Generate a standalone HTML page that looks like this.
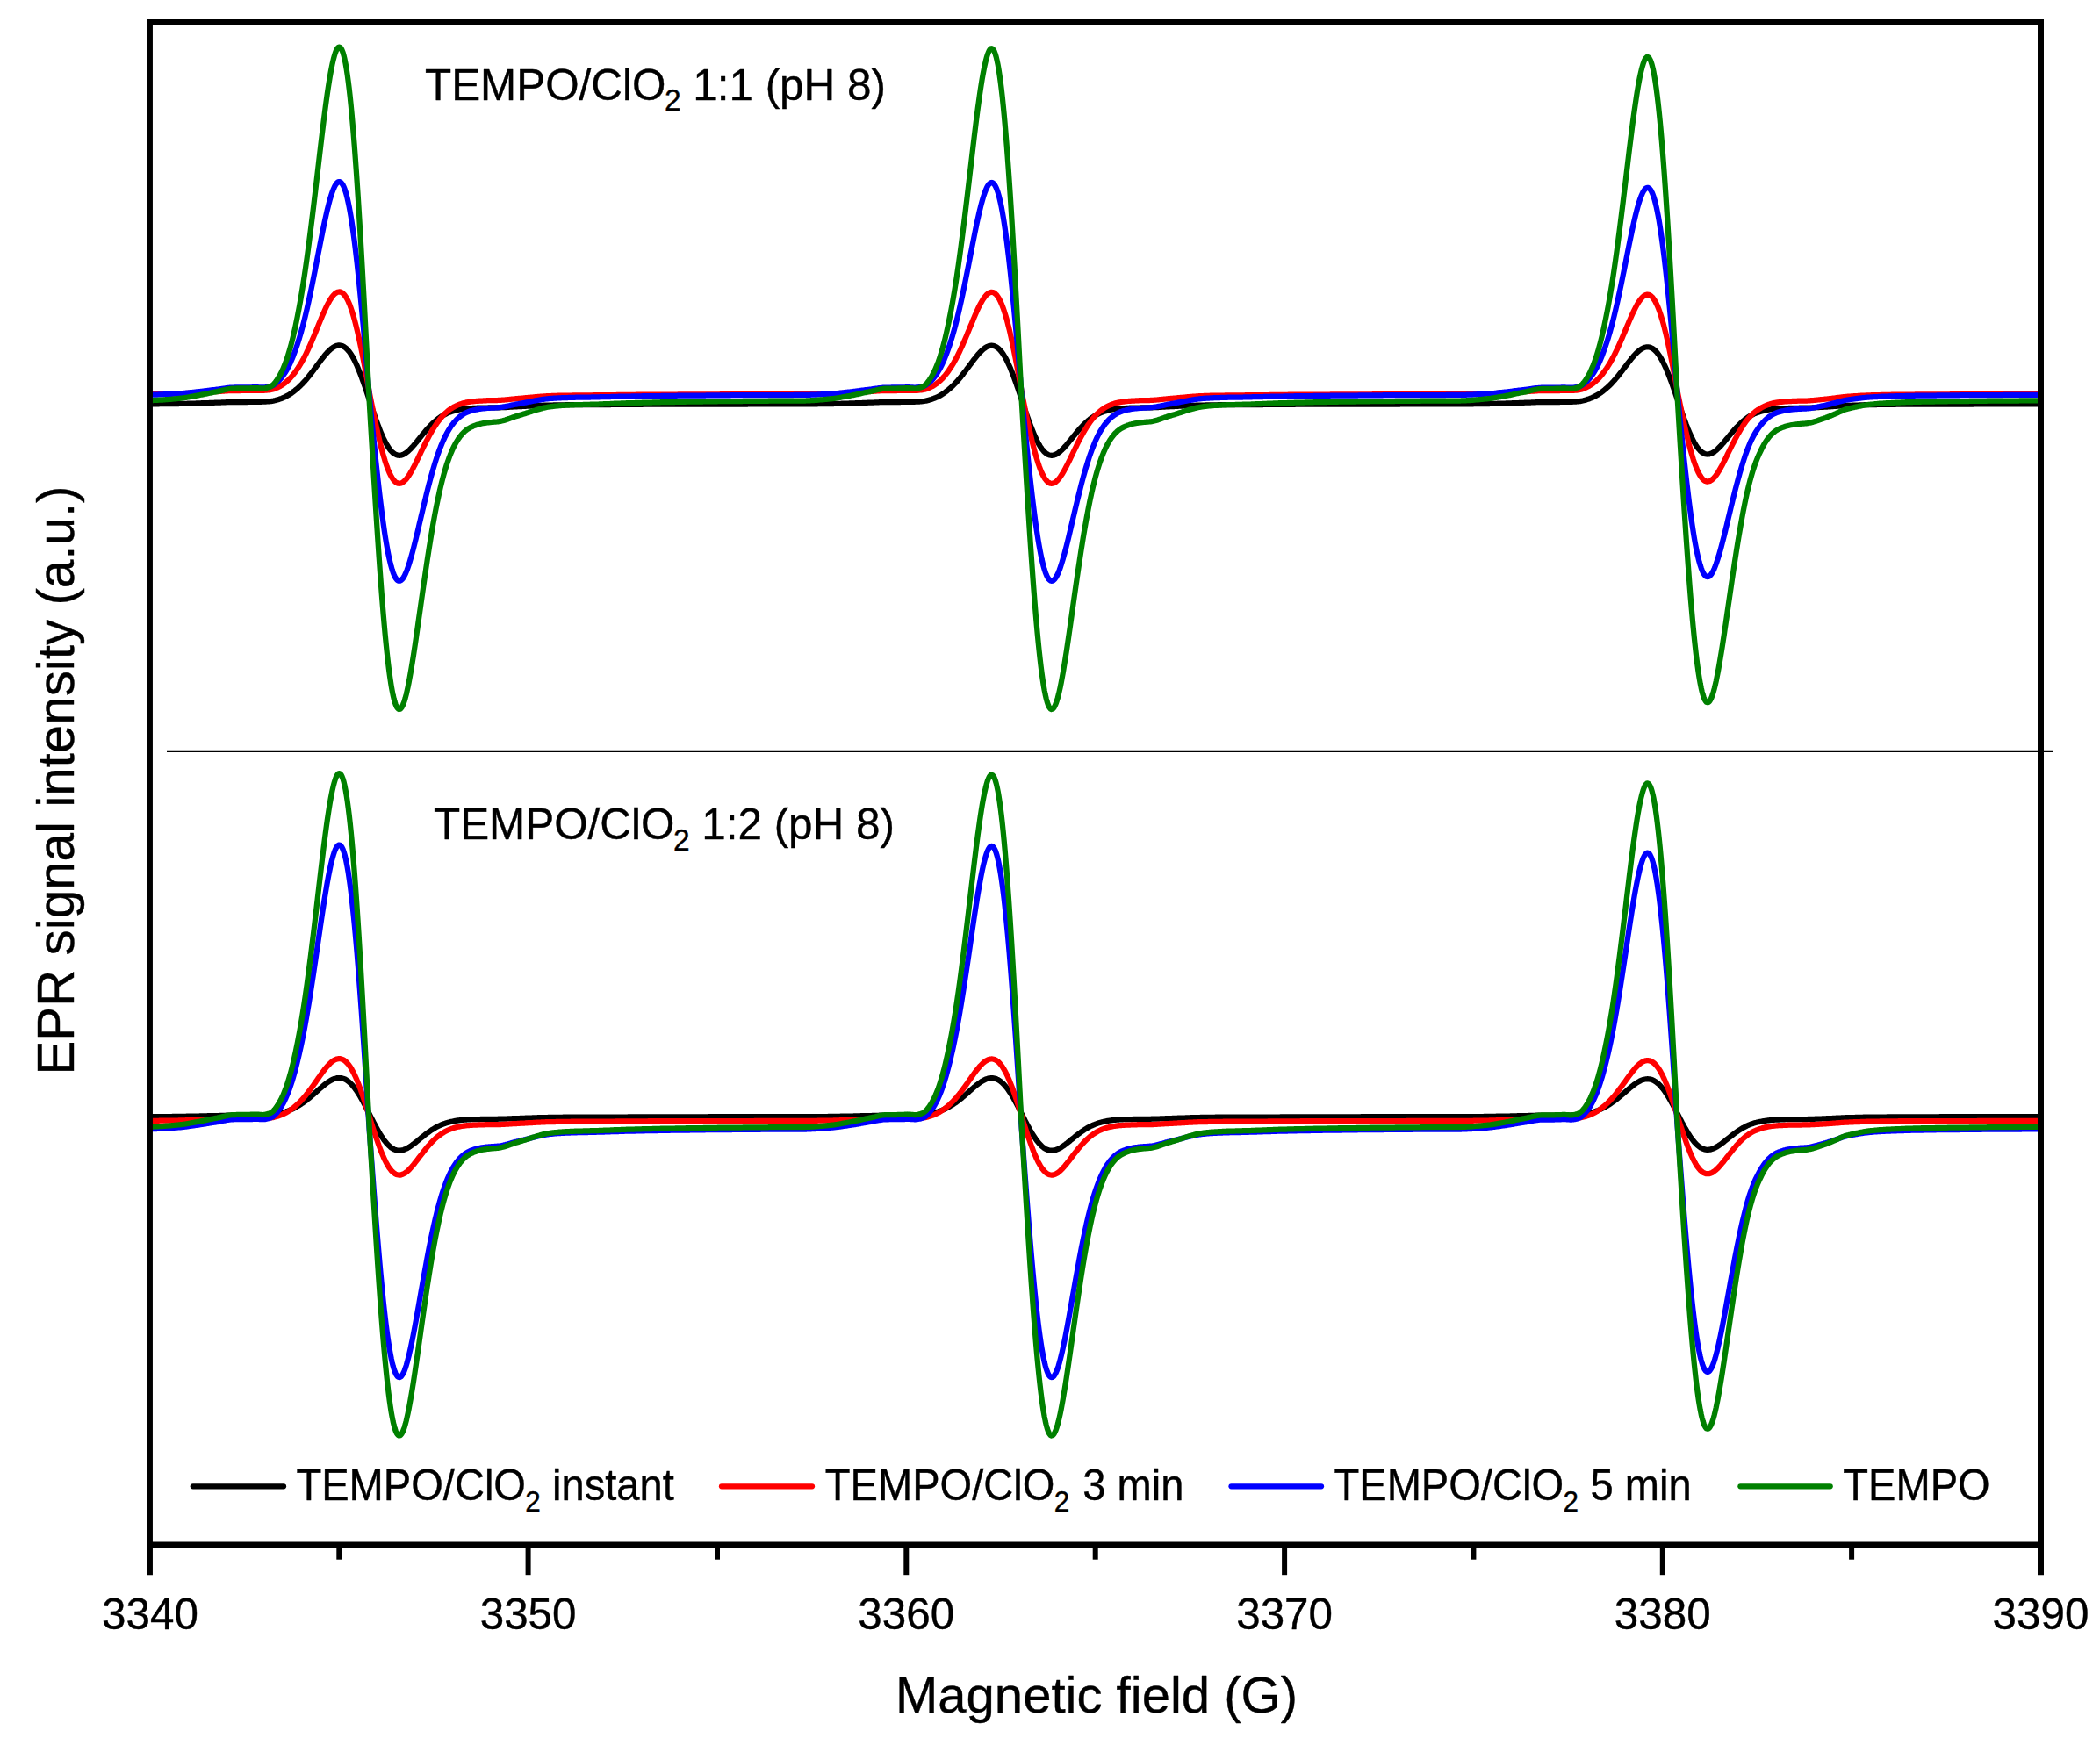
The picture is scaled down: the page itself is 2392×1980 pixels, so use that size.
<!DOCTYPE html>
<html><head><meta charset="utf-8"><title>EPR</title>
<style>html,body{margin:0;padding:0;background:#fff}svg{display:block}</style></head>
<body><svg width="2392" height="1980" viewBox="0 0 2392 1980">
<rect width="2392" height="1980" fill="#fff"/>
<g fill="none" stroke-linejoin="round" stroke-linecap="butt" stroke-width="6.25">
<path d="M170.7,460.3 L171.7,460.3 L172.7,460.3 L173.7,460.3 L174.7,460.3 L175.7,460.3 L176.7,460.3 L177.7,460.3 L178.7,460.3 L179.7,460.3 L180.7,460.3 L181.7,460.2 L182.7,460.2 L183.7,460.2 L184.7,460.2 L185.7,460.2 L186.7,460.2 L187.7,460.2 L188.7,460.2 L189.7,460.2 L190.7,460.1 L191.7,460.1 L192.7,460.1 L193.7,460.1 L194.7,460.1 L195.7,460.1 L196.7,460.1 L197.7,460.0 L198.7,460.0 L199.7,460.0 L200.7,460.0 L201.7,460.0 L202.7,460.0 L203.7,460.0 L204.7,459.9 L205.7,459.9 L206.7,459.9 L207.7,459.9 L208.7,459.9 L209.7,459.8 L210.7,459.8 L211.7,459.8 L212.7,459.8 L213.7,459.7 L214.7,459.7 L215.7,459.7 L216.7,459.6 L217.7,459.6 L218.7,459.6 L219.7,459.5 L220.7,459.5 L221.7,459.5 L222.7,459.5 L223.7,459.4 L224.7,459.4 L225.7,459.4 L226.7,459.3 L227.7,459.3 L228.7,459.3 L229.7,459.2 L230.7,459.2 L231.7,459.2 L232.7,459.1 L233.7,459.1 L234.7,459.1 L235.7,459.0 L236.7,459.0 L237.7,459.0 L238.7,458.9 L239.7,458.9 L240.7,458.9 L241.7,458.8 L242.7,458.8 L243.7,458.8 L244.7,458.7 L245.7,458.7 L246.7,458.7 L247.7,458.6 L248.7,458.6 L249.7,458.6 L250.7,458.5 L251.7,458.5 L252.7,458.4 L253.7,458.4 L254.7,458.4 L255.7,458.3 L256.7,458.3 L257.7,458.2 L258.7,458.2 L259.7,458.2 L260.7,458.1 L261.7,458.1 L262.7,458.1 L263.7,458.1 L264.7,458.1 L265.7,458.0 L266.7,458.0 L267.7,458.0 L268.7,458.0 L269.7,458.0 L270.7,458.0 L271.7,458.0 L272.7,458.0 L273.7,458.0 L274.7,458.0 L275.7,458.0 L276.7,458.0 L277.7,458.0 L278.7,458.0 L279.7,458.0 L280.7,458.0 L281.7,458.0 L282.7,457.9 L283.7,457.9 L284.7,457.9 L285.7,457.9 L286.7,457.9 L287.7,457.9 L288.7,457.8 L289.7,457.8 L290.7,457.8 L291.7,457.8 L292.7,457.8 L293.7,457.8 L294.7,457.8 L295.7,457.8 L296.7,457.8 L297.7,457.8 L298.7,457.7 L299.7,457.7 L300.7,457.7 L301.7,457.6 L302.7,457.6 L303.7,457.5 L304.7,457.4 L305.7,457.4 L306.7,457.3 L307.7,457.2 L308.7,457.1 L309.7,456.9 L310.7,456.8 L311.7,456.6 L312.7,456.3 L313.7,456.1 L314.7,455.8 L315.7,455.5 L316.7,455.2 L317.7,454.9 L318.7,454.6 L319.7,454.2 L320.7,453.9 L321.7,453.5 L322.7,453.0 L323.7,452.6 L324.7,452.1 L325.7,451.6 L326.7,451.1 L327.7,450.5 L328.7,450.0 L329.7,449.4 L330.7,448.7 L331.7,448.1 L332.7,447.4 L333.7,446.6 L334.7,445.9 L335.7,445.1 L336.7,444.3 L337.7,443.4 L338.7,442.6 L339.7,441.7 L340.7,440.8 L341.7,439.8 L342.7,438.9 L343.7,437.9 L344.7,436.8 L345.7,435.8 L346.7,434.7 L347.7,433.6 L348.7,432.4 L349.7,431.2 L350.7,430.0 L351.7,428.8 L352.7,427.5 L353.7,426.2 L354.7,425.0 L355.7,423.6 L356.7,422.3 L357.7,421.0 L358.7,419.6 L359.7,418.3 L360.7,416.9 L361.7,415.6 L362.7,414.2 L363.7,412.9 L364.7,411.5 L365.7,410.2 L366.7,408.9 L367.7,407.6 L368.7,406.4 L369.7,405.1 L370.7,403.9 L371.7,402.8 L372.7,401.7 L373.7,400.6 L374.7,399.6 L375.7,398.7 L376.7,397.8 L377.7,397.0 L378.7,396.3 L379.7,395.6 L380.7,395.0 L381.7,394.5 L382.7,394.1 L383.7,393.8 L384.7,393.6 L385.7,393.4 L386.7,393.4 L387.7,393.5 L388.7,393.7 L389.7,394.0 L390.7,394.4 L391.7,395.0 L392.7,395.6 L393.7,396.4 L394.7,397.2 L395.7,398.2 L396.7,399.4 L397.7,400.6 L398.7,401.9 L399.7,403.4 L400.7,405.0 L401.7,406.7 L402.7,408.5 L403.7,410.4 L404.7,412.5 L405.7,414.6 L406.7,416.8 L407.7,419.2 L408.7,421.6 L409.7,424.1 L410.7,426.7 L411.7,429.3 L412.7,432.1 L413.7,434.8 L414.7,437.7 L415.7,440.6 L416.7,443.6 L417.7,446.5 L418.7,449.6 L419.7,452.6 L420.7,455.7 L421.7,458.8 L422.7,461.8 L423.7,464.7 L424.7,467.7 L425.7,470.6 L426.7,473.5 L427.7,476.3 L428.7,479.2 L429.7,481.9 L430.7,484.6 L431.7,487.2 L432.7,489.8 L433.7,492.3 L434.7,494.7 L435.7,497.0 L436.7,499.2 L437.7,501.3 L438.7,503.2 L439.7,505.1 L440.7,506.9 L441.7,508.5 L442.7,510.1 L443.7,511.5 L444.7,512.8 L445.7,513.9 L446.7,515.0 L447.7,515.9 L448.7,516.6 L449.7,517.3 L450.7,517.8 L451.7,518.3 L452.7,518.6 L453.7,518.7 L454.7,518.8 L455.7,518.8 L456.7,518.6 L457.7,518.4 L458.7,518.0 L459.7,517.6 L460.7,517.0 L461.7,516.4 L462.7,515.7 L463.7,515.0 L464.7,514.1 L465.7,513.2 L466.7,512.3 L467.7,511.3 L468.7,510.2 L469.7,509.1 L470.7,508.0 L471.7,506.8 L472.7,505.7 L473.7,504.4 L474.7,503.2 L475.7,502.0 L476.7,500.7 L477.7,499.5 L478.7,498.2 L479.7,497.0 L480.7,495.8 L481.7,494.6 L482.7,493.4 L483.7,492.2 L484.7,491.0 L485.7,489.8 L486.7,488.7 L487.7,487.6 L488.7,486.5 L489.7,485.4 L490.7,484.4 L491.7,483.4 L492.7,482.4 L493.7,481.5 L494.7,480.6 L495.7,479.7 L496.7,478.9 L497.7,478.0 L498.7,477.3 L499.7,476.5 L500.7,475.8 L501.7,475.1 L502.7,474.4 L503.7,473.8 L504.7,473.2 L505.7,472.7 L506.7,472.1 L507.7,471.6 L508.7,471.1 L509.7,470.7 L510.7,470.2 L511.7,469.8 L512.7,469.5 L513.7,469.1 L514.7,468.8 L515.7,468.4 L516.7,468.1 L517.7,467.9 L518.7,467.6 L519.7,467.3 L520.7,467.1 L521.7,466.9 L522.7,466.7 L523.7,466.5 L524.7,466.3 L525.7,466.2 L526.7,466.0 L527.7,465.9 L528.7,465.7 L529.7,465.6 L530.7,465.5 L531.7,465.4 L532.7,465.3 L533.7,465.3 L534.7,465.2 L535.7,465.1 L536.7,465.1 L537.7,465.0 L538.7,464.9 L539.7,464.9 L540.7,464.9 L541.7,464.8 L542.7,464.8 L543.7,464.7 L544.7,464.7 L545.7,464.7 L546.7,464.6 L547.7,464.6 L548.7,464.6 L549.7,464.6 L550.7,464.5 L551.7,464.5 L552.7,464.5 L553.7,464.5 L554.7,464.5 L555.7,464.5 L556.7,464.4 L557.7,464.4 L558.7,464.4 L559.7,464.4 L560.7,464.4 L561.7,464.4 L562.7,464.4 L563.7,464.4 L564.7,464.4 L565.7,464.3 L566.7,464.3 L567.7,464.3 L568.7,464.3 L569.7,464.3 L570.7,464.2 L571.7,464.2 L572.7,464.2 L573.7,464.1 L574.7,464.1 L575.7,464.0 L576.7,464.0 L577.7,463.9 L578.7,463.8 L579.7,463.8 L580.7,463.7 L581.7,463.7 L582.7,463.6 L583.7,463.6 L584.7,463.5 L585.7,463.4 L586.7,463.4 L587.7,463.3 L588.7,463.3 L589.7,463.2 L590.7,463.2 L591.7,463.1 L592.7,463.1 L593.7,463.0 L594.7,463.0 L595.7,462.9 L596.7,462.9 L597.7,462.8 L598.7,462.8 L599.7,462.7 L600.7,462.7 L601.7,462.6 L602.7,462.6 L603.7,462.5 L604.7,462.5 L605.7,462.4 L606.7,462.3 L607.7,462.3 L608.7,462.2 L609.7,462.2 L610.7,462.1 L611.7,462.1 L612.7,462.0 L613.7,462.0 L614.7,461.9 L615.7,461.9 L616.7,461.9 L617.7,461.8 L618.7,461.8 L619.7,461.7 L620.7,461.7 L621.7,461.7 L622.7,461.6 L623.7,461.6 L624.7,461.6 L625.7,461.5 L626.7,461.5 L627.7,461.5 L628.7,461.5 L629.7,461.5 L630.7,461.4 L631.7,461.4 L632.7,461.4 L633.7,461.4 L634.7,461.4 L635.7,461.3 L636.7,461.3 L637.7,461.3 L638.7,461.3 L639.7,461.3 L640.7,461.3 L641.7,461.3 L642.7,461.3 L643.7,461.3 L644.7,461.2 L645.7,461.2 L646.7,461.2 L647.7,461.2 L648.7,461.2 L649.7,461.2 L650.7,461.2 L651.7,461.2 L652.7,461.2 L653.7,461.2 L654.7,461.2 L655.7,461.2 L656.7,461.2 L657.7,461.2 L658.7,461.1 L659.7,461.1 L660.7,461.1 L661.7,461.1 L662.7,461.1 L663.7,461.1 L664.7,461.1 L665.7,461.1 L666.7,461.1 L667.7,461.1 L668.7,461.1 L669.7,461.1 L670.7,461.1 L671.7,461.1 L672.7,461.1 L673.7,461.1 L674.7,461.1 L675.7,461.1 L676.7,461.1 L677.7,461.1 L678.7,461.1 L679.7,461.1 L680.7,461.0 L681.7,461.0 L682.7,461.0 L683.7,461.0 L684.7,461.0 L685.7,461.0 L686.7,461.0 L687.7,461.0 L688.7,461.0 L689.7,461.0 L690.7,461.0 L691.7,461.0 L692.7,461.0 L693.7,461.0 L694.7,461.0 L695.7,461.0 L696.7,460.9 L697.7,460.9 L698.7,460.9 L699.7,460.9 L700.7,460.9 L701.7,460.9 L702.7,460.9 L703.7,460.9 L704.7,460.9 L705.7,460.9 L706.7,460.9 L707.7,460.9 L708.7,460.9 L709.7,460.9 L710.7,460.9 L711.7,460.8 L712.7,460.8 L713.7,460.8 L714.7,460.8 L715.7,460.8 L716.7,460.8 L717.7,460.8 L718.7,460.8 L719.7,460.8 L720.7,460.8 L721.7,460.8 L722.7,460.8 L723.7,460.8 L724.7,460.8 L725.7,460.8 L726.7,460.8 L727.7,460.8 L728.7,460.8 L729.7,460.8 L730.7,460.8 L731.7,460.8 L732.7,460.7 L733.7,460.7 L734.7,460.7 L735.7,460.7 L736.7,460.7 L737.7,460.7 L738.7,460.7 L739.7,460.7 L740.7,460.7 L741.7,460.7 L742.7,460.7 L743.7,460.7 L744.7,460.7 L745.7,460.7 L746.7,460.7 L747.7,460.7 L748.7,460.7 L749.7,460.7 L750.7,460.7 L751.7,460.7 L752.7,460.7 L753.7,460.7 L754.7,460.7 L755.7,460.7 L756.7,460.7 L757.7,460.7 L758.7,460.7 L759.7,460.7 L760.7,460.6 L761.7,460.6 L762.7,460.6 L763.7,460.6 L764.7,460.6 L765.7,460.6 L766.7,460.6 L767.7,460.6 L768.7,460.6 L769.7,460.6 L770.7,460.6 L771.7,460.6 L772.7,460.6 L773.7,460.6 L774.7,460.6 L775.7,460.6 L776.7,460.6 L777.7,460.6 L778.7,460.6 L779.7,460.6 L780.7,460.6 L781.7,460.6 L782.7,460.6 L783.7,460.6 L784.7,460.6 L785.7,460.6 L786.7,460.6 L787.7,460.6 L788.7,460.6 L789.7,460.6 L790.7,460.6 L791.7,460.6 L792.7,460.6 L793.7,460.6 L794.7,460.6 L795.7,460.6 L796.7,460.6 L797.7,460.5 L798.7,460.5 L799.7,460.5 L800.7,460.5 L801.7,460.5 L802.7,460.5 L803.7,460.5 L804.7,460.5 L805.7,460.5 L806.7,460.5 L807.7,460.5 L808.7,460.5 L809.7,460.5 L810.7,460.5 L811.7,460.5 L812.7,460.5 L813.7,460.5 L814.7,460.5 L815.7,460.5 L816.7,460.5 L817.7,460.5 L818.7,460.5 L819.7,460.5 L820.7,460.5 L821.7,460.5 L822.7,460.5 L823.7,460.5 L824.7,460.5 L825.7,460.5 L826.7,460.5 L827.7,460.5 L828.7,460.5 L829.7,460.5 L830.7,460.5 L831.7,460.5 L832.7,460.5 L833.7,460.5 L834.7,460.5 L835.7,460.5 L836.7,460.5 L837.7,460.5 L838.7,460.5 L839.7,460.5 L840.7,460.5 L841.7,460.5 L842.7,460.5 L843.7,460.5 L844.7,460.5 L845.7,460.5 L846.7,460.5 L847.7,460.5 L848.7,460.5 L849.7,460.5 L850.7,460.5 L851.7,460.5 L852.7,460.4 L853.7,460.4 L854.7,460.4 L855.7,460.4 L856.7,460.4 L857.7,460.4 L858.7,460.4 L859.7,460.4 L860.7,460.4 L861.7,460.4 L862.7,460.4 L863.7,460.4 L864.7,460.4 L865.7,460.4 L866.7,460.4 L867.7,460.4 L868.7,460.4 L869.7,460.4 L870.7,460.4 L871.7,460.4 L872.7,460.4 L873.7,460.4 L874.7,460.4 L875.7,460.4 L876.7,460.4 L877.7,460.4 L878.7,460.4 L879.7,460.4 L880.7,460.4 L881.7,460.4 L882.7,460.4 L883.7,460.4 L884.7,460.4 L885.7,460.4 L886.7,460.4 L887.7,460.4 L888.7,460.4 L889.7,460.4 L890.7,460.4 L891.7,460.4 L892.7,460.4 L893.7,460.4 L894.7,460.4 L895.7,460.4 L896.7,460.4 L897.7,460.4 L898.7,460.4 L899.7,460.4 L900.7,460.4 L901.7,460.4 L902.7,460.4 L903.7,460.4 L904.7,460.4 L905.7,460.4 L906.7,460.4 L907.7,460.4 L908.7,460.4 L909.7,460.4 L910.7,460.4 L911.7,460.4 L912.7,460.4 L913.7,460.4 L914.7,460.4 L915.7,460.4 L916.7,460.4 L917.7,460.4 L918.7,460.4 L919.7,460.4 L920.7,460.4 L921.7,460.4 L922.7,460.3 L923.7,460.3 L924.7,460.3 L925.7,460.3 L926.7,460.3 L927.7,460.3 L928.7,460.3 L929.7,460.3 L930.7,460.3 L931.7,460.2 L932.7,460.2 L933.7,460.2 L934.7,460.2 L935.7,460.2 L936.7,460.2 L937.7,460.2 L938.7,460.1 L939.7,460.1 L940.7,460.1 L941.7,460.1 L942.7,460.1 L943.7,460.1 L944.7,460.1 L945.7,460.0 L946.7,460.0 L947.7,460.0 L948.7,460.0 L949.7,460.0 L950.7,459.9 L951.7,459.9 L952.7,459.9 L953.7,459.9 L954.7,459.8 L955.7,459.8 L956.7,459.8 L957.7,459.8 L958.7,459.7 L959.7,459.7 L960.7,459.7 L961.7,459.6 L962.7,459.6 L963.7,459.6 L964.7,459.5 L965.7,459.5 L966.7,459.5 L967.7,459.4 L968.7,459.4 L969.7,459.4 L970.7,459.4 L971.7,459.3 L972.7,459.3 L973.7,459.3 L974.7,459.2 L975.7,459.2 L976.7,459.2 L977.7,459.1 L978.7,459.1 L979.7,459.1 L980.7,459.0 L981.7,459.0 L982.7,458.9 L983.7,458.9 L984.7,458.9 L985.7,458.8 L986.7,458.8 L987.7,458.8 L988.7,458.7 L989.7,458.7 L990.7,458.7 L991.7,458.6 L992.7,458.6 L993.7,458.5 L994.7,458.5 L995.7,458.5 L996.7,458.4 L997.7,458.4 L998.7,458.3 L999.7,458.3 L1000.7,458.3 L1001.7,458.2 L1002.7,458.2 L1003.7,458.2 L1004.7,458.1 L1005.7,458.1 L1006.7,458.1 L1007.7,458.1 L1008.7,458.1 L1009.7,458.0 L1010.7,458.0 L1011.7,458.0 L1012.7,458.0 L1013.7,458.0 L1014.7,458.0 L1015.7,458.0 L1016.7,458.0 L1017.7,458.0 L1018.7,458.0 L1019.7,458.0 L1020.7,458.0 L1021.7,458.0 L1022.7,458.0 L1023.7,458.0 L1024.7,458.0 L1025.7,458.0 L1026.7,457.9 L1027.7,457.9 L1028.7,457.9 L1029.7,457.9 L1030.7,457.9 L1031.7,457.9 L1032.7,457.8 L1033.7,457.8 L1034.7,457.8 L1035.7,457.8 L1036.7,457.8 L1037.7,457.8 L1038.7,457.8 L1039.7,457.8 L1040.7,457.8 L1041.7,457.8 L1042.7,457.7 L1043.7,457.7 L1044.7,457.7 L1045.7,457.6 L1046.7,457.5 L1047.7,457.5 L1048.7,457.4 L1049.7,457.3 L1050.7,457.2 L1051.7,457.1 L1052.7,457.0 L1053.7,456.8 L1054.7,456.6 L1055.7,456.4 L1056.7,456.1 L1057.7,455.9 L1058.7,455.6 L1059.7,455.3 L1060.7,455.0 L1061.7,454.6 L1062.7,454.3 L1063.7,453.9 L1064.7,453.5 L1065.7,453.1 L1066.7,452.7 L1067.7,452.2 L1068.7,451.7 L1069.7,451.2 L1070.7,450.6 L1071.7,450.1 L1072.7,449.5 L1073.7,448.8 L1074.7,448.2 L1075.7,447.5 L1076.7,446.8 L1077.7,446.0 L1078.7,445.2 L1079.7,444.4 L1080.7,443.6 L1081.7,442.7 L1082.7,441.9 L1083.7,441.0 L1084.7,440.0 L1085.7,439.1 L1086.7,438.1 L1087.7,437.0 L1088.7,436.0 L1089.7,434.9 L1090.7,433.8 L1091.7,432.6 L1092.7,431.5 L1093.7,430.3 L1094.7,429.0 L1095.7,427.8 L1096.7,426.5 L1097.7,425.2 L1098.7,423.9 L1099.7,422.6 L1100.7,421.3 L1101.7,419.9 L1102.7,418.6 L1103.7,417.3 L1104.7,415.9 L1105.7,414.6 L1106.7,413.2 L1107.7,411.9 L1108.7,410.5 L1109.7,409.2 L1110.7,408.0 L1111.7,406.7 L1112.7,405.5 L1113.7,404.3 L1114.7,403.1 L1115.7,402.0 L1116.7,401.0 L1117.7,400.0 L1118.7,399.0 L1119.7,398.1 L1120.7,397.3 L1121.7,396.6 L1122.7,395.9 L1123.7,395.3 L1124.7,394.8 L1125.7,394.4 L1126.7,394.1 L1127.7,393.9 L1128.7,393.7 L1129.7,393.7 L1130.7,393.8 L1131.7,393.9 L1132.7,394.2 L1133.7,394.6 L1134.7,395.2 L1135.7,395.8 L1136.7,396.5 L1137.7,397.4 L1138.7,398.4 L1139.7,399.5 L1140.7,400.7 L1141.7,402.0 L1142.7,403.5 L1143.7,405.1 L1144.7,406.7 L1145.7,408.5 L1146.7,410.4 L1147.7,412.5 L1148.7,414.6 L1149.7,416.8 L1150.7,419.1 L1151.7,421.5 L1152.7,424.0 L1153.7,426.5 L1154.7,429.2 L1155.7,431.9 L1156.7,434.7 L1157.7,437.5 L1158.7,440.4 L1159.7,443.3 L1160.7,446.3 L1161.7,449.3 L1162.7,452.3 L1163.7,455.4 L1164.7,458.5 L1165.7,461.5 L1166.7,464.4 L1167.7,467.4 L1168.7,470.3 L1169.7,473.2 L1170.7,476.1 L1171.7,478.9 L1172.7,481.6 L1173.7,484.3 L1174.7,487.0 L1175.7,489.5 L1176.7,492.0 L1177.7,494.4 L1178.7,496.7 L1179.7,498.9 L1180.7,501.1 L1181.7,503.1 L1182.7,504.9 L1183.7,506.7 L1184.7,508.4 L1185.7,509.9 L1186.7,511.3 L1187.7,512.6 L1188.7,513.8 L1189.7,514.9 L1190.7,515.8 L1191.7,516.6 L1192.7,517.2 L1193.7,517.8 L1194.7,518.2 L1195.7,518.5 L1196.7,518.7 L1197.7,518.8 L1198.7,518.8 L1199.7,518.6 L1200.7,518.4 L1201.7,518.1 L1202.7,517.6 L1203.7,517.1 L1204.7,516.5 L1205.7,515.8 L1206.7,515.0 L1207.7,514.2 L1208.7,513.3 L1209.7,512.4 L1210.7,511.4 L1211.7,510.3 L1212.7,509.2 L1213.7,508.1 L1214.7,507.0 L1215.7,505.8 L1216.7,504.6 L1217.7,503.3 L1218.7,502.1 L1219.7,500.9 L1220.7,499.6 L1221.7,498.4 L1222.7,497.1 L1223.7,495.9 L1224.7,494.7 L1225.7,493.5 L1226.7,492.3 L1227.7,491.1 L1228.7,489.9 L1229.7,488.8 L1230.7,487.7 L1231.7,486.6 L1232.7,485.5 L1233.7,484.5 L1234.7,483.5 L1235.7,482.5 L1236.7,481.6 L1237.7,480.7 L1238.7,479.8 L1239.7,478.9 L1240.7,478.1 L1241.7,477.3 L1242.7,476.6 L1243.7,475.9 L1244.7,475.2 L1245.7,474.5 L1246.7,473.9 L1247.7,473.3 L1248.7,472.7 L1249.7,472.2 L1250.7,471.7 L1251.7,471.2 L1252.7,470.7 L1253.7,470.3 L1254.7,469.9 L1255.7,469.5 L1256.7,469.1 L1257.7,468.8 L1258.7,468.5 L1259.7,468.2 L1260.7,467.9 L1261.7,467.6 L1262.7,467.4 L1263.7,467.1 L1264.7,466.9 L1265.7,466.7 L1266.7,466.5 L1267.7,466.3 L1268.7,466.2 L1269.7,466.0 L1270.7,465.9 L1271.7,465.8 L1272.7,465.6 L1273.7,465.5 L1274.7,465.4 L1275.7,465.3 L1276.7,465.3 L1277.7,465.2 L1278.7,465.1 L1279.7,465.1 L1280.7,465.0 L1281.7,465.0 L1282.7,464.9 L1283.7,464.9 L1284.7,464.8 L1285.7,464.8 L1286.7,464.7 L1287.7,464.7 L1288.7,464.7 L1289.7,464.6 L1290.7,464.6 L1291.7,464.6 L1292.7,464.6 L1293.7,464.5 L1294.7,464.5 L1295.7,464.5 L1296.7,464.5 L1297.7,464.5 L1298.7,464.5 L1299.7,464.4 L1300.7,464.4 L1301.7,464.4 L1302.7,464.4 L1303.7,464.4 L1304.7,464.4 L1305.7,464.4 L1306.7,464.4 L1307.7,464.4 L1308.7,464.3 L1309.7,464.3 L1310.7,464.3 L1311.7,464.3 L1312.7,464.3 L1313.7,464.2 L1314.7,464.2 L1315.7,464.2 L1316.7,464.1 L1317.7,464.1 L1318.7,464.0 L1319.7,464.0 L1320.7,463.9 L1321.7,463.9 L1322.7,463.8 L1323.7,463.7 L1324.7,463.7 L1325.7,463.6 L1326.7,463.6 L1327.7,463.5 L1328.7,463.4 L1329.7,463.4 L1330.7,463.3 L1331.7,463.3 L1332.7,463.2 L1333.7,463.2 L1334.7,463.1 L1335.7,463.1 L1336.7,463.0 L1337.7,463.0 L1338.7,462.9 L1339.7,462.9 L1340.7,462.8 L1341.7,462.8 L1342.7,462.7 L1343.7,462.7 L1344.7,462.6 L1345.7,462.6 L1346.7,462.5 L1347.7,462.5 L1348.7,462.4 L1349.7,462.4 L1350.7,462.3 L1351.7,462.2 L1352.7,462.2 L1353.7,462.1 L1354.7,462.1 L1355.7,462.0 L1356.7,462.0 L1357.7,462.0 L1358.7,461.9 L1359.7,461.9 L1360.7,461.8 L1361.7,461.8 L1362.7,461.7 L1363.7,461.7 L1364.7,461.7 L1365.7,461.6 L1366.7,461.6 L1367.7,461.6 L1368.7,461.5 L1369.7,461.5 L1370.7,461.5 L1371.7,461.5 L1372.7,461.5 L1373.7,461.4 L1374.7,461.4 L1375.7,461.4 L1376.7,461.4 L1377.7,461.4 L1378.7,461.3 L1379.7,461.3 L1380.7,461.3 L1381.7,461.3 L1382.7,461.3 L1383.7,461.3 L1384.7,461.3 L1385.7,461.3 L1386.7,461.3 L1387.7,461.2 L1388.7,461.2 L1389.7,461.2 L1390.7,461.2 L1391.7,461.2 L1392.7,461.2 L1393.7,461.2 L1394.7,461.2 L1395.7,461.2 L1396.7,461.2 L1397.7,461.2 L1398.7,461.2 L1399.7,461.2 L1400.7,461.2 L1401.7,461.1 L1402.7,461.1 L1403.7,461.1 L1404.7,461.1 L1405.7,461.1 L1406.7,461.1 L1407.7,461.1 L1408.7,461.1 L1409.7,461.1 L1410.7,461.1 L1411.7,461.1 L1412.7,461.1 L1413.7,461.1 L1414.7,461.1 L1415.7,461.1 L1416.7,461.1 L1417.7,461.1 L1418.7,461.1 L1419.7,461.1 L1420.7,461.1 L1421.7,461.1 L1422.7,461.1 L1423.7,461.0 L1424.7,461.0 L1425.7,461.0 L1426.7,461.0 L1427.7,461.0 L1428.7,461.0 L1429.7,461.0 L1430.7,461.0 L1431.7,461.0 L1432.7,461.0 L1433.7,461.0 L1434.7,461.0 L1435.7,461.0 L1436.7,461.0 L1437.7,461.0 L1438.7,461.0 L1439.7,460.9 L1440.7,460.9 L1441.7,460.9 L1442.7,460.9 L1443.7,460.9 L1444.7,460.9 L1445.7,460.9 L1446.7,460.9 L1447.7,460.9 L1448.7,460.9 L1449.7,460.9 L1450.7,460.9 L1451.7,460.9 L1452.7,460.9 L1453.7,460.9 L1454.7,460.8 L1455.7,460.8 L1456.7,460.8 L1457.7,460.8 L1458.7,460.8 L1459.7,460.8 L1460.7,460.8 L1461.7,460.8 L1462.7,460.8 L1463.7,460.8 L1464.7,460.8 L1465.7,460.8 L1466.7,460.8 L1467.7,460.8 L1468.7,460.8 L1469.7,460.8 L1470.7,460.8 L1471.7,460.8 L1472.7,460.8 L1473.7,460.8 L1474.7,460.8 L1475.7,460.7 L1476.7,460.7 L1477.7,460.7 L1478.7,460.7 L1479.7,460.7 L1480.7,460.7 L1481.7,460.7 L1482.7,460.7 L1483.7,460.7 L1484.7,460.7 L1485.7,460.7 L1486.7,460.7 L1487.7,460.7 L1488.7,460.7 L1489.7,460.7 L1490.7,460.7 L1491.7,460.7 L1492.7,460.7 L1493.7,460.7 L1494.7,460.7 L1495.7,460.7 L1496.7,460.7 L1497.7,460.7 L1498.7,460.7 L1499.7,460.7 L1500.7,460.7 L1501.7,460.7 L1502.7,460.7 L1503.7,460.6 L1504.7,460.6 L1505.7,460.6 L1506.7,460.6 L1507.7,460.6 L1508.7,460.6 L1509.7,460.6 L1510.7,460.6 L1511.7,460.6 L1512.7,460.6 L1513.7,460.6 L1514.7,460.6 L1515.7,460.6 L1516.7,460.6 L1517.7,460.6 L1518.7,460.6 L1519.7,460.6 L1520.7,460.6 L1521.7,460.6 L1522.7,460.6 L1523.7,460.6 L1524.7,460.6 L1525.7,460.6 L1526.7,460.6 L1527.7,460.6 L1528.7,460.6 L1529.7,460.6 L1530.7,460.6 L1531.7,460.6 L1532.7,460.6 L1533.7,460.6 L1534.7,460.6 L1535.7,460.6 L1536.7,460.6 L1537.7,460.6 L1538.7,460.6 L1539.7,460.6 L1540.7,460.5 L1541.7,460.5 L1542.7,460.5 L1543.7,460.5 L1544.7,460.5 L1545.7,460.5 L1546.7,460.5 L1547.7,460.5 L1548.7,460.5 L1549.7,460.5 L1550.7,460.5 L1551.7,460.5 L1552.7,460.5 L1553.7,460.5 L1554.7,460.5 L1555.7,460.5 L1556.7,460.5 L1557.7,460.5 L1558.7,460.5 L1559.7,460.5 L1560.7,460.5 L1561.7,460.5 L1562.7,460.5 L1563.7,460.5 L1564.7,460.5 L1565.7,460.5 L1566.7,460.5 L1567.7,460.5 L1568.7,460.5 L1569.7,460.5 L1570.7,460.5 L1571.7,460.5 L1572.7,460.5 L1573.7,460.5 L1574.7,460.5 L1575.7,460.5 L1576.7,460.5 L1577.7,460.5 L1578.7,460.5 L1579.7,460.5 L1580.7,460.5 L1581.7,460.5 L1582.7,460.5 L1583.7,460.5 L1584.7,460.5 L1585.7,460.5 L1586.7,460.5 L1587.7,460.5 L1588.7,460.5 L1589.7,460.5 L1590.7,460.5 L1591.7,460.5 L1592.7,460.5 L1593.7,460.5 L1594.7,460.5 L1595.7,460.4 L1596.7,460.4 L1597.7,460.4 L1598.7,460.4 L1599.7,460.4 L1600.7,460.4 L1601.7,460.4 L1602.7,460.4 L1603.7,460.4 L1604.7,460.4 L1605.7,460.4 L1606.7,460.4 L1607.7,460.4 L1608.7,460.4 L1609.7,460.4 L1610.7,460.4 L1611.7,460.4 L1612.7,460.4 L1613.7,460.4 L1614.7,460.4 L1615.7,460.4 L1616.7,460.4 L1617.7,460.4 L1618.7,460.4 L1619.7,460.4 L1620.7,460.4 L1621.7,460.4 L1622.7,460.4 L1623.7,460.4 L1624.7,460.4 L1625.7,460.4 L1626.7,460.4 L1627.7,460.4 L1628.7,460.4 L1629.7,460.4 L1630.7,460.4 L1631.7,460.4 L1632.7,460.4 L1633.7,460.4 L1634.7,460.4 L1635.7,460.4 L1636.7,460.4 L1637.7,460.4 L1638.7,460.4 L1639.7,460.4 L1640.7,460.4 L1641.7,460.4 L1642.7,460.4 L1643.7,460.4 L1644.7,460.4 L1645.7,460.4 L1646.7,460.4 L1647.7,460.4 L1648.7,460.4 L1649.7,460.4 L1650.7,460.4 L1651.7,460.4 L1652.7,460.4 L1653.7,460.4 L1654.7,460.4 L1655.7,460.4 L1656.7,460.4 L1657.7,460.4 L1658.7,460.4 L1659.7,460.4 L1660.7,460.4 L1661.7,460.4 L1662.7,460.4 L1663.7,460.4 L1664.7,460.4 L1665.7,460.4 L1666.7,460.4 L1667.7,460.4 L1668.7,460.4 L1669.7,460.3 L1670.7,460.3 L1671.7,460.3 L1672.7,460.3 L1673.7,460.3 L1674.7,460.3 L1675.7,460.3 L1676.7,460.3 L1677.7,460.3 L1678.7,460.2 L1679.7,460.2 L1680.7,460.2 L1681.7,460.2 L1682.7,460.2 L1683.7,460.2 L1684.7,460.2 L1685.7,460.1 L1686.7,460.1 L1687.7,460.1 L1688.7,460.1 L1689.7,460.1 L1690.7,460.1 L1691.7,460.1 L1692.7,460.0 L1693.7,460.0 L1694.7,460.0 L1695.7,460.0 L1696.7,460.0 L1697.7,459.9 L1698.7,459.9 L1699.7,459.9 L1700.7,459.9 L1701.7,459.8 L1702.7,459.8 L1703.7,459.8 L1704.7,459.8 L1705.7,459.7 L1706.7,459.7 L1707.7,459.7 L1708.7,459.6 L1709.7,459.6 L1710.7,459.6 L1711.7,459.6 L1712.7,459.5 L1713.7,459.5 L1714.7,459.5 L1715.7,459.4 L1716.7,459.4 L1717.7,459.4 L1718.7,459.3 L1719.7,459.3 L1720.7,459.3 L1721.7,459.3 L1722.7,459.2 L1723.7,459.2 L1724.7,459.1 L1725.7,459.1 L1726.7,459.1 L1727.7,459.0 L1728.7,459.0 L1729.7,459.0 L1730.7,458.9 L1731.7,458.9 L1732.7,458.9 L1733.7,458.8 L1734.7,458.8 L1735.7,458.8 L1736.7,458.7 L1737.7,458.7 L1738.7,458.7 L1739.7,458.6 L1740.7,458.6 L1741.7,458.5 L1742.7,458.5 L1743.7,458.5 L1744.7,458.4 L1745.7,458.4 L1746.7,458.4 L1747.7,458.3 L1748.7,458.3 L1749.7,458.2 L1750.7,458.2 L1751.7,458.2 L1752.7,458.2 L1753.7,458.1 L1754.7,458.1 L1755.7,458.1 L1756.7,458.1 L1757.7,458.1 L1758.7,458.1 L1759.7,458.1 L1760.7,458.1 L1761.7,458.1 L1762.7,458.1 L1763.7,458.1 L1764.7,458.1 L1765.7,458.1 L1766.7,458.1 L1767.7,458.1 L1768.7,458.0 L1769.7,458.0 L1770.7,458.0 L1771.7,458.0 L1772.7,458.0 L1773.7,458.0 L1774.7,458.0 L1775.7,458.0 L1776.7,458.0 L1777.7,457.9 L1778.7,457.9 L1779.7,457.9 L1780.7,457.9 L1781.7,457.9 L1782.7,457.9 L1783.7,457.9 L1784.7,457.9 L1785.7,457.8 L1786.7,457.8 L1787.7,457.8 L1788.7,457.8 L1789.7,457.8 L1790.7,457.8 L1791.7,457.7 L1792.7,457.7 L1793.7,457.6 L1794.7,457.5 L1795.7,457.5 L1796.7,457.4 L1797.7,457.3 L1798.7,457.2 L1799.7,457.1 L1800.7,456.9 L1801.7,456.7 L1802.7,456.5 L1803.7,456.3 L1804.7,456.0 L1805.7,455.7 L1806.7,455.4 L1807.7,455.1 L1808.7,454.8 L1809.7,454.5 L1810.7,454.1 L1811.7,453.7 L1812.7,453.3 L1813.7,452.9 L1814.7,452.4 L1815.7,452.0 L1816.7,451.4 L1817.7,450.9 L1818.7,450.4 L1819.7,449.8 L1820.7,449.2 L1821.7,448.5 L1822.7,447.9 L1823.7,447.2 L1824.7,446.4 L1825.7,445.7 L1826.7,444.9 L1827.7,444.1 L1828.7,443.3 L1829.7,442.4 L1830.7,441.5 L1831.7,440.6 L1832.7,439.7 L1833.7,438.7 L1834.7,437.7 L1835.7,436.7 L1836.7,435.6 L1837.7,434.5 L1838.7,433.4 L1839.7,432.3 L1840.7,431.1 L1841.7,429.9 L1842.7,428.7 L1843.7,427.5 L1844.7,426.2 L1845.7,424.9 L1846.7,423.6 L1847.7,422.4 L1848.7,421.0 L1849.7,419.7 L1850.7,418.4 L1851.7,417.1 L1852.7,415.8 L1853.7,414.5 L1854.7,413.2 L1855.7,411.9 L1856.7,410.6 L1857.7,409.3 L1858.7,408.1 L1859.7,406.9 L1860.7,405.7 L1861.7,404.6 L1862.7,403.5 L1863.7,402.5 L1864.7,401.5 L1865.7,400.6 L1866.7,399.7 L1867.7,398.9 L1868.7,398.2 L1869.7,397.5 L1870.7,397.0 L1871.7,396.5 L1872.7,396.0 L1873.7,395.7 L1874.7,395.5 L1875.7,395.3 L1876.7,395.3 L1877.7,395.4 L1878.7,395.5 L1879.7,395.8 L1880.7,396.2 L1881.7,396.7 L1882.7,397.3 L1883.7,398.0 L1884.7,398.8 L1885.7,399.8 L1886.7,400.8 L1887.7,402.0 L1888.7,403.3 L1889.7,404.7 L1890.7,406.2 L1891.7,407.9 L1892.7,409.6 L1893.7,411.5 L1894.7,413.4 L1895.7,415.5 L1896.7,417.6 L1897.7,419.8 L1898.7,422.2 L1899.7,424.6 L1900.7,427.1 L1901.7,429.7 L1902.7,432.3 L1903.7,435.0 L1904.7,437.8 L1905.7,440.6 L1906.7,443.5 L1907.7,446.3 L1908.7,449.3 L1909.7,452.2 L1910.7,455.2 L1911.7,458.2 L1912.7,461.2 L1913.7,464.1 L1914.7,466.9 L1915.7,469.8 L1916.7,472.6 L1917.7,475.4 L1918.7,478.2 L1919.7,480.9 L1920.7,483.6 L1921.7,486.1 L1922.7,488.7 L1923.7,491.1 L1924.7,493.4 L1925.7,495.7 L1926.7,497.9 L1927.7,500.0 L1928.7,501.9 L1929.7,503.8 L1930.7,505.5 L1931.7,507.2 L1932.7,508.7 L1933.7,510.1 L1934.7,511.4 L1935.7,512.5 L1936.7,513.6 L1937.7,514.5 L1938.7,515.3 L1939.7,515.9 L1940.7,516.5 L1941.7,516.9 L1942.7,517.2 L1943.7,517.4 L1944.7,517.5 L1945.7,517.5 L1946.7,517.4 L1947.7,517.1 L1948.7,516.8 L1949.7,516.4 L1950.7,515.9 L1951.7,515.3 L1952.7,514.7 L1953.7,513.9 L1954.7,513.1 L1955.7,512.2 L1956.7,511.3 L1957.7,510.3 L1958.7,509.3 L1959.7,508.3 L1960.7,507.2 L1961.7,506.0 L1962.7,504.9 L1963.7,503.7 L1964.7,502.5 L1965.7,501.3 L1966.7,500.1 L1967.7,498.9 L1968.7,497.7 L1969.7,496.4 L1970.7,495.2 L1971.7,494.1 L1972.7,492.9 L1973.7,491.7 L1974.7,490.5 L1975.7,489.4 L1976.7,488.3 L1977.7,487.2 L1978.7,486.1 L1979.7,485.1 L1980.7,484.1 L1981.7,483.1 L1982.7,482.1 L1983.7,481.2 L1984.7,480.3 L1985.7,479.4 L1986.7,478.6 L1987.7,477.8 L1988.7,477.0 L1989.7,476.3 L1990.7,475.6 L1991.7,474.9 L1992.7,474.3 L1993.7,473.7 L1994.7,473.1 L1995.7,472.6 L1996.7,472.1 L1997.7,471.6 L1998.7,471.2 L1999.7,470.8 L2000.7,470.4 L2001.7,470.0 L2002.7,469.7 L2003.7,469.4 L2004.7,469.0 L2005.7,468.7 L2006.7,468.4 L2007.7,468.2 L2008.7,467.9 L2009.7,467.7 L2010.7,467.4 L2011.7,467.2 L2012.7,467.0 L2013.7,466.8 L2014.7,466.7 L2015.7,466.5 L2016.7,466.3 L2017.7,466.2 L2018.7,466.1 L2019.7,466.0 L2020.7,465.8 L2021.7,465.7 L2022.7,465.7 L2023.7,465.6 L2024.7,465.5 L2025.7,465.4 L2026.7,465.4 L2027.7,465.3 L2028.7,465.3 L2029.7,465.2 L2030.7,465.2 L2031.7,465.1 L2032.7,465.1 L2033.7,465.1 L2034.7,465.0 L2035.7,465.0 L2036.7,465.0 L2037.7,464.9 L2038.7,464.9 L2039.7,464.9 L2040.7,464.9 L2041.7,464.9 L2042.7,464.8 L2043.7,464.8 L2044.7,464.8 L2045.7,464.8 L2046.7,464.8 L2047.7,464.8 L2048.7,464.8 L2049.7,464.7 L2050.7,464.7 L2051.7,464.7 L2052.7,464.7 L2053.7,464.7 L2054.7,464.7 L2055.7,464.7 L2056.7,464.7 L2057.7,464.7 L2058.7,464.6 L2059.7,464.6 L2060.7,464.6 L2061.7,464.5 L2062.7,464.5 L2063.7,464.5 L2064.7,464.4 L2065.7,464.4 L2066.7,464.3 L2067.7,464.3 L2068.7,464.2 L2069.7,464.2 L2070.7,464.1 L2071.7,464.1 L2072.7,464.0 L2073.7,463.9 L2074.7,463.9 L2075.7,463.8 L2076.7,463.8 L2077.7,463.7 L2078.7,463.7 L2079.7,463.6 L2080.7,463.5 L2081.7,463.5 L2082.7,463.4 L2083.7,463.3 L2084.7,463.3 L2085.7,463.2 L2086.7,463.1 L2087.7,463.1 L2088.7,463.0 L2089.7,462.9 L2090.7,462.8 L2091.7,462.8 L2092.7,462.7 L2093.7,462.6 L2094.7,462.5 L2095.7,462.5 L2096.7,462.4 L2097.7,462.3 L2098.7,462.2 L2099.7,462.2 L2100.7,462.1 L2101.7,462.1 L2102.7,462.0 L2103.7,462.0 L2104.7,461.9 L2105.7,461.9 L2106.7,461.8 L2107.7,461.8 L2108.7,461.8 L2109.7,461.7 L2110.7,461.7 L2111.7,461.6 L2112.7,461.6 L2113.7,461.6 L2114.7,461.5 L2115.7,461.5 L2116.7,461.5 L2117.7,461.4 L2118.7,461.4 L2119.7,461.4 L2120.7,461.3 L2121.7,461.3 L2122.7,461.3 L2123.7,461.2 L2124.7,461.2 L2125.7,461.2 L2126.7,461.2 L2127.7,461.1 L2128.7,461.1 L2129.7,461.1 L2130.7,461.1 L2131.7,461.1 L2132.7,461.0 L2133.7,461.0 L2134.7,461.0 L2135.7,461.0 L2136.7,461.0 L2137.7,461.0 L2138.7,460.9 L2139.7,460.9 L2140.7,460.9 L2141.7,460.9 L2142.7,460.9 L2143.7,460.9 L2144.7,460.9 L2145.7,460.9 L2146.7,460.9 L2147.7,460.8 L2148.7,460.8 L2149.7,460.8 L2150.7,460.8 L2151.7,460.8 L2152.7,460.8 L2153.7,460.8 L2154.7,460.8 L2155.7,460.8 L2156.7,460.8 L2157.7,460.8 L2158.7,460.8 L2159.7,460.7 L2160.7,460.7 L2161.7,460.7 L2162.7,460.7 L2163.7,460.7 L2164.7,460.7 L2165.7,460.7 L2166.7,460.7 L2167.7,460.7 L2168.7,460.7 L2169.7,460.7 L2170.7,460.7 L2171.7,460.7 L2172.7,460.7 L2173.7,460.7 L2174.7,460.6 L2175.7,460.6 L2176.7,460.6 L2177.7,460.6 L2178.7,460.6 L2179.7,460.6 L2180.7,460.6 L2181.7,460.6 L2182.7,460.6 L2183.7,460.6 L2184.7,460.6 L2185.7,460.6 L2186.7,460.6 L2187.7,460.6 L2188.7,460.6 L2189.7,460.6 L2190.7,460.6 L2191.7,460.6 L2192.7,460.6 L2193.7,460.6 L2194.7,460.6 L2195.7,460.6 L2196.7,460.6 L2197.7,460.6 L2198.7,460.6 L2199.7,460.6 L2200.7,460.6 L2201.7,460.5 L2202.7,460.5 L2203.7,460.5 L2204.7,460.5 L2205.7,460.5 L2206.7,460.5 L2207.7,460.5 L2208.7,460.5 L2209.7,460.5 L2210.7,460.5 L2211.7,460.5 L2212.7,460.5 L2213.7,460.5 L2214.7,460.5 L2215.7,460.5 L2216.7,460.5 L2217.7,460.5 L2218.7,460.5 L2219.7,460.5 L2220.7,460.5 L2221.7,460.5 L2222.7,460.5 L2223.7,460.5 L2224.7,460.5 L2225.7,460.5 L2226.7,460.5 L2227.7,460.5 L2228.7,460.5 L2229.7,460.5 L2230.7,460.5 L2231.7,460.5 L2232.7,460.5 L2233.7,460.5 L2234.7,460.5 L2235.7,460.5 L2236.7,460.5 L2237.7,460.5 L2238.7,460.5 L2239.7,460.5 L2240.7,460.5 L2241.7,460.5 L2242.7,460.5 L2243.7,460.5 L2244.7,460.5 L2245.7,460.5 L2246.7,460.5 L2247.7,460.5 L2248.7,460.4 L2249.7,460.4 L2250.7,460.4 L2251.7,460.4 L2252.7,460.4 L2253.7,460.4 L2254.7,460.4 L2255.7,460.4 L2256.7,460.4 L2257.7,460.4 L2258.7,460.4 L2259.7,460.4 L2260.7,460.4 L2261.7,460.4 L2262.7,460.4 L2263.7,460.4 L2264.7,460.4 L2265.7,460.4 L2266.7,460.4 L2267.7,460.4 L2268.7,460.4 L2269.7,460.4 L2270.7,460.4 L2271.7,460.4 L2272.7,460.4 L2273.7,460.4 L2274.7,460.4 L2275.7,460.4 L2276.7,460.4 L2277.7,460.4 L2278.7,460.4 L2279.7,460.4 L2280.7,460.4 L2281.7,460.4 L2282.7,460.4 L2283.7,460.4 L2284.7,460.4 L2285.7,460.4 L2286.7,460.4 L2287.7,460.4 L2288.7,460.4 L2289.7,460.4 L2290.7,460.4 L2291.7,460.4 L2292.7,460.4 L2293.7,460.4 L2294.7,460.4 L2295.7,460.4 L2296.7,460.4 L2297.7,460.4 L2298.7,460.4 L2299.7,460.4 L2300.7,460.4 L2301.7,460.4 L2302.7,460.4 L2303.7,460.4 L2304.7,460.4 L2305.7,460.4 L2306.7,460.4 L2307.7,460.4 L2308.7,460.4 L2309.7,460.4 L2310.7,460.4 L2311.7,460.4 L2312.7,460.4 L2313.7,460.4 L2314.7,460.4 L2315.7,460.4 L2316.7,460.4 L2317.7,460.4 L2318.7,460.4 L2319.7,460.4 L2320.7,460.4 L2321.7,460.4 L2322.7,460.4 L2323.7,460.4" stroke="#000000"/>
<path d="M170.7,448.9 L171.7,448.9 L172.7,448.9 L173.7,448.9 L174.7,448.9 L175.7,448.9 L176.7,448.9 L177.7,448.9 L178.7,448.9 L179.7,448.8 L180.7,448.8 L181.7,448.8 L182.7,448.8 L183.7,448.8 L184.7,448.8 L185.7,448.7 L186.7,448.7 L187.7,448.7 L188.7,448.7 L189.7,448.7 L190.7,448.6 L191.7,448.6 L192.7,448.6 L193.7,448.6 L194.7,448.5 L195.7,448.5 L196.7,448.5 L197.7,448.5 L198.7,448.4 L199.7,448.4 L200.7,448.4 L201.7,448.4 L202.7,448.3 L203.7,448.3 L204.7,448.3 L205.7,448.2 L206.7,448.2 L207.7,448.2 L208.7,448.1 L209.7,448.1 L210.7,448.0 L211.7,448.0 L212.7,447.9 L213.7,447.9 L214.7,447.8 L215.7,447.8 L216.7,447.7 L217.7,447.7 L218.7,447.6 L219.7,447.6 L220.7,447.5 L221.7,447.5 L222.7,447.4 L223.7,447.4 L224.7,447.3 L225.7,447.3 L226.7,447.2 L227.7,447.2 L228.7,447.1 L229.7,447.1 L230.7,447.0 L231.7,446.9 L232.7,446.9 L233.7,446.8 L234.7,446.8 L235.7,446.7 L236.7,446.7 L237.7,446.6 L238.7,446.5 L239.7,446.5 L240.7,446.4 L241.7,446.4 L242.7,446.3 L243.7,446.2 L244.7,446.2 L245.7,446.1 L246.7,446.1 L247.7,446.0 L248.7,446.0 L249.7,445.9 L250.7,445.8 L251.7,445.8 L252.7,445.7 L253.7,445.6 L254.7,445.5 L255.7,445.5 L256.7,445.4 L257.7,445.3 L258.7,445.3 L259.7,445.2 L260.7,445.2 L261.7,445.1 L262.7,445.1 L263.7,445.0 L264.7,445.0 L265.7,445.0 L266.7,445.0 L267.7,445.0 L268.7,445.0 L269.7,445.0 L270.7,445.0 L271.7,445.0 L272.7,445.0 L273.7,445.0 L274.7,444.9 L275.7,444.9 L276.7,444.9 L277.7,444.9 L278.7,444.9 L279.7,444.9 L280.7,444.9 L281.7,444.9 L282.7,444.9 L283.7,444.9 L284.7,444.9 L285.7,444.9 L286.7,444.8 L287.7,444.8 L288.7,444.8 L289.7,444.8 L290.7,444.8 L291.7,444.8 L292.7,444.8 L293.7,444.8 L294.7,444.8 L295.7,444.8 L296.7,444.8 L297.7,444.8 L298.7,444.8 L299.7,444.8 L300.7,444.8 L301.7,444.7 L302.7,444.7 L303.7,444.6 L304.7,444.5 L305.7,444.4 L306.7,444.3 L307.7,444.2 L308.7,444.0 L309.7,443.8 L310.7,443.5 L311.7,443.2 L312.7,442.9 L313.7,442.5 L314.7,442.1 L315.7,441.7 L316.7,441.2 L317.7,440.7 L318.7,440.2 L319.7,439.6 L320.7,439.0 L321.7,438.4 L322.7,437.7 L323.7,437.0 L324.7,436.2 L325.7,435.4 L326.7,434.5 L327.7,433.6 L328.7,432.7 L329.7,431.7 L330.7,430.6 L331.7,429.5 L332.7,428.4 L333.7,427.2 L334.7,425.9 L335.7,424.6 L336.7,423.2 L337.7,421.8 L338.7,420.4 L339.7,418.8 L340.7,417.3 L341.7,415.7 L342.7,414.0 L343.7,412.3 L344.7,410.5 L345.7,408.7 L346.7,406.8 L347.7,404.8 L348.7,402.8 L349.7,400.7 L350.7,398.6 L351.7,396.4 L352.7,394.2 L353.7,391.9 L354.7,389.7 L355.7,387.3 L356.7,385.0 L357.7,382.6 L358.7,380.2 L359.7,377.8 L360.7,375.3 L361.7,372.9 L362.7,370.4 L363.7,368.0 L364.7,365.6 L365.7,363.2 L366.7,360.8 L367.7,358.4 L368.7,356.2 L369.7,353.9 L370.7,351.7 L371.7,349.6 L372.7,347.6 L373.7,345.7 L374.7,343.9 L375.7,342.1 L376.7,340.5 L377.7,339.0 L378.7,337.7 L379.7,336.4 L380.7,335.4 L381.7,334.4 L382.7,333.7 L383.7,333.1 L384.7,332.7 L385.7,332.5 L386.7,332.4 L387.7,332.6 L388.7,332.9 L389.7,333.5 L390.7,334.3 L391.7,335.2 L392.7,336.4 L393.7,337.9 L394.7,339.5 L395.7,341.4 L396.7,343.4 L397.7,345.7 L398.7,348.2 L399.7,351.0 L400.7,353.9 L401.7,357.1 L402.7,360.4 L403.7,364.0 L404.7,367.7 L405.7,371.7 L406.7,375.8 L407.7,380.1 L408.7,384.5 L409.7,389.1 L410.7,393.9 L411.7,398.7 L412.7,403.7 L413.7,408.9 L414.7,414.1 L415.7,419.4 L416.7,424.7 L417.7,430.2 L418.7,435.6 L419.7,441.2 L420.7,446.7 L421.7,451.9 L422.7,456.9 L423.7,461.8 L424.7,466.7 L425.7,471.6 L426.7,476.4 L427.7,481.2 L428.7,485.8 L429.7,490.4 L430.7,494.9 L431.7,499.2 L432.7,503.4 L433.7,507.5 L434.7,511.4 L435.7,515.2 L436.7,518.8 L437.7,522.2 L438.7,525.5 L439.7,528.5 L440.7,531.4 L441.7,534.1 L442.7,536.6 L443.7,538.9 L444.7,541.0 L445.7,542.9 L446.7,544.5 L447.7,546.0 L448.7,547.3 L449.7,548.4 L450.7,549.2 L451.7,549.9 L452.7,550.4 L453.7,550.7 L454.7,550.8 L455.7,550.7 L456.7,550.5 L457.7,550.1 L458.7,549.5 L459.7,548.8 L460.7,547.9 L461.7,546.9 L462.7,545.8 L463.7,544.5 L464.7,543.2 L465.7,541.7 L466.7,540.1 L467.7,538.4 L468.7,536.7 L469.7,534.9 L470.7,533.0 L471.7,531.1 L472.7,529.2 L473.7,527.2 L474.7,525.1 L475.7,523.0 L476.7,521.0 L477.7,518.9 L478.7,516.8 L479.7,514.7 L480.7,512.6 L481.7,510.6 L482.7,508.5 L483.7,506.5 L484.7,504.5 L485.7,502.5 L486.7,500.6 L487.7,498.7 L488.7,496.8 L489.7,495.0 L490.7,493.2 L491.7,491.4 L492.7,489.7 L493.7,488.1 L494.7,486.5 L495.7,485.0 L496.7,483.5 L497.7,482.0 L498.7,480.6 L499.7,479.3 L500.7,478.0 L501.7,476.7 L502.7,475.6 L503.7,474.4 L504.7,473.3 L505.7,472.3 L506.7,471.3 L507.7,470.4 L508.7,469.5 L509.7,468.6 L510.7,467.8 L511.7,467.0 L512.7,466.3 L513.7,465.6 L514.7,465.0 L515.7,464.4 L516.7,463.8 L517.7,463.2 L518.7,462.7 L519.7,462.2 L520.7,461.8 L521.7,461.3 L522.7,460.9 L523.7,460.6 L524.7,460.2 L525.7,459.9 L526.7,459.6 L527.7,459.3 L528.7,459.0 L529.7,458.8 L530.7,458.6 L531.7,458.3 L532.7,458.2 L533.7,458.0 L534.7,457.8 L535.7,457.7 L536.7,457.5 L537.7,457.4 L538.7,457.3 L539.7,457.2 L540.7,457.1 L541.7,457.0 L542.7,456.9 L543.7,456.8 L544.7,456.8 L545.7,456.7 L546.7,456.6 L547.7,456.6 L548.7,456.5 L549.7,456.5 L550.7,456.4 L551.7,456.4 L552.7,456.3 L553.7,456.3 L554.7,456.2 L555.7,456.2 L556.7,456.2 L557.7,456.2 L558.7,456.1 L559.7,456.1 L560.7,456.1 L561.7,456.1 L562.7,456.0 L563.7,456.0 L564.7,456.0 L565.7,456.0 L566.7,456.0 L567.7,455.9 L568.7,455.9 L569.7,455.8 L570.7,455.8 L571.7,455.7 L572.7,455.6 L573.7,455.5 L574.7,455.5 L575.7,455.4 L576.7,455.3 L577.7,455.2 L578.7,455.1 L579.7,455.0 L580.7,454.9 L581.7,454.8 L582.7,454.7 L583.7,454.6 L584.7,454.5 L585.7,454.4 L586.7,454.3 L587.7,454.2 L588.7,454.1 L589.7,454.0 L590.7,453.9 L591.7,453.8 L592.7,453.8 L593.7,453.7 L594.7,453.6 L595.7,453.5 L596.7,453.4 L597.7,453.3 L598.7,453.2 L599.7,453.1 L600.7,453.0 L601.7,452.9 L602.7,452.8 L603.7,452.8 L604.7,452.7 L605.7,452.6 L606.7,452.5 L607.7,452.4 L608.7,452.3 L609.7,452.2 L610.7,452.1 L611.7,452.0 L612.7,451.9 L613.7,451.9 L614.7,451.8 L615.7,451.7 L616.7,451.6 L617.7,451.5 L618.7,451.5 L619.7,451.4 L620.7,451.3 L621.7,451.3 L622.7,451.2 L623.7,451.2 L624.7,451.1 L625.7,451.1 L626.7,451.0 L627.7,451.0 L628.7,450.9 L629.7,450.9 L630.7,450.9 L631.7,450.8 L632.7,450.8 L633.7,450.8 L634.7,450.8 L635.7,450.7 L636.7,450.7 L637.7,450.7 L638.7,450.7 L639.7,450.6 L640.7,450.6 L641.7,450.6 L642.7,450.6 L643.7,450.6 L644.7,450.5 L645.7,450.5 L646.7,450.5 L647.7,450.5 L648.7,450.5 L649.7,450.5 L650.7,450.5 L651.7,450.5 L652.7,450.4 L653.7,450.4 L654.7,450.4 L655.7,450.4 L656.7,450.4 L657.7,450.4 L658.7,450.4 L659.7,450.4 L660.7,450.4 L661.7,450.4 L662.7,450.3 L663.7,450.3 L664.7,450.3 L665.7,450.3 L666.7,450.3 L667.7,450.3 L668.7,450.3 L669.7,450.3 L670.7,450.3 L671.7,450.3 L672.7,450.3 L673.7,450.3 L674.7,450.3 L675.7,450.2 L676.7,450.2 L677.7,450.2 L678.7,450.2 L679.7,450.2 L680.7,450.2 L681.7,450.2 L682.7,450.2 L683.7,450.2 L684.7,450.2 L685.7,450.1 L686.7,450.1 L687.7,450.1 L688.7,450.1 L689.7,450.1 L690.7,450.1 L691.7,450.1 L692.7,450.1 L693.7,450.1 L694.7,450.0 L695.7,450.0 L696.7,450.0 L697.7,450.0 L698.7,450.0 L699.7,450.0 L700.7,450.0 L701.7,450.0 L702.7,449.9 L703.7,449.9 L704.7,449.9 L705.7,449.9 L706.7,449.9 L707.7,449.9 L708.7,449.9 L709.7,449.9 L710.7,449.9 L711.7,449.9 L712.7,449.8 L713.7,449.8 L714.7,449.8 L715.7,449.8 L716.7,449.8 L717.7,449.8 L718.7,449.8 L719.7,449.8 L720.7,449.8 L721.7,449.8 L722.7,449.8 L723.7,449.8 L724.7,449.7 L725.7,449.7 L726.7,449.7 L727.7,449.7 L728.7,449.7 L729.7,449.7 L730.7,449.7 L731.7,449.7 L732.7,449.7 L733.7,449.7 L734.7,449.7 L735.7,449.7 L736.7,449.7 L737.7,449.6 L738.7,449.6 L739.7,449.6 L740.7,449.6 L741.7,449.6 L742.7,449.6 L743.7,449.6 L744.7,449.6 L745.7,449.6 L746.7,449.6 L747.7,449.6 L748.7,449.6 L749.7,449.6 L750.7,449.6 L751.7,449.6 L752.7,449.6 L753.7,449.5 L754.7,449.5 L755.7,449.5 L756.7,449.5 L757.7,449.5 L758.7,449.5 L759.7,449.5 L760.7,449.5 L761.7,449.5 L762.7,449.5 L763.7,449.5 L764.7,449.5 L765.7,449.5 L766.7,449.5 L767.7,449.5 L768.7,449.5 L769.7,449.5 L770.7,449.5 L771.7,449.5 L772.7,449.4 L773.7,449.4 L774.7,449.4 L775.7,449.4 L776.7,449.4 L777.7,449.4 L778.7,449.4 L779.7,449.4 L780.7,449.4 L781.7,449.4 L782.7,449.4 L783.7,449.4 L784.7,449.4 L785.7,449.4 L786.7,449.4 L787.7,449.4 L788.7,449.4 L789.7,449.4 L790.7,449.4 L791.7,449.4 L792.7,449.4 L793.7,449.4 L794.7,449.3 L795.7,449.3 L796.7,449.3 L797.7,449.3 L798.7,449.3 L799.7,449.3 L800.7,449.3 L801.7,449.3 L802.7,449.3 L803.7,449.3 L804.7,449.3 L805.7,449.3 L806.7,449.3 L807.7,449.3 L808.7,449.3 L809.7,449.3 L810.7,449.3 L811.7,449.3 L812.7,449.3 L813.7,449.3 L814.7,449.3 L815.7,449.3 L816.7,449.3 L817.7,449.3 L818.7,449.3 L819.7,449.3 L820.7,449.2 L821.7,449.2 L822.7,449.2 L823.7,449.2 L824.7,449.2 L825.7,449.2 L826.7,449.2 L827.7,449.2 L828.7,449.2 L829.7,449.2 L830.7,449.2 L831.7,449.2 L832.7,449.2 L833.7,449.2 L834.7,449.2 L835.7,449.2 L836.7,449.2 L837.7,449.2 L838.7,449.2 L839.7,449.2 L840.7,449.2 L841.7,449.2 L842.7,449.2 L843.7,449.2 L844.7,449.2 L845.7,449.2 L846.7,449.2 L847.7,449.2 L848.7,449.2 L849.7,449.2 L850.7,449.2 L851.7,449.2 L852.7,449.2 L853.7,449.2 L854.7,449.2 L855.7,449.2 L856.7,449.2 L857.7,449.2 L858.7,449.1 L859.7,449.1 L860.7,449.1 L861.7,449.1 L862.7,449.1 L863.7,449.1 L864.7,449.1 L865.7,449.1 L866.7,449.1 L867.7,449.1 L868.7,449.1 L869.7,449.1 L870.7,449.1 L871.7,449.1 L872.7,449.1 L873.7,449.1 L874.7,449.1 L875.7,449.1 L876.7,449.1 L877.7,449.1 L878.7,449.1 L879.7,449.1 L880.7,449.1 L881.7,449.1 L882.7,449.1 L883.7,449.1 L884.7,449.1 L885.7,449.1 L886.7,449.1 L887.7,449.1 L888.7,449.1 L889.7,449.1 L890.7,449.1 L891.7,449.1 L892.7,449.1 L893.7,449.1 L894.7,449.1 L895.7,449.1 L896.7,449.1 L897.7,449.1 L898.7,449.1 L899.7,449.1 L900.7,449.1 L901.7,449.1 L902.7,449.1 L903.7,449.1 L904.7,449.1 L905.7,449.1 L906.7,449.1 L907.7,449.1 L908.7,449.1 L909.7,449.1 L910.7,449.1 L911.7,449.1 L912.7,449.1 L913.7,449.1 L914.7,449.1 L915.7,449.0 L916.7,449.0 L917.7,449.0 L918.7,449.0 L919.7,449.0 L920.7,449.0 L921.7,449.0 L922.7,449.0 L923.7,449.0 L924.7,448.9 L925.7,448.9 L926.7,448.9 L927.7,448.9 L928.7,448.9 L929.7,448.9 L930.7,448.8 L931.7,448.8 L932.7,448.8 L933.7,448.8 L934.7,448.7 L935.7,448.7 L936.7,448.7 L937.7,448.7 L938.7,448.6 L939.7,448.6 L940.7,448.6 L941.7,448.5 L942.7,448.5 L943.7,448.5 L944.7,448.5 L945.7,448.4 L946.7,448.4 L947.7,448.4 L948.7,448.3 L949.7,448.3 L950.7,448.3 L951.7,448.2 L952.7,448.2 L953.7,448.1 L954.7,448.1 L955.7,448.0 L956.7,448.0 L957.7,447.9 L958.7,447.9 L959.7,447.8 L960.7,447.8 L961.7,447.7 L962.7,447.7 L963.7,447.6 L964.7,447.6 L965.7,447.5 L966.7,447.5 L967.7,447.4 L968.7,447.4 L969.7,447.3 L970.7,447.3 L971.7,447.2 L972.7,447.1 L973.7,447.1 L974.7,447.0 L975.7,447.0 L976.7,446.9 L977.7,446.8 L978.7,446.8 L979.7,446.7 L980.7,446.6 L981.7,446.6 L982.7,446.5 L983.7,446.4 L984.7,446.4 L985.7,446.3 L986.7,446.3 L987.7,446.2 L988.7,446.2 L989.7,446.1 L990.7,446.0 L991.7,446.0 L992.7,445.9 L993.7,445.8 L994.7,445.8 L995.7,445.7 L996.7,445.6 L997.7,445.6 L998.7,445.5 L999.7,445.4 L1000.7,445.4 L1001.7,445.3 L1002.7,445.2 L1003.7,445.2 L1004.7,445.1 L1005.7,445.1 L1006.7,445.1 L1007.7,445.0 L1008.7,445.0 L1009.7,445.0 L1010.7,445.0 L1011.7,445.0 L1012.7,445.0 L1013.7,445.0 L1014.7,445.0 L1015.7,445.0 L1016.7,445.0 L1017.7,445.0 L1018.7,445.0 L1019.7,445.0 L1020.7,445.0 L1021.7,445.0 L1022.7,444.9 L1023.7,444.9 L1024.7,444.9 L1025.7,444.9 L1026.7,444.9 L1027.7,444.9 L1028.7,444.9 L1029.7,444.9 L1030.7,444.8 L1031.7,444.8 L1032.7,444.8 L1033.7,444.8 L1034.7,444.8 L1035.7,444.8 L1036.7,444.8 L1037.7,444.8 L1038.7,444.8 L1039.7,444.8 L1040.7,444.8 L1041.7,444.8 L1042.7,444.8 L1043.7,444.8 L1044.7,444.8 L1045.7,444.7 L1046.7,444.6 L1047.7,444.5 L1048.7,444.4 L1049.7,444.3 L1050.7,444.2 L1051.7,444.0 L1052.7,443.8 L1053.7,443.6 L1054.7,443.3 L1055.7,443.0 L1056.7,442.6 L1057.7,442.2 L1058.7,441.7 L1059.7,441.3 L1060.7,440.8 L1061.7,440.3 L1062.7,439.7 L1063.7,439.1 L1064.7,438.5 L1065.7,437.8 L1066.7,437.1 L1067.7,436.3 L1068.7,435.5 L1069.7,434.7 L1070.7,433.8 L1071.7,432.9 L1072.7,431.9 L1073.7,430.8 L1074.7,429.7 L1075.7,428.6 L1076.7,427.4 L1077.7,426.1 L1078.7,424.8 L1079.7,423.5 L1080.7,422.1 L1081.7,420.6 L1082.7,419.1 L1083.7,417.6 L1084.7,416.0 L1085.7,414.3 L1086.7,412.6 L1087.7,410.8 L1088.7,409.0 L1089.7,407.1 L1090.7,405.2 L1091.7,403.2 L1092.7,401.1 L1093.7,399.0 L1094.7,396.8 L1095.7,394.6 L1096.7,392.4 L1097.7,390.1 L1098.7,387.8 L1099.7,385.5 L1100.7,383.1 L1101.7,380.7 L1102.7,378.3 L1103.7,375.9 L1104.7,373.4 L1105.7,371.0 L1106.7,368.6 L1107.7,366.2 L1108.7,363.8 L1109.7,361.4 L1110.7,359.0 L1111.7,356.8 L1112.7,354.5 L1113.7,352.3 L1114.7,350.2 L1115.7,348.2 L1116.7,346.3 L1117.7,344.5 L1118.7,342.7 L1119.7,341.1 L1120.7,339.6 L1121.7,338.2 L1122.7,337.0 L1123.7,335.9 L1124.7,335.0 L1125.7,334.2 L1126.7,333.6 L1127.7,333.2 L1128.7,332.9 L1129.7,332.9 L1130.7,333.0 L1131.7,333.3 L1132.7,333.9 L1133.7,334.6 L1134.7,335.6 L1135.7,336.8 L1136.7,338.2 L1137.7,339.8 L1138.7,341.6 L1139.7,343.6 L1140.7,345.9 L1141.7,348.4 L1142.7,351.1 L1143.7,354.0 L1144.7,357.1 L1145.7,360.4 L1146.7,363.9 L1147.7,367.7 L1148.7,371.6 L1149.7,375.6 L1150.7,379.9 L1151.7,384.3 L1152.7,388.9 L1153.7,393.6 L1154.7,398.5 L1155.7,403.4 L1156.7,408.5 L1157.7,413.7 L1158.7,419.0 L1159.7,424.3 L1160.7,429.7 L1161.7,435.2 L1162.7,440.6 L1163.7,446.1 L1164.7,451.4 L1165.7,456.4 L1166.7,461.3 L1167.7,466.3 L1168.7,471.1 L1169.7,476.0 L1170.7,480.7 L1171.7,485.4 L1172.7,489.9 L1173.7,494.4 L1174.7,498.8 L1175.7,503.0 L1176.7,507.1 L1177.7,511.0 L1178.7,514.8 L1179.7,518.4 L1180.7,521.9 L1181.7,525.1 L1182.7,528.2 L1183.7,531.1 L1184.7,533.8 L1185.7,536.4 L1186.7,538.7 L1187.7,540.8 L1188.7,542.7 L1189.7,544.4 L1190.7,545.9 L1191.7,547.2 L1192.7,548.3 L1193.7,549.2 L1194.7,549.9 L1195.7,550.4 L1196.7,550.7 L1197.7,550.8 L1198.7,550.7 L1199.7,550.5 L1200.7,550.1 L1201.7,549.6 L1202.7,548.9 L1203.7,548.0 L1204.7,547.0 L1205.7,545.9 L1206.7,544.7 L1207.7,543.3 L1208.7,541.8 L1209.7,540.3 L1210.7,538.6 L1211.7,536.9 L1212.7,535.1 L1213.7,533.2 L1214.7,531.3 L1215.7,529.4 L1216.7,527.4 L1217.7,525.3 L1218.7,523.3 L1219.7,521.2 L1220.7,519.1 L1221.7,517.0 L1222.7,514.9 L1223.7,512.9 L1224.7,510.8 L1225.7,508.8 L1226.7,506.7 L1227.7,504.7 L1228.7,502.7 L1229.7,500.8 L1230.7,498.9 L1231.7,497.0 L1232.7,495.2 L1233.7,493.4 L1234.7,491.6 L1235.7,489.9 L1236.7,488.3 L1237.7,486.7 L1238.7,485.1 L1239.7,483.6 L1240.7,482.2 L1241.7,480.8 L1242.7,479.4 L1243.7,478.1 L1244.7,476.9 L1245.7,475.7 L1246.7,474.5 L1247.7,473.4 L1248.7,472.4 L1249.7,471.4 L1250.7,470.5 L1251.7,469.6 L1252.7,468.7 L1253.7,467.9 L1254.7,467.1 L1255.7,466.4 L1256.7,465.7 L1257.7,465.0 L1258.7,464.4 L1259.7,463.8 L1260.7,463.3 L1261.7,462.8 L1262.7,462.3 L1263.7,461.8 L1264.7,461.4 L1265.7,461.0 L1266.7,460.6 L1267.7,460.2 L1268.7,459.9 L1269.7,459.6 L1270.7,459.3 L1271.7,459.0 L1272.7,458.8 L1273.7,458.6 L1274.7,458.4 L1275.7,458.2 L1276.7,458.0 L1277.7,457.8 L1278.7,457.7 L1279.7,457.6 L1280.7,457.4 L1281.7,457.3 L1282.7,457.2 L1283.7,457.1 L1284.7,457.0 L1285.7,456.9 L1286.7,456.8 L1287.7,456.8 L1288.7,456.7 L1289.7,456.6 L1290.7,456.6 L1291.7,456.5 L1292.7,456.5 L1293.7,456.4 L1294.7,456.4 L1295.7,456.3 L1296.7,456.3 L1297.7,456.2 L1298.7,456.2 L1299.7,456.2 L1300.7,456.2 L1301.7,456.1 L1302.7,456.1 L1303.7,456.1 L1304.7,456.1 L1305.7,456.0 L1306.7,456.0 L1307.7,456.0 L1308.7,456.0 L1309.7,456.0 L1310.7,455.9 L1311.7,455.9 L1312.7,455.8 L1313.7,455.8 L1314.7,455.7 L1315.7,455.6 L1316.7,455.6 L1317.7,455.5 L1318.7,455.4 L1319.7,455.3 L1320.7,455.2 L1321.7,455.1 L1322.7,455.0 L1323.7,454.9 L1324.7,454.8 L1325.7,454.7 L1326.7,454.6 L1327.7,454.5 L1328.7,454.4 L1329.7,454.3 L1330.7,454.2 L1331.7,454.1 L1332.7,454.0 L1333.7,453.9 L1334.7,453.9 L1335.7,453.8 L1336.7,453.7 L1337.7,453.6 L1338.7,453.5 L1339.7,453.4 L1340.7,453.3 L1341.7,453.2 L1342.7,453.1 L1343.7,453.0 L1344.7,452.9 L1345.7,452.9 L1346.7,452.8 L1347.7,452.7 L1348.7,452.6 L1349.7,452.5 L1350.7,452.4 L1351.7,452.3 L1352.7,452.2 L1353.7,452.1 L1354.7,452.0 L1355.7,451.9 L1356.7,451.9 L1357.7,451.8 L1358.7,451.7 L1359.7,451.6 L1360.7,451.5 L1361.7,451.5 L1362.7,451.4 L1363.7,451.3 L1364.7,451.3 L1365.7,451.2 L1366.7,451.2 L1367.7,451.1 L1368.7,451.1 L1369.7,451.0 L1370.7,451.0 L1371.7,450.9 L1372.7,450.9 L1373.7,450.9 L1374.7,450.8 L1375.7,450.8 L1376.7,450.8 L1377.7,450.8 L1378.7,450.7 L1379.7,450.7 L1380.7,450.7 L1381.7,450.7 L1382.7,450.6 L1383.7,450.6 L1384.7,450.6 L1385.7,450.6 L1386.7,450.6 L1387.7,450.5 L1388.7,450.5 L1389.7,450.5 L1390.7,450.5 L1391.7,450.5 L1392.7,450.5 L1393.7,450.5 L1394.7,450.5 L1395.7,450.4 L1396.7,450.4 L1397.7,450.4 L1398.7,450.4 L1399.7,450.4 L1400.7,450.4 L1401.7,450.4 L1402.7,450.4 L1403.7,450.4 L1404.7,450.4 L1405.7,450.3 L1406.7,450.3 L1407.7,450.3 L1408.7,450.3 L1409.7,450.3 L1410.7,450.3 L1411.7,450.3 L1412.7,450.3 L1413.7,450.3 L1414.7,450.3 L1415.7,450.3 L1416.7,450.3 L1417.7,450.3 L1418.7,450.2 L1419.7,450.2 L1420.7,450.2 L1421.7,450.2 L1422.7,450.2 L1423.7,450.2 L1424.7,450.2 L1425.7,450.2 L1426.7,450.2 L1427.7,450.2 L1428.7,450.2 L1429.7,450.1 L1430.7,450.1 L1431.7,450.1 L1432.7,450.1 L1433.7,450.1 L1434.7,450.1 L1435.7,450.1 L1436.7,450.1 L1437.7,450.0 L1438.7,450.0 L1439.7,450.0 L1440.7,450.0 L1441.7,450.0 L1442.7,450.0 L1443.7,450.0 L1444.7,450.0 L1445.7,450.0 L1446.7,449.9 L1447.7,449.9 L1448.7,449.9 L1449.7,449.9 L1450.7,449.9 L1451.7,449.9 L1452.7,449.9 L1453.7,449.9 L1454.7,449.9 L1455.7,449.8 L1456.7,449.8 L1457.7,449.8 L1458.7,449.8 L1459.7,449.8 L1460.7,449.8 L1461.7,449.8 L1462.7,449.8 L1463.7,449.8 L1464.7,449.8 L1465.7,449.8 L1466.7,449.8 L1467.7,449.7 L1468.7,449.7 L1469.7,449.7 L1470.7,449.7 L1471.7,449.7 L1472.7,449.7 L1473.7,449.7 L1474.7,449.7 L1475.7,449.7 L1476.7,449.7 L1477.7,449.7 L1478.7,449.7 L1479.7,449.7 L1480.7,449.6 L1481.7,449.6 L1482.7,449.6 L1483.7,449.6 L1484.7,449.6 L1485.7,449.6 L1486.7,449.6 L1487.7,449.6 L1488.7,449.6 L1489.7,449.6 L1490.7,449.6 L1491.7,449.6 L1492.7,449.6 L1493.7,449.6 L1494.7,449.6 L1495.7,449.6 L1496.7,449.5 L1497.7,449.5 L1498.7,449.5 L1499.7,449.5 L1500.7,449.5 L1501.7,449.5 L1502.7,449.5 L1503.7,449.5 L1504.7,449.5 L1505.7,449.5 L1506.7,449.5 L1507.7,449.5 L1508.7,449.5 L1509.7,449.5 L1510.7,449.5 L1511.7,449.5 L1512.7,449.5 L1513.7,449.5 L1514.7,449.5 L1515.7,449.4 L1516.7,449.4 L1517.7,449.4 L1518.7,449.4 L1519.7,449.4 L1520.7,449.4 L1521.7,449.4 L1522.7,449.4 L1523.7,449.4 L1524.7,449.4 L1525.7,449.4 L1526.7,449.4 L1527.7,449.4 L1528.7,449.4 L1529.7,449.4 L1530.7,449.4 L1531.7,449.4 L1532.7,449.4 L1533.7,449.4 L1534.7,449.4 L1535.7,449.4 L1536.7,449.4 L1537.7,449.3 L1538.7,449.3 L1539.7,449.3 L1540.7,449.3 L1541.7,449.3 L1542.7,449.3 L1543.7,449.3 L1544.7,449.3 L1545.7,449.3 L1546.7,449.3 L1547.7,449.3 L1548.7,449.3 L1549.7,449.3 L1550.7,449.3 L1551.7,449.3 L1552.7,449.3 L1553.7,449.3 L1554.7,449.3 L1555.7,449.3 L1556.7,449.3 L1557.7,449.3 L1558.7,449.3 L1559.7,449.3 L1560.7,449.3 L1561.7,449.3 L1562.7,449.3 L1563.7,449.2 L1564.7,449.2 L1565.7,449.2 L1566.7,449.2 L1567.7,449.2 L1568.7,449.2 L1569.7,449.2 L1570.7,449.2 L1571.7,449.2 L1572.7,449.2 L1573.7,449.2 L1574.7,449.2 L1575.7,449.2 L1576.7,449.2 L1577.7,449.2 L1578.7,449.2 L1579.7,449.2 L1580.7,449.2 L1581.7,449.2 L1582.7,449.2 L1583.7,449.2 L1584.7,449.2 L1585.7,449.2 L1586.7,449.2 L1587.7,449.2 L1588.7,449.2 L1589.7,449.2 L1590.7,449.2 L1591.7,449.2 L1592.7,449.2 L1593.7,449.2 L1594.7,449.2 L1595.7,449.2 L1596.7,449.2 L1597.7,449.2 L1598.7,449.2 L1599.7,449.2 L1600.7,449.2 L1601.7,449.1 L1602.7,449.1 L1603.7,449.1 L1604.7,449.1 L1605.7,449.1 L1606.7,449.1 L1607.7,449.1 L1608.7,449.1 L1609.7,449.1 L1610.7,449.1 L1611.7,449.1 L1612.7,449.1 L1613.7,449.1 L1614.7,449.1 L1615.7,449.1 L1616.7,449.1 L1617.7,449.1 L1618.7,449.1 L1619.7,449.1 L1620.7,449.1 L1621.7,449.1 L1622.7,449.1 L1623.7,449.1 L1624.7,449.1 L1625.7,449.1 L1626.7,449.1 L1627.7,449.1 L1628.7,449.1 L1629.7,449.1 L1630.7,449.1 L1631.7,449.1 L1632.7,449.1 L1633.7,449.1 L1634.7,449.1 L1635.7,449.1 L1636.7,449.1 L1637.7,449.1 L1638.7,449.1 L1639.7,449.1 L1640.7,449.1 L1641.7,449.1 L1642.7,449.1 L1643.7,449.1 L1644.7,449.1 L1645.7,449.1 L1646.7,449.1 L1647.7,449.1 L1648.7,449.1 L1649.7,449.1 L1650.7,449.1 L1651.7,449.1 L1652.7,449.1 L1653.7,449.1 L1654.7,449.1 L1655.7,449.1 L1656.7,449.1 L1657.7,449.1 L1658.7,449.0 L1659.7,449.0 L1660.7,449.0 L1661.7,449.0 L1662.7,449.0 L1663.7,449.0 L1664.7,449.0 L1665.7,449.0 L1666.7,449.0 L1667.7,449.0 L1668.7,449.0 L1669.7,449.0 L1670.7,449.0 L1671.7,448.9 L1672.7,448.9 L1673.7,448.9 L1674.7,448.9 L1675.7,448.9 L1676.7,448.9 L1677.7,448.8 L1678.7,448.8 L1679.7,448.8 L1680.7,448.8 L1681.7,448.7 L1682.7,448.7 L1683.7,448.7 L1684.7,448.7 L1685.7,448.6 L1686.7,448.6 L1687.7,448.6 L1688.7,448.6 L1689.7,448.5 L1690.7,448.5 L1691.7,448.5 L1692.7,448.4 L1693.7,448.4 L1694.7,448.4 L1695.7,448.4 L1696.7,448.3 L1697.7,448.3 L1698.7,448.2 L1699.7,448.2 L1700.7,448.2 L1701.7,448.1 L1702.7,448.1 L1703.7,448.0 L1704.7,448.0 L1705.7,447.9 L1706.7,447.9 L1707.7,447.8 L1708.7,447.8 L1709.7,447.7 L1710.7,447.7 L1711.7,447.6 L1712.7,447.6 L1713.7,447.5 L1714.7,447.5 L1715.7,447.4 L1716.7,447.3 L1717.7,447.3 L1718.7,447.2 L1719.7,447.2 L1720.7,447.1 L1721.7,447.1 L1722.7,447.0 L1723.7,447.0 L1724.7,446.8 L1725.7,446.8 L1726.7,446.7 L1727.7,446.7 L1728.7,446.6 L1729.7,446.6 L1730.7,446.5 L1731.7,446.4 L1732.7,446.4 L1733.7,446.3 L1734.7,446.3 L1735.7,446.2 L1736.7,446.2 L1737.7,446.1 L1738.7,446.1 L1739.7,446.0 L1740.7,445.9 L1741.7,445.9 L1742.7,445.8 L1743.7,445.7 L1744.7,445.6 L1745.7,445.6 L1746.7,445.5 L1747.7,445.5 L1748.7,445.4 L1749.7,445.3 L1750.7,445.3 L1751.7,445.2 L1752.7,445.2 L1753.7,445.2 L1754.7,445.1 L1755.7,445.1 L1756.7,445.1 L1757.7,445.1 L1758.7,445.1 L1759.7,445.1 L1760.7,445.1 L1761.7,445.1 L1762.7,445.1 L1763.7,445.1 L1764.7,445.1 L1765.7,445.1 L1766.7,445.1 L1767.7,445.1 L1768.7,445.0 L1769.7,445.0 L1770.7,445.0 L1771.7,445.0 L1772.7,445.0 L1773.7,445.0 L1774.7,445.0 L1775.7,445.0 L1776.7,445.0 L1777.7,444.9 L1778.7,444.9 L1779.7,444.9 L1780.7,444.9 L1781.7,444.9 L1782.7,444.9 L1783.7,444.9 L1784.7,444.9 L1785.7,444.9 L1786.7,444.9 L1787.7,444.9 L1788.7,444.9 L1789.7,444.9 L1790.7,444.9 L1791.7,444.9 L1792.7,444.8 L1793.7,444.7 L1794.7,444.6 L1795.7,444.6 L1796.7,444.4 L1797.7,444.3 L1798.7,444.2 L1799.7,444.0 L1800.7,443.8 L1801.7,443.5 L1802.7,443.1 L1803.7,442.8 L1804.7,442.4 L1805.7,442.0 L1806.7,441.5 L1807.7,441.0 L1808.7,440.5 L1809.7,440.0 L1810.7,439.4 L1811.7,438.8 L1812.7,438.1 L1813.7,437.4 L1814.7,436.7 L1815.7,435.9 L1816.7,435.1 L1817.7,434.2 L1818.7,433.3 L1819.7,432.4 L1820.7,431.4 L1821.7,430.3 L1822.7,429.2 L1823.7,428.0 L1824.7,426.8 L1825.7,425.5 L1826.7,424.2 L1827.7,422.8 L1828.7,421.4 L1829.7,420.0 L1830.7,418.5 L1831.7,416.9 L1832.7,415.3 L1833.7,413.7 L1834.7,411.9 L1835.7,410.2 L1836.7,408.3 L1837.7,406.4 L1838.7,404.5 L1839.7,402.5 L1840.7,400.4 L1841.7,398.3 L1842.7,396.2 L1843.7,394.0 L1844.7,391.8 L1845.7,389.5 L1846.7,387.2 L1847.7,384.9 L1848.7,382.6 L1849.7,380.2 L1850.7,377.9 L1851.7,375.5 L1852.7,373.1 L1853.7,370.7 L1854.7,368.4 L1855.7,366.0 L1856.7,363.7 L1857.7,361.4 L1858.7,359.2 L1859.7,357.0 L1860.7,354.9 L1861.7,352.8 L1862.7,350.8 L1863.7,348.9 L1864.7,347.1 L1865.7,345.4 L1866.7,343.8 L1867.7,342.4 L1868.7,341.0 L1869.7,339.8 L1870.7,338.7 L1871.7,337.8 L1872.7,337.0 L1873.7,336.4 L1874.7,336.0 L1875.7,335.7 L1876.7,335.7 L1877.7,335.8 L1878.7,336.1 L1879.7,336.6 L1880.7,337.3 L1881.7,338.2 L1882.7,339.3 L1883.7,340.7 L1884.7,342.2 L1885.7,344.0 L1886.7,346.0 L1887.7,348.1 L1888.7,350.5 L1889.7,353.2 L1890.7,356.0 L1891.7,359.0 L1892.7,362.2 L1893.7,365.6 L1894.7,369.2 L1895.7,373.0 L1896.7,377.0 L1897.7,381.1 L1898.7,385.4 L1899.7,389.9 L1900.7,394.5 L1901.7,399.2 L1902.7,404.0 L1903.7,409.0 L1904.7,414.0 L1905.7,419.2 L1906.7,424.4 L1907.7,429.6 L1908.7,435.0 L1909.7,440.3 L1910.7,445.7 L1911.7,450.9 L1912.7,455.7 L1913.7,460.6 L1914.7,465.4 L1915.7,470.2 L1916.7,474.9 L1917.7,479.5 L1918.7,484.1 L1919.7,488.6 L1920.7,493.0 L1921.7,497.3 L1922.7,501.4 L1923.7,505.4 L1924.7,509.3 L1925.7,513.0 L1926.7,516.5 L1927.7,519.9 L1928.7,523.2 L1929.7,526.2 L1930.7,529.0 L1931.7,531.7 L1932.7,534.2 L1933.7,536.5 L1934.7,538.6 L1935.7,540.4 L1936.7,542.1 L1937.7,543.6 L1938.7,544.9 L1939.7,546.0 L1940.7,546.9 L1941.7,547.6 L1942.7,548.1 L1943.7,548.4 L1944.7,548.6 L1945.7,548.5 L1946.7,548.3 L1947.7,548.0 L1948.7,547.4 L1949.7,546.8 L1950.7,545.9 L1951.7,545.0 L1952.7,543.9 L1953.7,542.7 L1954.7,541.4 L1955.7,539.9 L1956.7,538.4 L1957.7,536.8 L1958.7,535.1 L1959.7,533.4 L1960.7,531.6 L1961.7,529.7 L1962.7,527.8 L1963.7,525.8 L1964.7,523.8 L1965.7,521.8 L1966.7,519.8 L1967.7,517.7 L1968.7,515.7 L1969.7,513.7 L1970.7,511.6 L1971.7,509.6 L1972.7,507.6 L1973.7,505.6 L1974.7,503.7 L1975.7,501.7 L1976.7,499.8 L1977.7,498.0 L1978.7,496.1 L1979.7,494.3 L1980.7,492.6 L1981.7,490.9 L1982.7,489.2 L1983.7,487.6 L1984.7,486.0 L1985.7,484.4 L1986.7,483.0 L1987.7,481.5 L1988.7,480.2 L1989.7,478.9 L1990.7,477.6 L1991.7,476.4 L1992.7,475.3 L1993.7,474.2 L1994.7,473.2 L1995.7,472.2 L1996.7,471.3 L1997.7,470.4 L1998.7,469.6 L1999.7,468.8 L2000.7,468.0 L2001.7,467.3 L2002.7,466.7 L2003.7,466.1 L2004.7,465.5 L2005.7,464.9 L2006.7,464.3 L2007.7,463.8 L2008.7,463.3 L2009.7,462.8 L2010.7,462.3 L2011.7,461.9 L2012.7,461.5 L2013.7,461.1 L2014.7,460.8 L2015.7,460.4 L2016.7,460.1 L2017.7,459.9 L2018.7,459.6 L2019.7,459.3 L2020.7,459.1 L2021.7,458.9 L2022.7,458.7 L2023.7,458.6 L2024.7,458.4 L2025.7,458.3 L2026.7,458.1 L2027.7,458.0 L2028.7,457.9 L2029.7,457.8 L2030.7,457.7 L2031.7,457.6 L2032.7,457.5 L2033.7,457.4 L2034.7,457.3 L2035.7,457.3 L2036.7,457.2 L2037.7,457.1 L2038.7,457.1 L2039.7,457.0 L2040.7,457.0 L2041.7,456.9 L2042.7,456.9 L2043.7,456.9 L2044.7,456.8 L2045.7,456.8 L2046.7,456.8 L2047.7,456.7 L2048.7,456.7 L2049.7,456.7 L2050.7,456.7 L2051.7,456.6 L2052.7,456.6 L2053.7,456.6 L2054.7,456.6 L2055.7,456.6 L2056.7,456.5 L2057.7,456.5 L2058.7,456.5 L2059.7,456.4 L2060.7,456.4 L2061.7,456.3 L2062.7,456.2 L2063.7,456.2 L2064.7,456.1 L2065.7,456.0 L2066.7,455.9 L2067.7,455.8 L2068.7,455.7 L2069.7,455.6 L2070.7,455.5 L2071.7,455.4 L2072.7,455.3 L2073.7,455.2 L2074.7,455.1 L2075.7,455.0 L2076.7,454.9 L2077.7,454.8 L2078.7,454.7 L2079.7,454.6 L2080.7,454.5 L2081.7,454.4 L2082.7,454.3 L2083.7,454.2 L2084.7,454.1 L2085.7,454.0 L2086.7,453.8 L2087.7,453.7 L2088.7,453.6 L2089.7,453.5 L2090.7,453.3 L2091.7,453.2 L2092.7,453.1 L2093.7,452.9 L2094.7,452.8 L2095.7,452.7 L2096.7,452.5 L2097.7,452.4 L2098.7,452.3 L2099.7,452.2 L2100.7,452.1 L2101.7,452.0 L2102.7,451.9 L2103.7,451.8 L2104.7,451.7 L2105.7,451.6 L2106.7,451.6 L2107.7,451.5 L2108.7,451.4 L2109.7,451.4 L2110.7,451.3 L2111.7,451.2 L2112.7,451.2 L2113.7,451.1 L2114.7,451.0 L2115.7,451.0 L2116.7,450.9 L2117.7,450.9 L2118.7,450.8 L2119.7,450.7 L2120.7,450.7 L2121.7,450.6 L2122.7,450.6 L2123.7,450.5 L2124.7,450.5 L2125.7,450.4 L2126.7,450.4 L2127.7,450.4 L2128.7,450.3 L2129.7,450.3 L2130.7,450.3 L2131.7,450.2 L2132.7,450.2 L2133.7,450.2 L2134.7,450.1 L2135.7,450.1 L2136.7,450.1 L2137.7,450.1 L2138.7,450.0 L2139.7,450.0 L2140.7,450.0 L2141.7,450.0 L2142.7,449.9 L2143.7,449.9 L2144.7,449.9 L2145.7,449.9 L2146.7,449.9 L2147.7,449.9 L2148.7,449.8 L2149.7,449.8 L2150.7,449.8 L2151.7,449.8 L2152.7,449.8 L2153.7,449.8 L2154.7,449.7 L2155.7,449.7 L2156.7,449.7 L2157.7,449.7 L2158.7,449.7 L2159.7,449.7 L2160.7,449.7 L2161.7,449.7 L2162.7,449.6 L2163.7,449.6 L2164.7,449.6 L2165.7,449.6 L2166.7,449.6 L2167.7,449.6 L2168.7,449.6 L2169.7,449.6 L2170.7,449.5 L2171.7,449.5 L2172.7,449.5 L2173.7,449.5 L2174.7,449.5 L2175.7,449.5 L2176.7,449.5 L2177.7,449.5 L2178.7,449.5 L2179.7,449.5 L2180.7,449.5 L2181.7,449.4 L2182.7,449.4 L2183.7,449.4 L2184.7,449.4 L2185.7,449.4 L2186.7,449.4 L2187.7,449.4 L2188.7,449.4 L2189.7,449.4 L2190.7,449.4 L2191.7,449.4 L2192.7,449.4 L2193.7,449.4 L2194.7,449.4 L2195.7,449.4 L2196.7,449.4 L2197.7,449.4 L2198.7,449.3 L2199.7,449.3 L2200.7,449.3 L2201.7,449.3 L2202.7,449.3 L2203.7,449.3 L2204.7,449.3 L2205.7,449.3 L2206.7,449.3 L2207.7,449.3 L2208.7,449.3 L2209.7,449.3 L2210.7,449.3 L2211.7,449.3 L2212.7,449.3 L2213.7,449.3 L2214.7,449.3 L2215.7,449.3 L2216.7,449.3 L2217.7,449.3 L2218.7,449.3 L2219.7,449.3 L2220.7,449.3 L2221.7,449.2 L2222.7,449.2 L2223.7,449.2 L2224.7,449.2 L2225.7,449.2 L2226.7,449.2 L2227.7,449.2 L2228.7,449.2 L2229.7,449.2 L2230.7,449.2 L2231.7,449.2 L2232.7,449.2 L2233.7,449.2 L2234.7,449.2 L2235.7,449.2 L2236.7,449.2 L2237.7,449.2 L2238.7,449.2 L2239.7,449.2 L2240.7,449.2 L2241.7,449.2 L2242.7,449.2 L2243.7,449.2 L2244.7,449.2 L2245.7,449.2 L2246.7,449.2 L2247.7,449.2 L2248.7,449.2 L2249.7,449.2 L2250.7,449.2 L2251.7,449.1 L2252.7,449.1 L2253.7,449.1 L2254.7,449.1 L2255.7,449.1 L2256.7,449.1 L2257.7,449.1 L2258.7,449.1 L2259.7,449.1 L2260.7,449.1 L2261.7,449.1 L2262.7,449.1 L2263.7,449.1 L2264.7,449.1 L2265.7,449.1 L2266.7,449.1 L2267.7,449.1 L2268.7,449.1 L2269.7,449.1 L2270.7,449.1 L2271.7,449.1 L2272.7,449.1 L2273.7,449.1 L2274.7,449.1 L2275.7,449.1 L2276.7,449.1 L2277.7,449.1 L2278.7,449.1 L2279.7,449.1 L2280.7,449.1 L2281.7,449.1 L2282.7,449.1 L2283.7,449.1 L2284.7,449.1 L2285.7,449.1 L2286.7,449.1 L2287.7,449.1 L2288.7,449.1 L2289.7,449.1 L2290.7,449.0 L2291.7,449.0 L2292.7,449.0 L2293.7,449.0 L2294.7,449.0 L2295.7,449.0 L2296.7,449.0 L2297.7,449.0 L2298.7,449.0 L2299.7,449.0 L2300.7,449.0 L2301.7,449.0 L2302.7,449.0 L2303.7,449.0 L2304.7,449.0 L2305.7,449.0 L2306.7,449.0 L2307.7,449.0 L2308.7,449.0 L2309.7,449.0 L2310.7,449.0 L2311.7,449.0 L2312.7,449.0 L2313.7,449.0 L2314.7,449.0 L2315.7,449.0 L2316.7,449.0 L2317.7,449.0 L2318.7,449.0 L2319.7,449.0 L2320.7,449.0 L2321.7,449.0 L2322.7,449.0 L2323.7,449.0" stroke="#ff0000"/>
<path d="M170.7,449.6 L171.7,449.6 L172.7,449.6 L173.7,449.6 L174.7,449.6 L175.7,449.6 L176.7,449.5 L177.7,449.5 L178.7,449.5 L179.7,449.5 L180.7,449.4 L181.7,449.4 L182.7,449.4 L183.7,449.3 L184.7,449.3 L185.7,449.3 L186.7,449.2 L187.7,449.2 L188.7,449.1 L189.7,449.1 L190.7,449.1 L191.7,449.0 L192.7,449.0 L193.7,448.9 L194.7,448.8 L195.7,448.8 L196.7,448.7 L197.7,448.7 L198.7,448.6 L199.7,448.6 L200.7,448.5 L201.7,448.5 L202.7,448.4 L203.7,448.4 L204.7,448.3 L205.7,448.2 L206.7,448.1 L207.7,448.1 L208.7,448.0 L209.7,447.9 L210.7,447.8 L211.7,447.7 L212.7,447.6 L213.7,447.5 L214.7,447.4 L215.7,447.3 L216.7,447.2 L217.7,447.1 L218.7,447.0 L219.7,446.9 L220.7,446.8 L221.7,446.7 L222.7,446.5 L223.7,446.4 L224.7,446.3 L225.7,446.2 L226.7,446.1 L227.7,446.0 L228.7,445.9 L229.7,445.8 L230.7,445.7 L231.7,445.5 L232.7,445.4 L233.7,445.3 L234.7,445.2 L235.7,445.0 L236.7,444.9 L237.7,444.8 L238.7,444.7 L239.7,444.6 L240.7,444.4 L241.7,444.3 L242.7,444.2 L243.7,444.1 L244.7,444.0 L245.7,443.8 L246.7,443.7 L247.7,443.6 L248.7,443.5 L249.7,443.3 L250.7,443.2 L251.7,443.0 L252.7,442.9 L253.7,442.8 L254.7,442.6 L255.7,442.5 L256.7,442.3 L257.7,442.2 L258.7,442.1 L259.7,441.9 L260.7,441.8 L261.7,441.7 L262.7,441.6 L263.7,441.6 L264.7,441.5 L265.7,441.5 L266.7,441.5 L267.7,441.4 L268.7,441.4 L269.7,441.4 L270.7,441.4 L271.7,441.4 L272.7,441.4 L273.7,441.4 L274.7,441.4 L275.7,441.4 L276.7,441.4 L277.7,441.4 L278.7,441.4 L279.7,441.4 L280.7,441.4 L281.7,441.4 L282.7,441.4 L283.7,441.4 L284.7,441.3 L285.7,441.3 L286.7,441.3 L287.7,441.2 L288.7,441.2 L289.7,441.2 L290.7,441.2 L291.7,441.2 L292.7,441.2 L293.7,441.2 L294.7,441.3 L295.7,441.3 L296.7,441.4 L297.7,441.4 L298.7,441.4 L299.7,441.4 L300.7,441.4 L301.7,441.3 L302.7,441.2 L303.7,441.1 L304.7,440.9 L305.7,440.8 L306.7,440.6 L307.7,440.3 L308.7,440.0 L309.7,439.6 L310.7,439.2 L311.7,438.6 L312.7,437.9 L313.7,437.1 L314.7,436.3 L315.7,435.5 L316.7,434.6 L317.7,433.6 L318.7,432.5 L319.7,431.4 L320.7,430.2 L321.7,428.9 L322.7,427.6 L323.7,426.1 L324.7,424.6 L325.7,423.0 L326.7,421.3 L327.7,419.4 L328.7,417.5 L329.7,415.5 L330.7,413.4 L331.7,411.1 L332.7,408.8 L333.7,406.3 L334.7,403.7 L335.7,401.0 L336.7,398.2 L337.7,395.3 L338.7,392.4 L339.7,389.3 L340.7,386.0 L341.7,382.7 L342.7,379.3 L343.7,375.7 L344.7,372.0 L345.7,368.2 L346.7,364.3 L347.7,360.2 L348.7,356.0 L349.7,351.7 L350.7,347.2 L351.7,342.7 L352.7,338.0 L353.7,333.3 L354.7,328.5 L355.7,323.6 L356.7,318.7 L357.7,313.7 L358.7,308.6 L359.7,303.5 L360.7,298.3 L361.7,293.2 L362.7,288.0 L363.7,282.9 L364.7,277.7 L365.7,272.6 L366.7,267.6 L367.7,262.6 L368.7,257.7 L369.7,253.0 L370.7,248.3 L371.7,243.9 L372.7,239.5 L373.7,235.4 L374.7,231.5 L375.7,227.8 L376.7,224.4 L377.7,221.2 L378.7,218.3 L379.7,215.7 L380.7,213.4 L381.7,211.4 L382.7,209.8 L383.7,208.5 L384.7,207.6 L385.7,207.1 L386.7,207.1 L387.7,207.4 L388.7,208.2 L389.7,209.4 L390.7,211.0 L391.7,213.1 L392.7,215.7 L393.7,218.7 L394.7,222.2 L395.7,226.2 L396.7,230.7 L397.7,235.6 L398.7,241.0 L399.7,246.8 L400.7,253.1 L401.7,259.9 L402.7,267.1 L403.7,274.7 L404.7,282.7 L405.7,291.1 L406.7,299.9 L407.7,309.1 L408.7,318.6 L409.7,328.5 L410.7,338.6 L411.7,349.0 L412.7,359.7 L413.7,370.5 L414.7,381.6 L415.7,392.9 L416.7,404.3 L417.7,415.8 L418.7,427.4 L419.7,439.1 L420.7,450.6 L421.7,460.8 L422.7,471.0 L423.7,481.2 L424.7,491.2 L425.7,501.2 L426.7,511.0 L427.7,520.7 L428.7,530.2 L429.7,539.4 L430.7,548.5 L431.7,557.3 L432.7,565.9 L433.7,574.1 L434.7,582.1 L435.7,589.7 L436.7,597.0 L437.7,604.0 L438.7,610.6 L439.7,616.8 L440.7,622.6 L441.7,628.0 L442.7,633.1 L443.7,637.7 L444.7,641.9 L445.7,645.7 L446.7,649.1 L447.7,652.1 L448.7,654.7 L449.7,656.9 L450.7,658.6 L451.7,660.0 L452.7,661.0 L453.7,661.6 L454.7,661.8 L455.7,661.6 L456.7,661.2 L457.7,660.3 L458.7,659.2 L459.7,657.7 L460.7,656.0 L461.7,653.9 L462.7,651.6 L463.7,649.1 L464.7,646.3 L465.7,643.3 L466.7,640.1 L467.7,636.7 L468.7,633.2 L469.7,629.5 L470.7,625.7 L471.7,621.8 L472.7,617.8 L473.7,613.8 L474.7,609.6 L475.7,605.4 L476.7,601.1 L477.7,596.8 L478.7,592.6 L479.7,588.3 L480.7,584.1 L481.7,579.9 L482.7,575.7 L483.7,571.5 L484.7,567.4 L485.7,563.3 L486.7,559.3 L487.7,555.3 L488.7,551.4 L489.7,547.7 L490.7,543.9 L491.7,540.3 L492.7,536.8 L493.7,533.3 L494.7,530.0 L495.7,526.8 L496.7,523.6 L497.7,520.6 L498.7,517.7 L499.7,514.9 L500.7,512.2 L501.7,509.5 L502.7,507.0 L503.7,504.6 L504.7,502.3 L505.7,500.1 L506.7,498.0 L507.7,496.0 L508.7,494.1 L509.7,492.3 L510.7,490.5 L511.7,488.9 L512.7,487.3 L513.7,485.8 L514.7,484.4 L515.7,483.1 L516.7,481.8 L517.7,480.6 L518.7,479.5 L519.7,478.4 L520.7,477.4 L521.7,476.5 L522.7,475.6 L523.7,474.8 L524.7,474.0 L525.7,473.2 L526.7,472.6 L527.7,471.9 L528.7,471.3 L529.7,470.8 L530.7,470.3 L531.7,469.8 L532.7,469.4 L533.7,469.0 L534.7,468.6 L535.7,468.3 L536.7,468.0 L537.7,467.7 L538.7,467.5 L539.7,467.2 L540.7,467.0 L541.7,466.8 L542.7,466.6 L543.7,466.4 L544.7,466.2 L545.7,466.0 L546.7,465.9 L547.7,465.7 L548.7,465.6 L549.7,465.5 L550.7,465.4 L551.7,465.3 L552.7,465.2 L553.7,465.1 L554.7,465.0 L555.7,464.9 L556.7,464.8 L557.7,464.8 L558.7,464.7 L559.7,464.7 L560.7,464.6 L561.7,464.5 L562.7,464.5 L563.7,464.5 L564.7,464.4 L565.7,464.4 L566.7,464.3 L567.7,464.2 L568.7,464.1 L569.7,464.0 L570.7,463.9 L571.7,463.8 L572.7,463.6 L573.7,463.4 L574.7,463.3 L575.7,463.1 L576.7,462.9 L577.7,462.7 L578.7,462.5 L579.7,462.3 L580.7,462.1 L581.7,461.8 L582.7,461.6 L583.7,461.4 L584.7,461.2 L585.7,461.0 L586.7,460.8 L587.7,460.6 L588.7,460.4 L589.7,460.3 L590.7,460.1 L591.7,459.9 L592.7,459.7 L593.7,459.5 L594.7,459.3 L595.7,459.2 L596.7,459.0 L597.7,458.8 L598.7,458.6 L599.7,458.4 L600.7,458.2 L601.7,458.0 L602.7,457.8 L603.7,457.6 L604.7,457.4 L605.7,457.2 L606.7,457.0 L607.7,456.8 L608.7,456.6 L609.7,456.4 L610.7,456.3 L611.7,456.1 L612.7,455.9 L613.7,455.7 L614.7,455.6 L615.7,455.4 L616.7,455.2 L617.7,455.1 L618.7,454.9 L619.7,454.8 L620.7,454.6 L621.7,454.5 L622.7,454.4 L623.7,454.3 L624.7,454.2 L625.7,454.1 L626.7,454.0 L627.7,453.9 L628.7,453.9 L629.7,453.8 L630.7,453.7 L631.7,453.6 L632.7,453.6 L633.7,453.5 L634.7,453.5 L635.7,453.4 L636.7,453.4 L637.7,453.3 L638.7,453.3 L639.7,453.2 L640.7,453.2 L641.7,453.1 L642.7,453.1 L643.7,453.1 L644.7,453.0 L645.7,453.0 L646.7,453.0 L647.7,452.9 L648.7,452.9 L649.7,452.9 L650.7,452.9 L651.7,452.8 L652.7,452.8 L653.7,452.8 L654.7,452.8 L655.7,452.7 L656.7,452.7 L657.7,452.7 L658.7,452.7 L659.7,452.7 L660.7,452.6 L661.7,452.6 L662.7,452.6 L663.7,452.6 L664.7,452.6 L665.7,452.6 L666.7,452.5 L667.7,452.5 L668.7,452.5 L669.7,452.5 L670.7,452.5 L671.7,452.5 L672.7,452.5 L673.7,452.4 L674.7,452.4 L675.7,452.4 L676.7,452.4 L677.7,452.4 L678.7,452.3 L679.7,452.3 L680.7,452.3 L681.7,452.3 L682.7,452.3 L683.7,452.2 L684.7,452.2 L685.7,452.2 L686.7,452.2 L687.7,452.2 L688.7,452.1 L689.7,452.1 L690.7,452.1 L691.7,452.1 L692.7,452.0 L693.7,452.0 L694.7,452.0 L695.7,452.0 L696.7,451.9 L697.7,451.9 L698.7,451.9 L699.7,451.9 L700.7,451.8 L701.7,451.8 L702.7,451.8 L703.7,451.8 L704.7,451.7 L705.7,451.7 L706.7,451.7 L707.7,451.7 L708.7,451.6 L709.7,451.6 L710.7,451.6 L711.7,451.6 L712.7,451.6 L713.7,451.5 L714.7,451.5 L715.7,451.5 L716.7,451.5 L717.7,451.5 L718.7,451.5 L719.7,451.4 L720.7,451.4 L721.7,451.4 L722.7,451.4 L723.7,451.4 L724.7,451.4 L725.7,451.3 L726.7,451.3 L727.7,451.3 L728.7,451.3 L729.7,451.3 L730.7,451.3 L731.7,451.2 L732.7,451.2 L733.7,451.2 L734.7,451.2 L735.7,451.2 L736.7,451.2 L737.7,451.2 L738.7,451.1 L739.7,451.1 L740.7,451.1 L741.7,451.1 L742.7,451.1 L743.7,451.1 L744.7,451.1 L745.7,451.0 L746.7,451.0 L747.7,451.0 L748.7,451.0 L749.7,451.0 L750.7,451.0 L751.7,451.0 L752.7,451.0 L753.7,450.9 L754.7,450.9 L755.7,450.9 L756.7,450.9 L757.7,450.9 L758.7,450.9 L759.7,450.9 L760.7,450.9 L761.7,450.9 L762.7,450.8 L763.7,450.8 L764.7,450.8 L765.7,450.8 L766.7,450.8 L767.7,450.8 L768.7,450.8 L769.7,450.8 L770.7,450.8 L771.7,450.7 L772.7,450.7 L773.7,450.7 L774.7,450.7 L775.7,450.7 L776.7,450.7 L777.7,450.7 L778.7,450.7 L779.7,450.7 L780.7,450.7 L781.7,450.7 L782.7,450.6 L783.7,450.6 L784.7,450.6 L785.7,450.6 L786.7,450.6 L787.7,450.6 L788.7,450.6 L789.7,450.6 L790.7,450.6 L791.7,450.6 L792.7,450.5 L793.7,450.5 L794.7,450.5 L795.7,450.5 L796.7,450.5 L797.7,450.5 L798.7,450.5 L799.7,450.5 L800.7,450.5 L801.7,450.5 L802.7,450.5 L803.7,450.5 L804.7,450.4 L805.7,450.4 L806.7,450.4 L807.7,450.4 L808.7,450.4 L809.7,450.4 L810.7,450.4 L811.7,450.4 L812.7,450.4 L813.7,450.4 L814.7,450.4 L815.7,450.4 L816.7,450.4 L817.7,450.3 L818.7,450.3 L819.7,450.3 L820.7,450.3 L821.7,450.3 L822.7,450.3 L823.7,450.3 L824.7,450.3 L825.7,450.3 L826.7,450.3 L827.7,450.3 L828.7,450.3 L829.7,450.3 L830.7,450.3 L831.7,450.3 L832.7,450.2 L833.7,450.2 L834.7,450.2 L835.7,450.2 L836.7,450.2 L837.7,450.2 L838.7,450.2 L839.7,450.2 L840.7,450.2 L841.7,450.2 L842.7,450.2 L843.7,450.2 L844.7,450.2 L845.7,450.2 L846.7,450.2 L847.7,450.2 L848.7,450.2 L849.7,450.2 L850.7,450.2 L851.7,450.1 L852.7,450.1 L853.7,450.1 L854.7,450.1 L855.7,450.1 L856.7,450.1 L857.7,450.1 L858.7,450.1 L859.7,450.1 L860.7,450.1 L861.7,450.1 L862.7,450.1 L863.7,450.1 L864.7,450.1 L865.7,450.1 L866.7,450.1 L867.7,450.1 L868.7,450.1 L869.7,450.1 L870.7,450.1 L871.7,450.1 L872.7,450.1 L873.7,450.1 L874.7,450.1 L875.7,450.0 L876.7,450.0 L877.7,450.0 L878.7,450.0 L879.7,450.0 L880.7,450.0 L881.7,450.0 L882.7,450.0 L883.7,450.0 L884.7,450.0 L885.7,450.0 L886.7,450.0 L887.7,450.0 L888.7,450.0 L889.7,450.0 L890.7,450.0 L891.7,450.0 L892.7,450.0 L893.7,450.0 L894.7,450.0 L895.7,450.0 L896.7,450.0 L897.7,450.0 L898.7,450.0 L899.7,450.0 L900.7,450.0 L901.7,450.0 L902.7,450.0 L903.7,450.0 L904.7,449.9 L905.7,449.9 L906.7,449.9 L907.7,449.9 L908.7,449.9 L909.7,449.9 L910.7,449.9 L911.7,449.9 L912.7,449.9 L913.7,449.9 L914.7,449.9 L915.7,449.9 L916.7,449.9 L917.7,449.9 L918.7,449.9 L919.7,449.8 L920.7,449.8 L921.7,449.8 L922.7,449.8 L923.7,449.7 L924.7,449.7 L925.7,449.7 L926.7,449.6 L927.7,449.6 L928.7,449.5 L929.7,449.5 L930.7,449.5 L931.7,449.4 L932.7,449.4 L933.7,449.3 L934.7,449.3 L935.7,449.2 L936.7,449.2 L937.7,449.1 L938.7,449.0 L939.7,449.0 L940.7,448.9 L941.7,448.9 L942.7,448.8 L943.7,448.8 L944.7,448.7 L945.7,448.6 L946.7,448.6 L947.7,448.5 L948.7,448.4 L949.7,448.4 L950.7,448.3 L951.7,448.2 L952.7,448.1 L953.7,448.0 L954.7,447.9 L955.7,447.8 L956.7,447.7 L957.7,447.6 L958.7,447.5 L959.7,447.4 L960.7,447.3 L961.7,447.2 L962.7,447.1 L963.7,446.9 L964.7,446.8 L965.7,446.7 L966.7,446.6 L967.7,446.5 L968.7,446.4 L969.7,446.3 L970.7,446.2 L971.7,446.1 L972.7,445.9 L973.7,445.8 L974.7,445.7 L975.7,445.6 L976.7,445.4 L977.7,445.3 L978.7,445.2 L979.7,445.1 L980.7,444.8 L981.7,444.7 L982.7,444.6 L983.7,444.5 L984.7,444.3 L985.7,444.2 L986.7,444.1 L987.7,444.0 L988.7,443.9 L989.7,443.8 L990.7,443.6 L991.7,443.5 L992.7,443.4 L993.7,443.2 L994.7,443.1 L995.7,442.9 L996.7,442.8 L997.7,442.6 L998.7,442.5 L999.7,442.4 L1000.7,442.2 L1001.7,442.1 L1002.7,442.0 L1003.7,441.9 L1004.7,441.8 L1005.7,441.7 L1006.7,441.6 L1007.7,441.6 L1008.7,441.5 L1009.7,441.5 L1010.7,441.5 L1011.7,441.5 L1012.7,441.5 L1013.7,441.5 L1014.7,441.5 L1015.7,441.4 L1016.7,441.4 L1017.7,441.4 L1018.7,441.4 L1019.7,441.4 L1020.7,441.4 L1021.7,441.4 L1022.7,441.4 L1023.7,441.4 L1024.7,441.4 L1025.7,441.4 L1026.7,441.4 L1027.7,441.4 L1028.7,441.3 L1029.7,441.3 L1030.7,441.3 L1031.7,441.2 L1032.7,441.2 L1033.7,441.2 L1034.7,441.2 L1035.7,441.2 L1036.7,441.3 L1037.7,441.3 L1038.7,441.4 L1039.7,441.4 L1040.7,441.5 L1041.7,441.5 L1042.7,441.5 L1043.7,441.4 L1044.7,441.4 L1045.7,441.3 L1046.7,441.1 L1047.7,441.0 L1048.7,440.8 L1049.7,440.6 L1050.7,440.4 L1051.7,440.1 L1052.7,439.7 L1053.7,439.3 L1054.7,438.7 L1055.7,438.0 L1056.7,437.3 L1057.7,436.5 L1058.7,435.6 L1059.7,434.7 L1060.7,433.7 L1061.7,432.7 L1062.7,431.6 L1063.7,430.4 L1064.7,429.1 L1065.7,427.8 L1066.7,426.4 L1067.7,424.8 L1068.7,423.2 L1069.7,421.5 L1070.7,419.7 L1071.7,417.8 L1072.7,415.8 L1073.7,413.7 L1074.7,411.5 L1075.7,409.2 L1076.7,406.7 L1077.7,404.2 L1078.7,401.5 L1079.7,398.7 L1080.7,395.9 L1081.7,392.9 L1082.7,389.8 L1083.7,386.6 L1084.7,383.3 L1085.7,379.9 L1086.7,376.4 L1087.7,372.7 L1088.7,368.9 L1089.7,365.0 L1090.7,361.0 L1091.7,356.8 L1092.7,352.5 L1093.7,348.1 L1094.7,343.6 L1095.7,339.0 L1096.7,334.3 L1097.7,329.5 L1098.7,324.6 L1099.7,319.7 L1100.7,314.7 L1101.7,309.7 L1102.7,304.6 L1103.7,299.5 L1104.7,294.3 L1105.7,289.2 L1106.7,284.0 L1107.7,278.9 L1108.7,273.8 L1109.7,268.8 L1110.7,263.8 L1111.7,259.0 L1112.7,254.2 L1113.7,249.6 L1114.7,245.1 L1115.7,240.8 L1116.7,236.7 L1117.7,232.8 L1118.7,229.1 L1119.7,225.6 L1120.7,222.4 L1121.7,219.5 L1122.7,216.8 L1123.7,214.5 L1124.7,212.5 L1125.7,210.9 L1126.7,209.6 L1127.7,208.7 L1128.7,208.1 L1129.7,208.0 L1130.7,208.3 L1131.7,209.0 L1132.7,210.2 L1133.7,211.8 L1134.7,213.8 L1135.7,216.4 L1136.7,219.3 L1137.7,222.8 L1138.7,226.7 L1139.7,231.1 L1140.7,235.9 L1141.7,241.3 L1142.7,247.0 L1143.7,253.3 L1144.7,260.0 L1145.7,267.1 L1146.7,274.6 L1147.7,282.6 L1148.7,290.9 L1149.7,299.6 L1150.7,308.7 L1151.7,318.2 L1152.7,327.9 L1153.7,338.0 L1154.7,348.3 L1155.7,358.9 L1156.7,369.8 L1157.7,380.8 L1158.7,392.0 L1159.7,403.3 L1160.7,414.8 L1161.7,426.3 L1162.7,438.0 L1163.7,449.6 L1164.7,459.8 L1165.7,470.0 L1166.7,480.2 L1167.7,490.2 L1168.7,500.2 L1169.7,510.0 L1170.7,519.7 L1171.7,529.2 L1172.7,538.5 L1173.7,547.6 L1174.7,556.4 L1175.7,565.0 L1176.7,573.3 L1177.7,581.3 L1178.7,589.0 L1179.7,596.3 L1180.7,603.3 L1181.7,609.9 L1182.7,616.2 L1183.7,622.0 L1184.7,627.5 L1185.7,632.6 L1186.7,637.3 L1187.7,641.5 L1188.7,645.4 L1189.7,648.8 L1190.7,651.8 L1191.7,654.5 L1192.7,656.7 L1193.7,658.5 L1194.7,659.9 L1195.7,660.9 L1196.7,661.5 L1197.7,661.8 L1198.7,661.7 L1199.7,661.2 L1200.7,660.4 L1201.7,659.3 L1202.7,657.9 L1203.7,656.2 L1204.7,654.2 L1205.7,651.9 L1206.7,649.4 L1207.7,646.6 L1208.7,643.6 L1209.7,640.4 L1210.7,637.0 L1211.7,633.5 L1212.7,629.9 L1213.7,626.1 L1214.7,622.2 L1215.7,618.2 L1216.7,614.2 L1217.7,610.0 L1218.7,605.8 L1219.7,601.5 L1220.7,597.3 L1221.7,593.0 L1222.7,588.8 L1223.7,584.5 L1224.7,580.3 L1225.7,576.1 L1226.7,571.9 L1227.7,567.8 L1228.7,563.7 L1229.7,559.7 L1230.7,555.7 L1231.7,551.8 L1232.7,548.0 L1233.7,544.3 L1234.7,540.7 L1235.7,537.1 L1236.7,533.7 L1237.7,530.3 L1238.7,527.1 L1239.7,524.0 L1240.7,520.9 L1241.7,518.0 L1242.7,515.2 L1243.7,512.4 L1244.7,509.8 L1245.7,507.3 L1246.7,504.9 L1247.7,502.5 L1248.7,500.3 L1249.7,498.2 L1250.7,496.2 L1251.7,494.3 L1252.7,492.4 L1253.7,490.7 L1254.7,489.0 L1255.7,487.5 L1256.7,486.0 L1257.7,484.5 L1258.7,483.2 L1259.7,481.9 L1260.7,480.7 L1261.7,479.6 L1262.7,478.5 L1263.7,477.5 L1264.7,476.6 L1265.7,475.7 L1266.7,474.8 L1267.7,474.1 L1268.7,473.3 L1269.7,472.6 L1270.7,472.0 L1271.7,471.4 L1272.7,470.8 L1273.7,470.3 L1274.7,469.9 L1275.7,469.4 L1276.7,469.0 L1277.7,468.7 L1278.7,468.3 L1279.7,468.0 L1280.7,467.7 L1281.7,467.5 L1282.7,467.2 L1283.7,467.0 L1284.7,466.8 L1285.7,466.6 L1286.7,466.4 L1287.7,466.2 L1288.7,466.0 L1289.7,465.9 L1290.7,465.7 L1291.7,465.6 L1292.7,465.5 L1293.7,465.4 L1294.7,465.3 L1295.7,465.2 L1296.7,465.1 L1297.7,465.0 L1298.7,464.9 L1299.7,464.8 L1300.7,464.8 L1301.7,464.7 L1302.7,464.7 L1303.7,464.6 L1304.7,464.6 L1305.7,464.5 L1306.7,464.5 L1307.7,464.4 L1308.7,464.4 L1309.7,464.3 L1310.7,464.2 L1311.7,464.2 L1312.7,464.0 L1313.7,463.9 L1314.7,463.8 L1315.7,463.6 L1316.7,463.5 L1317.7,463.3 L1318.7,463.1 L1319.7,462.9 L1320.7,462.7 L1321.7,462.5 L1322.7,462.3 L1323.7,462.1 L1324.7,461.9 L1325.7,461.7 L1326.7,461.4 L1327.7,461.2 L1328.7,461.0 L1329.7,460.8 L1330.7,460.6 L1331.7,460.5 L1332.7,460.3 L1333.7,460.1 L1334.7,459.9 L1335.7,459.7 L1336.7,459.5 L1337.7,459.4 L1338.7,459.2 L1339.7,459.0 L1340.7,458.8 L1341.7,458.6 L1342.7,458.4 L1343.7,458.2 L1344.7,458.0 L1345.7,457.8 L1346.7,457.6 L1347.7,457.4 L1348.7,457.2 L1349.7,457.0 L1350.7,456.8 L1351.7,456.7 L1352.7,456.5 L1353.7,456.3 L1354.7,456.1 L1355.7,455.9 L1356.7,455.8 L1357.7,455.6 L1358.7,455.4 L1359.7,455.3 L1360.7,455.1 L1361.7,454.9 L1362.7,454.8 L1363.7,454.7 L1364.7,454.5 L1365.7,454.4 L1366.7,454.3 L1367.7,454.2 L1368.7,454.1 L1369.7,454.0 L1370.7,453.9 L1371.7,453.9 L1372.7,453.8 L1373.7,453.7 L1374.7,453.6 L1375.7,453.6 L1376.7,453.5 L1377.7,453.5 L1378.7,453.4 L1379.7,453.4 L1380.7,453.3 L1381.7,453.3 L1382.7,453.2 L1383.7,453.2 L1384.7,453.1 L1385.7,453.1 L1386.7,453.1 L1387.7,453.0 L1388.7,453.0 L1389.7,453.0 L1390.7,452.9 L1391.7,452.9 L1392.7,452.9 L1393.7,452.9 L1394.7,452.8 L1395.7,452.8 L1396.7,452.8 L1397.7,452.8 L1398.7,452.7 L1399.7,452.7 L1400.7,452.7 L1401.7,452.7 L1402.7,452.7 L1403.7,452.6 L1404.7,452.6 L1405.7,452.6 L1406.7,452.6 L1407.7,452.6 L1408.7,452.6 L1409.7,452.5 L1410.7,452.5 L1411.7,452.5 L1412.7,452.5 L1413.7,452.5 L1414.7,452.5 L1415.7,452.5 L1416.7,452.4 L1417.7,452.4 L1418.7,452.4 L1419.7,452.4 L1420.7,452.4 L1421.7,452.4 L1422.7,452.3 L1423.7,452.3 L1424.7,452.3 L1425.7,452.3 L1426.7,452.2 L1427.7,452.2 L1428.7,452.2 L1429.7,452.2 L1430.7,452.2 L1431.7,452.1 L1432.7,452.1 L1433.7,452.1 L1434.7,452.1 L1435.7,452.0 L1436.7,452.0 L1437.7,452.0 L1438.7,452.0 L1439.7,451.9 L1440.7,451.9 L1441.7,451.9 L1442.7,451.9 L1443.7,451.8 L1444.7,451.8 L1445.7,451.8 L1446.7,451.8 L1447.7,451.7 L1448.7,451.7 L1449.7,451.7 L1450.7,451.7 L1451.7,451.6 L1452.7,451.6 L1453.7,451.6 L1454.7,451.6 L1455.7,451.6 L1456.7,451.5 L1457.7,451.5 L1458.7,451.5 L1459.7,451.5 L1460.7,451.5 L1461.7,451.5 L1462.7,451.4 L1463.7,451.4 L1464.7,451.4 L1465.7,451.4 L1466.7,451.4 L1467.7,451.4 L1468.7,451.3 L1469.7,451.3 L1470.7,451.3 L1471.7,451.3 L1472.7,451.3 L1473.7,451.3 L1474.7,451.2 L1475.7,451.2 L1476.7,451.2 L1477.7,451.2 L1478.7,451.2 L1479.7,451.2 L1480.7,451.2 L1481.7,451.1 L1482.7,451.1 L1483.7,451.1 L1484.7,451.1 L1485.7,451.1 L1486.7,451.1 L1487.7,451.1 L1488.7,451.0 L1489.7,451.0 L1490.7,451.0 L1491.7,451.0 L1492.7,451.0 L1493.7,451.0 L1494.7,451.0 L1495.7,451.0 L1496.7,450.9 L1497.7,450.9 L1498.7,450.9 L1499.7,450.9 L1500.7,450.9 L1501.7,450.9 L1502.7,450.9 L1503.7,450.9 L1504.7,450.9 L1505.7,450.8 L1506.7,450.8 L1507.7,450.8 L1508.7,450.8 L1509.7,450.8 L1510.7,450.8 L1511.7,450.8 L1512.7,450.8 L1513.7,450.8 L1514.7,450.8 L1515.7,450.7 L1516.7,450.7 L1517.7,450.7 L1518.7,450.7 L1519.7,450.7 L1520.7,450.7 L1521.7,450.7 L1522.7,450.7 L1523.7,450.7 L1524.7,450.7 L1525.7,450.6 L1526.7,450.6 L1527.7,450.6 L1528.7,450.6 L1529.7,450.6 L1530.7,450.6 L1531.7,450.6 L1532.7,450.6 L1533.7,450.6 L1534.7,450.6 L1535.7,450.5 L1536.7,450.5 L1537.7,450.5 L1538.7,450.5 L1539.7,450.5 L1540.7,450.5 L1541.7,450.5 L1542.7,450.5 L1543.7,450.5 L1544.7,450.5 L1545.7,450.5 L1546.7,450.5 L1547.7,450.4 L1548.7,450.4 L1549.7,450.4 L1550.7,450.4 L1551.7,450.4 L1552.7,450.4 L1553.7,450.4 L1554.7,450.4 L1555.7,450.4 L1556.7,450.4 L1557.7,450.4 L1558.7,450.4 L1559.7,450.4 L1560.7,450.3 L1561.7,450.3 L1562.7,450.3 L1563.7,450.3 L1564.7,450.3 L1565.7,450.3 L1566.7,450.3 L1567.7,450.3 L1568.7,450.3 L1569.7,450.3 L1570.7,450.3 L1571.7,450.3 L1572.7,450.3 L1573.7,450.3 L1574.7,450.3 L1575.7,450.2 L1576.7,450.2 L1577.7,450.2 L1578.7,450.2 L1579.7,450.2 L1580.7,450.2 L1581.7,450.2 L1582.7,450.2 L1583.7,450.2 L1584.7,450.2 L1585.7,450.2 L1586.7,450.2 L1587.7,450.2 L1588.7,450.2 L1589.7,450.2 L1590.7,450.2 L1591.7,450.2 L1592.7,450.2 L1593.7,450.2 L1594.7,450.1 L1595.7,450.1 L1596.7,450.1 L1597.7,450.1 L1598.7,450.1 L1599.7,450.1 L1600.7,450.1 L1601.7,450.1 L1602.7,450.1 L1603.7,450.1 L1604.7,450.1 L1605.7,450.1 L1606.7,450.1 L1607.7,450.1 L1608.7,450.1 L1609.7,450.1 L1610.7,450.1 L1611.7,450.1 L1612.7,450.1 L1613.7,450.1 L1614.7,450.1 L1615.7,450.1 L1616.7,450.1 L1617.7,450.1 L1618.7,450.0 L1619.7,450.0 L1620.7,450.0 L1621.7,450.0 L1622.7,450.0 L1623.7,450.0 L1624.7,450.0 L1625.7,450.0 L1626.7,450.0 L1627.7,450.0 L1628.7,450.0 L1629.7,450.0 L1630.7,450.0 L1631.7,450.0 L1632.7,450.0 L1633.7,450.0 L1634.7,450.0 L1635.7,450.0 L1636.7,450.0 L1637.7,450.0 L1638.7,450.0 L1639.7,450.0 L1640.7,450.0 L1641.7,450.0 L1642.7,450.0 L1643.7,450.0 L1644.7,450.0 L1645.7,450.0 L1646.7,450.0 L1647.7,449.9 L1648.7,449.9 L1649.7,449.9 L1650.7,449.9 L1651.7,449.9 L1652.7,449.9 L1653.7,449.9 L1654.7,449.9 L1655.7,449.9 L1656.7,449.9 L1657.7,449.9 L1658.7,449.9 L1659.7,449.9 L1660.7,449.9 L1661.7,449.9 L1662.7,449.9 L1663.7,449.9 L1664.7,449.9 L1665.7,449.9 L1666.7,449.8 L1667.7,449.8 L1668.7,449.8 L1669.7,449.8 L1670.7,449.7 L1671.7,449.7 L1672.7,449.7 L1673.7,449.6 L1674.7,449.6 L1675.7,449.5 L1676.7,449.5 L1677.7,449.5 L1678.7,449.4 L1679.7,449.4 L1680.7,449.3 L1681.7,449.3 L1682.7,449.2 L1683.7,449.2 L1684.7,449.1 L1685.7,449.1 L1686.7,449.0 L1687.7,448.9 L1688.7,448.9 L1689.7,448.8 L1690.7,448.8 L1691.7,448.7 L1692.7,448.7 L1693.7,448.6 L1694.7,448.5 L1695.7,448.5 L1696.7,448.4 L1697.7,448.3 L1698.7,448.2 L1699.7,448.1 L1700.7,448.1 L1701.7,448.0 L1702.7,447.9 L1703.7,447.8 L1704.7,447.7 L1705.7,447.6 L1706.7,447.4 L1707.7,447.3 L1708.7,447.2 L1709.7,447.1 L1710.7,447.0 L1711.7,446.9 L1712.7,446.8 L1713.7,446.7 L1714.7,446.6 L1715.7,446.5 L1716.7,446.4 L1717.7,446.3 L1718.7,446.1 L1719.7,446.0 L1720.7,445.9 L1721.7,445.8 L1722.7,445.7 L1723.7,445.6 L1724.7,445.3 L1725.7,445.2 L1726.7,445.1 L1727.7,445.0 L1728.7,444.8 L1729.7,444.7 L1730.7,444.6 L1731.7,444.5 L1732.7,444.4 L1733.7,444.3 L1734.7,444.1 L1735.7,444.0 L1736.7,443.9 L1737.7,443.8 L1738.7,443.7 L1739.7,443.5 L1740.7,443.4 L1741.7,443.3 L1742.7,443.1 L1743.7,443.0 L1744.7,442.8 L1745.7,442.7 L1746.7,442.6 L1747.7,442.4 L1748.7,442.3 L1749.7,442.2 L1750.7,442.1 L1751.7,442.0 L1752.7,441.9 L1753.7,441.8 L1754.7,441.8 L1755.7,441.7 L1756.7,441.7 L1757.7,441.7 L1758.7,441.7 L1759.7,441.7 L1760.7,441.7 L1761.7,441.6 L1762.7,441.6 L1763.7,441.6 L1764.7,441.6 L1765.7,441.6 L1766.7,441.6 L1767.7,441.6 L1768.7,441.6 L1769.7,441.6 L1770.7,441.6 L1771.7,441.6 L1772.7,441.6 L1773.7,441.6 L1774.7,441.6 L1775.7,441.5 L1776.7,441.5 L1777.7,441.5 L1778.7,441.4 L1779.7,441.4 L1780.7,441.4 L1781.7,441.4 L1782.7,441.4 L1783.7,441.5 L1784.7,441.5 L1785.7,441.6 L1786.7,441.6 L1787.7,441.6 L1788.7,441.7 L1789.7,441.7 L1790.7,441.6 L1791.7,441.6 L1792.7,441.5 L1793.7,441.3 L1794.7,441.2 L1795.7,441.0 L1796.7,440.9 L1797.7,440.6 L1798.7,440.4 L1799.7,440.0 L1800.7,439.6 L1801.7,439.0 L1802.7,438.4 L1803.7,437.6 L1804.7,436.9 L1805.7,436.0 L1806.7,435.2 L1807.7,434.2 L1808.7,433.2 L1809.7,432.1 L1810.7,431.0 L1811.7,429.7 L1812.7,428.4 L1813.7,427.1 L1814.7,425.6 L1815.7,424.0 L1816.7,422.4 L1817.7,420.6 L1818.7,418.8 L1819.7,416.9 L1820.7,414.8 L1821.7,412.7 L1822.7,410.4 L1823.7,408.0 L1824.7,405.5 L1825.7,402.9 L1826.7,400.2 L1827.7,397.4 L1828.7,394.5 L1829.7,391.6 L1830.7,388.5 L1831.7,385.3 L1832.7,381.9 L1833.7,378.5 L1834.7,374.9 L1835.7,371.3 L1836.7,367.4 L1837.7,363.5 L1838.7,359.5 L1839.7,355.3 L1840.7,351.0 L1841.7,346.6 L1842.7,342.1 L1843.7,337.5 L1844.7,332.8 L1845.7,328.1 L1846.7,323.3 L1847.7,318.4 L1848.7,313.5 L1849.7,308.6 L1850.7,303.6 L1851.7,298.6 L1852.7,293.6 L1853.7,288.5 L1854.7,283.5 L1855.7,278.5 L1856.7,273.6 L1857.7,268.8 L1858.7,264.0 L1859.7,259.4 L1860.7,254.9 L1861.7,250.5 L1862.7,246.3 L1863.7,242.2 L1864.7,238.4 L1865.7,234.7 L1866.7,231.3 L1867.7,228.2 L1868.7,225.3 L1869.7,222.7 L1870.7,220.4 L1871.7,218.4 L1872.7,216.8 L1873.7,215.5 L1874.7,214.5 L1875.7,214.0 L1876.7,213.8 L1877.7,214.1 L1878.7,214.7 L1879.7,215.8 L1880.7,217.3 L1881.7,219.3 L1882.7,221.7 L1883.7,224.6 L1884.7,227.9 L1885.7,231.7 L1886.7,235.9 L1887.7,240.6 L1888.7,245.7 L1889.7,251.3 L1890.7,257.4 L1891.7,263.9 L1892.7,270.8 L1893.7,278.1 L1894.7,285.8 L1895.7,293.9 L1896.7,302.4 L1897.7,311.2 L1898.7,320.4 L1899.7,329.9 L1900.7,339.7 L1901.7,349.8 L1902.7,360.1 L1903.7,370.6 L1904.7,381.4 L1905.7,392.3 L1906.7,403.3 L1907.7,414.5 L1908.7,425.8 L1909.7,437.1 L1910.7,448.5 L1911.7,458.6 L1912.7,468.6 L1913.7,478.5 L1914.7,488.4 L1915.7,498.1 L1916.7,507.8 L1917.7,517.2 L1918.7,526.6 L1919.7,535.7 L1920.7,544.6 L1921.7,553.2 L1922.7,561.7 L1923.7,569.8 L1924.7,577.6 L1925.7,585.2 L1926.7,592.4 L1927.7,599.2 L1928.7,605.8 L1929.7,611.9 L1930.7,617.7 L1931.7,623.1 L1932.7,628.1 L1933.7,632.7 L1934.7,636.9 L1935.7,640.7 L1936.7,644.1 L1937.7,647.1 L1938.7,649.7 L1939.7,651.9 L1940.7,653.7 L1941.7,655.1 L1942.7,656.2 L1943.7,656.8 L1944.7,657.1 L1945.7,657.0 L1946.7,656.6 L1947.7,655.9 L1948.7,654.8 L1949.7,653.5 L1950.7,651.8 L1951.7,649.9 L1952.7,647.7 L1953.7,645.2 L1954.7,642.5 L1955.7,639.6 L1956.7,636.5 L1957.7,633.3 L1958.7,629.8 L1959.7,626.3 L1960.7,622.6 L1961.7,618.8 L1962.7,614.9 L1963.7,610.9 L1964.7,606.9 L1965.7,602.8 L1966.7,598.6 L1967.7,594.4 L1968.7,590.3 L1969.7,586.1 L1970.7,582.0 L1971.7,577.8 L1972.7,573.7 L1973.7,569.6 L1974.7,565.6 L1975.7,561.6 L1976.7,557.6 L1977.7,553.8 L1978.7,550.0 L1979.7,546.2 L1980.7,542.6 L1981.7,539.0 L1982.7,535.6 L1983.7,532.2 L1984.7,528.9 L1985.7,525.7 L1986.7,522.6 L1987.7,519.6 L1988.7,516.7 L1989.7,513.9 L1990.7,511.3 L1991.7,508.8 L1992.7,506.4 L1993.7,504.1 L1994.7,501.9 L1995.7,499.9 L1996.7,497.9 L1997.7,496.0 L1998.7,494.2 L1999.7,492.5 L2000.7,491.0 L2001.7,489.5 L2002.7,488.0 L2003.7,486.7 L2004.7,485.4 L2005.7,484.1 L2006.7,482.9 L2007.7,481.7 L2008.7,480.6 L2009.7,479.5 L2010.7,478.5 L2011.7,477.6 L2012.7,476.7 L2013.7,475.9 L2014.7,475.1 L2015.7,474.4 L2016.7,473.7 L2017.7,473.1 L2018.7,472.5 L2019.7,472.0 L2020.7,471.5 L2021.7,471.0 L2022.7,470.6 L2023.7,470.2 L2024.7,469.8 L2025.7,469.5 L2026.7,469.2 L2027.7,468.9 L2028.7,468.6 L2029.7,468.4 L2030.7,468.2 L2031.7,468.0 L2032.7,467.8 L2033.7,467.6 L2034.7,467.4 L2035.7,467.2 L2036.7,467.1 L2037.7,466.9 L2038.7,466.8 L2039.7,466.7 L2040.7,466.6 L2041.7,466.5 L2042.7,466.4 L2043.7,466.3 L2044.7,466.2 L2045.7,466.1 L2046.7,466.1 L2047.7,466.0 L2048.7,465.9 L2049.7,465.9 L2050.7,465.8 L2051.7,465.8 L2052.7,465.7 L2053.7,465.7 L2054.7,465.6 L2055.7,465.6 L2056.7,465.5 L2057.7,465.5 L2058.7,465.4 L2059.7,465.3 L2060.7,465.2 L2061.7,465.1 L2062.7,464.9 L2063.7,464.8 L2064.7,464.6 L2065.7,464.4 L2066.7,464.2 L2067.7,464.1 L2068.7,463.9 L2069.7,463.7 L2070.7,463.4 L2071.7,463.2 L2072.7,463.0 L2073.7,462.8 L2074.7,462.6 L2075.7,462.4 L2076.7,462.2 L2077.7,462.0 L2078.7,461.8 L2079.7,461.6 L2080.7,461.4 L2081.7,461.1 L2082.7,460.9 L2083.7,460.6 L2084.7,460.4 L2085.7,460.1 L2086.7,459.9 L2087.7,459.6 L2088.7,459.3 L2089.7,459.1 L2090.7,458.8 L2091.7,458.6 L2092.7,458.3 L2093.7,458.0 L2094.7,457.7 L2095.7,457.5 L2096.7,457.2 L2097.7,456.9 L2098.7,456.7 L2099.7,456.4 L2100.7,456.2 L2101.7,456.0 L2102.7,455.8 L2103.7,455.6 L2104.7,455.5 L2105.7,455.3 L2106.7,455.2 L2107.7,455.0 L2108.7,454.9 L2109.7,454.7 L2110.7,454.6 L2111.7,454.5 L2112.7,454.3 L2113.7,454.2 L2114.7,454.1 L2115.7,453.9 L2116.7,453.8 L2117.7,453.7 L2118.7,453.6 L2119.7,453.4 L2120.7,453.3 L2121.7,453.2 L2122.7,453.1 L2123.7,453.0 L2124.7,452.9 L2125.7,452.8 L2126.7,452.7 L2127.7,452.7 L2128.7,452.6 L2129.7,452.5 L2130.7,452.4 L2131.7,452.4 L2132.7,452.3 L2133.7,452.2 L2134.7,452.2 L2135.7,452.1 L2136.7,452.1 L2137.7,452.0 L2138.7,452.0 L2139.7,451.9 L2140.7,451.9 L2141.7,451.8 L2142.7,451.8 L2143.7,451.7 L2144.7,451.7 L2145.7,451.7 L2146.7,451.6 L2147.7,451.6 L2148.7,451.5 L2149.7,451.5 L2150.7,451.5 L2151.7,451.4 L2152.7,451.4 L2153.7,451.4 L2154.7,451.4 L2155.7,451.3 L2156.7,451.3 L2157.7,451.3 L2158.7,451.2 L2159.7,451.2 L2160.7,451.2 L2161.7,451.2 L2162.7,451.1 L2163.7,451.1 L2164.7,451.1 L2165.7,451.1 L2166.7,451.0 L2167.7,451.0 L2168.7,451.0 L2169.7,451.0 L2170.7,450.9 L2171.7,450.9 L2172.7,450.9 L2173.7,450.9 L2174.7,450.9 L2175.7,450.8 L2176.7,450.8 L2177.7,450.8 L2178.7,450.8 L2179.7,450.8 L2180.7,450.8 L2181.7,450.7 L2182.7,450.7 L2183.7,450.7 L2184.7,450.7 L2185.7,450.7 L2186.7,450.7 L2187.7,450.7 L2188.7,450.6 L2189.7,450.6 L2190.7,450.6 L2191.7,450.6 L2192.7,450.6 L2193.7,450.6 L2194.7,450.6 L2195.7,450.6 L2196.7,450.6 L2197.7,450.5 L2198.7,450.5 L2199.7,450.5 L2200.7,450.5 L2201.7,450.5 L2202.7,450.5 L2203.7,450.5 L2204.7,450.5 L2205.7,450.5 L2206.7,450.4 L2207.7,450.4 L2208.7,450.4 L2209.7,450.4 L2210.7,450.4 L2211.7,450.4 L2212.7,450.4 L2213.7,450.4 L2214.7,450.4 L2215.7,450.4 L2216.7,450.4 L2217.7,450.4 L2218.7,450.3 L2219.7,450.3 L2220.7,450.3 L2221.7,450.3 L2222.7,450.3 L2223.7,450.3 L2224.7,450.3 L2225.7,450.3 L2226.7,450.3 L2227.7,450.3 L2228.7,450.3 L2229.7,450.3 L2230.7,450.3 L2231.7,450.3 L2232.7,450.2 L2233.7,450.2 L2234.7,450.2 L2235.7,450.2 L2236.7,450.2 L2237.7,450.2 L2238.7,450.2 L2239.7,450.2 L2240.7,450.2 L2241.7,450.2 L2242.7,450.2 L2243.7,450.2 L2244.7,450.2 L2245.7,450.2 L2246.7,450.2 L2247.7,450.1 L2248.7,450.1 L2249.7,450.1 L2250.7,450.1 L2251.7,450.1 L2252.7,450.1 L2253.7,450.1 L2254.7,450.1 L2255.7,450.1 L2256.7,450.1 L2257.7,450.1 L2258.7,450.1 L2259.7,450.1 L2260.7,450.1 L2261.7,450.1 L2262.7,450.1 L2263.7,450.0 L2264.7,450.0 L2265.7,450.0 L2266.7,450.0 L2267.7,450.0 L2268.7,450.0 L2269.7,450.0 L2270.7,450.0 L2271.7,450.0 L2272.7,450.0 L2273.7,450.0 L2274.7,450.0 L2275.7,450.0 L2276.7,450.0 L2277.7,450.0 L2278.7,450.0 L2279.7,450.0 L2280.7,450.0 L2281.7,450.0 L2282.7,449.9 L2283.7,449.9 L2284.7,449.9 L2285.7,449.9 L2286.7,449.9 L2287.7,449.9 L2288.7,449.9 L2289.7,449.9 L2290.7,449.9 L2291.7,449.9 L2292.7,449.9 L2293.7,449.9 L2294.7,449.9 L2295.7,449.9 L2296.7,449.9 L2297.7,449.9 L2298.7,449.9 L2299.7,449.9 L2300.7,449.9 L2301.7,449.9 L2302.7,449.9 L2303.7,449.9 L2304.7,449.9 L2305.7,449.9 L2306.7,449.8 L2307.7,449.8 L2308.7,449.8 L2309.7,449.8 L2310.7,449.8 L2311.7,449.8 L2312.7,449.8 L2313.7,449.8 L2314.7,449.8 L2315.7,449.8 L2316.7,449.8 L2317.7,449.8 L2318.7,449.8 L2319.7,449.8 L2320.7,449.8 L2321.7,449.8 L2322.7,449.8 L2323.7,449.8" stroke="#0000ff"/>
<path d="M170.7,456.0 L171.7,456.0 L172.7,456.0 L173.7,456.0 L174.7,456.0 L175.7,455.9 L176.7,455.9 L177.7,455.9 L178.7,455.8 L179.7,455.8 L180.7,455.7 L181.7,455.7 L182.7,455.6 L183.7,455.6 L184.7,455.5 L185.7,455.5 L186.7,455.4 L187.7,455.3 L188.7,455.2 L189.7,455.2 L190.7,455.1 L191.7,455.0 L192.7,454.9 L193.7,454.8 L194.7,454.8 L195.7,454.7 L196.7,454.6 L197.7,454.5 L198.7,454.4 L199.7,454.3 L200.7,454.2 L201.7,454.1 L202.7,454.0 L203.7,453.9 L204.7,453.8 L205.7,453.7 L206.7,453.6 L207.7,453.5 L208.7,453.3 L209.7,453.2 L210.7,453.0 L211.7,452.9 L212.7,452.7 L213.7,452.5 L214.7,452.4 L215.7,452.2 L216.7,452.0 L217.7,451.8 L218.7,451.6 L219.7,451.5 L220.7,451.3 L221.7,451.1 L222.7,450.9 L223.7,450.8 L224.7,450.6 L225.7,450.4 L226.7,450.2 L227.7,450.0 L228.7,449.8 L229.7,449.6 L230.7,449.4 L231.7,449.3 L232.7,449.1 L233.7,448.8 L234.7,448.6 L235.7,448.4 L236.7,448.2 L237.7,448.0 L238.7,447.8 L239.7,447.6 L240.7,447.4 L241.7,447.2 L242.7,447.0 L243.7,446.8 L244.7,446.6 L245.7,446.4 L246.7,446.3 L247.7,446.1 L248.7,445.8 L249.7,445.6 L250.7,445.4 L251.7,445.1 L252.7,444.9 L253.7,444.6 L254.7,444.4 L255.7,444.2 L256.7,443.9 L257.7,443.7 L258.7,443.5 L259.7,443.3 L260.7,443.1 L261.7,443.0 L262.7,442.8 L263.7,442.7 L264.7,442.6 L265.7,442.5 L266.7,442.5 L267.7,442.5 L268.7,442.5 L269.7,442.4 L270.7,442.4 L271.7,442.4 L272.7,442.4 L273.7,442.4 L274.7,442.4 L275.7,442.4 L276.7,442.4 L277.7,442.4 L278.7,442.4 L279.7,442.4 L280.7,442.4 L281.7,442.4 L282.7,442.3 L283.7,442.3 L284.7,442.3 L285.7,442.2 L286.7,442.2 L287.7,442.1 L288.7,442.1 L289.7,442.0 L290.7,442.0 L291.7,442.0 L292.7,442.1 L293.7,442.1 L294.7,442.2 L295.7,442.3 L296.7,442.4 L297.7,442.4 L298.7,442.5 L299.7,442.5 L300.7,442.4 L301.7,442.3 L302.7,442.1 L303.7,441.9 L304.7,441.6 L305.7,441.3 L306.7,441.0 L307.7,440.6 L308.7,440.1 L309.7,439.5 L310.7,438.7 L311.7,437.7 L312.7,436.6 L313.7,435.3 L314.7,434.0 L315.7,432.6 L316.7,431.0 L317.7,429.4 L318.7,427.7 L319.7,425.8 L320.7,423.8 L321.7,421.7 L322.7,419.4 L323.7,417.0 L324.7,414.5 L325.7,411.8 L326.7,409.0 L327.7,406.0 L328.7,402.8 L329.7,399.4 L330.7,395.9 L331.7,392.2 L332.7,388.3 L333.7,384.2 L334.7,379.9 L335.7,375.4 L336.7,370.8 L337.7,366.0 L338.7,361.0 L339.7,355.9 L340.7,350.6 L341.7,345.1 L342.7,339.4 L343.7,333.4 L344.7,327.3 L345.7,321.0 L346.7,314.5 L347.7,307.7 L348.7,300.7 L349.7,293.6 L350.7,286.2 L351.7,278.6 L352.7,270.9 L353.7,263.1 L354.7,255.1 L355.7,247.0 L356.7,238.8 L357.7,230.5 L358.7,222.1 L359.7,213.6 L360.7,205.1 L361.7,196.5 L362.7,188.0 L363.7,179.4 L364.7,170.9 L365.7,162.4 L366.7,154.0 L367.7,145.8 L368.7,137.7 L369.7,129.8 L370.7,122.1 L371.7,114.7 L372.7,107.5 L373.7,100.7 L374.7,94.2 L375.7,88.1 L376.7,82.4 L377.7,77.1 L378.7,72.2 L379.7,67.9 L380.7,64.1 L381.7,60.8 L382.7,58.1 L383.7,56.0 L384.7,54.6 L385.7,53.8 L386.7,53.6 L387.7,54.2 L388.7,55.5 L389.7,57.5 L390.7,60.2 L391.7,63.7 L392.7,68.0 L393.7,73.0 L394.7,78.8 L395.7,85.4 L396.7,92.8 L397.7,101.0 L398.7,109.9 L399.7,119.6 L400.7,130.1 L401.7,141.3 L402.7,153.2 L403.7,165.8 L404.7,179.2 L405.7,193.1 L406.7,207.7 L407.7,222.9 L408.7,238.7 L409.7,255.0 L410.7,271.8 L411.7,289.1 L412.7,306.8 L413.7,324.8 L414.7,343.2 L415.7,361.9 L416.7,380.8 L417.7,399.9 L418.7,419.2 L419.7,438.5 L420.7,457.7 L421.7,474.7 L422.7,491.6 L423.7,508.4 L424.7,525.1 L425.7,541.6 L426.7,557.9 L427.7,573.9 L428.7,589.6 L429.7,605.0 L430.7,620.1 L431.7,634.7 L432.7,648.9 L433.7,662.6 L434.7,675.8 L435.7,688.4 L436.7,700.5 L437.7,712.1 L438.7,723.0 L439.7,733.3 L440.7,743.0 L441.7,752.0 L442.7,760.4 L443.7,768.0 L444.7,775.0 L445.7,781.4 L446.7,787.0 L447.7,792.0 L448.7,796.2 L449.7,799.8 L450.7,802.8 L451.7,805.0 L452.7,806.6 L453.7,807.6 L454.7,808.0 L455.7,807.8 L456.7,807.0 L457.7,805.6 L458.7,803.7 L459.7,801.3 L460.7,798.4 L461.7,795.0 L462.7,791.2 L463.7,786.9 L464.7,782.3 L465.7,777.3 L466.7,772.0 L467.7,766.4 L468.7,760.5 L469.7,754.5 L470.7,748.2 L471.7,741.7 L472.7,735.1 L473.7,728.3 L474.7,721.4 L475.7,714.4 L476.7,707.3 L477.7,700.3 L478.7,693.2 L479.7,686.1 L480.7,679.1 L481.7,672.1 L482.7,665.1 L483.7,658.2 L484.7,651.4 L485.7,644.6 L486.7,637.9 L487.7,631.4 L488.7,625.0 L489.7,618.7 L490.7,612.5 L491.7,606.5 L492.7,600.6 L493.7,594.9 L494.7,589.4 L495.7,584.0 L496.7,578.8 L497.7,573.8 L498.7,569.0 L499.7,564.3 L500.7,559.8 L501.7,555.4 L502.7,551.3 L503.7,547.3 L504.7,543.5 L505.7,539.8 L506.7,536.3 L507.7,533.0 L508.7,529.8 L509.7,526.8 L510.7,523.9 L511.7,521.1 L512.7,518.5 L513.7,516.1 L514.7,513.7 L515.7,511.5 L516.7,509.4 L517.7,507.4 L518.7,505.6 L519.7,503.8 L520.7,502.2 L521.7,500.6 L522.7,499.1 L523.7,497.7 L524.7,496.4 L525.7,495.2 L526.7,494.1 L527.7,493.0 L528.7,492.1 L529.7,491.1 L530.7,490.3 L531.7,489.5 L532.7,488.8 L533.7,488.2 L534.7,487.6 L535.7,487.0 L536.7,486.5 L537.7,486.1 L538.7,485.6 L539.7,485.2 L540.7,484.8 L541.7,484.5 L542.7,484.1 L543.7,483.8 L544.7,483.5 L545.7,483.2 L546.7,483.0 L547.7,482.7 L548.7,482.5 L549.7,482.3 L550.7,482.1 L551.7,482.0 L552.7,481.8 L553.7,481.7 L554.7,481.5 L555.7,481.4 L556.7,481.3 L557.7,481.2 L558.7,481.1 L559.7,481.0 L560.7,480.9 L561.7,480.8 L562.7,480.7 L563.7,480.6 L564.7,480.6 L565.7,480.5 L566.7,480.4 L567.7,480.3 L568.7,480.1 L569.7,480.0 L570.7,479.7 L571.7,479.5 L572.7,479.3 L573.7,479.0 L574.7,478.7 L575.7,478.4 L576.7,478.0 L577.7,477.7 L578.7,477.4 L579.7,477.0 L580.7,476.7 L581.7,476.3 L582.7,476.0 L583.7,475.6 L584.7,475.3 L585.7,474.9 L586.7,474.6 L587.7,474.3 L588.7,474.0 L589.7,473.7 L590.7,473.4 L591.7,473.1 L592.7,472.8 L593.7,472.5 L594.7,472.2 L595.7,471.8 L596.7,471.5 L597.7,471.2 L598.7,470.9 L599.7,470.6 L600.7,470.3 L601.7,470.0 L602.7,469.6 L603.7,469.3 L604.7,469.0 L605.7,468.6 L606.7,468.3 L607.7,468.0 L608.7,467.7 L609.7,467.4 L610.7,467.1 L611.7,466.8 L612.7,466.5 L613.7,466.2 L614.7,465.9 L615.7,465.6 L616.7,465.4 L617.7,465.1 L618.7,464.8 L619.7,464.6 L620.7,464.4 L621.7,464.2 L622.7,464.0 L623.7,463.8 L624.7,463.6 L625.7,463.5 L626.7,463.3 L627.7,463.2 L628.7,463.1 L629.7,462.9 L630.7,462.8 L631.7,462.7 L632.7,462.6 L633.7,462.5 L634.7,462.4 L635.7,462.3 L636.7,462.2 L637.7,462.1 L638.7,462.1 L639.7,462.0 L640.7,461.9 L641.7,461.9 L642.7,461.8 L643.7,461.7 L644.7,461.7 L645.7,461.6 L646.7,461.6 L647.7,461.5 L648.7,461.5 L649.7,461.4 L650.7,461.4 L651.7,461.4 L652.7,461.3 L653.7,461.3 L654.7,461.2 L655.7,461.2 L656.7,461.2 L657.7,461.1 L658.7,461.1 L659.7,461.1 L660.7,461.1 L661.7,461.0 L662.7,461.0 L663.7,461.0 L664.7,460.9 L665.7,460.9 L666.7,460.9 L667.7,460.9 L668.7,460.8 L669.7,460.8 L670.7,460.8 L671.7,460.8 L672.7,460.7 L673.7,460.7 L674.7,460.7 L675.7,460.7 L676.7,460.6 L677.7,460.6 L678.7,460.6 L679.7,460.5 L680.7,460.5 L681.7,460.5 L682.7,460.4 L683.7,460.4 L684.7,460.4 L685.7,460.3 L686.7,460.3 L687.7,460.2 L688.7,460.2 L689.7,460.2 L690.7,460.1 L691.7,460.1 L692.7,460.0 L693.7,460.0 L694.7,460.0 L695.7,459.9 L696.7,459.9 L697.7,459.8 L698.7,459.8 L699.7,459.7 L700.7,459.7 L701.7,459.7 L702.7,459.6 L703.7,459.6 L704.7,459.5 L705.7,459.5 L706.7,459.5 L707.7,459.4 L708.7,459.4 L709.7,459.4 L710.7,459.3 L711.7,459.3 L712.7,459.3 L713.7,459.2 L714.7,459.2 L715.7,459.2 L716.7,459.1 L717.7,459.1 L718.7,459.1 L719.7,459.1 L720.7,459.0 L721.7,459.0 L722.7,459.0 L723.7,458.9 L724.7,458.9 L725.7,458.9 L726.7,458.9 L727.7,458.8 L728.7,458.8 L729.7,458.8 L730.7,458.8 L731.7,458.7 L732.7,458.7 L733.7,458.7 L734.7,458.7 L735.7,458.6 L736.7,458.6 L737.7,458.6 L738.7,458.6 L739.7,458.5 L740.7,458.5 L741.7,458.5 L742.7,458.5 L743.7,458.4 L744.7,458.4 L745.7,458.4 L746.7,458.4 L747.7,458.4 L748.7,458.3 L749.7,458.3 L750.7,458.3 L751.7,458.3 L752.7,458.2 L753.7,458.2 L754.7,458.2 L755.7,458.2 L756.7,458.2 L757.7,458.2 L758.7,458.1 L759.7,458.1 L760.7,458.1 L761.7,458.1 L762.7,458.1 L763.7,458.0 L764.7,458.0 L765.7,458.0 L766.7,458.0 L767.7,458.0 L768.7,458.0 L769.7,457.9 L770.7,457.9 L771.7,457.9 L772.7,457.9 L773.7,457.9 L774.7,457.9 L775.7,457.8 L776.7,457.8 L777.7,457.8 L778.7,457.8 L779.7,457.8 L780.7,457.8 L781.7,457.7 L782.7,457.7 L783.7,457.7 L784.7,457.7 L785.7,457.7 L786.7,457.7 L787.7,457.6 L788.7,457.6 L789.7,457.6 L790.7,457.6 L791.7,457.6 L792.7,457.6 L793.7,457.6 L794.7,457.5 L795.7,457.5 L796.7,457.5 L797.7,457.5 L798.7,457.5 L799.7,457.5 L800.7,457.5 L801.7,457.4 L802.7,457.4 L803.7,457.4 L804.7,457.4 L805.7,457.4 L806.7,457.4 L807.7,457.4 L808.7,457.4 L809.7,457.3 L810.7,457.3 L811.7,457.3 L812.7,457.3 L813.7,457.3 L814.7,457.3 L815.7,457.3 L816.7,457.3 L817.7,457.2 L818.7,457.2 L819.7,457.2 L820.7,457.2 L821.7,457.2 L822.7,457.2 L823.7,457.2 L824.7,457.2 L825.7,457.1 L826.7,457.1 L827.7,457.1 L828.7,457.1 L829.7,457.1 L830.7,457.1 L831.7,457.1 L832.7,457.1 L833.7,457.1 L834.7,457.1 L835.7,457.0 L836.7,457.0 L837.7,457.0 L838.7,457.0 L839.7,457.0 L840.7,457.0 L841.7,457.0 L842.7,457.0 L843.7,457.0 L844.7,457.0 L845.7,457.0 L846.7,456.9 L847.7,456.9 L848.7,456.9 L849.7,456.9 L850.7,456.9 L851.7,456.9 L852.7,456.9 L853.7,456.9 L854.7,456.9 L855.7,456.9 L856.7,456.9 L857.7,456.9 L858.7,456.9 L859.7,456.8 L860.7,456.8 L861.7,456.8 L862.7,456.8 L863.7,456.8 L864.7,456.8 L865.7,456.8 L866.7,456.8 L867.7,456.8 L868.7,456.8 L869.7,456.8 L870.7,456.8 L871.7,456.8 L872.7,456.8 L873.7,456.8 L874.7,456.8 L875.7,456.7 L876.7,456.7 L877.7,456.7 L878.7,456.7 L879.7,456.7 L880.7,456.7 L881.7,456.7 L882.7,456.7 L883.7,456.7 L884.7,456.7 L885.7,456.7 L886.7,456.7 L887.7,456.7 L888.7,456.7 L889.7,456.7 L890.7,456.7 L891.7,456.7 L892.7,456.6 L893.7,456.6 L894.7,456.6 L895.7,456.6 L896.7,456.6 L897.7,456.6 L898.7,456.6 L899.7,456.6 L900.7,456.6 L901.7,456.6 L902.7,456.6 L903.7,456.6 L904.7,456.6 L905.7,456.6 L906.7,456.6 L907.7,456.6 L908.7,456.6 L909.7,456.5 L910.7,456.5 L911.7,456.5 L912.7,456.5 L913.7,456.5 L914.7,456.5 L915.7,456.5 L916.7,456.5 L917.7,456.5 L918.7,456.4 L919.7,456.4 L920.7,456.4 L921.7,456.3 L922.7,456.3 L923.7,456.2 L924.7,456.2 L925.7,456.1 L926.7,456.0 L927.7,456.0 L928.7,455.9 L929.7,455.8 L930.7,455.8 L931.7,455.7 L932.7,455.6 L933.7,455.5 L934.7,455.4 L935.7,455.3 L936.7,455.3 L937.7,455.2 L938.7,455.1 L939.7,455.0 L940.7,454.9 L941.7,454.8 L942.7,454.7 L943.7,454.6 L944.7,454.5 L945.7,454.4 L946.7,454.3 L947.7,454.2 L948.7,454.1 L949.7,454.0 L950.7,453.8 L951.7,453.7 L952.7,453.5 L953.7,453.4 L954.7,453.2 L955.7,453.0 L956.7,452.9 L957.7,452.7 L958.7,452.5 L959.7,452.3 L960.7,452.1 L961.7,452.0 L962.7,451.8 L963.7,451.6 L964.7,451.4 L965.7,451.2 L966.7,451.0 L967.7,450.9 L968.7,450.7 L969.7,450.5 L970.7,450.3 L971.7,450.1 L972.7,449.9 L973.7,449.7 L974.7,449.5 L975.7,449.3 L976.7,449.1 L977.7,448.9 L978.7,448.7 L979.7,448.5 L980.7,448.1 L981.7,447.9 L982.7,447.7 L983.7,447.5 L984.7,447.3 L985.7,447.1 L986.7,446.9 L987.7,446.7 L988.7,446.5 L989.7,446.3 L990.7,446.1 L991.7,445.9 L992.7,445.7 L993.7,445.4 L994.7,445.2 L995.7,445.0 L996.7,444.7 L997.7,444.5 L998.7,444.2 L999.7,444.0 L1000.7,443.8 L1001.7,443.6 L1002.7,443.4 L1003.7,443.2 L1004.7,443.0 L1005.7,442.9 L1006.7,442.8 L1007.7,442.7 L1008.7,442.6 L1009.7,442.5 L1010.7,442.5 L1011.7,442.5 L1012.7,442.5 L1013.7,442.5 L1014.7,442.5 L1015.7,442.5 L1016.7,442.5 L1017.7,442.5 L1018.7,442.5 L1019.7,442.5 L1020.7,442.5 L1021.7,442.5 L1022.7,442.4 L1023.7,442.4 L1024.7,442.4 L1025.7,442.4 L1026.7,442.4 L1027.7,442.3 L1028.7,442.3 L1029.7,442.3 L1030.7,442.2 L1031.7,442.1 L1032.7,442.1 L1033.7,442.0 L1034.7,442.1 L1035.7,442.1 L1036.7,442.2 L1037.7,442.3 L1038.7,442.3 L1039.7,442.4 L1040.7,442.5 L1041.7,442.5 L1042.7,442.5 L1043.7,442.5 L1044.7,442.4 L1045.7,442.2 L1046.7,441.9 L1047.7,441.7 L1048.7,441.4 L1049.7,441.1 L1050.7,440.7 L1051.7,440.2 L1052.7,439.6 L1053.7,438.8 L1054.7,437.9 L1055.7,436.8 L1056.7,435.5 L1057.7,434.2 L1058.7,432.8 L1059.7,431.3 L1060.7,429.7 L1061.7,427.9 L1062.7,426.1 L1063.7,424.1 L1064.7,422.0 L1065.7,419.8 L1066.7,417.4 L1067.7,414.9 L1068.7,412.3 L1069.7,409.5 L1070.7,406.5 L1071.7,403.3 L1072.7,400.0 L1073.7,396.5 L1074.7,392.8 L1075.7,389.0 L1076.7,384.9 L1077.7,380.6 L1078.7,376.2 L1079.7,371.6 L1080.7,366.8 L1081.7,361.9 L1082.7,356.8 L1083.7,351.5 L1084.7,346.1 L1085.7,340.4 L1086.7,334.5 L1087.7,328.5 L1088.7,322.2 L1089.7,315.7 L1090.7,309.0 L1091.7,302.1 L1092.7,294.9 L1093.7,287.6 L1094.7,280.1 L1095.7,272.4 L1096.7,264.6 L1097.7,256.7 L1098.7,248.7 L1099.7,240.5 L1100.7,232.2 L1101.7,223.8 L1102.7,215.4 L1103.7,206.9 L1104.7,198.4 L1105.7,189.9 L1106.7,181.4 L1107.7,172.8 L1108.7,164.4 L1109.7,156.0 L1110.7,147.8 L1111.7,139.7 L1112.7,131.9 L1113.7,124.2 L1114.7,116.8 L1115.7,109.6 L1116.7,102.8 L1117.7,96.3 L1118.7,90.1 L1119.7,84.4 L1120.7,79.1 L1121.7,74.2 L1122.7,69.9 L1123.7,66.0 L1124.7,62.7 L1125.7,60.0 L1126.7,57.8 L1127.7,56.3 L1128.7,55.4 L1129.7,55.2 L1130.7,55.7 L1131.7,56.9 L1132.7,58.8 L1133.7,61.5 L1134.7,64.9 L1135.7,69.1 L1136.7,74.0 L1137.7,79.7 L1138.7,86.2 L1139.7,93.5 L1140.7,101.5 L1141.7,110.4 L1142.7,120.0 L1143.7,130.3 L1144.7,141.4 L1145.7,153.2 L1146.7,165.7 L1147.7,178.9 L1148.7,192.8 L1149.7,207.2 L1150.7,222.3 L1151.7,238.0 L1152.7,254.2 L1153.7,270.9 L1154.7,288.0 L1155.7,305.6 L1156.7,323.6 L1157.7,341.8 L1158.7,360.4 L1159.7,379.2 L1160.7,398.3 L1161.7,417.4 L1162.7,436.7 L1163.7,456.0 L1164.7,473.0 L1165.7,489.9 L1166.7,506.7 L1167.7,523.4 L1168.7,539.9 L1169.7,556.3 L1170.7,572.3 L1171.7,588.1 L1172.7,603.5 L1173.7,618.6 L1174.7,633.3 L1175.7,647.5 L1176.7,661.2 L1177.7,674.5 L1178.7,687.2 L1179.7,699.4 L1180.7,711.0 L1181.7,721.9 L1182.7,732.3 L1183.7,742.0 L1184.7,751.1 L1185.7,759.6 L1186.7,767.3 L1187.7,774.4 L1188.7,780.8 L1189.7,786.5 L1190.7,791.5 L1191.7,795.8 L1192.7,799.5 L1193.7,802.5 L1194.7,804.8 L1195.7,806.5 L1196.7,807.6 L1197.7,808.0 L1198.7,807.8 L1199.7,807.1 L1200.7,805.8 L1201.7,803.9 L1202.7,801.5 L1203.7,798.7 L1204.7,795.4 L1205.7,791.6 L1206.7,787.4 L1207.7,782.8 L1208.7,777.8 L1209.7,772.5 L1210.7,767.0 L1211.7,761.1 L1212.7,755.1 L1213.7,748.8 L1214.7,742.4 L1215.7,735.8 L1216.7,729.0 L1217.7,722.1 L1218.7,715.1 L1219.7,708.0 L1220.7,701.0 L1221.7,693.9 L1222.7,686.8 L1223.7,679.8 L1224.7,672.8 L1225.7,665.8 L1226.7,658.9 L1227.7,652.0 L1228.7,645.3 L1229.7,638.6 L1230.7,632.0 L1231.7,625.6 L1232.7,619.3 L1233.7,613.1 L1234.7,607.1 L1235.7,601.2 L1236.7,595.5 L1237.7,589.9 L1238.7,584.6 L1239.7,579.4 L1240.7,574.3 L1241.7,569.4 L1242.7,564.8 L1243.7,560.2 L1244.7,555.9 L1245.7,551.7 L1246.7,547.7 L1247.7,543.8 L1248.7,540.2 L1249.7,536.7 L1250.7,533.3 L1251.7,530.1 L1252.7,527.1 L1253.7,524.2 L1254.7,521.4 L1255.7,518.8 L1256.7,516.3 L1257.7,514.0 L1258.7,511.7 L1259.7,509.6 L1260.7,507.6 L1261.7,505.7 L1262.7,504.0 L1263.7,502.3 L1264.7,500.7 L1265.7,499.3 L1266.7,497.9 L1267.7,496.6 L1268.7,495.3 L1269.7,494.2 L1270.7,493.1 L1271.7,492.2 L1272.7,491.2 L1273.7,490.4 L1274.7,489.6 L1275.7,488.9 L1276.7,488.2 L1277.7,487.6 L1278.7,487.1 L1279.7,486.6 L1280.7,486.1 L1281.7,485.7 L1282.7,485.3 L1283.7,484.9 L1284.7,484.5 L1285.7,484.2 L1286.7,483.8 L1287.7,483.5 L1288.7,483.3 L1289.7,483.0 L1290.7,482.8 L1291.7,482.5 L1292.7,482.3 L1293.7,482.2 L1294.7,482.0 L1295.7,481.8 L1296.7,481.7 L1297.7,481.5 L1298.7,481.4 L1299.7,481.3 L1300.7,481.2 L1301.7,481.1 L1302.7,481.0 L1303.7,480.9 L1304.7,480.8 L1305.7,480.7 L1306.7,480.7 L1307.7,480.6 L1308.7,480.5 L1309.7,480.4 L1310.7,480.3 L1311.7,480.2 L1312.7,480.0 L1313.7,479.8 L1314.7,479.5 L1315.7,479.3 L1316.7,479.0 L1317.7,478.7 L1318.7,478.4 L1319.7,478.1 L1320.7,477.7 L1321.7,477.4 L1322.7,477.1 L1323.7,476.7 L1324.7,476.3 L1325.7,476.0 L1326.7,475.6 L1327.7,475.3 L1328.7,475.0 L1329.7,474.6 L1330.7,474.3 L1331.7,474.0 L1332.7,473.7 L1333.7,473.4 L1334.7,473.1 L1335.7,472.8 L1336.7,472.5 L1337.7,472.2 L1338.7,471.9 L1339.7,471.6 L1340.7,471.2 L1341.7,470.9 L1342.7,470.6 L1343.7,470.3 L1344.7,470.0 L1345.7,469.7 L1346.7,469.3 L1347.7,469.0 L1348.7,468.7 L1349.7,468.3 L1350.7,468.0 L1351.7,467.7 L1352.7,467.4 L1353.7,467.1 L1354.7,466.8 L1355.7,466.5 L1356.7,466.2 L1357.7,465.9 L1358.7,465.7 L1359.7,465.4 L1360.7,465.1 L1361.7,464.9 L1362.7,464.6 L1363.7,464.4 L1364.7,464.2 L1365.7,464.0 L1366.7,463.8 L1367.7,463.7 L1368.7,463.5 L1369.7,463.3 L1370.7,463.2 L1371.7,463.1 L1372.7,462.9 L1373.7,462.8 L1374.7,462.7 L1375.7,462.6 L1376.7,462.5 L1377.7,462.4 L1378.7,462.3 L1379.7,462.2 L1380.7,462.2 L1381.7,462.1 L1382.7,462.0 L1383.7,461.9 L1384.7,461.9 L1385.7,461.8 L1386.7,461.8 L1387.7,461.7 L1388.7,461.6 L1389.7,461.6 L1390.7,461.5 L1391.7,461.5 L1392.7,461.4 L1393.7,461.4 L1394.7,461.4 L1395.7,461.3 L1396.7,461.3 L1397.7,461.2 L1398.7,461.2 L1399.7,461.2 L1400.7,461.1 L1401.7,461.1 L1402.7,461.1 L1403.7,461.1 L1404.7,461.0 L1405.7,461.0 L1406.7,461.0 L1407.7,460.9 L1408.7,460.9 L1409.7,460.9 L1410.7,460.9 L1411.7,460.8 L1412.7,460.8 L1413.7,460.8 L1414.7,460.8 L1415.7,460.7 L1416.7,460.7 L1417.7,460.7 L1418.7,460.7 L1419.7,460.6 L1420.7,460.6 L1421.7,460.6 L1422.7,460.5 L1423.7,460.5 L1424.7,460.5 L1425.7,460.4 L1426.7,460.4 L1427.7,460.4 L1428.7,460.3 L1429.7,460.3 L1430.7,460.2 L1431.7,460.2 L1432.7,460.2 L1433.7,460.1 L1434.7,460.1 L1435.7,460.0 L1436.7,460.0 L1437.7,460.0 L1438.7,459.9 L1439.7,459.9 L1440.7,459.8 L1441.7,459.8 L1442.7,459.8 L1443.7,459.7 L1444.7,459.7 L1445.7,459.6 L1446.7,459.6 L1447.7,459.5 L1448.7,459.5 L1449.7,459.5 L1450.7,459.4 L1451.7,459.4 L1452.7,459.4 L1453.7,459.3 L1454.7,459.3 L1455.7,459.3 L1456.7,459.2 L1457.7,459.2 L1458.7,459.2 L1459.7,459.1 L1460.7,459.1 L1461.7,459.1 L1462.7,459.1 L1463.7,459.0 L1464.7,459.0 L1465.7,459.0 L1466.7,458.9 L1467.7,458.9 L1468.7,458.9 L1469.7,458.9 L1470.7,458.8 L1471.7,458.8 L1472.7,458.8 L1473.7,458.8 L1474.7,458.7 L1475.7,458.7 L1476.7,458.7 L1477.7,458.7 L1478.7,458.6 L1479.7,458.6 L1480.7,458.6 L1481.7,458.6 L1482.7,458.5 L1483.7,458.5 L1484.7,458.5 L1485.7,458.5 L1486.7,458.4 L1487.7,458.4 L1488.7,458.4 L1489.7,458.4 L1490.7,458.4 L1491.7,458.3 L1492.7,458.3 L1493.7,458.3 L1494.7,458.3 L1495.7,458.3 L1496.7,458.2 L1497.7,458.2 L1498.7,458.2 L1499.7,458.2 L1500.7,458.2 L1501.7,458.1 L1502.7,458.1 L1503.7,458.1 L1504.7,458.1 L1505.7,458.1 L1506.7,458.0 L1507.7,458.0 L1508.7,458.0 L1509.7,458.0 L1510.7,458.0 L1511.7,458.0 L1512.7,457.9 L1513.7,457.9 L1514.7,457.9 L1515.7,457.9 L1516.7,457.9 L1517.7,457.9 L1518.7,457.8 L1519.7,457.8 L1520.7,457.8 L1521.7,457.8 L1522.7,457.8 L1523.7,457.8 L1524.7,457.7 L1525.7,457.7 L1526.7,457.7 L1527.7,457.7 L1528.7,457.7 L1529.7,457.7 L1530.7,457.6 L1531.7,457.6 L1532.7,457.6 L1533.7,457.6 L1534.7,457.6 L1535.7,457.6 L1536.7,457.6 L1537.7,457.5 L1538.7,457.5 L1539.7,457.5 L1540.7,457.5 L1541.7,457.5 L1542.7,457.5 L1543.7,457.5 L1544.7,457.4 L1545.7,457.4 L1546.7,457.4 L1547.7,457.4 L1548.7,457.4 L1549.7,457.4 L1550.7,457.4 L1551.7,457.4 L1552.7,457.3 L1553.7,457.3 L1554.7,457.3 L1555.7,457.3 L1556.7,457.3 L1557.7,457.3 L1558.7,457.3 L1559.7,457.3 L1560.7,457.2 L1561.7,457.2 L1562.7,457.2 L1563.7,457.2 L1564.7,457.2 L1565.7,457.2 L1566.7,457.2 L1567.7,457.2 L1568.7,457.1 L1569.7,457.1 L1570.7,457.1 L1571.7,457.1 L1572.7,457.1 L1573.7,457.1 L1574.7,457.1 L1575.7,457.1 L1576.7,457.1 L1577.7,457.1 L1578.7,457.0 L1579.7,457.0 L1580.7,457.0 L1581.7,457.0 L1582.7,457.0 L1583.7,457.0 L1584.7,457.0 L1585.7,457.0 L1586.7,457.0 L1587.7,457.0 L1588.7,457.0 L1589.7,456.9 L1590.7,456.9 L1591.7,456.9 L1592.7,456.9 L1593.7,456.9 L1594.7,456.9 L1595.7,456.9 L1596.7,456.9 L1597.7,456.9 L1598.7,456.9 L1599.7,456.9 L1600.7,456.9 L1601.7,456.9 L1602.7,456.9 L1603.7,456.8 L1604.7,456.8 L1605.7,456.8 L1606.7,456.8 L1607.7,456.8 L1608.7,456.8 L1609.7,456.8 L1610.7,456.8 L1611.7,456.8 L1612.7,456.8 L1613.7,456.8 L1614.7,456.8 L1615.7,456.8 L1616.7,456.8 L1617.7,456.8 L1618.7,456.7 L1619.7,456.7 L1620.7,456.7 L1621.7,456.7 L1622.7,456.7 L1623.7,456.7 L1624.7,456.7 L1625.7,456.7 L1626.7,456.7 L1627.7,456.7 L1628.7,456.7 L1629.7,456.7 L1630.7,456.7 L1631.7,456.7 L1632.7,456.7 L1633.7,456.7 L1634.7,456.7 L1635.7,456.6 L1636.7,456.6 L1637.7,456.6 L1638.7,456.6 L1639.7,456.6 L1640.7,456.6 L1641.7,456.6 L1642.7,456.6 L1643.7,456.6 L1644.7,456.6 L1645.7,456.6 L1646.7,456.6 L1647.7,456.6 L1648.7,456.6 L1649.7,456.6 L1650.7,456.6 L1651.7,456.6 L1652.7,456.5 L1653.7,456.5 L1654.7,456.5 L1655.7,456.5 L1656.7,456.5 L1657.7,456.5 L1658.7,456.5 L1659.7,456.5 L1660.7,456.5 L1661.7,456.5 L1662.7,456.5 L1663.7,456.5 L1664.7,456.4 L1665.7,456.4 L1666.7,456.4 L1667.7,456.4 L1668.7,456.3 L1669.7,456.3 L1670.7,456.2 L1671.7,456.2 L1672.7,456.1 L1673.7,456.0 L1674.7,456.0 L1675.7,455.9 L1676.7,455.8 L1677.7,455.8 L1678.7,455.7 L1679.7,455.6 L1680.7,455.5 L1681.7,455.4 L1682.7,455.4 L1683.7,455.3 L1684.7,455.2 L1685.7,455.1 L1686.7,455.0 L1687.7,454.9 L1688.7,454.8 L1689.7,454.7 L1690.7,454.6 L1691.7,454.5 L1692.7,454.4 L1693.7,454.3 L1694.7,454.2 L1695.7,454.1 L1696.7,454.0 L1697.7,453.9 L1698.7,453.7 L1699.7,453.6 L1700.7,453.4 L1701.7,453.3 L1702.7,453.1 L1703.7,452.9 L1704.7,452.8 L1705.7,452.6 L1706.7,452.4 L1707.7,452.2 L1708.7,452.1 L1709.7,451.9 L1710.7,451.7 L1711.7,451.5 L1712.7,451.4 L1713.7,451.2 L1714.7,451.0 L1715.7,450.8 L1716.7,450.6 L1717.7,450.5 L1718.7,450.3 L1719.7,450.1 L1720.7,449.9 L1721.7,449.7 L1722.7,449.5 L1723.7,449.3 L1724.7,448.9 L1725.7,448.7 L1726.7,448.5 L1727.7,448.3 L1728.7,448.1 L1729.7,447.9 L1730.7,447.7 L1731.7,447.5 L1732.7,447.3 L1733.7,447.1 L1734.7,446.9 L1735.7,446.8 L1736.7,446.6 L1737.7,446.4 L1738.7,446.2 L1739.7,445.9 L1740.7,445.7 L1741.7,445.5 L1742.7,445.2 L1743.7,445.0 L1744.7,444.8 L1745.7,444.5 L1746.7,444.3 L1747.7,444.1 L1748.7,443.9 L1749.7,443.7 L1750.7,443.5 L1751.7,443.3 L1752.7,443.2 L1753.7,443.1 L1754.7,443.0 L1755.7,442.9 L1756.7,442.9 L1757.7,442.8 L1758.7,442.8 L1759.7,442.8 L1760.7,442.8 L1761.7,442.8 L1762.7,442.8 L1763.7,442.8 L1764.7,442.8 L1765.7,442.8 L1766.7,442.8 L1767.7,442.8 L1768.7,442.8 L1769.7,442.8 L1770.7,442.8 L1771.7,442.7 L1772.7,442.7 L1773.7,442.7 L1774.7,442.7 L1775.7,442.6 L1776.7,442.6 L1777.7,442.5 L1778.7,442.5 L1779.7,442.4 L1780.7,442.4 L1781.7,442.4 L1782.7,442.4 L1783.7,442.5 L1784.7,442.6 L1785.7,442.7 L1786.7,442.7 L1787.7,442.8 L1788.7,442.8 L1789.7,442.8 L1790.7,442.8 L1791.7,442.7 L1792.7,442.5 L1793.7,442.3 L1794.7,442.1 L1795.7,441.8 L1796.7,441.5 L1797.7,441.1 L1798.7,440.7 L1799.7,440.1 L1800.7,439.3 L1801.7,438.4 L1802.7,437.3 L1803.7,436.2 L1804.7,434.9 L1805.7,433.5 L1806.7,432.0 L1807.7,430.5 L1808.7,428.8 L1809.7,427.0 L1810.7,425.1 L1811.7,423.1 L1812.7,420.9 L1813.7,418.6 L1814.7,416.2 L1815.7,413.6 L1816.7,410.9 L1817.7,408.0 L1818.7,404.9 L1819.7,401.7 L1820.7,398.3 L1821.7,394.7 L1822.7,391.0 L1823.7,387.0 L1824.7,382.9 L1825.7,378.6 L1826.7,374.1 L1827.7,369.5 L1828.7,364.7 L1829.7,359.7 L1830.7,354.6 L1831.7,349.3 L1832.7,343.7 L1833.7,338.0 L1834.7,332.1 L1835.7,326.0 L1836.7,319.7 L1837.7,313.2 L1838.7,306.5 L1839.7,299.5 L1840.7,292.4 L1841.7,285.1 L1842.7,277.6 L1843.7,270.0 L1844.7,262.3 L1845.7,254.4 L1846.7,246.5 L1847.7,238.4 L1848.7,230.3 L1849.7,222.0 L1850.7,213.8 L1851.7,205.5 L1852.7,197.1 L1853.7,188.8 L1854.7,180.5 L1855.7,172.2 L1856.7,164.1 L1857.7,156.0 L1858.7,148.1 L1859.7,140.4 L1860.7,132.9 L1861.7,125.7 L1862.7,118.7 L1863.7,112.0 L1864.7,105.6 L1865.7,99.5 L1866.7,93.9 L1867.7,88.7 L1868.7,83.9 L1869.7,79.6 L1870.7,75.8 L1871.7,72.5 L1872.7,69.7 L1873.7,67.6 L1874.7,66.1 L1875.7,65.1 L1876.7,64.9 L1877.7,65.3 L1878.7,66.4 L1879.7,68.2 L1880.7,70.7 L1881.7,73.9 L1882.7,77.9 L1883.7,82.7 L1884.7,88.2 L1885.7,94.5 L1886.7,101.5 L1887.7,109.3 L1888.7,117.8 L1889.7,127.1 L1890.7,137.1 L1891.7,147.9 L1892.7,159.3 L1893.7,171.5 L1894.7,184.3 L1895.7,197.7 L1896.7,211.8 L1897.7,226.5 L1898.7,241.7 L1899.7,257.4 L1900.7,273.7 L1901.7,290.4 L1902.7,307.5 L1903.7,325.0 L1904.7,342.8 L1905.7,360.9 L1906.7,379.2 L1907.7,397.8 L1908.7,416.5 L1909.7,435.3 L1910.7,454.1 L1911.7,470.9 L1912.7,487.5 L1913.7,504.0 L1914.7,520.3 L1915.7,536.5 L1916.7,552.5 L1917.7,568.2 L1918.7,583.7 L1919.7,598.8 L1920.7,613.6 L1921.7,627.9 L1922.7,641.9 L1923.7,655.4 L1924.7,668.4 L1925.7,680.9 L1926.7,692.8 L1927.7,704.2 L1928.7,715.0 L1929.7,725.2 L1930.7,734.8 L1931.7,743.8 L1932.7,752.1 L1933.7,759.7 L1934.7,766.7 L1935.7,773.0 L1936.7,778.7 L1937.7,783.7 L1938.7,788.0 L1939.7,791.6 L1940.7,794.6 L1941.7,797.0 L1942.7,798.7 L1943.7,799.8 L1944.7,800.2 L1945.7,800.1 L1946.7,799.4 L1947.7,798.2 L1948.7,796.5 L1949.7,794.2 L1950.7,791.4 L1951.7,788.2 L1952.7,784.6 L1953.7,780.5 L1954.7,776.1 L1955.7,771.2 L1956.7,766.1 L1957.7,760.7 L1958.7,755.0 L1959.7,749.1 L1960.7,743.0 L1961.7,736.7 L1962.7,730.3 L1963.7,723.7 L1964.7,716.9 L1965.7,710.1 L1966.7,703.2 L1967.7,696.3 L1968.7,689.4 L1969.7,682.5 L1970.7,675.6 L1971.7,668.7 L1972.7,661.9 L1973.7,655.1 L1974.7,648.4 L1975.7,641.7 L1976.7,635.2 L1977.7,628.8 L1978.7,622.5 L1979.7,616.3 L1980.7,610.3 L1981.7,604.4 L1982.7,598.6 L1983.7,593.0 L1984.7,587.5 L1985.7,582.2 L1986.7,577.1 L1987.7,572.1 L1988.7,567.3 L1989.7,562.7 L1990.7,558.4 L1991.7,554.2 L1992.7,550.2 L1993.7,546.4 L1994.7,542.8 L1995.7,539.4 L1996.7,536.1 L1997.7,533.0 L1998.7,530.0 L1999.7,527.2 L2000.7,524.6 L2001.7,522.1 L2002.7,519.8 L2003.7,517.5 L2004.7,515.4 L2005.7,513.3 L2006.7,511.2 L2007.7,509.3 L2008.7,507.4 L2009.7,505.7 L2010.7,504.0 L2011.7,502.5 L2012.7,501.0 L2013.7,499.6 L2014.7,498.3 L2015.7,497.1 L2016.7,496.0 L2017.7,495.0 L2018.7,494.0 L2019.7,493.1 L2020.7,492.3 L2021.7,491.5 L2022.7,490.8 L2023.7,490.1 L2024.7,489.5 L2025.7,489.0 L2026.7,488.5 L2027.7,488.0 L2028.7,487.6 L2029.7,487.2 L2030.7,486.8 L2031.7,486.5 L2032.7,486.1 L2033.7,485.8 L2034.7,485.5 L2035.7,485.2 L2036.7,485.0 L2037.7,484.7 L2038.7,484.5 L2039.7,484.3 L2040.7,484.1 L2041.7,484.0 L2042.7,483.8 L2043.7,483.7 L2044.7,483.5 L2045.7,483.4 L2046.7,483.3 L2047.7,483.2 L2048.7,483.1 L2049.7,483.0 L2050.7,482.9 L2051.7,482.8 L2052.7,482.7 L2053.7,482.7 L2054.7,482.6 L2055.7,482.5 L2056.7,482.4 L2057.7,482.3 L2058.7,482.2 L2059.7,482.0 L2060.7,481.8 L2061.7,481.6 L2062.7,481.4 L2063.7,481.1 L2064.7,480.9 L2065.7,480.6 L2066.7,480.3 L2067.7,480.0 L2068.7,479.7 L2069.7,479.3 L2070.7,479.0 L2071.7,478.6 L2072.7,478.3 L2073.7,477.9 L2074.7,477.6 L2075.7,477.2 L2076.7,476.9 L2077.7,476.5 L2078.7,476.2 L2079.7,475.9 L2080.7,475.5 L2081.7,475.1 L2082.7,474.7 L2083.7,474.3 L2084.7,473.9 L2085.7,473.5 L2086.7,473.0 L2087.7,472.6 L2088.7,472.2 L2089.7,471.7 L2090.7,471.3 L2091.7,470.9 L2092.7,470.4 L2093.7,470.0 L2094.7,469.5 L2095.7,469.0 L2096.7,468.6 L2097.7,468.1 L2098.7,467.7 L2099.7,467.3 L2100.7,466.9 L2101.7,466.6 L2102.7,466.3 L2103.7,466.0 L2104.7,465.7 L2105.7,465.5 L2106.7,465.2 L2107.7,465.0 L2108.7,464.7 L2109.7,464.5 L2110.7,464.3 L2111.7,464.1 L2112.7,463.8 L2113.7,463.6 L2114.7,463.4 L2115.7,463.2 L2116.7,463.0 L2117.7,462.8 L2118.7,462.6 L2119.7,462.4 L2120.7,462.2 L2121.7,462.0 L2122.7,461.8 L2123.7,461.6 L2124.7,461.5 L2125.7,461.3 L2126.7,461.2 L2127.7,461.1 L2128.7,460.9 L2129.7,460.8 L2130.7,460.7 L2131.7,460.6 L2132.7,460.5 L2133.7,460.4 L2134.7,460.3 L2135.7,460.2 L2136.7,460.1 L2137.7,460.0 L2138.7,459.9 L2139.7,459.8 L2140.7,459.7 L2141.7,459.7 L2142.7,459.6 L2143.7,459.5 L2144.7,459.5 L2145.7,459.4 L2146.7,459.3 L2147.7,459.3 L2148.7,459.2 L2149.7,459.2 L2150.7,459.1 L2151.7,459.1 L2152.7,459.0 L2153.7,459.0 L2154.7,458.9 L2155.7,458.9 L2156.7,458.8 L2157.7,458.8 L2158.7,458.7 L2159.7,458.7 L2160.7,458.6 L2161.7,458.6 L2162.7,458.6 L2163.7,458.5 L2164.7,458.5 L2165.7,458.4 L2166.7,458.4 L2167.7,458.4 L2168.7,458.3 L2169.7,458.3 L2170.7,458.2 L2171.7,458.2 L2172.7,458.2 L2173.7,458.1 L2174.7,458.1 L2175.7,458.1 L2176.7,458.0 L2177.7,458.0 L2178.7,458.0 L2179.7,457.9 L2180.7,457.9 L2181.7,457.9 L2182.7,457.9 L2183.7,457.8 L2184.7,457.8 L2185.7,457.8 L2186.7,457.8 L2187.7,457.8 L2188.7,457.7 L2189.7,457.7 L2190.7,457.7 L2191.7,457.7 L2192.7,457.7 L2193.7,457.6 L2194.7,457.6 L2195.7,457.6 L2196.7,457.6 L2197.7,457.6 L2198.7,457.5 L2199.7,457.5 L2200.7,457.5 L2201.7,457.5 L2202.7,457.5 L2203.7,457.5 L2204.7,457.4 L2205.7,457.4 L2206.7,457.4 L2207.7,457.4 L2208.7,457.4 L2209.7,457.4 L2210.7,457.3 L2211.7,457.3 L2212.7,457.3 L2213.7,457.3 L2214.7,457.3 L2215.7,457.3 L2216.7,457.3 L2217.7,457.3 L2218.7,457.2 L2219.7,457.2 L2220.7,457.2 L2221.7,457.2 L2222.7,457.2 L2223.7,457.2 L2224.7,457.2 L2225.7,457.2 L2226.7,457.1 L2227.7,457.1 L2228.7,457.1 L2229.7,457.1 L2230.7,457.1 L2231.7,457.1 L2232.7,457.1 L2233.7,457.1 L2234.7,457.0 L2235.7,457.0 L2236.7,457.0 L2237.7,457.0 L2238.7,457.0 L2239.7,457.0 L2240.7,457.0 L2241.7,457.0 L2242.7,457.0 L2243.7,456.9 L2244.7,456.9 L2245.7,456.9 L2246.7,456.9 L2247.7,456.9 L2248.7,456.9 L2249.7,456.9 L2250.7,456.9 L2251.7,456.9 L2252.7,456.9 L2253.7,456.8 L2254.7,456.8 L2255.7,456.8 L2256.7,456.8 L2257.7,456.8 L2258.7,456.8 L2259.7,456.8 L2260.7,456.8 L2261.7,456.8 L2262.7,456.8 L2263.7,456.7 L2264.7,456.7 L2265.7,456.7 L2266.7,456.7 L2267.7,456.7 L2268.7,456.7 L2269.7,456.7 L2270.7,456.7 L2271.7,456.7 L2272.7,456.7 L2273.7,456.7 L2274.7,456.6 L2275.7,456.6 L2276.7,456.6 L2277.7,456.6 L2278.7,456.6 L2279.7,456.6 L2280.7,456.6 L2281.7,456.6 L2282.7,456.6 L2283.7,456.6 L2284.7,456.6 L2285.7,456.6 L2286.7,456.5 L2287.7,456.5 L2288.7,456.5 L2289.7,456.5 L2290.7,456.5 L2291.7,456.5 L2292.7,456.5 L2293.7,456.5 L2294.7,456.5 L2295.7,456.5 L2296.7,456.5 L2297.7,456.5 L2298.7,456.5 L2299.7,456.5 L2300.7,456.4 L2301.7,456.4 L2302.7,456.4 L2303.7,456.4 L2304.7,456.4 L2305.7,456.4 L2306.7,456.4 L2307.7,456.4 L2308.7,456.4 L2309.7,456.4 L2310.7,456.4 L2311.7,456.4 L2312.7,456.4 L2313.7,456.4 L2314.7,456.4 L2315.7,456.4 L2316.7,456.4 L2317.7,456.4 L2318.7,456.4 L2319.7,456.3 L2320.7,456.3 L2321.7,456.3 L2322.7,456.3 L2323.7,456.3" stroke="#008000"/>
<path d="M170.7,1272.1 L171.7,1272.1 L172.7,1272.1 L173.7,1272.1 L174.7,1272.1 L175.7,1272.1 L176.7,1272.1 L177.7,1272.1 L178.7,1272.1 L179.7,1272.1 L180.7,1272.1 L181.7,1272.1 L182.7,1272.1 L183.7,1272.1 L184.7,1272.0 L185.7,1272.0 L186.7,1272.0 L187.7,1272.0 L188.7,1272.0 L189.7,1272.0 L190.7,1272.0 L191.7,1272.0 L192.7,1272.0 L193.7,1272.0 L194.7,1272.0 L195.7,1272.0 L196.7,1271.9 L197.7,1271.9 L198.7,1271.9 L199.7,1271.9 L200.7,1271.9 L201.7,1271.9 L202.7,1271.9 L203.7,1271.9 L204.7,1271.9 L205.7,1271.8 L206.7,1271.8 L207.7,1271.8 L208.7,1271.8 L209.7,1271.8 L210.7,1271.8 L211.7,1271.8 L212.7,1271.7 L213.7,1271.7 L214.7,1271.7 L215.7,1271.7 L216.7,1271.7 L217.7,1271.6 L218.7,1271.6 L219.7,1271.6 L220.7,1271.6 L221.7,1271.6 L222.7,1271.5 L223.7,1271.5 L224.7,1271.5 L225.7,1271.5 L226.7,1271.5 L227.7,1271.4 L228.7,1271.4 L229.7,1271.4 L230.7,1271.4 L231.7,1271.4 L232.7,1271.3 L233.7,1271.3 L234.7,1271.3 L235.7,1271.3 L236.7,1271.2 L237.7,1271.2 L238.7,1271.2 L239.7,1271.2 L240.7,1271.2 L241.7,1271.1 L242.7,1271.1 L243.7,1271.1 L244.7,1271.1 L245.7,1271.1 L246.7,1271.0 L247.7,1271.0 L248.7,1271.0 L249.7,1271.0 L250.7,1270.9 L251.7,1270.9 L252.7,1270.9 L253.7,1270.9 L254.7,1270.8 L255.7,1270.8 L256.7,1270.8 L257.7,1270.7 L258.7,1270.7 L259.7,1270.7 L260.7,1270.7 L261.7,1270.7 L262.7,1270.6 L263.7,1270.6 L264.7,1270.6 L265.7,1270.6 L266.7,1270.6 L267.7,1270.6 L268.7,1270.6 L269.7,1270.6 L270.7,1270.6 L271.7,1270.6 L272.7,1270.6 L273.7,1270.6 L274.7,1270.6 L275.7,1270.6 L276.7,1270.6 L277.7,1270.6 L278.7,1270.6 L279.7,1270.6 L280.7,1270.6 L281.7,1270.6 L282.7,1270.5 L283.7,1270.5 L284.7,1270.5 L285.7,1270.5 L286.7,1270.5 L287.7,1270.5 L288.7,1270.5 L289.7,1270.5 L290.7,1270.5 L291.7,1270.4 L292.7,1270.4 L293.7,1270.4 L294.7,1270.4 L295.7,1270.4 L296.7,1270.4 L297.7,1270.4 L298.7,1270.4 L299.7,1270.4 L300.7,1270.4 L301.7,1270.3 L302.7,1270.3 L303.7,1270.3 L304.7,1270.2 L305.7,1270.2 L306.7,1270.1 L307.7,1270.0 L308.7,1270.0 L309.7,1269.9 L310.7,1269.8 L311.7,1269.6 L312.7,1269.5 L313.7,1269.3 L314.7,1269.1 L315.7,1269.0 L316.7,1268.8 L317.7,1268.6 L318.7,1268.3 L319.7,1268.1 L320.7,1267.8 L321.7,1267.6 L322.7,1267.3 L323.7,1267.0 L324.7,1266.7 L325.7,1266.4 L326.7,1266.0 L327.7,1265.7 L328.7,1265.3 L329.7,1264.9 L330.7,1264.5 L331.7,1264.0 L332.7,1263.6 L333.7,1263.1 L334.7,1262.6 L335.7,1262.1 L336.7,1261.5 L337.7,1261.0 L338.7,1260.4 L339.7,1259.8 L340.7,1259.2 L341.7,1258.6 L342.7,1258.0 L343.7,1257.3 L344.7,1256.6 L345.7,1255.9 L346.7,1255.2 L347.7,1254.5 L348.7,1253.7 L349.7,1252.9 L350.7,1252.1 L351.7,1251.3 L352.7,1250.5 L353.7,1249.6 L354.7,1248.8 L355.7,1247.9 L356.7,1247.1 L357.7,1246.2 L358.7,1245.3 L359.7,1244.4 L360.7,1243.5 L361.7,1242.6 L362.7,1241.7 L363.7,1240.8 L364.7,1239.9 L365.7,1239.1 L366.7,1238.2 L367.7,1237.4 L368.7,1236.5 L369.7,1235.7 L370.7,1234.9 L371.7,1234.2 L372.7,1233.4 L373.7,1232.8 L374.7,1232.1 L375.7,1231.5 L376.7,1230.9 L377.7,1230.4 L378.7,1229.9 L379.7,1229.4 L380.7,1229.0 L381.7,1228.7 L382.7,1228.5 L383.7,1228.2 L384.7,1228.1 L385.7,1228.0 L386.7,1228.0 L387.7,1228.1 L388.7,1228.2 L389.7,1228.4 L390.7,1228.7 L391.7,1229.0 L392.7,1229.4 L393.7,1229.9 L394.7,1230.5 L395.7,1231.2 L396.7,1231.9 L397.7,1232.7 L398.7,1233.6 L399.7,1234.6 L400.7,1235.6 L401.7,1236.8 L402.7,1238.0 L403.7,1239.2 L404.7,1240.6 L405.7,1242.0 L406.7,1243.4 L407.7,1245.0 L408.7,1246.6 L409.7,1248.2 L410.7,1249.9 L411.7,1251.7 L412.7,1253.5 L413.7,1255.3 L414.7,1257.2 L415.7,1259.1 L416.7,1261.1 L417.7,1263.0 L418.7,1265.0 L419.7,1267.0 L420.7,1269.1 L421.7,1271.1 L422.7,1273.1 L423.7,1275.0 L424.7,1277.0 L425.7,1278.9 L426.7,1280.8 L427.7,1282.7 L428.7,1284.5 L429.7,1286.4 L430.7,1288.1 L431.7,1289.9 L432.7,1291.6 L433.7,1293.2 L434.7,1294.8 L435.7,1296.3 L436.7,1297.7 L437.7,1299.1 L438.7,1300.4 L439.7,1301.7 L440.7,1302.8 L441.7,1303.9 L442.7,1304.9 L443.7,1305.8 L444.7,1306.7 L445.7,1307.5 L446.7,1308.1 L447.7,1308.7 L448.7,1309.3 L449.7,1309.7 L450.7,1310.0 L451.7,1310.3 L452.7,1310.5 L453.7,1310.6 L454.7,1310.7 L455.7,1310.7 L456.7,1310.6 L457.7,1310.4 L458.7,1310.2 L459.7,1309.9 L460.7,1309.5 L461.7,1309.1 L462.7,1308.7 L463.7,1308.2 L464.7,1307.6 L465.7,1307.0 L466.7,1306.4 L467.7,1305.7 L468.7,1305.0 L469.7,1304.3 L470.7,1303.5 L471.7,1302.8 L472.7,1302.0 L473.7,1301.2 L474.7,1300.4 L475.7,1299.6 L476.7,1298.8 L477.7,1297.9 L478.7,1297.1 L479.7,1296.3 L480.7,1295.5 L481.7,1294.7 L482.7,1293.9 L483.7,1293.1 L484.7,1292.3 L485.7,1291.6 L486.7,1290.8 L487.7,1290.1 L488.7,1289.4 L489.7,1288.7 L490.7,1288.0 L491.7,1287.3 L492.7,1286.7 L493.7,1286.1 L494.7,1285.5 L495.7,1284.9 L496.7,1284.3 L497.7,1283.8 L498.7,1283.3 L499.7,1282.8 L500.7,1282.3 L501.7,1281.9 L502.7,1281.4 L503.7,1281.0 L504.7,1280.6 L505.7,1280.3 L506.7,1279.9 L507.7,1279.6 L508.7,1279.2 L509.7,1278.9 L510.7,1278.7 L511.7,1278.4 L512.7,1278.1 L513.7,1277.9 L514.7,1277.7 L515.7,1277.5 L516.7,1277.3 L517.7,1277.1 L518.7,1276.9 L519.7,1276.7 L520.7,1276.6 L521.7,1276.4 L522.7,1276.3 L523.7,1276.2 L524.7,1276.1 L525.7,1276.0 L526.7,1275.9 L527.7,1275.8 L528.7,1275.7 L529.7,1275.6 L530.7,1275.5 L531.7,1275.5 L532.7,1275.4 L533.7,1275.4 L534.7,1275.3 L535.7,1275.3 L536.7,1275.2 L537.7,1275.2 L538.7,1275.2 L539.7,1275.1 L540.7,1275.1 L541.7,1275.1 L542.7,1275.0 L543.7,1275.0 L544.7,1275.0 L545.7,1275.0 L546.7,1275.0 L547.7,1274.9 L548.7,1274.9 L549.7,1274.9 L550.7,1274.9 L551.7,1274.9 L552.7,1274.9 L553.7,1274.9 L554.7,1274.9 L555.7,1274.8 L556.7,1274.8 L557.7,1274.8 L558.7,1274.8 L559.7,1274.8 L560.7,1274.8 L561.7,1274.8 L562.7,1274.8 L563.7,1274.8 L564.7,1274.8 L565.7,1274.8 L566.7,1274.8 L567.7,1274.7 L568.7,1274.7 L569.7,1274.7 L570.7,1274.7 L571.7,1274.7 L572.7,1274.6 L573.7,1274.6 L574.7,1274.6 L575.7,1274.5 L576.7,1274.5 L577.7,1274.5 L578.7,1274.4 L579.7,1274.4 L580.7,1274.4 L581.7,1274.3 L582.7,1274.3 L583.7,1274.2 L584.7,1274.2 L585.7,1274.2 L586.7,1274.1 L587.7,1274.1 L588.7,1274.1 L589.7,1274.0 L590.7,1274.0 L591.7,1274.0 L592.7,1273.9 L593.7,1273.9 L594.7,1273.9 L595.7,1273.8 L596.7,1273.8 L597.7,1273.8 L598.7,1273.7 L599.7,1273.7 L600.7,1273.7 L601.7,1273.6 L602.7,1273.6 L603.7,1273.6 L604.7,1273.5 L605.7,1273.5 L606.7,1273.4 L607.7,1273.4 L608.7,1273.4 L609.7,1273.3 L610.7,1273.3 L611.7,1273.3 L612.7,1273.2 L613.7,1273.2 L614.7,1273.2 L615.7,1273.2 L616.7,1273.1 L617.7,1273.1 L618.7,1273.1 L619.7,1273.0 L620.7,1273.0 L621.7,1273.0 L622.7,1273.0 L623.7,1273.0 L624.7,1272.9 L625.7,1272.9 L626.7,1272.9 L627.7,1272.9 L628.7,1272.9 L629.7,1272.9 L630.7,1272.8 L631.7,1272.8 L632.7,1272.8 L633.7,1272.8 L634.7,1272.8 L635.7,1272.8 L636.7,1272.8 L637.7,1272.8 L638.7,1272.8 L639.7,1272.8 L640.7,1272.8 L641.7,1272.7 L642.7,1272.7 L643.7,1272.7 L644.7,1272.7 L645.7,1272.7 L646.7,1272.7 L647.7,1272.7 L648.7,1272.7 L649.7,1272.7 L650.7,1272.7 L651.7,1272.7 L652.7,1272.7 L653.7,1272.7 L654.7,1272.7 L655.7,1272.7 L656.7,1272.7 L657.7,1272.7 L658.7,1272.7 L659.7,1272.7 L660.7,1272.7 L661.7,1272.7 L662.7,1272.6 L663.7,1272.6 L664.7,1272.6 L665.7,1272.6 L666.7,1272.6 L667.7,1272.6 L668.7,1272.6 L669.7,1272.6 L670.7,1272.6 L671.7,1272.6 L672.7,1272.6 L673.7,1272.6 L674.7,1272.6 L675.7,1272.6 L676.7,1272.6 L677.7,1272.6 L678.7,1272.6 L679.7,1272.6 L680.7,1272.6 L681.7,1272.6 L682.7,1272.6 L683.7,1272.6 L684.7,1272.6 L685.7,1272.6 L686.7,1272.6 L687.7,1272.6 L688.7,1272.6 L689.7,1272.6 L690.7,1272.6 L691.7,1272.5 L692.7,1272.5 L693.7,1272.5 L694.7,1272.5 L695.7,1272.5 L696.7,1272.5 L697.7,1272.5 L698.7,1272.5 L699.7,1272.5 L700.7,1272.5 L701.7,1272.5 L702.7,1272.5 L703.7,1272.5 L704.7,1272.5 L705.7,1272.5 L706.7,1272.5 L707.7,1272.5 L708.7,1272.5 L709.7,1272.5 L710.7,1272.5 L711.7,1272.5 L712.7,1272.5 L713.7,1272.5 L714.7,1272.5 L715.7,1272.4 L716.7,1272.4 L717.7,1272.4 L718.7,1272.4 L719.7,1272.4 L720.7,1272.4 L721.7,1272.4 L722.7,1272.4 L723.7,1272.4 L724.7,1272.4 L725.7,1272.4 L726.7,1272.4 L727.7,1272.4 L728.7,1272.4 L729.7,1272.4 L730.7,1272.4 L731.7,1272.4 L732.7,1272.4 L733.7,1272.4 L734.7,1272.4 L735.7,1272.4 L736.7,1272.4 L737.7,1272.4 L738.7,1272.4 L739.7,1272.4 L740.7,1272.4 L741.7,1272.4 L742.7,1272.4 L743.7,1272.4 L744.7,1272.4 L745.7,1272.4 L746.7,1272.4 L747.7,1272.4 L748.7,1272.4 L749.7,1272.4 L750.7,1272.4 L751.7,1272.3 L752.7,1272.3 L753.7,1272.3 L754.7,1272.3 L755.7,1272.3 L756.7,1272.3 L757.7,1272.3 L758.7,1272.3 L759.7,1272.3 L760.7,1272.3 L761.7,1272.3 L762.7,1272.3 L763.7,1272.3 L764.7,1272.3 L765.7,1272.3 L766.7,1272.3 L767.7,1272.3 L768.7,1272.3 L769.7,1272.3 L770.7,1272.3 L771.7,1272.3 L772.7,1272.3 L773.7,1272.3 L774.7,1272.3 L775.7,1272.3 L776.7,1272.3 L777.7,1272.3 L778.7,1272.3 L779.7,1272.3 L780.7,1272.3 L781.7,1272.3 L782.7,1272.3 L783.7,1272.3 L784.7,1272.3 L785.7,1272.3 L786.7,1272.3 L787.7,1272.3 L788.7,1272.3 L789.7,1272.3 L790.7,1272.3 L791.7,1272.3 L792.7,1272.3 L793.7,1272.3 L794.7,1272.3 L795.7,1272.3 L796.7,1272.3 L797.7,1272.3 L798.7,1272.3 L799.7,1272.3 L800.7,1272.3 L801.7,1272.3 L802.7,1272.3 L803.7,1272.3 L804.7,1272.3 L805.7,1272.3 L806.7,1272.3 L807.7,1272.2 L808.7,1272.2 L809.7,1272.2 L810.7,1272.2 L811.7,1272.2 L812.7,1272.2 L813.7,1272.2 L814.7,1272.2 L815.7,1272.2 L816.7,1272.2 L817.7,1272.2 L818.7,1272.2 L819.7,1272.2 L820.7,1272.2 L821.7,1272.2 L822.7,1272.2 L823.7,1272.2 L824.7,1272.2 L825.7,1272.2 L826.7,1272.2 L827.7,1272.2 L828.7,1272.2 L829.7,1272.2 L830.7,1272.2 L831.7,1272.2 L832.7,1272.2 L833.7,1272.2 L834.7,1272.2 L835.7,1272.2 L836.7,1272.2 L837.7,1272.2 L838.7,1272.2 L839.7,1272.2 L840.7,1272.2 L841.7,1272.2 L842.7,1272.2 L843.7,1272.2 L844.7,1272.2 L845.7,1272.2 L846.7,1272.2 L847.7,1272.2 L848.7,1272.2 L849.7,1272.2 L850.7,1272.2 L851.7,1272.2 L852.7,1272.2 L853.7,1272.2 L854.7,1272.2 L855.7,1272.2 L856.7,1272.2 L857.7,1272.2 L858.7,1272.2 L859.7,1272.2 L860.7,1272.2 L861.7,1272.2 L862.7,1272.2 L863.7,1272.2 L864.7,1272.2 L865.7,1272.2 L866.7,1272.2 L867.7,1272.2 L868.7,1272.2 L869.7,1272.2 L870.7,1272.2 L871.7,1272.2 L872.7,1272.2 L873.7,1272.2 L874.7,1272.2 L875.7,1272.2 L876.7,1272.2 L877.7,1272.2 L878.7,1272.2 L879.7,1272.2 L880.7,1272.2 L881.7,1272.2 L882.7,1272.2 L883.7,1272.2 L884.7,1272.2 L885.7,1272.2 L886.7,1272.2 L887.7,1272.2 L888.7,1272.2 L889.7,1272.2 L890.7,1272.2 L891.7,1272.2 L892.7,1272.2 L893.7,1272.2 L894.7,1272.2 L895.7,1272.2 L896.7,1272.2 L897.7,1272.2 L898.7,1272.2 L899.7,1272.2 L900.7,1272.2 L901.7,1272.2 L902.7,1272.2 L903.7,1272.2 L904.7,1272.2 L905.7,1272.2 L906.7,1272.2 L907.7,1272.2 L908.7,1272.2 L909.7,1272.2 L910.7,1272.2 L911.7,1272.2 L912.7,1272.2 L913.7,1272.2 L914.7,1272.2 L915.7,1272.2 L916.7,1272.2 L917.7,1272.2 L918.7,1272.1 L919.7,1272.1 L920.7,1272.1 L921.7,1272.1 L922.7,1272.1 L923.7,1272.1 L924.7,1272.1 L925.7,1272.1 L926.7,1272.1 L927.7,1272.1 L928.7,1272.1 L929.7,1272.1 L930.7,1272.1 L931.7,1272.1 L932.7,1272.1 L933.7,1272.0 L934.7,1272.0 L935.7,1272.0 L936.7,1272.0 L937.7,1272.0 L938.7,1272.0 L939.7,1272.0 L940.7,1272.0 L941.7,1272.0 L942.7,1272.0 L943.7,1271.9 L944.7,1271.9 L945.7,1271.9 L946.7,1271.9 L947.7,1271.9 L948.7,1271.9 L949.7,1271.9 L950.7,1271.9 L951.7,1271.8 L952.7,1271.8 L953.7,1271.8 L954.7,1271.8 L955.7,1271.8 L956.7,1271.8 L957.7,1271.7 L958.7,1271.7 L959.7,1271.7 L960.7,1271.7 L961.7,1271.7 L962.7,1271.6 L963.7,1271.6 L964.7,1271.6 L965.7,1271.6 L966.7,1271.6 L967.7,1271.5 L968.7,1271.5 L969.7,1271.5 L970.7,1271.5 L971.7,1271.5 L972.7,1271.4 L973.7,1271.4 L974.7,1271.4 L975.7,1271.4 L976.7,1271.3 L977.7,1271.3 L978.7,1271.3 L979.7,1271.3 L980.7,1271.2 L981.7,1271.2 L982.7,1271.2 L983.7,1271.2 L984.7,1271.1 L985.7,1271.1 L986.7,1271.1 L987.7,1271.1 L988.7,1271.1 L989.7,1271.0 L990.7,1271.0 L991.7,1271.0 L992.7,1271.0 L993.7,1270.9 L994.7,1270.9 L995.7,1270.9 L996.7,1270.9 L997.7,1270.8 L998.7,1270.8 L999.7,1270.8 L1000.7,1270.8 L1001.7,1270.7 L1002.7,1270.7 L1003.7,1270.7 L1004.7,1270.7 L1005.7,1270.7 L1006.7,1270.6 L1007.7,1270.6 L1008.7,1270.6 L1009.7,1270.6 L1010.7,1270.6 L1011.7,1270.6 L1012.7,1270.6 L1013.7,1270.6 L1014.7,1270.6 L1015.7,1270.6 L1016.7,1270.6 L1017.7,1270.6 L1018.7,1270.6 L1019.7,1270.6 L1020.7,1270.6 L1021.7,1270.6 L1022.7,1270.6 L1023.7,1270.6 L1024.7,1270.6 L1025.7,1270.6 L1026.7,1270.5 L1027.7,1270.5 L1028.7,1270.5 L1029.7,1270.5 L1030.7,1270.5 L1031.7,1270.5 L1032.7,1270.5 L1033.7,1270.5 L1034.7,1270.5 L1035.7,1270.4 L1036.7,1270.4 L1037.7,1270.4 L1038.7,1270.4 L1039.7,1270.4 L1040.7,1270.4 L1041.7,1270.4 L1042.7,1270.4 L1043.7,1270.4 L1044.7,1270.4 L1045.7,1270.3 L1046.7,1270.3 L1047.7,1270.2 L1048.7,1270.2 L1049.7,1270.1 L1050.7,1270.1 L1051.7,1270.0 L1052.7,1269.9 L1053.7,1269.8 L1054.7,1269.7 L1055.7,1269.5 L1056.7,1269.3 L1057.7,1269.2 L1058.7,1269.0 L1059.7,1268.8 L1060.7,1268.6 L1061.7,1268.4 L1062.7,1268.1 L1063.7,1267.9 L1064.7,1267.6 L1065.7,1267.4 L1066.7,1267.1 L1067.7,1266.8 L1068.7,1266.4 L1069.7,1266.1 L1070.7,1265.7 L1071.7,1265.3 L1072.7,1265.0 L1073.7,1264.5 L1074.7,1264.1 L1075.7,1263.6 L1076.7,1263.2 L1077.7,1262.7 L1078.7,1262.2 L1079.7,1261.6 L1080.7,1261.1 L1081.7,1260.5 L1082.7,1259.9 L1083.7,1259.3 L1084.7,1258.7 L1085.7,1258.1 L1086.7,1257.4 L1087.7,1256.8 L1088.7,1256.1 L1089.7,1255.4 L1090.7,1254.6 L1091.7,1253.9 L1092.7,1253.1 L1093.7,1252.3 L1094.7,1251.5 L1095.7,1250.7 L1096.7,1249.8 L1097.7,1249.0 L1098.7,1248.1 L1099.7,1247.2 L1100.7,1246.4 L1101.7,1245.5 L1102.7,1244.6 L1103.7,1243.7 L1104.7,1242.8 L1105.7,1241.9 L1106.7,1241.0 L1107.7,1240.2 L1108.7,1239.3 L1109.7,1238.4 L1110.7,1237.6 L1111.7,1236.7 L1112.7,1235.9 L1113.7,1235.2 L1114.7,1234.4 L1115.7,1233.7 L1116.7,1233.0 L1117.7,1232.3 L1118.7,1231.7 L1119.7,1231.1 L1120.7,1230.6 L1121.7,1230.1 L1122.7,1229.6 L1123.7,1229.3 L1124.7,1228.9 L1125.7,1228.6 L1126.7,1228.4 L1127.7,1228.3 L1128.7,1228.2 L1129.7,1228.2 L1130.7,1228.2 L1131.7,1228.3 L1132.7,1228.5 L1133.7,1228.8 L1134.7,1229.1 L1135.7,1229.6 L1136.7,1230.0 L1137.7,1230.6 L1138.7,1231.3 L1139.7,1232.0 L1140.7,1232.8 L1141.7,1233.7 L1142.7,1234.6 L1143.7,1235.7 L1144.7,1236.8 L1145.7,1238.0 L1146.7,1239.2 L1147.7,1240.5 L1148.7,1241.9 L1149.7,1243.4 L1150.7,1244.9 L1151.7,1246.5 L1152.7,1248.1 L1153.7,1249.8 L1154.7,1251.6 L1155.7,1253.4 L1156.7,1255.2 L1157.7,1257.1 L1158.7,1259.0 L1159.7,1260.9 L1160.7,1262.9 L1161.7,1264.9 L1162.7,1266.9 L1163.7,1268.9 L1164.7,1270.9 L1165.7,1272.9 L1166.7,1274.8 L1167.7,1276.8 L1168.7,1278.7 L1169.7,1280.6 L1170.7,1282.5 L1171.7,1284.3 L1172.7,1286.2 L1173.7,1288.0 L1174.7,1289.7 L1175.7,1291.4 L1176.7,1293.0 L1177.7,1294.6 L1178.7,1296.1 L1179.7,1297.6 L1180.7,1299.0 L1181.7,1300.3 L1182.7,1301.5 L1183.7,1302.7 L1184.7,1303.8 L1185.7,1304.8 L1186.7,1305.8 L1187.7,1306.6 L1188.7,1307.4 L1189.7,1308.1 L1190.7,1308.7 L1191.7,1309.2 L1192.7,1309.7 L1193.7,1310.0 L1194.7,1310.3 L1195.7,1310.5 L1196.7,1310.6 L1197.7,1310.7 L1198.7,1310.7 L1199.7,1310.6 L1200.7,1310.4 L1201.7,1310.2 L1202.7,1309.9 L1203.7,1309.6 L1204.7,1309.2 L1205.7,1308.7 L1206.7,1308.2 L1207.7,1307.7 L1208.7,1307.1 L1209.7,1306.4 L1210.7,1305.8 L1211.7,1305.1 L1212.7,1304.4 L1213.7,1303.6 L1214.7,1302.9 L1215.7,1302.1 L1216.7,1301.3 L1217.7,1300.5 L1218.7,1299.7 L1219.7,1298.8 L1220.7,1298.0 L1221.7,1297.2 L1222.7,1296.4 L1223.7,1295.6 L1224.7,1294.8 L1225.7,1294.0 L1226.7,1293.2 L1227.7,1292.4 L1228.7,1291.6 L1229.7,1290.9 L1230.7,1290.2 L1231.7,1289.4 L1232.7,1288.7 L1233.7,1288.1 L1234.7,1287.4 L1235.7,1286.8 L1236.7,1286.1 L1237.7,1285.5 L1238.7,1284.9 L1239.7,1284.4 L1240.7,1283.9 L1241.7,1283.3 L1242.7,1282.8 L1243.7,1282.4 L1244.7,1281.9 L1245.7,1281.5 L1246.7,1281.1 L1247.7,1280.7 L1248.7,1280.3 L1249.7,1279.9 L1250.7,1279.6 L1251.7,1279.3 L1252.7,1279.0 L1253.7,1278.7 L1254.7,1278.4 L1255.7,1278.2 L1256.7,1277.9 L1257.7,1277.7 L1258.7,1277.5 L1259.7,1277.3 L1260.7,1277.1 L1261.7,1276.9 L1262.7,1276.8 L1263.7,1276.6 L1264.7,1276.5 L1265.7,1276.3 L1266.7,1276.2 L1267.7,1276.1 L1268.7,1276.0 L1269.7,1275.9 L1270.7,1275.8 L1271.7,1275.7 L1272.7,1275.6 L1273.7,1275.5 L1274.7,1275.5 L1275.7,1275.4 L1276.7,1275.4 L1277.7,1275.3 L1278.7,1275.3 L1279.7,1275.2 L1280.7,1275.2 L1281.7,1275.2 L1282.7,1275.1 L1283.7,1275.1 L1284.7,1275.1 L1285.7,1275.1 L1286.7,1275.0 L1287.7,1275.0 L1288.7,1275.0 L1289.7,1275.0 L1290.7,1274.9 L1291.7,1274.9 L1292.7,1274.9 L1293.7,1274.9 L1294.7,1274.9 L1295.7,1274.9 L1296.7,1274.9 L1297.7,1274.9 L1298.7,1274.8 L1299.7,1274.8 L1300.7,1274.8 L1301.7,1274.8 L1302.7,1274.8 L1303.7,1274.8 L1304.7,1274.8 L1305.7,1274.8 L1306.7,1274.8 L1307.7,1274.8 L1308.7,1274.8 L1309.7,1274.8 L1310.7,1274.8 L1311.7,1274.7 L1312.7,1274.7 L1313.7,1274.7 L1314.7,1274.7 L1315.7,1274.6 L1316.7,1274.6 L1317.7,1274.6 L1318.7,1274.5 L1319.7,1274.5 L1320.7,1274.5 L1321.7,1274.4 L1322.7,1274.4 L1323.7,1274.4 L1324.7,1274.3 L1325.7,1274.3 L1326.7,1274.3 L1327.7,1274.2 L1328.7,1274.2 L1329.7,1274.1 L1330.7,1274.1 L1331.7,1274.1 L1332.7,1274.0 L1333.7,1274.0 L1334.7,1274.0 L1335.7,1273.9 L1336.7,1273.9 L1337.7,1273.9 L1338.7,1273.8 L1339.7,1273.8 L1340.7,1273.8 L1341.7,1273.7 L1342.7,1273.7 L1343.7,1273.7 L1344.7,1273.6 L1345.7,1273.6 L1346.7,1273.6 L1347.7,1273.5 L1348.7,1273.5 L1349.7,1273.5 L1350.7,1273.4 L1351.7,1273.4 L1352.7,1273.3 L1353.7,1273.3 L1354.7,1273.3 L1355.7,1273.3 L1356.7,1273.2 L1357.7,1273.2 L1358.7,1273.2 L1359.7,1273.1 L1360.7,1273.1 L1361.7,1273.1 L1362.7,1273.0 L1363.7,1273.0 L1364.7,1273.0 L1365.7,1273.0 L1366.7,1273.0 L1367.7,1272.9 L1368.7,1272.9 L1369.7,1272.9 L1370.7,1272.9 L1371.7,1272.9 L1372.7,1272.9 L1373.7,1272.8 L1374.7,1272.8 L1375.7,1272.8 L1376.7,1272.8 L1377.7,1272.8 L1378.7,1272.8 L1379.7,1272.8 L1380.7,1272.8 L1381.7,1272.8 L1382.7,1272.8 L1383.7,1272.8 L1384.7,1272.7 L1385.7,1272.7 L1386.7,1272.7 L1387.7,1272.7 L1388.7,1272.7 L1389.7,1272.7 L1390.7,1272.7 L1391.7,1272.7 L1392.7,1272.7 L1393.7,1272.7 L1394.7,1272.7 L1395.7,1272.7 L1396.7,1272.7 L1397.7,1272.7 L1398.7,1272.7 L1399.7,1272.7 L1400.7,1272.7 L1401.7,1272.7 L1402.7,1272.7 L1403.7,1272.7 L1404.7,1272.7 L1405.7,1272.6 L1406.7,1272.6 L1407.7,1272.6 L1408.7,1272.6 L1409.7,1272.6 L1410.7,1272.6 L1411.7,1272.6 L1412.7,1272.6 L1413.7,1272.6 L1414.7,1272.6 L1415.7,1272.6 L1416.7,1272.6 L1417.7,1272.6 L1418.7,1272.6 L1419.7,1272.6 L1420.7,1272.6 L1421.7,1272.6 L1422.7,1272.6 L1423.7,1272.6 L1424.7,1272.6 L1425.7,1272.6 L1426.7,1272.6 L1427.7,1272.6 L1428.7,1272.6 L1429.7,1272.6 L1430.7,1272.6 L1431.7,1272.6 L1432.7,1272.6 L1433.7,1272.6 L1434.7,1272.5 L1435.7,1272.5 L1436.7,1272.5 L1437.7,1272.5 L1438.7,1272.5 L1439.7,1272.5 L1440.7,1272.5 L1441.7,1272.5 L1442.7,1272.5 L1443.7,1272.5 L1444.7,1272.5 L1445.7,1272.5 L1446.7,1272.5 L1447.7,1272.5 L1448.7,1272.5 L1449.7,1272.5 L1450.7,1272.5 L1451.7,1272.5 L1452.7,1272.5 L1453.7,1272.5 L1454.7,1272.5 L1455.7,1272.5 L1456.7,1272.5 L1457.7,1272.5 L1458.7,1272.4 L1459.7,1272.4 L1460.7,1272.4 L1461.7,1272.4 L1462.7,1272.4 L1463.7,1272.4 L1464.7,1272.4 L1465.7,1272.4 L1466.7,1272.4 L1467.7,1272.4 L1468.7,1272.4 L1469.7,1272.4 L1470.7,1272.4 L1471.7,1272.4 L1472.7,1272.4 L1473.7,1272.4 L1474.7,1272.4 L1475.7,1272.4 L1476.7,1272.4 L1477.7,1272.4 L1478.7,1272.4 L1479.7,1272.4 L1480.7,1272.4 L1481.7,1272.4 L1482.7,1272.4 L1483.7,1272.4 L1484.7,1272.4 L1485.7,1272.4 L1486.7,1272.4 L1487.7,1272.4 L1488.7,1272.4 L1489.7,1272.4 L1490.7,1272.4 L1491.7,1272.4 L1492.7,1272.4 L1493.7,1272.4 L1494.7,1272.3 L1495.7,1272.3 L1496.7,1272.3 L1497.7,1272.3 L1498.7,1272.3 L1499.7,1272.3 L1500.7,1272.3 L1501.7,1272.3 L1502.7,1272.3 L1503.7,1272.3 L1504.7,1272.3 L1505.7,1272.3 L1506.7,1272.3 L1507.7,1272.3 L1508.7,1272.3 L1509.7,1272.3 L1510.7,1272.3 L1511.7,1272.3 L1512.7,1272.3 L1513.7,1272.3 L1514.7,1272.3 L1515.7,1272.3 L1516.7,1272.3 L1517.7,1272.3 L1518.7,1272.3 L1519.7,1272.3 L1520.7,1272.3 L1521.7,1272.3 L1522.7,1272.3 L1523.7,1272.3 L1524.7,1272.3 L1525.7,1272.3 L1526.7,1272.3 L1527.7,1272.3 L1528.7,1272.3 L1529.7,1272.3 L1530.7,1272.3 L1531.7,1272.3 L1532.7,1272.3 L1533.7,1272.3 L1534.7,1272.3 L1535.7,1272.3 L1536.7,1272.3 L1537.7,1272.3 L1538.7,1272.3 L1539.7,1272.3 L1540.7,1272.3 L1541.7,1272.3 L1542.7,1272.3 L1543.7,1272.3 L1544.7,1272.3 L1545.7,1272.3 L1546.7,1272.3 L1547.7,1272.3 L1548.7,1272.3 L1549.7,1272.3 L1550.7,1272.2 L1551.7,1272.2 L1552.7,1272.2 L1553.7,1272.2 L1554.7,1272.2 L1555.7,1272.2 L1556.7,1272.2 L1557.7,1272.2 L1558.7,1272.2 L1559.7,1272.2 L1560.7,1272.2 L1561.7,1272.2 L1562.7,1272.2 L1563.7,1272.2 L1564.7,1272.2 L1565.7,1272.2 L1566.7,1272.2 L1567.7,1272.2 L1568.7,1272.2 L1569.7,1272.2 L1570.7,1272.2 L1571.7,1272.2 L1572.7,1272.2 L1573.7,1272.2 L1574.7,1272.2 L1575.7,1272.2 L1576.7,1272.2 L1577.7,1272.2 L1578.7,1272.2 L1579.7,1272.2 L1580.7,1272.2 L1581.7,1272.2 L1582.7,1272.2 L1583.7,1272.2 L1584.7,1272.2 L1585.7,1272.2 L1586.7,1272.2 L1587.7,1272.2 L1588.7,1272.2 L1589.7,1272.2 L1590.7,1272.2 L1591.7,1272.2 L1592.7,1272.2 L1593.7,1272.2 L1594.7,1272.2 L1595.7,1272.2 L1596.7,1272.2 L1597.7,1272.2 L1598.7,1272.2 L1599.7,1272.2 L1600.7,1272.2 L1601.7,1272.2 L1602.7,1272.2 L1603.7,1272.2 L1604.7,1272.2 L1605.7,1272.2 L1606.7,1272.2 L1607.7,1272.2 L1608.7,1272.2 L1609.7,1272.2 L1610.7,1272.2 L1611.7,1272.2 L1612.7,1272.2 L1613.7,1272.2 L1614.7,1272.2 L1615.7,1272.2 L1616.7,1272.2 L1617.7,1272.2 L1618.7,1272.2 L1619.7,1272.2 L1620.7,1272.2 L1621.7,1272.2 L1622.7,1272.2 L1623.7,1272.2 L1624.7,1272.2 L1625.7,1272.2 L1626.7,1272.2 L1627.7,1272.2 L1628.7,1272.2 L1629.7,1272.2 L1630.7,1272.2 L1631.7,1272.2 L1632.7,1272.2 L1633.7,1272.2 L1634.7,1272.2 L1635.7,1272.2 L1636.7,1272.2 L1637.7,1272.2 L1638.7,1272.2 L1639.7,1272.2 L1640.7,1272.2 L1641.7,1272.2 L1642.7,1272.2 L1643.7,1272.2 L1644.7,1272.2 L1645.7,1272.2 L1646.7,1272.2 L1647.7,1272.2 L1648.7,1272.2 L1649.7,1272.2 L1650.7,1272.2 L1651.7,1272.2 L1652.7,1272.2 L1653.7,1272.2 L1654.7,1272.2 L1655.7,1272.2 L1656.7,1272.2 L1657.7,1272.2 L1658.7,1272.2 L1659.7,1272.2 L1660.7,1272.2 L1661.7,1272.2 L1662.7,1272.2 L1663.7,1272.2 L1664.7,1272.1 L1665.7,1272.1 L1666.7,1272.1 L1667.7,1272.1 L1668.7,1272.1 L1669.7,1272.1 L1670.7,1272.1 L1671.7,1272.1 L1672.7,1272.1 L1673.7,1272.1 L1674.7,1272.1 L1675.7,1272.1 L1676.7,1272.1 L1677.7,1272.1 L1678.7,1272.1 L1679.7,1272.1 L1680.7,1272.0 L1681.7,1272.0 L1682.7,1272.0 L1683.7,1272.0 L1684.7,1272.0 L1685.7,1272.0 L1686.7,1272.0 L1687.7,1272.0 L1688.7,1272.0 L1689.7,1272.0 L1690.7,1271.9 L1691.7,1271.9 L1692.7,1271.9 L1693.7,1271.9 L1694.7,1271.9 L1695.7,1271.9 L1696.7,1271.9 L1697.7,1271.9 L1698.7,1271.9 L1699.7,1271.8 L1700.7,1271.8 L1701.7,1271.8 L1702.7,1271.8 L1703.7,1271.8 L1704.7,1271.7 L1705.7,1271.7 L1706.7,1271.7 L1707.7,1271.7 L1708.7,1271.7 L1709.7,1271.6 L1710.7,1271.6 L1711.7,1271.6 L1712.7,1271.6 L1713.7,1271.6 L1714.7,1271.6 L1715.7,1271.5 L1716.7,1271.5 L1717.7,1271.5 L1718.7,1271.5 L1719.7,1271.5 L1720.7,1271.4 L1721.7,1271.4 L1722.7,1271.4 L1723.7,1271.3 L1724.7,1271.3 L1725.7,1271.3 L1726.7,1271.3 L1727.7,1271.3 L1728.7,1271.2 L1729.7,1271.2 L1730.7,1271.2 L1731.7,1271.2 L1732.7,1271.1 L1733.7,1271.1 L1734.7,1271.1 L1735.7,1271.1 L1736.7,1271.1 L1737.7,1271.0 L1738.7,1271.0 L1739.7,1271.0 L1740.7,1271.0 L1741.7,1270.9 L1742.7,1270.9 L1743.7,1270.9 L1744.7,1270.9 L1745.7,1270.8 L1746.7,1270.8 L1747.7,1270.8 L1748.7,1270.8 L1749.7,1270.7 L1750.7,1270.7 L1751.7,1270.7 L1752.7,1270.7 L1753.7,1270.7 L1754.7,1270.7 L1755.7,1270.7 L1756.7,1270.6 L1757.7,1270.6 L1758.7,1270.6 L1759.7,1270.6 L1760.7,1270.6 L1761.7,1270.6 L1762.7,1270.6 L1763.7,1270.6 L1764.7,1270.6 L1765.7,1270.6 L1766.7,1270.6 L1767.7,1270.6 L1768.7,1270.6 L1769.7,1270.6 L1770.7,1270.6 L1771.7,1270.6 L1772.7,1270.6 L1773.7,1270.6 L1774.7,1270.6 L1775.7,1270.6 L1776.7,1270.6 L1777.7,1270.5 L1778.7,1270.5 L1779.7,1270.5 L1780.7,1270.5 L1781.7,1270.5 L1782.7,1270.5 L1783.7,1270.5 L1784.7,1270.5 L1785.7,1270.5 L1786.7,1270.5 L1787.7,1270.5 L1788.7,1270.5 L1789.7,1270.5 L1790.7,1270.4 L1791.7,1270.4 L1792.7,1270.4 L1793.7,1270.3 L1794.7,1270.3 L1795.7,1270.2 L1796.7,1270.2 L1797.7,1270.1 L1798.7,1270.0 L1799.7,1270.0 L1800.7,1269.9 L1801.7,1269.7 L1802.7,1269.6 L1803.7,1269.4 L1804.7,1269.3 L1805.7,1269.1 L1806.7,1268.9 L1807.7,1268.7 L1808.7,1268.5 L1809.7,1268.3 L1810.7,1268.0 L1811.7,1267.8 L1812.7,1267.5 L1813.7,1267.2 L1814.7,1266.9 L1815.7,1266.6 L1816.7,1266.3 L1817.7,1265.9 L1818.7,1265.5 L1819.7,1265.2 L1820.7,1264.8 L1821.7,1264.3 L1822.7,1263.9 L1823.7,1263.4 L1824.7,1263.0 L1825.7,1262.5 L1826.7,1261.9 L1827.7,1261.4 L1828.7,1260.9 L1829.7,1260.3 L1830.7,1259.7 L1831.7,1259.1 L1832.7,1258.5 L1833.7,1257.9 L1834.7,1257.2 L1835.7,1256.5 L1836.7,1255.8 L1837.7,1255.1 L1838.7,1254.4 L1839.7,1253.6 L1840.7,1252.8 L1841.7,1252.1 L1842.7,1251.3 L1843.7,1250.4 L1844.7,1249.6 L1845.7,1248.8 L1846.7,1247.9 L1847.7,1247.1 L1848.7,1246.2 L1849.7,1245.4 L1850.7,1244.5 L1851.7,1243.6 L1852.7,1242.7 L1853.7,1241.9 L1854.7,1241.0 L1855.7,1240.2 L1856.7,1239.3 L1857.7,1238.5 L1858.7,1237.7 L1859.7,1236.9 L1860.7,1236.1 L1861.7,1235.4 L1862.7,1234.7 L1863.7,1234.0 L1864.7,1233.3 L1865.7,1232.7 L1866.7,1232.2 L1867.7,1231.6 L1868.7,1231.1 L1869.7,1230.7 L1870.7,1230.3 L1871.7,1230.0 L1872.7,1229.7 L1873.7,1229.5 L1874.7,1229.4 L1875.7,1229.3 L1876.7,1229.2 L1877.7,1229.3 L1878.7,1229.4 L1879.7,1229.6 L1880.7,1229.8 L1881.7,1230.1 L1882.7,1230.5 L1883.7,1231.0 L1884.7,1231.6 L1885.7,1232.2 L1886.7,1232.9 L1887.7,1233.7 L1888.7,1234.5 L1889.7,1235.4 L1890.7,1236.4 L1891.7,1237.5 L1892.7,1238.7 L1893.7,1239.9 L1894.7,1241.2 L1895.7,1242.5 L1896.7,1243.9 L1897.7,1245.4 L1898.7,1247.0 L1899.7,1248.6 L1900.7,1250.2 L1901.7,1251.9 L1902.7,1253.6 L1903.7,1255.4 L1904.7,1257.2 L1905.7,1259.1 L1906.7,1261.0 L1907.7,1262.9 L1908.7,1264.8 L1909.7,1266.8 L1910.7,1268.7 L1911.7,1270.7 L1912.7,1272.7 L1913.7,1274.6 L1914.7,1276.5 L1915.7,1278.4 L1916.7,1280.2 L1917.7,1282.1 L1918.7,1283.9 L1919.7,1285.7 L1920.7,1287.4 L1921.7,1289.1 L1922.7,1290.8 L1923.7,1292.4 L1924.7,1294.0 L1925.7,1295.5 L1926.7,1296.9 L1927.7,1298.3 L1928.7,1299.5 L1929.7,1300.8 L1930.7,1301.9 L1931.7,1303.0 L1932.7,1304.0 L1933.7,1304.9 L1934.7,1305.8 L1935.7,1306.5 L1936.7,1307.2 L1937.7,1307.8 L1938.7,1308.3 L1939.7,1308.8 L1940.7,1309.1 L1941.7,1309.4 L1942.7,1309.6 L1943.7,1309.8 L1944.7,1309.8 L1945.7,1309.8 L1946.7,1309.7 L1947.7,1309.6 L1948.7,1309.4 L1949.7,1309.1 L1950.7,1308.8 L1951.7,1308.4 L1952.7,1307.9 L1953.7,1307.5 L1954.7,1306.9 L1955.7,1306.4 L1956.7,1305.7 L1957.7,1305.1 L1958.7,1304.4 L1959.7,1303.7 L1960.7,1303.0 L1961.7,1302.3 L1962.7,1301.5 L1963.7,1300.7 L1964.7,1299.9 L1965.7,1299.1 L1966.7,1298.3 L1967.7,1297.5 L1968.7,1296.7 L1969.7,1295.9 L1970.7,1295.1 L1971.7,1294.4 L1972.7,1293.6 L1973.7,1292.8 L1974.7,1292.0 L1975.7,1291.3 L1976.7,1290.6 L1977.7,1289.8 L1978.7,1289.1 L1979.7,1288.4 L1980.7,1287.8 L1981.7,1287.1 L1982.7,1286.5 L1983.7,1285.9 L1984.7,1285.3 L1985.7,1284.7 L1986.7,1284.2 L1987.7,1283.6 L1988.7,1283.1 L1989.7,1282.6 L1990.7,1282.2 L1991.7,1281.7 L1992.7,1281.3 L1993.7,1280.9 L1994.7,1280.6 L1995.7,1280.2 L1996.7,1279.9 L1997.7,1279.6 L1998.7,1279.3 L1999.7,1279.0 L2000.7,1278.8 L2001.7,1278.5 L2002.7,1278.3 L2003.7,1278.1 L2004.7,1277.9 L2005.7,1277.7 L2006.7,1277.5 L2007.7,1277.3 L2008.7,1277.1 L2009.7,1277.0 L2010.7,1276.8 L2011.7,1276.7 L2012.7,1276.5 L2013.7,1276.4 L2014.7,1276.3 L2015.7,1276.2 L2016.7,1276.1 L2017.7,1276.0 L2018.7,1275.9 L2019.7,1275.8 L2020.7,1275.8 L2021.7,1275.7 L2022.7,1275.6 L2023.7,1275.6 L2024.7,1275.5 L2025.7,1275.5 L2026.7,1275.5 L2027.7,1275.4 L2028.7,1275.4 L2029.7,1275.4 L2030.7,1275.3 L2031.7,1275.3 L2032.7,1275.3 L2033.7,1275.2 L2034.7,1275.2 L2035.7,1275.2 L2036.7,1275.2 L2037.7,1275.2 L2038.7,1275.1 L2039.7,1275.1 L2040.7,1275.1 L2041.7,1275.1 L2042.7,1275.1 L2043.7,1275.1 L2044.7,1275.1 L2045.7,1275.1 L2046.7,1275.1 L2047.7,1275.0 L2048.7,1275.0 L2049.7,1275.0 L2050.7,1275.0 L2051.7,1275.0 L2052.7,1275.0 L2053.7,1275.0 L2054.7,1275.0 L2055.7,1275.0 L2056.7,1275.0 L2057.7,1275.0 L2058.7,1275.0 L2059.7,1274.9 L2060.7,1274.9 L2061.7,1274.9 L2062.7,1274.9 L2063.7,1274.8 L2064.7,1274.8 L2065.7,1274.8 L2066.7,1274.8 L2067.7,1274.7 L2068.7,1274.7 L2069.7,1274.7 L2070.7,1274.6 L2071.7,1274.6 L2072.7,1274.5 L2073.7,1274.5 L2074.7,1274.5 L2075.7,1274.4 L2076.7,1274.4 L2077.7,1274.3 L2078.7,1274.3 L2079.7,1274.3 L2080.7,1274.2 L2081.7,1274.2 L2082.7,1274.2 L2083.7,1274.1 L2084.7,1274.1 L2085.7,1274.0 L2086.7,1274.0 L2087.7,1273.9 L2088.7,1273.9 L2089.7,1273.8 L2090.7,1273.8 L2091.7,1273.7 L2092.7,1273.7 L2093.7,1273.6 L2094.7,1273.6 L2095.7,1273.5 L2096.7,1273.5 L2097.7,1273.4 L2098.7,1273.4 L2099.7,1273.3 L2100.7,1273.3 L2101.7,1273.3 L2102.7,1273.2 L2103.7,1273.2 L2104.7,1273.2 L2105.7,1273.1 L2106.7,1273.1 L2107.7,1273.1 L2108.7,1273.1 L2109.7,1273.0 L2110.7,1273.0 L2111.7,1273.0 L2112.7,1273.0 L2113.7,1272.9 L2114.7,1272.9 L2115.7,1272.9 L2116.7,1272.9 L2117.7,1272.8 L2118.7,1272.8 L2119.7,1272.8 L2120.7,1272.8 L2121.7,1272.8 L2122.7,1272.7 L2123.7,1272.7 L2124.7,1272.7 L2125.7,1272.7 L2126.7,1272.7 L2127.7,1272.7 L2128.7,1272.6 L2129.7,1272.6 L2130.7,1272.6 L2131.7,1272.6 L2132.7,1272.6 L2133.7,1272.6 L2134.7,1272.6 L2135.7,1272.6 L2136.7,1272.5 L2137.7,1272.5 L2138.7,1272.5 L2139.7,1272.5 L2140.7,1272.5 L2141.7,1272.5 L2142.7,1272.5 L2143.7,1272.5 L2144.7,1272.5 L2145.7,1272.5 L2146.7,1272.5 L2147.7,1272.5 L2148.7,1272.5 L2149.7,1272.4 L2150.7,1272.4 L2151.7,1272.4 L2152.7,1272.4 L2153.7,1272.4 L2154.7,1272.4 L2155.7,1272.4 L2156.7,1272.4 L2157.7,1272.4 L2158.7,1272.4 L2159.7,1272.4 L2160.7,1272.4 L2161.7,1272.4 L2162.7,1272.4 L2163.7,1272.4 L2164.7,1272.4 L2165.7,1272.4 L2166.7,1272.4 L2167.7,1272.4 L2168.7,1272.4 L2169.7,1272.3 L2170.7,1272.3 L2171.7,1272.3 L2172.7,1272.3 L2173.7,1272.3 L2174.7,1272.3 L2175.7,1272.3 L2176.7,1272.3 L2177.7,1272.3 L2178.7,1272.3 L2179.7,1272.3 L2180.7,1272.3 L2181.7,1272.3 L2182.7,1272.3 L2183.7,1272.3 L2184.7,1272.3 L2185.7,1272.3 L2186.7,1272.3 L2187.7,1272.3 L2188.7,1272.3 L2189.7,1272.3 L2190.7,1272.3 L2191.7,1272.3 L2192.7,1272.3 L2193.7,1272.3 L2194.7,1272.3 L2195.7,1272.3 L2196.7,1272.3 L2197.7,1272.3 L2198.7,1272.3 L2199.7,1272.3 L2200.7,1272.3 L2201.7,1272.3 L2202.7,1272.3 L2203.7,1272.3 L2204.7,1272.3 L2205.7,1272.3 L2206.7,1272.3 L2207.7,1272.3 L2208.7,1272.3 L2209.7,1272.2 L2210.7,1272.2 L2211.7,1272.2 L2212.7,1272.2 L2213.7,1272.2 L2214.7,1272.2 L2215.7,1272.2 L2216.7,1272.2 L2217.7,1272.2 L2218.7,1272.2 L2219.7,1272.2 L2220.7,1272.2 L2221.7,1272.2 L2222.7,1272.2 L2223.7,1272.2 L2224.7,1272.2 L2225.7,1272.2 L2226.7,1272.2 L2227.7,1272.2 L2228.7,1272.2 L2229.7,1272.2 L2230.7,1272.2 L2231.7,1272.2 L2232.7,1272.2 L2233.7,1272.2 L2234.7,1272.2 L2235.7,1272.2 L2236.7,1272.2 L2237.7,1272.2 L2238.7,1272.2 L2239.7,1272.2 L2240.7,1272.2 L2241.7,1272.2 L2242.7,1272.2 L2243.7,1272.2 L2244.7,1272.2 L2245.7,1272.2 L2246.7,1272.2 L2247.7,1272.2 L2248.7,1272.2 L2249.7,1272.2 L2250.7,1272.2 L2251.7,1272.2 L2252.7,1272.2 L2253.7,1272.2 L2254.7,1272.2 L2255.7,1272.2 L2256.7,1272.2 L2257.7,1272.2 L2258.7,1272.2 L2259.7,1272.2 L2260.7,1272.2 L2261.7,1272.2 L2262.7,1272.2 L2263.7,1272.2 L2264.7,1272.2 L2265.7,1272.2 L2266.7,1272.2 L2267.7,1272.2 L2268.7,1272.2 L2269.7,1272.2 L2270.7,1272.2 L2271.7,1272.2 L2272.7,1272.2 L2273.7,1272.2 L2274.7,1272.2 L2275.7,1272.2 L2276.7,1272.2 L2277.7,1272.2 L2278.7,1272.2 L2279.7,1272.2 L2280.7,1272.2 L2281.7,1272.2 L2282.7,1272.2 L2283.7,1272.2 L2284.7,1272.2 L2285.7,1272.2 L2286.7,1272.2 L2287.7,1272.2 L2288.7,1272.2 L2289.7,1272.2 L2290.7,1272.2 L2291.7,1272.2 L2292.7,1272.2 L2293.7,1272.2 L2294.7,1272.2 L2295.7,1272.2 L2296.7,1272.2 L2297.7,1272.2 L2298.7,1272.2 L2299.7,1272.1 L2300.7,1272.1 L2301.7,1272.1 L2302.7,1272.1 L2303.7,1272.1 L2304.7,1272.1 L2305.7,1272.1 L2306.7,1272.1 L2307.7,1272.1 L2308.7,1272.1 L2309.7,1272.1 L2310.7,1272.1 L2311.7,1272.1 L2312.7,1272.1 L2313.7,1272.1 L2314.7,1272.1 L2315.7,1272.1 L2316.7,1272.1 L2317.7,1272.1 L2318.7,1272.1 L2319.7,1272.1 L2320.7,1272.1 L2321.7,1272.1 L2322.7,1272.1 L2323.7,1272.1" stroke="#000000"/>
<path d="M170.7,1276.8 L171.7,1276.8 L172.7,1276.8 L173.7,1276.8 L174.7,1276.8 L175.7,1276.8 L176.7,1276.8 L177.7,1276.8 L178.7,1276.8 L179.7,1276.8 L180.7,1276.8 L181.7,1276.7 L182.7,1276.7 L183.7,1276.7 L184.7,1276.7 L185.7,1276.7 L186.7,1276.7 L187.7,1276.7 L188.7,1276.7 L189.7,1276.7 L190.7,1276.6 L191.7,1276.6 L192.7,1276.6 L193.7,1276.6 L194.7,1276.6 L195.7,1276.6 L196.7,1276.6 L197.7,1276.5 L198.7,1276.5 L199.7,1276.5 L200.7,1276.5 L201.7,1276.5 L202.7,1276.5 L203.7,1276.4 L204.7,1276.4 L205.7,1276.4 L206.7,1276.4 L207.7,1276.4 L208.7,1276.3 L209.7,1276.3 L210.7,1276.3 L211.7,1276.2 L212.7,1276.2 L213.7,1276.2 L214.7,1276.2 L215.7,1276.1 L216.7,1276.1 L217.7,1276.1 L218.7,1276.0 L219.7,1276.0 L220.7,1276.0 L221.7,1275.9 L222.7,1275.9 L223.7,1275.9 L224.7,1275.8 L225.7,1275.8 L226.7,1275.8 L227.7,1275.8 L228.7,1275.7 L229.7,1275.7 L230.7,1275.6 L231.7,1275.6 L232.7,1275.6 L233.7,1275.5 L234.7,1275.5 L235.7,1275.5 L236.7,1275.4 L237.7,1275.4 L238.7,1275.4 L239.7,1275.3 L240.7,1275.3 L241.7,1275.3 L242.7,1275.2 L243.7,1275.2 L244.7,1275.2 L245.7,1275.1 L246.7,1275.1 L247.7,1275.1 L248.7,1275.0 L249.7,1275.0 L250.7,1274.9 L251.7,1274.9 L252.7,1274.8 L253.7,1274.8 L254.7,1274.8 L255.7,1274.7 L256.7,1274.7 L257.7,1274.6 L258.7,1274.6 L259.7,1274.6 L260.7,1274.5 L261.7,1274.5 L262.7,1274.5 L263.7,1274.4 L264.7,1274.4 L265.7,1274.4 L266.7,1274.4 L267.7,1274.4 L268.7,1274.4 L269.7,1274.4 L270.7,1274.4 L271.7,1274.4 L272.7,1274.4 L273.7,1274.4 L274.7,1274.4 L275.7,1274.4 L276.7,1274.4 L277.7,1274.4 L278.7,1274.3 L279.7,1274.3 L280.7,1274.3 L281.7,1274.3 L282.7,1274.3 L283.7,1274.3 L284.7,1274.3 L285.7,1274.3 L286.7,1274.2 L287.7,1274.2 L288.7,1274.2 L289.7,1274.2 L290.7,1274.2 L291.7,1274.2 L292.7,1274.1 L293.7,1274.1 L294.7,1274.1 L295.7,1274.1 L296.7,1274.1 L297.7,1274.1 L298.7,1274.1 L299.7,1274.1 L300.7,1274.0 L301.7,1274.0 L302.7,1273.9 L303.7,1273.9 L304.7,1273.8 L305.7,1273.7 L306.7,1273.6 L307.7,1273.5 L308.7,1273.4 L309.7,1273.2 L310.7,1273.1 L311.7,1272.9 L312.7,1272.6 L313.7,1272.3 L314.7,1272.1 L315.7,1271.8 L316.7,1271.5 L317.7,1271.1 L318.7,1270.8 L319.7,1270.4 L320.7,1270.0 L321.7,1269.6 L322.7,1269.1 L323.7,1268.6 L324.7,1268.1 L325.7,1267.6 L326.7,1267.1 L327.7,1266.5 L328.7,1265.9 L329.7,1265.2 L330.7,1264.6 L331.7,1263.9 L332.7,1263.1 L333.7,1262.4 L334.7,1261.6 L335.7,1260.7 L336.7,1259.9 L337.7,1259.0 L338.7,1258.1 L339.7,1257.1 L340.7,1256.2 L341.7,1255.2 L342.7,1254.2 L343.7,1253.1 L344.7,1252.0 L345.7,1250.9 L346.7,1249.7 L347.7,1248.6 L348.7,1247.3 L349.7,1246.1 L350.7,1244.8 L351.7,1243.5 L352.7,1242.2 L353.7,1240.8 L354.7,1239.5 L355.7,1238.1 L356.7,1236.7 L357.7,1235.3 L358.7,1233.9 L359.7,1232.4 L360.7,1231.0 L361.7,1229.6 L362.7,1228.1 L363.7,1226.7 L364.7,1225.3 L365.7,1223.9 L366.7,1222.5 L367.7,1221.1 L368.7,1219.8 L369.7,1218.5 L370.7,1217.2 L371.7,1216.0 L372.7,1214.9 L373.7,1213.8 L374.7,1212.7 L375.7,1211.7 L376.7,1210.8 L377.7,1209.9 L378.7,1209.1 L379.7,1208.4 L380.7,1207.8 L381.7,1207.3 L382.7,1206.9 L383.7,1206.5 L384.7,1206.3 L385.7,1206.2 L386.7,1206.1 L387.7,1206.2 L388.7,1206.4 L389.7,1206.8 L390.7,1207.2 L391.7,1207.8 L392.7,1208.4 L393.7,1209.2 L394.7,1210.2 L395.7,1211.2 L396.7,1212.4 L397.7,1213.7 L398.7,1215.1 L399.7,1216.7 L400.7,1218.4 L401.7,1220.2 L402.7,1222.1 L403.7,1224.1 L404.7,1226.3 L405.7,1228.5 L406.7,1230.9 L407.7,1233.3 L408.7,1235.9 L409.7,1238.5 L410.7,1241.3 L411.7,1244.1 L412.7,1247.0 L413.7,1249.9 L414.7,1252.9 L415.7,1256.0 L416.7,1259.1 L417.7,1262.3 L418.7,1265.5 L419.7,1268.7 L420.7,1271.9 L421.7,1275.2 L422.7,1278.4 L423.7,1281.5 L424.7,1284.6 L425.7,1287.7 L426.7,1290.7 L427.7,1293.8 L428.7,1296.7 L429.7,1299.6 L430.7,1302.5 L431.7,1305.3 L432.7,1308.0 L433.7,1310.6 L434.7,1313.1 L435.7,1315.5 L436.7,1317.9 L437.7,1320.1 L438.7,1322.2 L439.7,1324.2 L440.7,1326.0 L441.7,1327.8 L442.7,1329.4 L443.7,1330.9 L444.7,1332.2 L445.7,1333.5 L446.7,1334.5 L447.7,1335.5 L448.7,1336.3 L449.7,1337.0 L450.7,1337.6 L451.7,1338.0 L452.7,1338.3 L453.7,1338.5 L454.7,1338.6 L455.7,1338.6 L456.7,1338.4 L457.7,1338.1 L458.7,1337.8 L459.7,1337.3 L460.7,1336.8 L461.7,1336.1 L462.7,1335.4 L463.7,1334.6 L464.7,1333.7 L465.7,1332.7 L466.7,1331.7 L467.7,1330.6 L468.7,1329.5 L469.7,1328.4 L470.7,1327.2 L471.7,1326.0 L472.7,1324.7 L473.7,1323.4 L474.7,1322.1 L475.7,1320.8 L476.7,1319.5 L477.7,1318.2 L478.7,1316.9 L479.7,1315.6 L480.7,1314.3 L481.7,1313.0 L482.7,1311.7 L483.7,1310.5 L484.7,1309.2 L485.7,1308.0 L486.7,1306.8 L487.7,1305.6 L488.7,1304.5 L489.7,1303.4 L490.7,1302.3 L491.7,1301.2 L492.7,1300.2 L493.7,1299.2 L494.7,1298.2 L495.7,1297.3 L496.7,1296.4 L497.7,1295.5 L498.7,1294.7 L499.7,1293.9 L500.7,1293.2 L501.7,1292.4 L502.7,1291.7 L503.7,1291.1 L504.7,1290.5 L505.7,1289.9 L506.7,1289.3 L507.7,1288.8 L508.7,1288.3 L509.7,1287.8 L510.7,1287.3 L511.7,1286.9 L512.7,1286.5 L513.7,1286.1 L514.7,1285.7 L515.7,1285.4 L516.7,1285.1 L517.7,1284.8 L518.7,1284.5 L519.7,1284.2 L520.7,1284.0 L521.7,1283.8 L522.7,1283.6 L523.7,1283.4 L524.7,1283.2 L525.7,1283.0 L526.7,1282.8 L527.7,1282.7 L528.7,1282.6 L529.7,1282.4 L530.7,1282.3 L531.7,1282.2 L532.7,1282.1 L533.7,1282.0 L534.7,1282.0 L535.7,1281.9 L536.7,1281.8 L537.7,1281.8 L538.7,1281.7 L539.7,1281.7 L540.7,1281.6 L541.7,1281.6 L542.7,1281.5 L543.7,1281.5 L544.7,1281.4 L545.7,1281.4 L546.7,1281.4 L547.7,1281.4 L548.7,1281.3 L549.7,1281.3 L550.7,1281.3 L551.7,1281.3 L552.7,1281.2 L553.7,1281.2 L554.7,1281.2 L555.7,1281.2 L556.7,1281.2 L557.7,1281.2 L558.7,1281.2 L559.7,1281.1 L560.7,1281.1 L561.7,1281.1 L562.7,1281.1 L563.7,1281.1 L564.7,1281.1 L565.7,1281.1 L566.7,1281.1 L567.7,1281.0 L568.7,1281.0 L569.7,1281.0 L570.7,1281.0 L571.7,1280.9 L572.7,1280.9 L573.7,1280.8 L574.7,1280.8 L575.7,1280.7 L576.7,1280.7 L577.7,1280.6 L578.7,1280.5 L579.7,1280.5 L580.7,1280.4 L581.7,1280.4 L582.7,1280.3 L583.7,1280.2 L584.7,1280.2 L585.7,1280.1 L586.7,1280.1 L587.7,1280.0 L588.7,1280.0 L589.7,1279.9 L590.7,1279.9 L591.7,1279.8 L592.7,1279.7 L593.7,1279.7 L594.7,1279.6 L595.7,1279.6 L596.7,1279.5 L597.7,1279.5 L598.7,1279.4 L599.7,1279.4 L600.7,1279.3 L601.7,1279.2 L602.7,1279.2 L603.7,1279.1 L604.7,1279.1 L605.7,1279.0 L606.7,1279.0 L607.7,1278.9 L608.7,1278.8 L609.7,1278.8 L610.7,1278.7 L611.7,1278.7 L612.7,1278.6 L613.7,1278.6 L614.7,1278.5 L615.7,1278.5 L616.7,1278.4 L617.7,1278.4 L618.7,1278.4 L619.7,1278.3 L620.7,1278.3 L621.7,1278.2 L622.7,1278.2 L623.7,1278.2 L624.7,1278.1 L625.7,1278.1 L626.7,1278.1 L627.7,1278.1 L628.7,1278.0 L629.7,1278.0 L630.7,1278.0 L631.7,1278.0 L632.7,1278.0 L633.7,1277.9 L634.7,1277.9 L635.7,1277.9 L636.7,1277.9 L637.7,1277.9 L638.7,1277.9 L639.7,1277.9 L640.7,1277.8 L641.7,1277.8 L642.7,1277.8 L643.7,1277.8 L644.7,1277.8 L645.7,1277.8 L646.7,1277.8 L647.7,1277.8 L648.7,1277.8 L649.7,1277.8 L650.7,1277.7 L651.7,1277.7 L652.7,1277.7 L653.7,1277.7 L654.7,1277.7 L655.7,1277.7 L656.7,1277.7 L657.7,1277.7 L658.7,1277.7 L659.7,1277.7 L660.7,1277.7 L661.7,1277.7 L662.7,1277.7 L663.7,1277.7 L664.7,1277.7 L665.7,1277.7 L666.7,1277.7 L667.7,1277.7 L668.7,1277.6 L669.7,1277.6 L670.7,1277.6 L671.7,1277.6 L672.7,1277.6 L673.7,1277.6 L674.7,1277.6 L675.7,1277.6 L676.7,1277.6 L677.7,1277.6 L678.7,1277.6 L679.7,1277.6 L680.7,1277.6 L681.7,1277.6 L682.7,1277.6 L683.7,1277.6 L684.7,1277.6 L685.7,1277.6 L686.7,1277.6 L687.7,1277.5 L688.7,1277.5 L689.7,1277.5 L690.7,1277.5 L691.7,1277.5 L692.7,1277.5 L693.7,1277.5 L694.7,1277.5 L695.7,1277.5 L696.7,1277.5 L697.7,1277.5 L698.7,1277.5 L699.7,1277.5 L700.7,1277.5 L701.7,1277.4 L702.7,1277.4 L703.7,1277.4 L704.7,1277.4 L705.7,1277.4 L706.7,1277.4 L707.7,1277.4 L708.7,1277.4 L709.7,1277.4 L710.7,1277.4 L711.7,1277.4 L712.7,1277.4 L713.7,1277.4 L714.7,1277.4 L715.7,1277.4 L716.7,1277.4 L717.7,1277.3 L718.7,1277.3 L719.7,1277.3 L720.7,1277.3 L721.7,1277.3 L722.7,1277.3 L723.7,1277.3 L724.7,1277.3 L725.7,1277.3 L726.7,1277.3 L727.7,1277.3 L728.7,1277.3 L729.7,1277.3 L730.7,1277.3 L731.7,1277.3 L732.7,1277.3 L733.7,1277.3 L734.7,1277.3 L735.7,1277.3 L736.7,1277.3 L737.7,1277.3 L738.7,1277.2 L739.7,1277.2 L740.7,1277.2 L741.7,1277.2 L742.7,1277.2 L743.7,1277.2 L744.7,1277.2 L745.7,1277.2 L746.7,1277.2 L747.7,1277.2 L748.7,1277.2 L749.7,1277.2 L750.7,1277.2 L751.7,1277.2 L752.7,1277.2 L753.7,1277.2 L754.7,1277.2 L755.7,1277.2 L756.7,1277.2 L757.7,1277.2 L758.7,1277.2 L759.7,1277.2 L760.7,1277.2 L761.7,1277.2 L762.7,1277.2 L763.7,1277.2 L764.7,1277.2 L765.7,1277.2 L766.7,1277.1 L767.7,1277.1 L768.7,1277.1 L769.7,1277.1 L770.7,1277.1 L771.7,1277.1 L772.7,1277.1 L773.7,1277.1 L774.7,1277.1 L775.7,1277.1 L776.7,1277.1 L777.7,1277.1 L778.7,1277.1 L779.7,1277.1 L780.7,1277.1 L781.7,1277.1 L782.7,1277.1 L783.7,1277.1 L784.7,1277.1 L785.7,1277.1 L786.7,1277.1 L787.7,1277.1 L788.7,1277.1 L789.7,1277.1 L790.7,1277.1 L791.7,1277.1 L792.7,1277.1 L793.7,1277.1 L794.7,1277.1 L795.7,1277.1 L796.7,1277.1 L797.7,1277.1 L798.7,1277.1 L799.7,1277.1 L800.7,1277.1 L801.7,1277.1 L802.7,1277.1 L803.7,1277.0 L804.7,1277.0 L805.7,1277.0 L806.7,1277.0 L807.7,1277.0 L808.7,1277.0 L809.7,1277.0 L810.7,1277.0 L811.7,1277.0 L812.7,1277.0 L813.7,1277.0 L814.7,1277.0 L815.7,1277.0 L816.7,1277.0 L817.7,1277.0 L818.7,1277.0 L819.7,1277.0 L820.7,1277.0 L821.7,1277.0 L822.7,1277.0 L823.7,1277.0 L824.7,1277.0 L825.7,1277.0 L826.7,1277.0 L827.7,1277.0 L828.7,1277.0 L829.7,1277.0 L830.7,1277.0 L831.7,1277.0 L832.7,1277.0 L833.7,1277.0 L834.7,1277.0 L835.7,1277.0 L836.7,1277.0 L837.7,1277.0 L838.7,1277.0 L839.7,1277.0 L840.7,1277.0 L841.7,1277.0 L842.7,1277.0 L843.7,1277.0 L844.7,1277.0 L845.7,1277.0 L846.7,1277.0 L847.7,1277.0 L848.7,1277.0 L849.7,1277.0 L850.7,1277.0 L851.7,1277.0 L852.7,1277.0 L853.7,1277.0 L854.7,1277.0 L855.7,1277.0 L856.7,1277.0 L857.7,1277.0 L858.7,1277.0 L859.7,1276.9 L860.7,1276.9 L861.7,1276.9 L862.7,1276.9 L863.7,1276.9 L864.7,1276.9 L865.7,1276.9 L866.7,1276.9 L867.7,1276.9 L868.7,1276.9 L869.7,1276.9 L870.7,1276.9 L871.7,1276.9 L872.7,1276.9 L873.7,1276.9 L874.7,1276.9 L875.7,1276.9 L876.7,1276.9 L877.7,1276.9 L878.7,1276.9 L879.7,1276.9 L880.7,1276.9 L881.7,1276.9 L882.7,1276.9 L883.7,1276.9 L884.7,1276.9 L885.7,1276.9 L886.7,1276.9 L887.7,1276.9 L888.7,1276.9 L889.7,1276.9 L890.7,1276.9 L891.7,1276.9 L892.7,1276.9 L893.7,1276.9 L894.7,1276.9 L895.7,1276.9 L896.7,1276.9 L897.7,1276.9 L898.7,1276.9 L899.7,1276.9 L900.7,1276.9 L901.7,1276.9 L902.7,1276.9 L903.7,1276.9 L904.7,1276.9 L905.7,1276.9 L906.7,1276.9 L907.7,1276.9 L908.7,1276.9 L909.7,1276.9 L910.7,1276.9 L911.7,1276.9 L912.7,1276.9 L913.7,1276.9 L914.7,1276.9 L915.7,1276.9 L916.7,1276.9 L917.7,1276.9 L918.7,1276.9 L919.7,1276.9 L920.7,1276.9 L921.7,1276.9 L922.7,1276.8 L923.7,1276.8 L924.7,1276.8 L925.7,1276.8 L926.7,1276.8 L927.7,1276.8 L928.7,1276.8 L929.7,1276.8 L930.7,1276.8 L931.7,1276.7 L932.7,1276.7 L933.7,1276.7 L934.7,1276.7 L935.7,1276.7 L936.7,1276.7 L937.7,1276.7 L938.7,1276.6 L939.7,1276.6 L940.7,1276.6 L941.7,1276.6 L942.7,1276.6 L943.7,1276.6 L944.7,1276.5 L945.7,1276.5 L946.7,1276.5 L947.7,1276.5 L948.7,1276.5 L949.7,1276.4 L950.7,1276.4 L951.7,1276.4 L952.7,1276.4 L953.7,1276.3 L954.7,1276.3 L955.7,1276.3 L956.7,1276.2 L957.7,1276.2 L958.7,1276.2 L959.7,1276.2 L960.7,1276.1 L961.7,1276.1 L962.7,1276.1 L963.7,1276.0 L964.7,1276.0 L965.7,1276.0 L966.7,1275.9 L967.7,1275.9 L968.7,1275.9 L969.7,1275.8 L970.7,1275.8 L971.7,1275.8 L972.7,1275.7 L973.7,1275.7 L974.7,1275.7 L975.7,1275.6 L976.7,1275.6 L977.7,1275.6 L978.7,1275.5 L979.7,1275.5 L980.7,1275.4 L981.7,1275.4 L982.7,1275.3 L983.7,1275.3 L984.7,1275.3 L985.7,1275.2 L986.7,1275.2 L987.7,1275.2 L988.7,1275.1 L989.7,1275.1 L990.7,1275.1 L991.7,1275.0 L992.7,1275.0 L993.7,1274.9 L994.7,1274.9 L995.7,1274.9 L996.7,1274.8 L997.7,1274.8 L998.7,1274.7 L999.7,1274.7 L1000.7,1274.6 L1001.7,1274.6 L1002.7,1274.6 L1003.7,1274.5 L1004.7,1274.5 L1005.7,1274.5 L1006.7,1274.5 L1007.7,1274.4 L1008.7,1274.4 L1009.7,1274.4 L1010.7,1274.4 L1011.7,1274.4 L1012.7,1274.4 L1013.7,1274.4 L1014.7,1274.4 L1015.7,1274.4 L1016.7,1274.4 L1017.7,1274.4 L1018.7,1274.4 L1019.7,1274.4 L1020.7,1274.4 L1021.7,1274.4 L1022.7,1274.4 L1023.7,1274.3 L1024.7,1274.3 L1025.7,1274.3 L1026.7,1274.3 L1027.7,1274.3 L1028.7,1274.3 L1029.7,1274.3 L1030.7,1274.2 L1031.7,1274.2 L1032.7,1274.2 L1033.7,1274.2 L1034.7,1274.2 L1035.7,1274.2 L1036.7,1274.2 L1037.7,1274.1 L1038.7,1274.1 L1039.7,1274.1 L1040.7,1274.1 L1041.7,1274.1 L1042.7,1274.1 L1043.7,1274.1 L1044.7,1274.0 L1045.7,1274.0 L1046.7,1273.9 L1047.7,1273.8 L1048.7,1273.7 L1049.7,1273.6 L1050.7,1273.5 L1051.7,1273.4 L1052.7,1273.3 L1053.7,1273.1 L1054.7,1272.9 L1055.7,1272.6 L1056.7,1272.4 L1057.7,1272.1 L1058.7,1271.8 L1059.7,1271.5 L1060.7,1271.2 L1061.7,1270.8 L1062.7,1270.5 L1063.7,1270.1 L1064.7,1269.6 L1065.7,1269.2 L1066.7,1268.7 L1067.7,1268.2 L1068.7,1267.7 L1069.7,1267.2 L1070.7,1266.6 L1071.7,1266.0 L1072.7,1265.3 L1073.7,1264.7 L1074.7,1264.0 L1075.7,1263.3 L1076.7,1262.5 L1077.7,1261.7 L1078.7,1260.9 L1079.7,1260.0 L1080.7,1259.2 L1081.7,1258.3 L1082.7,1257.3 L1083.7,1256.4 L1084.7,1255.4 L1085.7,1254.4 L1086.7,1253.3 L1087.7,1252.2 L1088.7,1251.1 L1089.7,1250.0 L1090.7,1248.8 L1091.7,1247.6 L1092.7,1246.3 L1093.7,1245.1 L1094.7,1243.8 L1095.7,1242.4 L1096.7,1241.1 L1097.7,1239.7 L1098.7,1238.4 L1099.7,1237.0 L1100.7,1235.6 L1101.7,1234.2 L1102.7,1232.7 L1103.7,1231.3 L1104.7,1229.9 L1105.7,1228.5 L1106.7,1227.0 L1107.7,1225.6 L1108.7,1224.2 L1109.7,1222.8 L1110.7,1221.5 L1111.7,1220.2 L1112.7,1218.9 L1113.7,1217.6 L1114.7,1216.4 L1115.7,1215.2 L1116.7,1214.1 L1117.7,1213.1 L1118.7,1212.1 L1119.7,1211.1 L1120.7,1210.3 L1121.7,1209.5 L1122.7,1208.8 L1123.7,1208.2 L1124.7,1207.6 L1125.7,1207.2 L1126.7,1206.8 L1127.7,1206.6 L1128.7,1206.5 L1129.7,1206.4 L1130.7,1206.5 L1131.7,1206.7 L1132.7,1207.0 L1133.7,1207.4 L1134.7,1208.0 L1135.7,1208.6 L1136.7,1209.4 L1137.7,1210.3 L1138.7,1211.4 L1139.7,1212.5 L1140.7,1213.8 L1141.7,1215.2 L1142.7,1216.8 L1143.7,1218.4 L1144.7,1220.2 L1145.7,1222.1 L1146.7,1224.1 L1147.7,1226.2 L1148.7,1228.5 L1149.7,1230.8 L1150.7,1233.3 L1151.7,1235.8 L1152.7,1238.4 L1153.7,1241.1 L1154.7,1243.9 L1155.7,1246.8 L1156.7,1249.7 L1157.7,1252.7 L1158.7,1255.8 L1159.7,1258.9 L1160.7,1262.0 L1161.7,1265.2 L1162.7,1268.4 L1163.7,1271.6 L1164.7,1274.9 L1165.7,1278.1 L1166.7,1281.2 L1167.7,1284.3 L1168.7,1287.4 L1169.7,1290.4 L1170.7,1293.5 L1171.7,1296.4 L1172.7,1299.3 L1173.7,1302.2 L1174.7,1305.0 L1175.7,1307.7 L1176.7,1310.3 L1177.7,1312.9 L1178.7,1315.3 L1179.7,1317.6 L1180.7,1319.9 L1181.7,1322.0 L1182.7,1324.0 L1183.7,1325.8 L1184.7,1327.6 L1185.7,1329.2 L1186.7,1330.7 L1187.7,1332.1 L1188.7,1333.3 L1189.7,1334.4 L1190.7,1335.4 L1191.7,1336.3 L1192.7,1337.0 L1193.7,1337.5 L1194.7,1338.0 L1195.7,1338.3 L1196.7,1338.5 L1197.7,1338.6 L1198.7,1338.6 L1199.7,1338.4 L1200.7,1338.2 L1201.7,1337.8 L1202.7,1337.4 L1203.7,1336.8 L1204.7,1336.2 L1205.7,1335.4 L1206.7,1334.6 L1207.7,1333.8 L1208.7,1332.8 L1209.7,1331.8 L1210.7,1330.7 L1211.7,1329.6 L1212.7,1328.5 L1213.7,1327.3 L1214.7,1326.1 L1215.7,1324.8 L1216.7,1323.6 L1217.7,1322.3 L1218.7,1321.0 L1219.7,1319.7 L1220.7,1318.3 L1221.7,1317.0 L1222.7,1315.7 L1223.7,1314.4 L1224.7,1313.1 L1225.7,1311.9 L1226.7,1310.6 L1227.7,1309.3 L1228.7,1308.1 L1229.7,1306.9 L1230.7,1305.7 L1231.7,1304.6 L1232.7,1303.5 L1233.7,1302.4 L1234.7,1301.3 L1235.7,1300.3 L1236.7,1299.3 L1237.7,1298.3 L1238.7,1297.4 L1239.7,1296.5 L1240.7,1295.6 L1241.7,1294.8 L1242.7,1294.0 L1243.7,1293.2 L1244.7,1292.5 L1245.7,1291.8 L1246.7,1291.2 L1247.7,1290.5 L1248.7,1289.9 L1249.7,1289.4 L1250.7,1288.8 L1251.7,1288.3 L1252.7,1287.8 L1253.7,1287.4 L1254.7,1286.9 L1255.7,1286.5 L1256.7,1286.1 L1257.7,1285.8 L1258.7,1285.4 L1259.7,1285.1 L1260.7,1284.8 L1261.7,1284.5 L1262.7,1284.3 L1263.7,1284.0 L1264.7,1283.8 L1265.7,1283.6 L1266.7,1283.4 L1267.7,1283.2 L1268.7,1283.0 L1269.7,1282.9 L1270.7,1282.7 L1271.7,1282.6 L1272.7,1282.4 L1273.7,1282.3 L1274.7,1282.2 L1275.7,1282.1 L1276.7,1282.0 L1277.7,1282.0 L1278.7,1281.9 L1279.7,1281.8 L1280.7,1281.8 L1281.7,1281.7 L1282.7,1281.7 L1283.7,1281.6 L1284.7,1281.6 L1285.7,1281.5 L1286.7,1281.5 L1287.7,1281.5 L1288.7,1281.4 L1289.7,1281.4 L1290.7,1281.4 L1291.7,1281.3 L1292.7,1281.3 L1293.7,1281.3 L1294.7,1281.3 L1295.7,1281.2 L1296.7,1281.2 L1297.7,1281.2 L1298.7,1281.2 L1299.7,1281.2 L1300.7,1281.2 L1301.7,1281.2 L1302.7,1281.1 L1303.7,1281.1 L1304.7,1281.1 L1305.7,1281.1 L1306.7,1281.1 L1307.7,1281.1 L1308.7,1281.1 L1309.7,1281.1 L1310.7,1281.0 L1311.7,1281.0 L1312.7,1281.0 L1313.7,1281.0 L1314.7,1280.9 L1315.7,1280.9 L1316.7,1280.8 L1317.7,1280.8 L1318.7,1280.7 L1319.7,1280.7 L1320.7,1280.6 L1321.7,1280.6 L1322.7,1280.5 L1323.7,1280.4 L1324.7,1280.4 L1325.7,1280.3 L1326.7,1280.2 L1327.7,1280.2 L1328.7,1280.1 L1329.7,1280.1 L1330.7,1280.0 L1331.7,1280.0 L1332.7,1279.9 L1333.7,1279.9 L1334.7,1279.8 L1335.7,1279.8 L1336.7,1279.7 L1337.7,1279.6 L1338.7,1279.6 L1339.7,1279.5 L1340.7,1279.5 L1341.7,1279.4 L1342.7,1279.4 L1343.7,1279.3 L1344.7,1279.3 L1345.7,1279.2 L1346.7,1279.1 L1347.7,1279.1 L1348.7,1279.0 L1349.7,1279.0 L1350.7,1278.9 L1351.7,1278.9 L1352.7,1278.8 L1353.7,1278.7 L1354.7,1278.7 L1355.7,1278.6 L1356.7,1278.6 L1357.7,1278.5 L1358.7,1278.5 L1359.7,1278.4 L1360.7,1278.4 L1361.7,1278.4 L1362.7,1278.3 L1363.7,1278.3 L1364.7,1278.2 L1365.7,1278.2 L1366.7,1278.2 L1367.7,1278.1 L1368.7,1278.1 L1369.7,1278.1 L1370.7,1278.1 L1371.7,1278.0 L1372.7,1278.0 L1373.7,1278.0 L1374.7,1278.0 L1375.7,1278.0 L1376.7,1277.9 L1377.7,1277.9 L1378.7,1277.9 L1379.7,1277.9 L1380.7,1277.9 L1381.7,1277.9 L1382.7,1277.9 L1383.7,1277.8 L1384.7,1277.8 L1385.7,1277.8 L1386.7,1277.8 L1387.7,1277.8 L1388.7,1277.8 L1389.7,1277.8 L1390.7,1277.8 L1391.7,1277.8 L1392.7,1277.8 L1393.7,1277.7 L1394.7,1277.7 L1395.7,1277.7 L1396.7,1277.7 L1397.7,1277.7 L1398.7,1277.7 L1399.7,1277.7 L1400.7,1277.7 L1401.7,1277.7 L1402.7,1277.7 L1403.7,1277.7 L1404.7,1277.7 L1405.7,1277.7 L1406.7,1277.7 L1407.7,1277.7 L1408.7,1277.7 L1409.7,1277.7 L1410.7,1277.7 L1411.7,1277.7 L1412.7,1277.6 L1413.7,1277.6 L1414.7,1277.6 L1415.7,1277.6 L1416.7,1277.6 L1417.7,1277.6 L1418.7,1277.6 L1419.7,1277.6 L1420.7,1277.6 L1421.7,1277.6 L1422.7,1277.6 L1423.7,1277.6 L1424.7,1277.6 L1425.7,1277.6 L1426.7,1277.6 L1427.7,1277.6 L1428.7,1277.6 L1429.7,1277.6 L1430.7,1277.5 L1431.7,1277.5 L1432.7,1277.5 L1433.7,1277.5 L1434.7,1277.5 L1435.7,1277.5 L1436.7,1277.5 L1437.7,1277.5 L1438.7,1277.5 L1439.7,1277.5 L1440.7,1277.5 L1441.7,1277.5 L1442.7,1277.5 L1443.7,1277.5 L1444.7,1277.4 L1445.7,1277.4 L1446.7,1277.4 L1447.7,1277.4 L1448.7,1277.4 L1449.7,1277.4 L1450.7,1277.4 L1451.7,1277.4 L1452.7,1277.4 L1453.7,1277.4 L1454.7,1277.4 L1455.7,1277.4 L1456.7,1277.4 L1457.7,1277.4 L1458.7,1277.4 L1459.7,1277.4 L1460.7,1277.3 L1461.7,1277.3 L1462.7,1277.3 L1463.7,1277.3 L1464.7,1277.3 L1465.7,1277.3 L1466.7,1277.3 L1467.7,1277.3 L1468.7,1277.3 L1469.7,1277.3 L1470.7,1277.3 L1471.7,1277.3 L1472.7,1277.3 L1473.7,1277.3 L1474.7,1277.3 L1475.7,1277.3 L1476.7,1277.3 L1477.7,1277.3 L1478.7,1277.3 L1479.7,1277.3 L1480.7,1277.3 L1481.7,1277.2 L1482.7,1277.2 L1483.7,1277.2 L1484.7,1277.2 L1485.7,1277.2 L1486.7,1277.2 L1487.7,1277.2 L1488.7,1277.2 L1489.7,1277.2 L1490.7,1277.2 L1491.7,1277.2 L1492.7,1277.2 L1493.7,1277.2 L1494.7,1277.2 L1495.7,1277.2 L1496.7,1277.2 L1497.7,1277.2 L1498.7,1277.2 L1499.7,1277.2 L1500.7,1277.2 L1501.7,1277.2 L1502.7,1277.2 L1503.7,1277.2 L1504.7,1277.2 L1505.7,1277.2 L1506.7,1277.2 L1507.7,1277.2 L1508.7,1277.2 L1509.7,1277.2 L1510.7,1277.1 L1511.7,1277.1 L1512.7,1277.1 L1513.7,1277.1 L1514.7,1277.1 L1515.7,1277.1 L1516.7,1277.1 L1517.7,1277.1 L1518.7,1277.1 L1519.7,1277.1 L1520.7,1277.1 L1521.7,1277.1 L1522.7,1277.1 L1523.7,1277.1 L1524.7,1277.1 L1525.7,1277.1 L1526.7,1277.1 L1527.7,1277.1 L1528.7,1277.1 L1529.7,1277.1 L1530.7,1277.1 L1531.7,1277.1 L1532.7,1277.1 L1533.7,1277.1 L1534.7,1277.1 L1535.7,1277.1 L1536.7,1277.1 L1537.7,1277.1 L1538.7,1277.1 L1539.7,1277.1 L1540.7,1277.1 L1541.7,1277.1 L1542.7,1277.1 L1543.7,1277.1 L1544.7,1277.1 L1545.7,1277.1 L1546.7,1277.0 L1547.7,1277.0 L1548.7,1277.0 L1549.7,1277.0 L1550.7,1277.0 L1551.7,1277.0 L1552.7,1277.0 L1553.7,1277.0 L1554.7,1277.0 L1555.7,1277.0 L1556.7,1277.0 L1557.7,1277.0 L1558.7,1277.0 L1559.7,1277.0 L1560.7,1277.0 L1561.7,1277.0 L1562.7,1277.0 L1563.7,1277.0 L1564.7,1277.0 L1565.7,1277.0 L1566.7,1277.0 L1567.7,1277.0 L1568.7,1277.0 L1569.7,1277.0 L1570.7,1277.0 L1571.7,1277.0 L1572.7,1277.0 L1573.7,1277.0 L1574.7,1277.0 L1575.7,1277.0 L1576.7,1277.0 L1577.7,1277.0 L1578.7,1277.0 L1579.7,1277.0 L1580.7,1277.0 L1581.7,1277.0 L1582.7,1277.0 L1583.7,1277.0 L1584.7,1277.0 L1585.7,1277.0 L1586.7,1277.0 L1587.7,1277.0 L1588.7,1277.0 L1589.7,1277.0 L1590.7,1277.0 L1591.7,1277.0 L1592.7,1277.0 L1593.7,1277.0 L1594.7,1277.0 L1595.7,1277.0 L1596.7,1277.0 L1597.7,1277.0 L1598.7,1277.0 L1599.7,1277.0 L1600.7,1277.0 L1601.7,1277.0 L1602.7,1276.9 L1603.7,1276.9 L1604.7,1276.9 L1605.7,1276.9 L1606.7,1276.9 L1607.7,1276.9 L1608.7,1276.9 L1609.7,1276.9 L1610.7,1276.9 L1611.7,1276.9 L1612.7,1276.9 L1613.7,1276.9 L1614.7,1276.9 L1615.7,1276.9 L1616.7,1276.9 L1617.7,1276.9 L1618.7,1276.9 L1619.7,1276.9 L1620.7,1276.9 L1621.7,1276.9 L1622.7,1276.9 L1623.7,1276.9 L1624.7,1276.9 L1625.7,1276.9 L1626.7,1276.9 L1627.7,1276.9 L1628.7,1276.9 L1629.7,1276.9 L1630.7,1276.9 L1631.7,1276.9 L1632.7,1276.9 L1633.7,1276.9 L1634.7,1276.9 L1635.7,1276.9 L1636.7,1276.9 L1637.7,1276.9 L1638.7,1276.9 L1639.7,1276.9 L1640.7,1276.9 L1641.7,1276.9 L1642.7,1276.9 L1643.7,1276.9 L1644.7,1276.9 L1645.7,1276.9 L1646.7,1276.9 L1647.7,1276.9 L1648.7,1276.9 L1649.7,1276.9 L1650.7,1276.9 L1651.7,1276.9 L1652.7,1276.9 L1653.7,1276.9 L1654.7,1276.9 L1655.7,1276.9 L1656.7,1276.9 L1657.7,1276.9 L1658.7,1276.9 L1659.7,1276.9 L1660.7,1276.9 L1661.7,1276.9 L1662.7,1276.9 L1663.7,1276.9 L1664.7,1276.9 L1665.7,1276.9 L1666.7,1276.9 L1667.7,1276.9 L1668.7,1276.9 L1669.7,1276.8 L1670.7,1276.8 L1671.7,1276.8 L1672.7,1276.8 L1673.7,1276.8 L1674.7,1276.8 L1675.7,1276.8 L1676.7,1276.8 L1677.7,1276.8 L1678.7,1276.7 L1679.7,1276.7 L1680.7,1276.7 L1681.7,1276.7 L1682.7,1276.7 L1683.7,1276.7 L1684.7,1276.7 L1685.7,1276.6 L1686.7,1276.6 L1687.7,1276.6 L1688.7,1276.6 L1689.7,1276.6 L1690.7,1276.6 L1691.7,1276.5 L1692.7,1276.5 L1693.7,1276.5 L1694.7,1276.5 L1695.7,1276.5 L1696.7,1276.4 L1697.7,1276.4 L1698.7,1276.4 L1699.7,1276.4 L1700.7,1276.3 L1701.7,1276.3 L1702.7,1276.3 L1703.7,1276.3 L1704.7,1276.2 L1705.7,1276.2 L1706.7,1276.2 L1707.7,1276.1 L1708.7,1276.1 L1709.7,1276.1 L1710.7,1276.0 L1711.7,1276.0 L1712.7,1276.0 L1713.7,1276.0 L1714.7,1275.9 L1715.7,1275.9 L1716.7,1275.9 L1717.7,1275.8 L1718.7,1275.8 L1719.7,1275.8 L1720.7,1275.7 L1721.7,1275.7 L1722.7,1275.7 L1723.7,1275.6 L1724.7,1275.6 L1725.7,1275.5 L1726.7,1275.5 L1727.7,1275.4 L1728.7,1275.4 L1729.7,1275.4 L1730.7,1275.3 L1731.7,1275.3 L1732.7,1275.3 L1733.7,1275.2 L1734.7,1275.2 L1735.7,1275.2 L1736.7,1275.1 L1737.7,1275.1 L1738.7,1275.1 L1739.7,1275.0 L1740.7,1275.0 L1741.7,1274.9 L1742.7,1274.9 L1743.7,1274.9 L1744.7,1274.8 L1745.7,1274.8 L1746.7,1274.7 L1747.7,1274.7 L1748.7,1274.7 L1749.7,1274.6 L1750.7,1274.6 L1751.7,1274.6 L1752.7,1274.5 L1753.7,1274.5 L1754.7,1274.5 L1755.7,1274.5 L1756.7,1274.5 L1757.7,1274.5 L1758.7,1274.5 L1759.7,1274.5 L1760.7,1274.5 L1761.7,1274.5 L1762.7,1274.4 L1763.7,1274.4 L1764.7,1274.4 L1765.7,1274.4 L1766.7,1274.4 L1767.7,1274.4 L1768.7,1274.4 L1769.7,1274.4 L1770.7,1274.4 L1771.7,1274.4 L1772.7,1274.4 L1773.7,1274.4 L1774.7,1274.4 L1775.7,1274.3 L1776.7,1274.3 L1777.7,1274.3 L1778.7,1274.3 L1779.7,1274.3 L1780.7,1274.2 L1781.7,1274.2 L1782.7,1274.2 L1783.7,1274.2 L1784.7,1274.2 L1785.7,1274.2 L1786.7,1274.2 L1787.7,1274.2 L1788.7,1274.2 L1789.7,1274.2 L1790.7,1274.1 L1791.7,1274.1 L1792.7,1274.0 L1793.7,1274.0 L1794.7,1273.9 L1795.7,1273.8 L1796.7,1273.7 L1797.7,1273.6 L1798.7,1273.5 L1799.7,1273.4 L1800.7,1273.2 L1801.7,1273.0 L1802.7,1272.8 L1803.7,1272.5 L1804.7,1272.3 L1805.7,1272.0 L1806.7,1271.7 L1807.7,1271.3 L1808.7,1271.0 L1809.7,1270.6 L1810.7,1270.3 L1811.7,1269.9 L1812.7,1269.4 L1813.7,1269.0 L1814.7,1268.5 L1815.7,1268.0 L1816.7,1267.4 L1817.7,1266.9 L1818.7,1266.3 L1819.7,1265.7 L1820.7,1265.0 L1821.7,1264.4 L1822.7,1263.7 L1823.7,1262.9 L1824.7,1262.1 L1825.7,1261.3 L1826.7,1260.5 L1827.7,1259.7 L1828.7,1258.8 L1829.7,1257.9 L1830.7,1257.0 L1831.7,1256.0 L1832.7,1255.0 L1833.7,1254.0 L1834.7,1252.9 L1835.7,1251.8 L1836.7,1250.7 L1837.7,1249.6 L1838.7,1248.4 L1839.7,1247.2 L1840.7,1246.0 L1841.7,1244.7 L1842.7,1243.4 L1843.7,1242.1 L1844.7,1240.8 L1845.7,1239.4 L1846.7,1238.1 L1847.7,1236.7 L1848.7,1235.3 L1849.7,1233.9 L1850.7,1232.6 L1851.7,1231.2 L1852.7,1229.8 L1853.7,1228.4 L1854.7,1227.0 L1855.7,1225.6 L1856.7,1224.3 L1857.7,1223.0 L1858.7,1221.7 L1859.7,1220.4 L1860.7,1219.2 L1861.7,1218.0 L1862.7,1216.8 L1863.7,1215.7 L1864.7,1214.7 L1865.7,1213.7 L1866.7,1212.8 L1867.7,1212.0 L1868.7,1211.2 L1869.7,1210.5 L1870.7,1209.9 L1871.7,1209.3 L1872.7,1208.9 L1873.7,1208.6 L1874.7,1208.3 L1875.7,1208.2 L1876.7,1208.1 L1877.7,1208.2 L1878.7,1208.4 L1879.7,1208.6 L1880.7,1209.0 L1881.7,1209.6 L1882.7,1210.2 L1883.7,1211.0 L1884.7,1211.8 L1885.7,1212.9 L1886.7,1214.0 L1887.7,1215.2 L1888.7,1216.6 L1889.7,1218.1 L1890.7,1219.7 L1891.7,1221.4 L1892.7,1223.2 L1893.7,1225.2 L1894.7,1227.3 L1895.7,1229.4 L1896.7,1231.7 L1897.7,1234.1 L1898.7,1236.5 L1899.7,1239.1 L1900.7,1241.7 L1901.7,1244.4 L1902.7,1247.2 L1903.7,1250.1 L1904.7,1253.0 L1905.7,1256.0 L1906.7,1259.0 L1907.7,1262.1 L1908.7,1265.2 L1909.7,1268.3 L1910.7,1271.4 L1911.7,1274.6 L1912.7,1277.7 L1913.7,1280.8 L1914.7,1283.8 L1915.7,1286.8 L1916.7,1289.8 L1917.7,1292.8 L1918.7,1295.7 L1919.7,1298.6 L1920.7,1301.4 L1921.7,1304.1 L1922.7,1306.8 L1923.7,1309.3 L1924.7,1311.8 L1925.7,1314.2 L1926.7,1316.5 L1927.7,1318.7 L1928.7,1320.8 L1929.7,1322.7 L1930.7,1324.6 L1931.7,1326.3 L1932.7,1327.9 L1933.7,1329.4 L1934.7,1330.8 L1935.7,1332.0 L1936.7,1333.1 L1937.7,1334.0 L1938.7,1334.9 L1939.7,1335.6 L1940.7,1336.2 L1941.7,1336.6 L1942.7,1336.9 L1943.7,1337.2 L1944.7,1337.2 L1945.7,1337.2 L1946.7,1337.1 L1947.7,1336.9 L1948.7,1336.5 L1949.7,1336.1 L1950.7,1335.6 L1951.7,1334.9 L1952.7,1334.2 L1953.7,1333.5 L1954.7,1332.6 L1955.7,1331.7 L1956.7,1330.7 L1957.7,1329.7 L1958.7,1328.6 L1959.7,1327.5 L1960.7,1326.3 L1961.7,1325.1 L1962.7,1323.9 L1963.7,1322.7 L1964.7,1321.4 L1965.7,1320.1 L1966.7,1318.8 L1967.7,1317.6 L1968.7,1316.3 L1969.7,1315.0 L1970.7,1313.7 L1971.7,1312.5 L1972.7,1311.2 L1973.7,1310.0 L1974.7,1308.8 L1975.7,1307.6 L1976.7,1306.4 L1977.7,1305.2 L1978.7,1304.1 L1979.7,1303.0 L1980.7,1301.9 L1981.7,1300.9 L1982.7,1299.9 L1983.7,1298.9 L1984.7,1297.9 L1985.7,1297.0 L1986.7,1296.1 L1987.7,1295.3 L1988.7,1294.5 L1989.7,1293.7 L1990.7,1293.0 L1991.7,1292.3 L1992.7,1291.6 L1993.7,1291.0 L1994.7,1290.4 L1995.7,1289.8 L1996.7,1289.3 L1997.7,1288.8 L1998.7,1288.3 L1999.7,1287.9 L2000.7,1287.5 L2001.7,1287.1 L2002.7,1286.7 L2003.7,1286.4 L2004.7,1286.0 L2005.7,1285.7 L2006.7,1285.4 L2007.7,1285.1 L2008.7,1284.8 L2009.7,1284.6 L2010.7,1284.3 L2011.7,1284.1 L2012.7,1283.9 L2013.7,1283.7 L2014.7,1283.5 L2015.7,1283.3 L2016.7,1283.2 L2017.7,1283.0 L2018.7,1282.9 L2019.7,1282.8 L2020.7,1282.7 L2021.7,1282.6 L2022.7,1282.5 L2023.7,1282.4 L2024.7,1282.3 L2025.7,1282.2 L2026.7,1282.2 L2027.7,1282.1 L2028.7,1282.1 L2029.7,1282.0 L2030.7,1282.0 L2031.7,1281.9 L2032.7,1281.9 L2033.7,1281.8 L2034.7,1281.8 L2035.7,1281.8 L2036.7,1281.7 L2037.7,1281.7 L2038.7,1281.7 L2039.7,1281.7 L2040.7,1281.6 L2041.7,1281.6 L2042.7,1281.6 L2043.7,1281.6 L2044.7,1281.6 L2045.7,1281.5 L2046.7,1281.5 L2047.7,1281.5 L2048.7,1281.5 L2049.7,1281.5 L2050.7,1281.5 L2051.7,1281.5 L2052.7,1281.5 L2053.7,1281.4 L2054.7,1281.4 L2055.7,1281.4 L2056.7,1281.4 L2057.7,1281.4 L2058.7,1281.4 L2059.7,1281.4 L2060.7,1281.3 L2061.7,1281.3 L2062.7,1281.2 L2063.7,1281.2 L2064.7,1281.2 L2065.7,1281.1 L2066.7,1281.1 L2067.7,1281.0 L2068.7,1280.9 L2069.7,1280.9 L2070.7,1280.8 L2071.7,1280.8 L2072.7,1280.7 L2073.7,1280.6 L2074.7,1280.6 L2075.7,1280.5 L2076.7,1280.5 L2077.7,1280.4 L2078.7,1280.3 L2079.7,1280.3 L2080.7,1280.2 L2081.7,1280.2 L2082.7,1280.1 L2083.7,1280.0 L2084.7,1279.9 L2085.7,1279.9 L2086.7,1279.8 L2087.7,1279.7 L2088.7,1279.6 L2089.7,1279.6 L2090.7,1279.5 L2091.7,1279.4 L2092.7,1279.3 L2093.7,1279.3 L2094.7,1279.2 L2095.7,1279.1 L2096.7,1279.0 L2097.7,1278.9 L2098.7,1278.9 L2099.7,1278.8 L2100.7,1278.7 L2101.7,1278.7 L2102.7,1278.6 L2103.7,1278.6 L2104.7,1278.5 L2105.7,1278.5 L2106.7,1278.4 L2107.7,1278.4 L2108.7,1278.3 L2109.7,1278.3 L2110.7,1278.3 L2111.7,1278.2 L2112.7,1278.2 L2113.7,1278.1 L2114.7,1278.1 L2115.7,1278.1 L2116.7,1278.0 L2117.7,1278.0 L2118.7,1278.0 L2119.7,1277.9 L2120.7,1277.9 L2121.7,1277.8 L2122.7,1277.8 L2123.7,1277.8 L2124.7,1277.8 L2125.7,1277.7 L2126.7,1277.7 L2127.7,1277.7 L2128.7,1277.7 L2129.7,1277.6 L2130.7,1277.6 L2131.7,1277.6 L2132.7,1277.6 L2133.7,1277.6 L2134.7,1277.5 L2135.7,1277.5 L2136.7,1277.5 L2137.7,1277.5 L2138.7,1277.5 L2139.7,1277.5 L2140.7,1277.5 L2141.7,1277.4 L2142.7,1277.4 L2143.7,1277.4 L2144.7,1277.4 L2145.7,1277.4 L2146.7,1277.4 L2147.7,1277.4 L2148.7,1277.4 L2149.7,1277.4 L2150.7,1277.3 L2151.7,1277.3 L2152.7,1277.3 L2153.7,1277.3 L2154.7,1277.3 L2155.7,1277.3 L2156.7,1277.3 L2157.7,1277.3 L2158.7,1277.3 L2159.7,1277.3 L2160.7,1277.3 L2161.7,1277.3 L2162.7,1277.2 L2163.7,1277.2 L2164.7,1277.2 L2165.7,1277.2 L2166.7,1277.2 L2167.7,1277.2 L2168.7,1277.2 L2169.7,1277.2 L2170.7,1277.2 L2171.7,1277.2 L2172.7,1277.2 L2173.7,1277.2 L2174.7,1277.2 L2175.7,1277.2 L2176.7,1277.2 L2177.7,1277.2 L2178.7,1277.1 L2179.7,1277.1 L2180.7,1277.1 L2181.7,1277.1 L2182.7,1277.1 L2183.7,1277.1 L2184.7,1277.1 L2185.7,1277.1 L2186.7,1277.1 L2187.7,1277.1 L2188.7,1277.1 L2189.7,1277.1 L2190.7,1277.1 L2191.7,1277.1 L2192.7,1277.1 L2193.7,1277.1 L2194.7,1277.1 L2195.7,1277.1 L2196.7,1277.1 L2197.7,1277.1 L2198.7,1277.1 L2199.7,1277.1 L2200.7,1277.1 L2201.7,1277.1 L2202.7,1277.1 L2203.7,1277.1 L2204.7,1277.1 L2205.7,1277.1 L2206.7,1277.0 L2207.7,1277.0 L2208.7,1277.0 L2209.7,1277.0 L2210.7,1277.0 L2211.7,1277.0 L2212.7,1277.0 L2213.7,1277.0 L2214.7,1277.0 L2215.7,1277.0 L2216.7,1277.0 L2217.7,1277.0 L2218.7,1277.0 L2219.7,1277.0 L2220.7,1277.0 L2221.7,1277.0 L2222.7,1277.0 L2223.7,1277.0 L2224.7,1277.0 L2225.7,1277.0 L2226.7,1277.0 L2227.7,1277.0 L2228.7,1277.0 L2229.7,1277.0 L2230.7,1277.0 L2231.7,1277.0 L2232.7,1277.0 L2233.7,1277.0 L2234.7,1277.0 L2235.7,1277.0 L2236.7,1277.0 L2237.7,1277.0 L2238.7,1277.0 L2239.7,1277.0 L2240.7,1277.0 L2241.7,1277.0 L2242.7,1277.0 L2243.7,1277.0 L2244.7,1277.0 L2245.7,1277.0 L2246.7,1277.0 L2247.7,1277.0 L2248.7,1277.0 L2249.7,1277.0 L2250.7,1277.0 L2251.7,1277.0 L2252.7,1276.9 L2253.7,1276.9 L2254.7,1276.9 L2255.7,1276.9 L2256.7,1276.9 L2257.7,1276.9 L2258.7,1276.9 L2259.7,1276.9 L2260.7,1276.9 L2261.7,1276.9 L2262.7,1276.9 L2263.7,1276.9 L2264.7,1276.9 L2265.7,1276.9 L2266.7,1276.9 L2267.7,1276.9 L2268.7,1276.9 L2269.7,1276.9 L2270.7,1276.9 L2271.7,1276.9 L2272.7,1276.9 L2273.7,1276.9 L2274.7,1276.9 L2275.7,1276.9 L2276.7,1276.9 L2277.7,1276.9 L2278.7,1276.9 L2279.7,1276.9 L2280.7,1276.9 L2281.7,1276.9 L2282.7,1276.9 L2283.7,1276.9 L2284.7,1276.9 L2285.7,1276.9 L2286.7,1276.9 L2287.7,1276.9 L2288.7,1276.9 L2289.7,1276.9 L2290.7,1276.9 L2291.7,1276.9 L2292.7,1276.9 L2293.7,1276.9 L2294.7,1276.9 L2295.7,1276.9 L2296.7,1276.9 L2297.7,1276.9 L2298.7,1276.9 L2299.7,1276.9 L2300.7,1276.9 L2301.7,1276.9 L2302.7,1276.9 L2303.7,1276.9 L2304.7,1276.9 L2305.7,1276.9 L2306.7,1276.9 L2307.7,1276.9 L2308.7,1276.9 L2309.7,1276.9 L2310.7,1276.9 L2311.7,1276.9 L2312.7,1276.9 L2313.7,1276.9 L2314.7,1276.9 L2315.7,1276.9 L2316.7,1276.9 L2317.7,1276.9 L2318.7,1276.9 L2319.7,1276.9 L2320.7,1276.9 L2321.7,1276.9 L2322.7,1276.9 L2323.7,1276.9" stroke="#ff0000"/>
<path d="M170.7,1286.1 L171.7,1286.1 L172.7,1286.1 L173.7,1286.1 L174.7,1286.1 L175.7,1286.0 L176.7,1286.0 L177.7,1286.0 L178.7,1286.0 L179.7,1285.9 L180.7,1285.9 L181.7,1285.9 L182.7,1285.8 L183.7,1285.8 L184.7,1285.7 L185.7,1285.7 L186.7,1285.6 L187.7,1285.6 L188.7,1285.5 L189.7,1285.4 L190.7,1285.4 L191.7,1285.3 L192.7,1285.2 L193.7,1285.2 L194.7,1285.1 L195.7,1285.0 L196.7,1285.0 L197.7,1284.9 L198.7,1284.8 L199.7,1284.7 L200.7,1284.7 L201.7,1284.6 L202.7,1284.5 L203.7,1284.4 L204.7,1284.4 L205.7,1284.3 L206.7,1284.2 L207.7,1284.1 L208.7,1283.9 L209.7,1283.8 L210.7,1283.7 L211.7,1283.6 L212.7,1283.4 L213.7,1283.3 L214.7,1283.2 L215.7,1283.0 L216.7,1282.9 L217.7,1282.7 L218.7,1282.6 L219.7,1282.5 L220.7,1282.3 L221.7,1282.2 L222.7,1282.0 L223.7,1281.9 L224.7,1281.7 L225.7,1281.6 L226.7,1281.4 L227.7,1281.3 L228.7,1281.1 L229.7,1281.0 L230.7,1280.8 L231.7,1280.7 L232.7,1280.5 L233.7,1280.4 L234.7,1280.2 L235.7,1280.0 L236.7,1279.9 L237.7,1279.7 L238.7,1279.5 L239.7,1279.4 L240.7,1279.2 L241.7,1279.0 L242.7,1278.9 L243.7,1278.7 L244.7,1278.6 L245.7,1278.4 L246.7,1278.3 L247.7,1278.1 L248.7,1277.9 L249.7,1277.7 L250.7,1277.6 L251.7,1277.4 L252.7,1277.2 L253.7,1277.0 L254.7,1276.8 L255.7,1276.6 L256.7,1276.4 L257.7,1276.2 L258.7,1276.0 L259.7,1275.9 L260.7,1275.7 L261.7,1275.6 L262.7,1275.5 L263.7,1275.4 L264.7,1275.3 L265.7,1275.3 L266.7,1275.2 L267.7,1275.2 L268.7,1275.2 L269.7,1275.2 L270.7,1275.2 L271.7,1275.2 L272.7,1275.2 L273.7,1275.2 L274.7,1275.2 L275.7,1275.2 L276.7,1275.2 L277.7,1275.2 L278.7,1275.2 L279.7,1275.2 L280.7,1275.1 L281.7,1275.1 L282.7,1275.1 L283.7,1275.1 L284.7,1275.1 L285.7,1275.0 L286.7,1275.0 L287.7,1275.0 L288.7,1274.9 L289.7,1274.8 L290.7,1274.8 L291.7,1274.8 L292.7,1274.9 L293.7,1274.9 L294.7,1275.0 L295.7,1275.1 L296.7,1275.1 L297.7,1275.2 L298.7,1275.2 L299.7,1275.2 L300.7,1275.2 L301.7,1275.1 L302.7,1274.9 L303.7,1274.7 L304.7,1274.5 L305.7,1274.3 L306.7,1274.1 L307.7,1273.7 L308.7,1273.3 L309.7,1272.8 L310.7,1272.2 L311.7,1271.4 L312.7,1270.5 L313.7,1269.5 L314.7,1268.4 L315.7,1267.3 L316.7,1266.0 L317.7,1264.7 L318.7,1263.3 L319.7,1261.8 L320.7,1260.2 L321.7,1258.5 L322.7,1256.7 L323.7,1254.8 L324.7,1252.7 L325.7,1250.6 L326.7,1248.3 L327.7,1245.9 L328.7,1243.3 L329.7,1240.6 L330.7,1237.8 L331.7,1234.8 L332.7,1231.7 L333.7,1228.4 L334.7,1224.9 L335.7,1221.3 L336.7,1217.6 L337.7,1213.7 L338.7,1209.7 L339.7,1205.6 L340.7,1201.3 L341.7,1196.9 L342.7,1192.3 L343.7,1187.6 L344.7,1182.6 L345.7,1177.6 L346.7,1172.3 L347.7,1166.9 L348.7,1161.3 L349.7,1155.5 L350.7,1149.6 L351.7,1143.5 L352.7,1137.3 L353.7,1131.0 L354.7,1124.6 L355.7,1118.1 L356.7,1111.5 L357.7,1104.8 L358.7,1098.0 L359.7,1091.2 L360.7,1084.4 L361.7,1077.5 L362.7,1070.6 L363.7,1063.7 L364.7,1056.8 L365.7,1050.0 L366.7,1043.3 L367.7,1036.7 L368.7,1030.2 L369.7,1023.8 L370.7,1017.7 L371.7,1011.7 L372.7,1005.9 L373.7,1000.4 L374.7,995.2 L375.7,990.3 L376.7,985.7 L377.7,981.4 L378.7,977.6 L379.7,974.1 L380.7,971.0 L381.7,968.4 L382.7,966.2 L383.7,964.5 L384.7,963.4 L385.7,962.7 L386.7,962.6 L387.7,963.0 L388.7,964.1 L389.7,965.7 L390.7,967.9 L391.7,970.7 L392.7,974.1 L393.7,978.2 L394.7,982.9 L395.7,988.2 L396.7,994.1 L397.7,1000.7 L398.7,1007.8 L399.7,1015.7 L400.7,1024.1 L401.7,1033.1 L402.7,1042.7 L403.7,1052.8 L404.7,1063.5 L405.7,1074.7 L406.7,1086.5 L407.7,1098.7 L408.7,1111.4 L409.7,1124.5 L410.7,1138.0 L411.7,1151.9 L412.7,1166.1 L413.7,1180.7 L414.7,1195.4 L415.7,1210.5 L416.7,1225.7 L417.7,1241.0 L418.7,1256.5 L419.7,1272.1 L420.7,1287.5 L421.7,1301.1 L422.7,1314.7 L423.7,1328.2 L424.7,1341.6 L425.7,1354.9 L426.7,1368.0 L427.7,1380.9 L428.7,1393.6 L429.7,1405.9 L430.7,1418.0 L431.7,1429.8 L432.7,1441.2 L433.7,1452.2 L434.7,1462.8 L435.7,1473.0 L436.7,1482.7 L437.7,1492.0 L438.7,1500.8 L439.7,1509.1 L440.7,1516.8 L441.7,1524.1 L442.7,1530.8 L443.7,1537.0 L444.7,1542.6 L445.7,1547.7 L446.7,1552.2 L447.7,1556.2 L448.7,1559.6 L449.7,1562.5 L450.7,1564.9 L451.7,1566.7 L452.7,1568.0 L453.7,1568.8 L454.7,1569.1 L455.7,1568.9 L456.7,1568.3 L457.7,1567.2 L458.7,1565.6 L459.7,1563.7 L460.7,1561.4 L461.7,1558.7 L462.7,1555.6 L463.7,1552.2 L464.7,1548.4 L465.7,1544.4 L466.7,1540.1 L467.7,1535.7 L468.7,1531.0 L469.7,1526.1 L470.7,1521.0 L471.7,1515.8 L472.7,1510.5 L473.7,1505.0 L474.7,1499.5 L475.7,1493.9 L476.7,1488.2 L477.7,1482.5 L478.7,1476.8 L479.7,1471.1 L480.7,1465.5 L481.7,1459.8 L482.7,1454.2 L483.7,1448.7 L484.7,1443.2 L485.7,1437.7 L486.7,1432.4 L487.7,1427.1 L488.7,1421.9 L489.7,1416.9 L490.7,1411.9 L491.7,1407.1 L492.7,1402.4 L493.7,1397.8 L494.7,1393.4 L495.7,1389.0 L496.7,1384.9 L497.7,1380.8 L498.7,1376.9 L499.7,1373.2 L500.7,1369.5 L501.7,1366.0 L502.7,1362.7 L503.7,1359.5 L504.7,1356.4 L505.7,1353.5 L506.7,1350.7 L507.7,1348.0 L508.7,1345.4 L509.7,1343.0 L510.7,1340.7 L511.7,1338.5 L512.7,1336.4 L513.7,1334.4 L514.7,1332.5 L515.7,1330.7 L516.7,1329.0 L517.7,1327.5 L518.7,1326.0 L519.7,1324.5 L520.7,1323.2 L521.7,1322.0 L522.7,1320.8 L523.7,1319.7 L524.7,1318.6 L525.7,1317.6 L526.7,1316.7 L527.7,1315.9 L528.7,1315.1 L529.7,1314.4 L530.7,1313.7 L531.7,1313.1 L532.7,1312.5 L533.7,1312.0 L534.7,1311.5 L535.7,1311.0 L536.7,1310.6 L537.7,1310.3 L538.7,1309.9 L539.7,1309.6 L540.7,1309.3 L541.7,1309.0 L542.7,1308.7 L543.7,1308.5 L544.7,1308.2 L545.7,1308.0 L546.7,1307.8 L547.7,1307.6 L548.7,1307.4 L549.7,1307.3 L550.7,1307.1 L551.7,1307.0 L552.7,1306.8 L553.7,1306.7 L554.7,1306.6 L555.7,1306.5 L556.7,1306.4 L557.7,1306.3 L558.7,1306.3 L559.7,1306.2 L560.7,1306.1 L561.7,1306.0 L562.7,1306.0 L563.7,1305.9 L564.7,1305.9 L565.7,1305.8 L566.7,1305.7 L567.7,1305.6 L568.7,1305.5 L569.7,1305.4 L570.7,1305.2 L571.7,1305.0 L572.7,1304.8 L573.7,1304.6 L574.7,1304.3 L575.7,1304.1 L576.7,1303.8 L577.7,1303.6 L578.7,1303.3 L579.7,1303.0 L580.7,1302.7 L581.7,1302.4 L582.7,1302.1 L583.7,1301.9 L584.7,1301.6 L585.7,1301.3 L586.7,1301.1 L587.7,1300.8 L588.7,1300.6 L589.7,1300.3 L590.7,1300.1 L591.7,1299.8 L592.7,1299.6 L593.7,1299.3 L594.7,1299.1 L595.7,1298.8 L596.7,1298.6 L597.7,1298.3 L598.7,1298.1 L599.7,1297.8 L600.7,1297.6 L601.7,1297.3 L602.7,1297.1 L603.7,1296.8 L604.7,1296.5 L605.7,1296.3 L606.7,1296.0 L607.7,1295.7 L608.7,1295.5 L609.7,1295.2 L610.7,1295.0 L611.7,1294.8 L612.7,1294.5 L613.7,1294.3 L614.7,1294.1 L615.7,1293.8 L616.7,1293.6 L617.7,1293.4 L618.7,1293.2 L619.7,1293.0 L620.7,1292.8 L621.7,1292.7 L622.7,1292.5 L623.7,1292.4 L624.7,1292.2 L625.7,1292.1 L626.7,1292.0 L627.7,1291.9 L628.7,1291.8 L629.7,1291.7 L630.7,1291.6 L631.7,1291.5 L632.7,1291.4 L633.7,1291.3 L634.7,1291.2 L635.7,1291.2 L636.7,1291.1 L637.7,1291.0 L638.7,1291.0 L639.7,1290.9 L640.7,1290.9 L641.7,1290.8 L642.7,1290.8 L643.7,1290.7 L644.7,1290.7 L645.7,1290.6 L646.7,1290.6 L647.7,1290.5 L648.7,1290.5 L649.7,1290.5 L650.7,1290.4 L651.7,1290.4 L652.7,1290.4 L653.7,1290.3 L654.7,1290.3 L655.7,1290.3 L656.7,1290.3 L657.7,1290.2 L658.7,1290.2 L659.7,1290.2 L660.7,1290.2 L661.7,1290.1 L662.7,1290.1 L663.7,1290.1 L664.7,1290.1 L665.7,1290.1 L666.7,1290.0 L667.7,1290.0 L668.7,1290.0 L669.7,1290.0 L670.7,1289.9 L671.7,1289.9 L672.7,1289.9 L673.7,1289.9 L674.7,1289.9 L675.7,1289.8 L676.7,1289.8 L677.7,1289.8 L678.7,1289.8 L679.7,1289.7 L680.7,1289.7 L681.7,1289.7 L682.7,1289.7 L683.7,1289.6 L684.7,1289.6 L685.7,1289.6 L686.7,1289.5 L687.7,1289.5 L688.7,1289.5 L689.7,1289.4 L690.7,1289.4 L691.7,1289.4 L692.7,1289.3 L693.7,1289.3 L694.7,1289.3 L695.7,1289.2 L696.7,1289.2 L697.7,1289.2 L698.7,1289.1 L699.7,1289.1 L700.7,1289.1 L701.7,1289.0 L702.7,1289.0 L703.7,1289.0 L704.7,1289.0 L705.7,1288.9 L706.7,1288.9 L707.7,1288.9 L708.7,1288.8 L709.7,1288.8 L710.7,1288.8 L711.7,1288.7 L712.7,1288.7 L713.7,1288.7 L714.7,1288.7 L715.7,1288.6 L716.7,1288.6 L717.7,1288.6 L718.7,1288.6 L719.7,1288.6 L720.7,1288.5 L721.7,1288.5 L722.7,1288.5 L723.7,1288.5 L724.7,1288.4 L725.7,1288.4 L726.7,1288.4 L727.7,1288.4 L728.7,1288.4 L729.7,1288.3 L730.7,1288.3 L731.7,1288.3 L732.7,1288.3 L733.7,1288.3 L734.7,1288.2 L735.7,1288.2 L736.7,1288.2 L737.7,1288.2 L738.7,1288.2 L739.7,1288.1 L740.7,1288.1 L741.7,1288.1 L742.7,1288.1 L743.7,1288.1 L744.7,1288.0 L745.7,1288.0 L746.7,1288.0 L747.7,1288.0 L748.7,1288.0 L749.7,1288.0 L750.7,1287.9 L751.7,1287.9 L752.7,1287.9 L753.7,1287.9 L754.7,1287.9 L755.7,1287.9 L756.7,1287.8 L757.7,1287.8 L758.7,1287.8 L759.7,1287.8 L760.7,1287.8 L761.7,1287.8 L762.7,1287.8 L763.7,1287.7 L764.7,1287.7 L765.7,1287.7 L766.7,1287.7 L767.7,1287.7 L768.7,1287.7 L769.7,1287.7 L770.7,1287.6 L771.7,1287.6 L772.7,1287.6 L773.7,1287.6 L774.7,1287.6 L775.7,1287.6 L776.7,1287.6 L777.7,1287.6 L778.7,1287.5 L779.7,1287.5 L780.7,1287.5 L781.7,1287.5 L782.7,1287.5 L783.7,1287.5 L784.7,1287.5 L785.7,1287.5 L786.7,1287.4 L787.7,1287.4 L788.7,1287.4 L789.7,1287.4 L790.7,1287.4 L791.7,1287.4 L792.7,1287.4 L793.7,1287.4 L794.7,1287.3 L795.7,1287.3 L796.7,1287.3 L797.7,1287.3 L798.7,1287.3 L799.7,1287.3 L800.7,1287.3 L801.7,1287.3 L802.7,1287.3 L803.7,1287.2 L804.7,1287.2 L805.7,1287.2 L806.7,1287.2 L807.7,1287.2 L808.7,1287.2 L809.7,1287.2 L810.7,1287.2 L811.7,1287.2 L812.7,1287.1 L813.7,1287.1 L814.7,1287.1 L815.7,1287.1 L816.7,1287.1 L817.7,1287.1 L818.7,1287.1 L819.7,1287.1 L820.7,1287.1 L821.7,1287.1 L822.7,1287.0 L823.7,1287.0 L824.7,1287.0 L825.7,1287.0 L826.7,1287.0 L827.7,1287.0 L828.7,1287.0 L829.7,1287.0 L830.7,1287.0 L831.7,1287.0 L832.7,1287.0 L833.7,1287.0 L834.7,1286.9 L835.7,1286.9 L836.7,1286.9 L837.7,1286.9 L838.7,1286.9 L839.7,1286.9 L840.7,1286.9 L841.7,1286.9 L842.7,1286.9 L843.7,1286.9 L844.7,1286.9 L845.7,1286.9 L846.7,1286.9 L847.7,1286.9 L848.7,1286.8 L849.7,1286.8 L850.7,1286.8 L851.7,1286.8 L852.7,1286.8 L853.7,1286.8 L854.7,1286.8 L855.7,1286.8 L856.7,1286.8 L857.7,1286.8 L858.7,1286.8 L859.7,1286.8 L860.7,1286.8 L861.7,1286.8 L862.7,1286.8 L863.7,1286.8 L864.7,1286.8 L865.7,1286.8 L866.7,1286.7 L867.7,1286.7 L868.7,1286.7 L869.7,1286.7 L870.7,1286.7 L871.7,1286.7 L872.7,1286.7 L873.7,1286.7 L874.7,1286.7 L875.7,1286.7 L876.7,1286.7 L877.7,1286.7 L878.7,1286.7 L879.7,1286.7 L880.7,1286.7 L881.7,1286.7 L882.7,1286.7 L883.7,1286.7 L884.7,1286.7 L885.7,1286.7 L886.7,1286.6 L887.7,1286.6 L888.7,1286.6 L889.7,1286.6 L890.7,1286.6 L891.7,1286.6 L892.7,1286.6 L893.7,1286.6 L894.7,1286.6 L895.7,1286.6 L896.7,1286.6 L897.7,1286.6 L898.7,1286.6 L899.7,1286.6 L900.7,1286.6 L901.7,1286.6 L902.7,1286.6 L903.7,1286.6 L904.7,1286.6 L905.7,1286.6 L906.7,1286.6 L907.7,1286.5 L908.7,1286.5 L909.7,1286.5 L910.7,1286.5 L911.7,1286.5 L912.7,1286.5 L913.7,1286.5 L914.7,1286.5 L915.7,1286.5 L916.7,1286.5 L917.7,1286.5 L918.7,1286.5 L919.7,1286.4 L920.7,1286.4 L921.7,1286.4 L922.7,1286.3 L923.7,1286.3 L924.7,1286.2 L925.7,1286.2 L926.7,1286.1 L927.7,1286.1 L928.7,1286.0 L929.7,1286.0 L930.7,1285.9 L931.7,1285.8 L932.7,1285.8 L933.7,1285.7 L934.7,1285.6 L935.7,1285.6 L936.7,1285.5 L937.7,1285.4 L938.7,1285.4 L939.7,1285.3 L940.7,1285.2 L941.7,1285.1 L942.7,1285.0 L943.7,1285.0 L944.7,1284.9 L945.7,1284.8 L946.7,1284.7 L947.7,1284.6 L948.7,1284.6 L949.7,1284.5 L950.7,1284.3 L951.7,1284.2 L952.7,1284.1 L953.7,1284.0 L954.7,1283.9 L955.7,1283.7 L956.7,1283.6 L957.7,1283.4 L958.7,1283.3 L959.7,1283.2 L960.7,1283.0 L961.7,1282.9 L962.7,1282.7 L963.7,1282.6 L964.7,1282.4 L965.7,1282.3 L966.7,1282.1 L967.7,1282.0 L968.7,1281.8 L969.7,1281.7 L970.7,1281.5 L971.7,1281.4 L972.7,1281.2 L973.7,1281.1 L974.7,1280.9 L975.7,1280.7 L976.7,1280.6 L977.7,1280.4 L978.7,1280.2 L979.7,1280.1 L980.7,1279.7 L981.7,1279.6 L982.7,1279.4 L983.7,1279.3 L984.7,1279.1 L985.7,1278.9 L986.7,1278.8 L987.7,1278.6 L988.7,1278.5 L989.7,1278.3 L990.7,1278.1 L991.7,1278.0 L992.7,1277.8 L993.7,1277.6 L994.7,1277.4 L995.7,1277.2 L996.7,1277.0 L997.7,1276.8 L998.7,1276.6 L999.7,1276.5 L1000.7,1276.3 L1001.7,1276.1 L1002.7,1275.9 L1003.7,1275.8 L1004.7,1275.7 L1005.7,1275.5 L1006.7,1275.4 L1007.7,1275.4 L1008.7,1275.3 L1009.7,1275.3 L1010.7,1275.3 L1011.7,1275.3 L1012.7,1275.2 L1013.7,1275.2 L1014.7,1275.2 L1015.7,1275.2 L1016.7,1275.2 L1017.7,1275.2 L1018.7,1275.2 L1019.7,1275.2 L1020.7,1275.2 L1021.7,1275.2 L1022.7,1275.2 L1023.7,1275.2 L1024.7,1275.2 L1025.7,1275.2 L1026.7,1275.1 L1027.7,1275.1 L1028.7,1275.1 L1029.7,1275.0 L1030.7,1275.0 L1031.7,1274.9 L1032.7,1274.9 L1033.7,1274.9 L1034.7,1274.9 L1035.7,1274.9 L1036.7,1275.0 L1037.7,1275.1 L1038.7,1275.1 L1039.7,1275.2 L1040.7,1275.2 L1041.7,1275.3 L1042.7,1275.3 L1043.7,1275.2 L1044.7,1275.1 L1045.7,1275.0 L1046.7,1274.8 L1047.7,1274.6 L1048.7,1274.4 L1049.7,1274.1 L1050.7,1273.8 L1051.7,1273.4 L1052.7,1272.9 L1053.7,1272.3 L1054.7,1271.5 L1055.7,1270.6 L1056.7,1269.6 L1057.7,1268.6 L1058.7,1267.5 L1059.7,1266.2 L1060.7,1264.9 L1061.7,1263.5 L1062.7,1262.1 L1063.7,1260.5 L1064.7,1258.8 L1065.7,1257.0 L1066.7,1255.1 L1067.7,1253.1 L1068.7,1250.9 L1069.7,1248.7 L1070.7,1246.3 L1071.7,1243.8 L1072.7,1241.1 L1073.7,1238.3 L1074.7,1235.3 L1075.7,1232.2 L1076.7,1228.9 L1077.7,1225.5 L1078.7,1221.9 L1079.7,1218.2 L1080.7,1214.4 L1081.7,1210.5 L1082.7,1206.4 L1083.7,1202.1 L1084.7,1197.7 L1085.7,1193.2 L1086.7,1188.4 L1087.7,1183.6 L1088.7,1178.5 L1089.7,1173.3 L1090.7,1167.9 L1091.7,1162.3 L1092.7,1156.6 L1093.7,1150.7 L1094.7,1144.7 L1095.7,1138.5 L1096.7,1132.3 L1097.7,1125.9 L1098.7,1119.4 L1099.7,1112.8 L1100.7,1106.2 L1101.7,1099.5 L1102.7,1092.7 L1103.7,1085.9 L1104.7,1079.0 L1105.7,1072.1 L1106.7,1065.3 L1107.7,1058.4 L1108.7,1051.6 L1109.7,1044.9 L1110.7,1038.3 L1111.7,1031.8 L1112.7,1025.5 L1113.7,1019.3 L1114.7,1013.4 L1115.7,1007.6 L1116.7,1002.1 L1117.7,996.9 L1118.7,992.0 L1119.7,987.3 L1120.7,983.1 L1121.7,979.2 L1122.7,975.6 L1123.7,972.5 L1124.7,969.9 L1125.7,967.7 L1126.7,966.0 L1127.7,964.7 L1128.7,964.0 L1129.7,963.9 L1130.7,964.3 L1131.7,965.2 L1132.7,966.8 L1133.7,968.9 L1134.7,971.6 L1135.7,975.0 L1136.7,979.0 L1137.7,983.6 L1138.7,988.8 L1139.7,994.6 L1140.7,1001.1 L1141.7,1008.2 L1142.7,1015.9 L1143.7,1024.2 L1144.7,1033.2 L1145.7,1042.6 L1146.7,1052.7 L1147.7,1063.3 L1148.7,1074.5 L1149.7,1086.1 L1150.7,1098.2 L1151.7,1110.8 L1152.7,1123.8 L1153.7,1137.3 L1154.7,1151.0 L1155.7,1165.2 L1156.7,1179.6 L1157.7,1194.3 L1158.7,1209.3 L1159.7,1224.4 L1160.7,1239.7 L1161.7,1255.1 L1162.7,1270.6 L1163.7,1286.1 L1164.7,1299.7 L1165.7,1313.3 L1166.7,1326.9 L1167.7,1340.3 L1168.7,1353.6 L1169.7,1366.7 L1170.7,1379.6 L1171.7,1392.3 L1172.7,1404.7 L1173.7,1416.8 L1174.7,1428.6 L1175.7,1440.0 L1176.7,1451.1 L1177.7,1461.8 L1178.7,1472.0 L1179.7,1481.8 L1180.7,1491.1 L1181.7,1499.9 L1182.7,1508.3 L1183.7,1516.1 L1184.7,1523.4 L1185.7,1530.2 L1186.7,1536.4 L1187.7,1542.1 L1188.7,1547.2 L1189.7,1551.8 L1190.7,1555.8 L1191.7,1559.3 L1192.7,1562.3 L1193.7,1564.7 L1194.7,1566.6 L1195.7,1567.9 L1196.7,1568.8 L1197.7,1569.1 L1198.7,1569.0 L1199.7,1568.4 L1200.7,1567.3 L1201.7,1565.8 L1202.7,1563.9 L1203.7,1561.6 L1204.7,1558.9 L1205.7,1555.9 L1206.7,1552.5 L1207.7,1548.8 L1208.7,1544.8 L1209.7,1540.6 L1210.7,1536.1 L1211.7,1531.4 L1212.7,1526.6 L1213.7,1521.5 L1214.7,1516.4 L1215.7,1511.0 L1216.7,1505.6 L1217.7,1500.1 L1218.7,1494.4 L1219.7,1488.7 L1220.7,1483.1 L1221.7,1477.4 L1222.7,1471.7 L1223.7,1466.0 L1224.7,1460.4 L1225.7,1454.8 L1226.7,1449.2 L1227.7,1443.7 L1228.7,1438.3 L1229.7,1432.9 L1230.7,1427.6 L1231.7,1422.4 L1232.7,1417.4 L1233.7,1412.4 L1234.7,1407.6 L1235.7,1402.9 L1236.7,1398.3 L1237.7,1393.8 L1238.7,1389.5 L1239.7,1385.3 L1240.7,1381.2 L1241.7,1377.3 L1242.7,1373.5 L1243.7,1369.9 L1244.7,1366.4 L1245.7,1363.0 L1246.7,1359.8 L1247.7,1356.7 L1248.7,1353.8 L1249.7,1351.0 L1250.7,1348.3 L1251.7,1345.7 L1252.7,1343.2 L1253.7,1340.9 L1254.7,1338.7 L1255.7,1336.6 L1256.7,1334.6 L1257.7,1332.7 L1258.7,1330.9 L1259.7,1329.2 L1260.7,1327.6 L1261.7,1326.1 L1262.7,1324.7 L1263.7,1323.3 L1264.7,1322.1 L1265.7,1320.9 L1266.7,1319.8 L1267.7,1318.7 L1268.7,1317.7 L1269.7,1316.8 L1270.7,1316.0 L1271.7,1315.2 L1272.7,1314.4 L1273.7,1313.7 L1274.7,1313.1 L1275.7,1312.5 L1276.7,1312.0 L1277.7,1311.5 L1278.7,1311.1 L1279.7,1310.7 L1280.7,1310.3 L1281.7,1310.0 L1282.7,1309.6 L1283.7,1309.3 L1284.7,1309.0 L1285.7,1308.7 L1286.7,1308.5 L1287.7,1308.2 L1288.7,1308.0 L1289.7,1307.8 L1290.7,1307.6 L1291.7,1307.4 L1292.7,1307.3 L1293.7,1307.1 L1294.7,1307.0 L1295.7,1306.9 L1296.7,1306.7 L1297.7,1306.6 L1298.7,1306.5 L1299.7,1306.4 L1300.7,1306.3 L1301.7,1306.3 L1302.7,1306.2 L1303.7,1306.1 L1304.7,1306.0 L1305.7,1306.0 L1306.7,1305.9 L1307.7,1305.9 L1308.7,1305.8 L1309.7,1305.7 L1310.7,1305.6 L1311.7,1305.5 L1312.7,1305.4 L1313.7,1305.2 L1314.7,1305.0 L1315.7,1304.8 L1316.7,1304.6 L1317.7,1304.4 L1318.7,1304.1 L1319.7,1303.9 L1320.7,1303.6 L1321.7,1303.3 L1322.7,1303.0 L1323.7,1302.7 L1324.7,1302.5 L1325.7,1302.2 L1326.7,1301.9 L1327.7,1301.6 L1328.7,1301.3 L1329.7,1301.1 L1330.7,1300.8 L1331.7,1300.6 L1332.7,1300.3 L1333.7,1300.1 L1334.7,1299.9 L1335.7,1299.6 L1336.7,1299.4 L1337.7,1299.1 L1338.7,1298.9 L1339.7,1298.6 L1340.7,1298.4 L1341.7,1298.1 L1342.7,1297.9 L1343.7,1297.6 L1344.7,1297.3 L1345.7,1297.1 L1346.7,1296.8 L1347.7,1296.6 L1348.7,1296.3 L1349.7,1296.0 L1350.7,1295.8 L1351.7,1295.5 L1352.7,1295.3 L1353.7,1295.0 L1354.7,1294.8 L1355.7,1294.6 L1356.7,1294.3 L1357.7,1294.1 L1358.7,1293.9 L1359.7,1293.6 L1360.7,1293.4 L1361.7,1293.2 L1362.7,1293.0 L1363.7,1292.8 L1364.7,1292.7 L1365.7,1292.5 L1366.7,1292.4 L1367.7,1292.3 L1368.7,1292.1 L1369.7,1292.0 L1370.7,1291.9 L1371.7,1291.8 L1372.7,1291.7 L1373.7,1291.6 L1374.7,1291.5 L1375.7,1291.4 L1376.7,1291.3 L1377.7,1291.2 L1378.7,1291.2 L1379.7,1291.1 L1380.7,1291.0 L1381.7,1291.0 L1382.7,1290.9 L1383.7,1290.9 L1384.7,1290.8 L1385.7,1290.8 L1386.7,1290.7 L1387.7,1290.7 L1388.7,1290.6 L1389.7,1290.6 L1390.7,1290.6 L1391.7,1290.5 L1392.7,1290.5 L1393.7,1290.4 L1394.7,1290.4 L1395.7,1290.4 L1396.7,1290.3 L1397.7,1290.3 L1398.7,1290.3 L1399.7,1290.3 L1400.7,1290.2 L1401.7,1290.2 L1402.7,1290.2 L1403.7,1290.2 L1404.7,1290.1 L1405.7,1290.1 L1406.7,1290.1 L1407.7,1290.1 L1408.7,1290.1 L1409.7,1290.0 L1410.7,1290.0 L1411.7,1290.0 L1412.7,1290.0 L1413.7,1290.0 L1414.7,1289.9 L1415.7,1289.9 L1416.7,1289.9 L1417.7,1289.9 L1418.7,1289.8 L1419.7,1289.8 L1420.7,1289.8 L1421.7,1289.8 L1422.7,1289.7 L1423.7,1289.7 L1424.7,1289.7 L1425.7,1289.7 L1426.7,1289.6 L1427.7,1289.6 L1428.7,1289.6 L1429.7,1289.5 L1430.7,1289.5 L1431.7,1289.5 L1432.7,1289.4 L1433.7,1289.4 L1434.7,1289.4 L1435.7,1289.3 L1436.7,1289.3 L1437.7,1289.3 L1438.7,1289.2 L1439.7,1289.2 L1440.7,1289.2 L1441.7,1289.1 L1442.7,1289.1 L1443.7,1289.1 L1444.7,1289.1 L1445.7,1289.0 L1446.7,1289.0 L1447.7,1289.0 L1448.7,1288.9 L1449.7,1288.9 L1450.7,1288.9 L1451.7,1288.8 L1452.7,1288.8 L1453.7,1288.8 L1454.7,1288.7 L1455.7,1288.7 L1456.7,1288.7 L1457.7,1288.7 L1458.7,1288.6 L1459.7,1288.6 L1460.7,1288.6 L1461.7,1288.6 L1462.7,1288.6 L1463.7,1288.5 L1464.7,1288.5 L1465.7,1288.5 L1466.7,1288.5 L1467.7,1288.4 L1468.7,1288.4 L1469.7,1288.4 L1470.7,1288.4 L1471.7,1288.4 L1472.7,1288.3 L1473.7,1288.3 L1474.7,1288.3 L1475.7,1288.3 L1476.7,1288.3 L1477.7,1288.2 L1478.7,1288.2 L1479.7,1288.2 L1480.7,1288.2 L1481.7,1288.2 L1482.7,1288.1 L1483.7,1288.1 L1484.7,1288.1 L1485.7,1288.1 L1486.7,1288.1 L1487.7,1288.0 L1488.7,1288.0 L1489.7,1288.0 L1490.7,1288.0 L1491.7,1288.0 L1492.7,1288.0 L1493.7,1287.9 L1494.7,1287.9 L1495.7,1287.9 L1496.7,1287.9 L1497.7,1287.9 L1498.7,1287.9 L1499.7,1287.8 L1500.7,1287.8 L1501.7,1287.8 L1502.7,1287.8 L1503.7,1287.8 L1504.7,1287.8 L1505.7,1287.8 L1506.7,1287.7 L1507.7,1287.7 L1508.7,1287.7 L1509.7,1287.7 L1510.7,1287.7 L1511.7,1287.7 L1512.7,1287.7 L1513.7,1287.6 L1514.7,1287.6 L1515.7,1287.6 L1516.7,1287.6 L1517.7,1287.6 L1518.7,1287.6 L1519.7,1287.6 L1520.7,1287.6 L1521.7,1287.5 L1522.7,1287.5 L1523.7,1287.5 L1524.7,1287.5 L1525.7,1287.5 L1526.7,1287.5 L1527.7,1287.5 L1528.7,1287.5 L1529.7,1287.4 L1530.7,1287.4 L1531.7,1287.4 L1532.7,1287.4 L1533.7,1287.4 L1534.7,1287.4 L1535.7,1287.4 L1536.7,1287.4 L1537.7,1287.3 L1538.7,1287.3 L1539.7,1287.3 L1540.7,1287.3 L1541.7,1287.3 L1542.7,1287.3 L1543.7,1287.3 L1544.7,1287.3 L1545.7,1287.3 L1546.7,1287.2 L1547.7,1287.2 L1548.7,1287.2 L1549.7,1287.2 L1550.7,1287.2 L1551.7,1287.2 L1552.7,1287.2 L1553.7,1287.2 L1554.7,1287.2 L1555.7,1287.1 L1556.7,1287.1 L1557.7,1287.1 L1558.7,1287.1 L1559.7,1287.1 L1560.7,1287.1 L1561.7,1287.1 L1562.7,1287.1 L1563.7,1287.1 L1564.7,1287.1 L1565.7,1287.0 L1566.7,1287.0 L1567.7,1287.0 L1568.7,1287.0 L1569.7,1287.0 L1570.7,1287.0 L1571.7,1287.0 L1572.7,1287.0 L1573.7,1287.0 L1574.7,1287.0 L1575.7,1287.0 L1576.7,1287.0 L1577.7,1286.9 L1578.7,1286.9 L1579.7,1286.9 L1580.7,1286.9 L1581.7,1286.9 L1582.7,1286.9 L1583.7,1286.9 L1584.7,1286.9 L1585.7,1286.9 L1586.7,1286.9 L1587.7,1286.9 L1588.7,1286.9 L1589.7,1286.9 L1590.7,1286.9 L1591.7,1286.8 L1592.7,1286.8 L1593.7,1286.8 L1594.7,1286.8 L1595.7,1286.8 L1596.7,1286.8 L1597.7,1286.8 L1598.7,1286.8 L1599.7,1286.8 L1600.7,1286.8 L1601.7,1286.8 L1602.7,1286.8 L1603.7,1286.8 L1604.7,1286.8 L1605.7,1286.8 L1606.7,1286.8 L1607.7,1286.8 L1608.7,1286.8 L1609.7,1286.7 L1610.7,1286.7 L1611.7,1286.7 L1612.7,1286.7 L1613.7,1286.7 L1614.7,1286.7 L1615.7,1286.7 L1616.7,1286.7 L1617.7,1286.7 L1618.7,1286.7 L1619.7,1286.7 L1620.7,1286.7 L1621.7,1286.7 L1622.7,1286.7 L1623.7,1286.7 L1624.7,1286.7 L1625.7,1286.7 L1626.7,1286.7 L1627.7,1286.7 L1628.7,1286.7 L1629.7,1286.6 L1630.7,1286.6 L1631.7,1286.6 L1632.7,1286.6 L1633.7,1286.6 L1634.7,1286.6 L1635.7,1286.6 L1636.7,1286.6 L1637.7,1286.6 L1638.7,1286.6 L1639.7,1286.6 L1640.7,1286.6 L1641.7,1286.6 L1642.7,1286.6 L1643.7,1286.6 L1644.7,1286.6 L1645.7,1286.6 L1646.7,1286.6 L1647.7,1286.6 L1648.7,1286.6 L1649.7,1286.6 L1650.7,1286.6 L1651.7,1286.5 L1652.7,1286.5 L1653.7,1286.5 L1654.7,1286.5 L1655.7,1286.5 L1656.7,1286.5 L1657.7,1286.5 L1658.7,1286.5 L1659.7,1286.5 L1660.7,1286.5 L1661.7,1286.5 L1662.7,1286.5 L1663.7,1286.5 L1664.7,1286.5 L1665.7,1286.4 L1666.7,1286.4 L1667.7,1286.4 L1668.7,1286.4 L1669.7,1286.3 L1670.7,1286.3 L1671.7,1286.2 L1672.7,1286.2 L1673.7,1286.1 L1674.7,1286.1 L1675.7,1286.0 L1676.7,1286.0 L1677.7,1285.9 L1678.7,1285.8 L1679.7,1285.8 L1680.7,1285.7 L1681.7,1285.7 L1682.7,1285.6 L1683.7,1285.5 L1684.7,1285.4 L1685.7,1285.4 L1686.7,1285.3 L1687.7,1285.2 L1688.7,1285.1 L1689.7,1285.1 L1690.7,1285.0 L1691.7,1284.9 L1692.7,1284.8 L1693.7,1284.8 L1694.7,1284.7 L1695.7,1284.6 L1696.7,1284.5 L1697.7,1284.4 L1698.7,1284.3 L1699.7,1284.2 L1700.7,1284.0 L1701.7,1283.9 L1702.7,1283.8 L1703.7,1283.6 L1704.7,1283.5 L1705.7,1283.4 L1706.7,1283.2 L1707.7,1283.1 L1708.7,1282.9 L1709.7,1282.8 L1710.7,1282.6 L1711.7,1282.5 L1712.7,1282.4 L1713.7,1282.2 L1714.7,1282.1 L1715.7,1281.9 L1716.7,1281.8 L1717.7,1281.6 L1718.7,1281.5 L1719.7,1281.3 L1720.7,1281.2 L1721.7,1281.0 L1722.7,1280.9 L1723.7,1280.7 L1724.7,1280.4 L1725.7,1280.2 L1726.7,1280.1 L1727.7,1279.9 L1728.7,1279.8 L1729.7,1279.6 L1730.7,1279.4 L1731.7,1279.3 L1732.7,1279.1 L1733.7,1279.0 L1734.7,1278.8 L1735.7,1278.7 L1736.7,1278.5 L1737.7,1278.4 L1738.7,1278.2 L1739.7,1278.0 L1740.7,1277.8 L1741.7,1277.6 L1742.7,1277.5 L1743.7,1277.3 L1744.7,1277.1 L1745.7,1276.9 L1746.7,1276.7 L1747.7,1276.5 L1748.7,1276.4 L1749.7,1276.2 L1750.7,1276.1 L1751.7,1275.9 L1752.7,1275.8 L1753.7,1275.7 L1754.7,1275.6 L1755.7,1275.6 L1756.7,1275.5 L1757.7,1275.5 L1758.7,1275.5 L1759.7,1275.5 L1760.7,1275.5 L1761.7,1275.5 L1762.7,1275.5 L1763.7,1275.5 L1764.7,1275.5 L1765.7,1275.5 L1766.7,1275.5 L1767.7,1275.5 L1768.7,1275.5 L1769.7,1275.5 L1770.7,1275.5 L1771.7,1275.4 L1772.7,1275.4 L1773.7,1275.4 L1774.7,1275.4 L1775.7,1275.4 L1776.7,1275.3 L1777.7,1275.3 L1778.7,1275.2 L1779.7,1275.2 L1780.7,1275.1 L1781.7,1275.2 L1782.7,1275.2 L1783.7,1275.2 L1784.7,1275.3 L1785.7,1275.4 L1786.7,1275.4 L1787.7,1275.5 L1788.7,1275.5 L1789.7,1275.5 L1790.7,1275.5 L1791.7,1275.4 L1792.7,1275.3 L1793.7,1275.1 L1794.7,1274.9 L1795.7,1274.7 L1796.7,1274.4 L1797.7,1274.1 L1798.7,1273.8 L1799.7,1273.3 L1800.7,1272.7 L1801.7,1272.0 L1802.7,1271.1 L1803.7,1270.1 L1804.7,1269.1 L1805.7,1268.0 L1806.7,1266.8 L1807.7,1265.6 L1808.7,1264.2 L1809.7,1262.8 L1810.7,1261.3 L1811.7,1259.6 L1812.7,1257.9 L1813.7,1256.0 L1814.7,1254.1 L1815.7,1252.0 L1816.7,1249.8 L1817.7,1247.5 L1818.7,1245.0 L1819.7,1242.4 L1820.7,1239.7 L1821.7,1236.8 L1822.7,1233.8 L1823.7,1230.6 L1824.7,1227.3 L1825.7,1223.8 L1826.7,1220.2 L1827.7,1216.5 L1828.7,1212.7 L1829.7,1208.7 L1830.7,1204.6 L1831.7,1200.3 L1832.7,1195.8 L1833.7,1191.3 L1834.7,1186.5 L1835.7,1181.6 L1836.7,1176.5 L1837.7,1171.3 L1838.7,1165.9 L1839.7,1160.3 L1840.7,1154.5 L1841.7,1148.7 L1842.7,1142.7 L1843.7,1136.6 L1844.7,1130.4 L1845.7,1124.0 L1846.7,1117.6 L1847.7,1111.2 L1848.7,1104.6 L1849.7,1098.0 L1850.7,1091.3 L1851.7,1084.7 L1852.7,1078.0 L1853.7,1071.3 L1854.7,1064.6 L1855.7,1058.0 L1856.7,1051.4 L1857.7,1044.9 L1858.7,1038.6 L1859.7,1032.4 L1860.7,1026.4 L1861.7,1020.5 L1862.7,1014.9 L1863.7,1009.5 L1864.7,1004.4 L1865.7,999.5 L1866.7,995.0 L1867.7,990.8 L1868.7,986.9 L1869.7,983.5 L1870.7,980.4 L1871.7,977.7 L1872.7,975.6 L1873.7,973.8 L1874.7,972.6 L1875.7,971.8 L1876.7,971.6 L1877.7,972.0 L1878.7,972.8 L1879.7,974.3 L1880.7,976.3 L1881.7,978.9 L1882.7,982.1 L1883.7,986.0 L1884.7,990.4 L1885.7,995.4 L1886.7,1001.1 L1887.7,1007.3 L1888.7,1014.2 L1889.7,1021.7 L1890.7,1029.7 L1891.7,1038.4 L1892.7,1047.6 L1893.7,1057.3 L1894.7,1067.6 L1895.7,1078.4 L1896.7,1089.8 L1897.7,1101.6 L1898.7,1113.8 L1899.7,1126.5 L1900.7,1139.5 L1901.7,1152.9 L1902.7,1166.7 L1903.7,1180.8 L1904.7,1195.1 L1905.7,1209.6 L1906.7,1224.4 L1907.7,1239.3 L1908.7,1254.3 L1909.7,1269.4 L1910.7,1284.6 L1911.7,1298.1 L1912.7,1311.4 L1913.7,1324.7 L1914.7,1337.8 L1915.7,1350.8 L1916.7,1363.7 L1917.7,1376.3 L1918.7,1388.7 L1919.7,1400.9 L1920.7,1412.8 L1921.7,1424.3 L1922.7,1435.6 L1923.7,1446.4 L1924.7,1456.9 L1925.7,1466.9 L1926.7,1476.5 L1927.7,1485.7 L1928.7,1494.4 L1929.7,1502.6 L1930.7,1510.3 L1931.7,1517.5 L1932.7,1524.1 L1933.7,1530.3 L1934.7,1535.9 L1935.7,1541.0 L1936.7,1545.5 L1937.7,1549.5 L1938.7,1553.0 L1939.7,1555.9 L1940.7,1558.3 L1941.7,1560.2 L1942.7,1561.6 L1943.7,1562.5 L1944.7,1562.9 L1945.7,1562.8 L1946.7,1562.2 L1947.7,1561.2 L1948.7,1559.8 L1949.7,1558.0 L1950.7,1555.8 L1951.7,1553.2 L1952.7,1550.3 L1953.7,1547.0 L1954.7,1543.4 L1955.7,1539.5 L1956.7,1535.4 L1957.7,1531.1 L1958.7,1526.5 L1959.7,1521.8 L1960.7,1516.9 L1961.7,1511.8 L1962.7,1506.6 L1963.7,1501.3 L1964.7,1495.9 L1965.7,1490.4 L1966.7,1484.8 L1967.7,1479.3 L1968.7,1473.7 L1969.7,1468.2 L1970.7,1462.6 L1971.7,1457.1 L1972.7,1451.6 L1973.7,1446.2 L1974.7,1440.8 L1975.7,1435.4 L1976.7,1430.2 L1977.7,1425.0 L1978.7,1419.9 L1979.7,1415.0 L1980.7,1410.1 L1981.7,1405.4 L1982.7,1400.7 L1983.7,1396.2 L1984.7,1391.8 L1985.7,1387.6 L1986.7,1383.4 L1987.7,1379.4 L1988.7,1375.6 L1989.7,1371.9 L1990.7,1368.4 L1991.7,1365.0 L1992.7,1361.8 L1993.7,1358.8 L1994.7,1355.9 L1995.7,1353.1 L1996.7,1350.5 L1997.7,1348.0 L1998.7,1345.6 L1999.7,1343.4 L2000.7,1341.3 L2001.7,1339.3 L2002.7,1337.4 L2003.7,1335.6 L2004.7,1333.8 L2005.7,1332.1 L2006.7,1330.5 L2007.7,1328.9 L2008.7,1327.4 L2009.7,1326.0 L2010.7,1324.7 L2011.7,1323.5 L2012.7,1322.3 L2013.7,1321.2 L2014.7,1320.1 L2015.7,1319.2 L2016.7,1318.3 L2017.7,1317.4 L2018.7,1316.6 L2019.7,1315.9 L2020.7,1315.2 L2021.7,1314.6 L2022.7,1314.1 L2023.7,1313.5 L2024.7,1313.1 L2025.7,1312.6 L2026.7,1312.2 L2027.7,1311.9 L2028.7,1311.5 L2029.7,1311.2 L2030.7,1310.9 L2031.7,1310.6 L2032.7,1310.3 L2033.7,1310.1 L2034.7,1309.8 L2035.7,1309.6 L2036.7,1309.4 L2037.7,1309.2 L2038.7,1309.0 L2039.7,1308.9 L2040.7,1308.7 L2041.7,1308.6 L2042.7,1308.5 L2043.7,1308.3 L2044.7,1308.2 L2045.7,1308.1 L2046.7,1308.0 L2047.7,1308.0 L2048.7,1307.9 L2049.7,1307.8 L2050.7,1307.7 L2051.7,1307.7 L2052.7,1307.6 L2053.7,1307.5 L2054.7,1307.5 L2055.7,1307.4 L2056.7,1307.4 L2057.7,1307.3 L2058.7,1307.2 L2059.7,1307.0 L2060.7,1306.9 L2061.7,1306.7 L2062.7,1306.5 L2063.7,1306.3 L2064.7,1306.1 L2065.7,1305.9 L2066.7,1305.6 L2067.7,1305.4 L2068.7,1305.1 L2069.7,1304.8 L2070.7,1304.6 L2071.7,1304.3 L2072.7,1304.0 L2073.7,1303.7 L2074.7,1303.4 L2075.7,1303.2 L2076.7,1302.9 L2077.7,1302.6 L2078.7,1302.3 L2079.7,1302.1 L2080.7,1301.8 L2081.7,1301.5 L2082.7,1301.1 L2083.7,1300.8 L2084.7,1300.5 L2085.7,1300.1 L2086.7,1299.8 L2087.7,1299.4 L2088.7,1299.1 L2089.7,1298.7 L2090.7,1298.4 L2091.7,1298.1 L2092.7,1297.7 L2093.7,1297.3 L2094.7,1297.0 L2095.7,1296.6 L2096.7,1296.2 L2097.7,1295.9 L2098.7,1295.5 L2099.7,1295.2 L2100.7,1294.9 L2101.7,1294.6 L2102.7,1294.4 L2103.7,1294.1 L2104.7,1293.9 L2105.7,1293.7 L2106.7,1293.5 L2107.7,1293.3 L2108.7,1293.1 L2109.7,1292.9 L2110.7,1292.8 L2111.7,1292.6 L2112.7,1292.4 L2113.7,1292.2 L2114.7,1292.1 L2115.7,1291.9 L2116.7,1291.7 L2117.7,1291.5 L2118.7,1291.4 L2119.7,1291.2 L2120.7,1291.1 L2121.7,1290.9 L2122.7,1290.8 L2123.7,1290.6 L2124.7,1290.5 L2125.7,1290.4 L2126.7,1290.3 L2127.7,1290.2 L2128.7,1290.1 L2129.7,1290.0 L2130.7,1289.9 L2131.7,1289.8 L2132.7,1289.7 L2133.7,1289.6 L2134.7,1289.5 L2135.7,1289.4 L2136.7,1289.4 L2137.7,1289.3 L2138.7,1289.2 L2139.7,1289.2 L2140.7,1289.1 L2141.7,1289.1 L2142.7,1289.0 L2143.7,1288.9 L2144.7,1288.9 L2145.7,1288.8 L2146.7,1288.8 L2147.7,1288.7 L2148.7,1288.7 L2149.7,1288.7 L2150.7,1288.6 L2151.7,1288.6 L2152.7,1288.5 L2153.7,1288.5 L2154.7,1288.4 L2155.7,1288.4 L2156.7,1288.4 L2157.7,1288.3 L2158.7,1288.3 L2159.7,1288.3 L2160.7,1288.2 L2161.7,1288.2 L2162.7,1288.2 L2163.7,1288.1 L2164.7,1288.1 L2165.7,1288.1 L2166.7,1288.0 L2167.7,1288.0 L2168.7,1288.0 L2169.7,1287.9 L2170.7,1287.9 L2171.7,1287.9 L2172.7,1287.8 L2173.7,1287.8 L2174.7,1287.8 L2175.7,1287.8 L2176.7,1287.7 L2177.7,1287.7 L2178.7,1287.7 L2179.7,1287.7 L2180.7,1287.6 L2181.7,1287.6 L2182.7,1287.6 L2183.7,1287.6 L2184.7,1287.6 L2185.7,1287.5 L2186.7,1287.5 L2187.7,1287.5 L2188.7,1287.5 L2189.7,1287.5 L2190.7,1287.5 L2191.7,1287.4 L2192.7,1287.4 L2193.7,1287.4 L2194.7,1287.4 L2195.7,1287.4 L2196.7,1287.4 L2197.7,1287.4 L2198.7,1287.3 L2199.7,1287.3 L2200.7,1287.3 L2201.7,1287.3 L2202.7,1287.3 L2203.7,1287.3 L2204.7,1287.3 L2205.7,1287.2 L2206.7,1287.2 L2207.7,1287.2 L2208.7,1287.2 L2209.7,1287.2 L2210.7,1287.2 L2211.7,1287.2 L2212.7,1287.2 L2213.7,1287.2 L2214.7,1287.1 L2215.7,1287.1 L2216.7,1287.1 L2217.7,1287.1 L2218.7,1287.1 L2219.7,1287.1 L2220.7,1287.1 L2221.7,1287.1 L2222.7,1287.1 L2223.7,1287.0 L2224.7,1287.0 L2225.7,1287.0 L2226.7,1287.0 L2227.7,1287.0 L2228.7,1287.0 L2229.7,1287.0 L2230.7,1287.0 L2231.7,1287.0 L2232.7,1287.0 L2233.7,1286.9 L2234.7,1286.9 L2235.7,1286.9 L2236.7,1286.9 L2237.7,1286.9 L2238.7,1286.9 L2239.7,1286.9 L2240.7,1286.9 L2241.7,1286.9 L2242.7,1286.9 L2243.7,1286.9 L2244.7,1286.9 L2245.7,1286.8 L2246.7,1286.8 L2247.7,1286.8 L2248.7,1286.8 L2249.7,1286.8 L2250.7,1286.8 L2251.7,1286.8 L2252.7,1286.8 L2253.7,1286.8 L2254.7,1286.8 L2255.7,1286.8 L2256.7,1286.8 L2257.7,1286.7 L2258.7,1286.7 L2259.7,1286.7 L2260.7,1286.7 L2261.7,1286.7 L2262.7,1286.7 L2263.7,1286.7 L2264.7,1286.7 L2265.7,1286.7 L2266.7,1286.7 L2267.7,1286.7 L2268.7,1286.7 L2269.7,1286.7 L2270.7,1286.6 L2271.7,1286.6 L2272.7,1286.6 L2273.7,1286.6 L2274.7,1286.6 L2275.7,1286.6 L2276.7,1286.6 L2277.7,1286.6 L2278.7,1286.6 L2279.7,1286.6 L2280.7,1286.6 L2281.7,1286.6 L2282.7,1286.6 L2283.7,1286.6 L2284.7,1286.6 L2285.7,1286.5 L2286.7,1286.5 L2287.7,1286.5 L2288.7,1286.5 L2289.7,1286.5 L2290.7,1286.5 L2291.7,1286.5 L2292.7,1286.5 L2293.7,1286.5 L2294.7,1286.5 L2295.7,1286.5 L2296.7,1286.5 L2297.7,1286.5 L2298.7,1286.5 L2299.7,1286.5 L2300.7,1286.5 L2301.7,1286.5 L2302.7,1286.5 L2303.7,1286.4 L2304.7,1286.4 L2305.7,1286.4 L2306.7,1286.4 L2307.7,1286.4 L2308.7,1286.4 L2309.7,1286.4 L2310.7,1286.4 L2311.7,1286.4 L2312.7,1286.4 L2313.7,1286.4 L2314.7,1286.4 L2315.7,1286.4 L2316.7,1286.4 L2317.7,1286.4 L2318.7,1286.4 L2319.7,1286.4 L2320.7,1286.4 L2321.7,1286.4 L2322.7,1286.4 L2323.7,1286.4" stroke="#0000ff"/>
<path d="M170.7,1283.5 L171.7,1283.5 L172.7,1283.5 L173.7,1283.5 L174.7,1283.5 L175.7,1283.4 L176.7,1283.4 L177.7,1283.4 L178.7,1283.3 L179.7,1283.3 L180.7,1283.2 L181.7,1283.2 L182.7,1283.1 L183.7,1283.1 L184.7,1283.0 L185.7,1283.0 L186.7,1282.9 L187.7,1282.8 L188.7,1282.7 L189.7,1282.7 L190.7,1282.6 L191.7,1282.5 L192.7,1282.4 L193.7,1282.3 L194.7,1282.3 L195.7,1282.2 L196.7,1282.1 L197.7,1282.0 L198.7,1281.9 L199.7,1281.8 L200.7,1281.7 L201.7,1281.6 L202.7,1281.5 L203.7,1281.4 L204.7,1281.3 L205.7,1281.2 L206.7,1281.1 L207.7,1281.0 L208.7,1280.8 L209.7,1280.7 L210.7,1280.5 L211.7,1280.4 L212.7,1280.2 L213.7,1280.0 L214.7,1279.9 L215.7,1279.7 L216.7,1279.5 L217.7,1279.3 L218.7,1279.1 L219.7,1279.0 L220.7,1278.8 L221.7,1278.6 L222.7,1278.4 L223.7,1278.3 L224.7,1278.1 L225.7,1277.9 L226.7,1277.7 L227.7,1277.5 L228.7,1277.3 L229.7,1277.1 L230.7,1276.9 L231.7,1276.8 L232.7,1276.6 L233.7,1276.3 L234.7,1276.1 L235.7,1275.9 L236.7,1275.7 L237.7,1275.5 L238.7,1275.3 L239.7,1275.1 L240.7,1274.9 L241.7,1274.7 L242.7,1274.5 L243.7,1274.3 L244.7,1274.1 L245.7,1273.9 L246.7,1273.8 L247.7,1273.6 L248.7,1273.3 L249.7,1273.1 L250.7,1272.9 L251.7,1272.6 L252.7,1272.4 L253.7,1272.1 L254.7,1271.9 L255.7,1271.7 L256.7,1271.4 L257.7,1271.2 L258.7,1271.0 L259.7,1270.8 L260.7,1270.6 L261.7,1270.5 L262.7,1270.3 L263.7,1270.2 L264.7,1270.1 L265.7,1270.0 L266.7,1270.0 L267.7,1270.0 L268.7,1270.0 L269.7,1269.9 L270.7,1269.9 L271.7,1269.9 L272.7,1269.9 L273.7,1269.9 L274.7,1269.9 L275.7,1269.9 L276.7,1269.9 L277.7,1269.9 L278.7,1269.9 L279.7,1269.9 L280.7,1269.9 L281.7,1269.9 L282.7,1269.8 L283.7,1269.8 L284.7,1269.8 L285.7,1269.7 L286.7,1269.7 L287.7,1269.6 L288.7,1269.6 L289.7,1269.5 L290.7,1269.5 L291.7,1269.5 L292.7,1269.6 L293.7,1269.6 L294.7,1269.7 L295.7,1269.8 L296.7,1269.9 L297.7,1269.9 L298.7,1270.0 L299.7,1270.0 L300.7,1269.9 L301.7,1269.8 L302.7,1269.6 L303.7,1269.4 L304.7,1269.1 L305.7,1268.8 L306.7,1268.5 L307.7,1268.1 L308.7,1267.6 L309.7,1267.0 L310.7,1266.2 L311.7,1265.2 L312.7,1264.1 L313.7,1262.8 L314.7,1261.5 L315.7,1260.1 L316.7,1258.5 L317.7,1256.9 L318.7,1255.2 L319.7,1253.3 L320.7,1251.3 L321.7,1249.2 L322.7,1246.9 L323.7,1244.5 L324.7,1242.0 L325.7,1239.3 L326.7,1236.5 L327.7,1233.5 L328.7,1230.3 L329.7,1226.9 L330.7,1223.4 L331.7,1219.7 L332.7,1215.8 L333.7,1211.7 L334.7,1207.4 L335.7,1202.9 L336.7,1198.3 L337.7,1193.5 L338.7,1188.5 L339.7,1183.4 L340.7,1178.1 L341.7,1172.6 L342.7,1166.9 L343.7,1160.9 L344.7,1154.8 L345.7,1148.5 L346.7,1142.0 L347.7,1135.2 L348.7,1128.2 L349.7,1121.1 L350.7,1113.7 L351.7,1106.1 L352.7,1098.4 L353.7,1090.6 L354.7,1082.6 L355.7,1074.5 L356.7,1066.3 L357.7,1058.0 L358.7,1049.6 L359.7,1041.1 L360.7,1032.6 L361.7,1024.0 L362.7,1015.5 L363.7,1006.9 L364.7,998.4 L365.7,989.9 L366.7,981.5 L367.7,973.3 L368.7,965.2 L369.7,957.3 L370.7,949.6 L371.7,942.2 L372.7,935.0 L373.7,928.2 L374.7,921.7 L375.7,915.6 L376.7,909.9 L377.7,904.6 L378.7,899.7 L379.7,895.4 L380.7,891.6 L381.7,888.3 L382.7,885.6 L383.7,883.5 L384.7,882.1 L385.7,881.3 L386.7,881.1 L387.7,881.7 L388.7,883.0 L389.7,885.0 L390.7,887.7 L391.7,891.2 L392.7,895.5 L393.7,900.5 L394.7,906.3 L395.7,912.9 L396.7,920.3 L397.7,928.5 L398.7,937.4 L399.7,947.1 L400.7,957.6 L401.7,968.8 L402.7,980.7 L403.7,993.3 L404.7,1006.7 L405.7,1020.6 L406.7,1035.2 L407.7,1050.4 L408.7,1066.2 L409.7,1082.5 L410.7,1099.3 L411.7,1116.6 L412.7,1134.3 L413.7,1152.3 L414.7,1170.7 L415.7,1189.4 L416.7,1208.3 L417.7,1227.4 L418.7,1246.7 L419.7,1266.0 L420.7,1285.2 L421.7,1302.2 L422.7,1319.1 L423.7,1335.9 L424.7,1352.6 L425.7,1369.1 L426.7,1385.4 L427.7,1401.4 L428.7,1417.1 L429.7,1432.5 L430.7,1447.6 L431.7,1462.2 L432.7,1476.4 L433.7,1490.1 L434.7,1503.3 L435.7,1515.9 L436.7,1528.0 L437.7,1539.6 L438.7,1550.5 L439.7,1560.8 L440.7,1570.5 L441.7,1579.5 L442.7,1587.9 L443.7,1595.5 L444.7,1602.5 L445.7,1608.9 L446.7,1614.5 L447.7,1619.5 L448.7,1623.7 L449.7,1627.3 L450.7,1630.3 L451.7,1632.5 L452.7,1634.1 L453.7,1635.1 L454.7,1635.5 L455.7,1635.3 L456.7,1634.5 L457.7,1633.1 L458.7,1631.2 L459.7,1628.8 L460.7,1625.9 L461.7,1622.5 L462.7,1618.7 L463.7,1614.4 L464.7,1609.8 L465.7,1604.8 L466.7,1599.5 L467.7,1593.9 L468.7,1588.0 L469.7,1582.0 L470.7,1575.7 L471.7,1569.2 L472.7,1562.6 L473.7,1555.8 L474.7,1548.9 L475.7,1541.9 L476.7,1534.8 L477.7,1527.8 L478.7,1520.7 L479.7,1513.6 L480.7,1506.6 L481.7,1499.6 L482.7,1492.6 L483.7,1485.7 L484.7,1478.9 L485.7,1472.1 L486.7,1465.4 L487.7,1458.9 L488.7,1452.5 L489.7,1446.2 L490.7,1440.0 L491.7,1434.0 L492.7,1428.1 L493.7,1422.4 L494.7,1416.9 L495.7,1411.5 L496.7,1406.3 L497.7,1401.3 L498.7,1396.5 L499.7,1391.8 L500.7,1387.3 L501.7,1382.9 L502.7,1378.8 L503.7,1374.8 L504.7,1371.0 L505.7,1367.3 L506.7,1363.8 L507.7,1360.5 L508.7,1357.3 L509.7,1354.3 L510.7,1351.4 L511.7,1348.6 L512.7,1346.0 L513.7,1343.6 L514.7,1341.2 L515.7,1339.0 L516.7,1336.9 L517.7,1334.9 L518.7,1333.1 L519.7,1331.3 L520.7,1329.7 L521.7,1328.1 L522.7,1326.6 L523.7,1325.2 L524.7,1323.9 L525.7,1322.7 L526.7,1321.6 L527.7,1320.5 L528.7,1319.6 L529.7,1318.6 L530.7,1317.8 L531.7,1317.0 L532.7,1316.3 L533.7,1315.7 L534.7,1315.1 L535.7,1314.5 L536.7,1314.0 L537.7,1313.6 L538.7,1313.1 L539.7,1312.7 L540.7,1312.3 L541.7,1312.0 L542.7,1311.6 L543.7,1311.3 L544.7,1311.0 L545.7,1310.7 L546.7,1310.5 L547.7,1310.2 L548.7,1310.0 L549.7,1309.8 L550.7,1309.6 L551.7,1309.5 L552.7,1309.3 L553.7,1309.2 L554.7,1309.0 L555.7,1308.9 L556.7,1308.8 L557.7,1308.7 L558.7,1308.6 L559.7,1308.5 L560.7,1308.4 L561.7,1308.3 L562.7,1308.2 L563.7,1308.1 L564.7,1308.1 L565.7,1308.0 L566.7,1307.9 L567.7,1307.8 L568.7,1307.6 L569.7,1307.5 L570.7,1307.2 L571.7,1307.0 L572.7,1306.8 L573.7,1306.5 L574.7,1306.2 L575.7,1305.9 L576.7,1305.5 L577.7,1305.2 L578.7,1304.9 L579.7,1304.5 L580.7,1304.2 L581.7,1303.8 L582.7,1303.5 L583.7,1303.1 L584.7,1302.8 L585.7,1302.4 L586.7,1302.1 L587.7,1301.8 L588.7,1301.5 L589.7,1301.2 L590.7,1300.9 L591.7,1300.6 L592.7,1300.3 L593.7,1300.0 L594.7,1299.7 L595.7,1299.3 L596.7,1299.0 L597.7,1298.7 L598.7,1298.4 L599.7,1298.1 L600.7,1297.8 L601.7,1297.5 L602.7,1297.1 L603.7,1296.8 L604.7,1296.5 L605.7,1296.1 L606.7,1295.8 L607.7,1295.5 L608.7,1295.2 L609.7,1294.9 L610.7,1294.6 L611.7,1294.3 L612.7,1294.0 L613.7,1293.7 L614.7,1293.4 L615.7,1293.1 L616.7,1292.9 L617.7,1292.6 L618.7,1292.3 L619.7,1292.1 L620.7,1291.9 L621.7,1291.7 L622.7,1291.5 L623.7,1291.3 L624.7,1291.1 L625.7,1291.0 L626.7,1290.8 L627.7,1290.7 L628.7,1290.6 L629.7,1290.4 L630.7,1290.3 L631.7,1290.2 L632.7,1290.1 L633.7,1290.0 L634.7,1289.9 L635.7,1289.8 L636.7,1289.7 L637.7,1289.6 L638.7,1289.6 L639.7,1289.5 L640.7,1289.4 L641.7,1289.4 L642.7,1289.3 L643.7,1289.2 L644.7,1289.2 L645.7,1289.1 L646.7,1289.1 L647.7,1289.0 L648.7,1289.0 L649.7,1288.9 L650.7,1288.9 L651.7,1288.9 L652.7,1288.8 L653.7,1288.8 L654.7,1288.7 L655.7,1288.7 L656.7,1288.7 L657.7,1288.6 L658.7,1288.6 L659.7,1288.6 L660.7,1288.6 L661.7,1288.5 L662.7,1288.5 L663.7,1288.5 L664.7,1288.4 L665.7,1288.4 L666.7,1288.4 L667.7,1288.4 L668.7,1288.3 L669.7,1288.3 L670.7,1288.3 L671.7,1288.3 L672.7,1288.2 L673.7,1288.2 L674.7,1288.2 L675.7,1288.2 L676.7,1288.1 L677.7,1288.1 L678.7,1288.1 L679.7,1288.0 L680.7,1288.0 L681.7,1288.0 L682.7,1287.9 L683.7,1287.9 L684.7,1287.9 L685.7,1287.8 L686.7,1287.8 L687.7,1287.7 L688.7,1287.7 L689.7,1287.7 L690.7,1287.6 L691.7,1287.6 L692.7,1287.5 L693.7,1287.5 L694.7,1287.5 L695.7,1287.4 L696.7,1287.4 L697.7,1287.3 L698.7,1287.3 L699.7,1287.2 L700.7,1287.2 L701.7,1287.2 L702.7,1287.1 L703.7,1287.1 L704.7,1287.0 L705.7,1287.0 L706.7,1287.0 L707.7,1286.9 L708.7,1286.9 L709.7,1286.9 L710.7,1286.8 L711.7,1286.8 L712.7,1286.8 L713.7,1286.7 L714.7,1286.7 L715.7,1286.7 L716.7,1286.6 L717.7,1286.6 L718.7,1286.6 L719.7,1286.6 L720.7,1286.5 L721.7,1286.5 L722.7,1286.5 L723.7,1286.4 L724.7,1286.4 L725.7,1286.4 L726.7,1286.4 L727.7,1286.3 L728.7,1286.3 L729.7,1286.3 L730.7,1286.3 L731.7,1286.2 L732.7,1286.2 L733.7,1286.2 L734.7,1286.2 L735.7,1286.1 L736.7,1286.1 L737.7,1286.1 L738.7,1286.1 L739.7,1286.0 L740.7,1286.0 L741.7,1286.0 L742.7,1286.0 L743.7,1285.9 L744.7,1285.9 L745.7,1285.9 L746.7,1285.9 L747.7,1285.9 L748.7,1285.8 L749.7,1285.8 L750.7,1285.8 L751.7,1285.8 L752.7,1285.7 L753.7,1285.7 L754.7,1285.7 L755.7,1285.7 L756.7,1285.7 L757.7,1285.7 L758.7,1285.6 L759.7,1285.6 L760.7,1285.6 L761.7,1285.6 L762.7,1285.6 L763.7,1285.5 L764.7,1285.5 L765.7,1285.5 L766.7,1285.5 L767.7,1285.5 L768.7,1285.5 L769.7,1285.4 L770.7,1285.4 L771.7,1285.4 L772.7,1285.4 L773.7,1285.4 L774.7,1285.4 L775.7,1285.3 L776.7,1285.3 L777.7,1285.3 L778.7,1285.3 L779.7,1285.3 L780.7,1285.3 L781.7,1285.2 L782.7,1285.2 L783.7,1285.2 L784.7,1285.2 L785.7,1285.2 L786.7,1285.2 L787.7,1285.1 L788.7,1285.1 L789.7,1285.1 L790.7,1285.1 L791.7,1285.1 L792.7,1285.1 L793.7,1285.1 L794.7,1285.0 L795.7,1285.0 L796.7,1285.0 L797.7,1285.0 L798.7,1285.0 L799.7,1285.0 L800.7,1285.0 L801.7,1284.9 L802.7,1284.9 L803.7,1284.9 L804.7,1284.9 L805.7,1284.9 L806.7,1284.9 L807.7,1284.9 L808.7,1284.9 L809.7,1284.8 L810.7,1284.8 L811.7,1284.8 L812.7,1284.8 L813.7,1284.8 L814.7,1284.8 L815.7,1284.8 L816.7,1284.8 L817.7,1284.7 L818.7,1284.7 L819.7,1284.7 L820.7,1284.7 L821.7,1284.7 L822.7,1284.7 L823.7,1284.7 L824.7,1284.7 L825.7,1284.6 L826.7,1284.6 L827.7,1284.6 L828.7,1284.6 L829.7,1284.6 L830.7,1284.6 L831.7,1284.6 L832.7,1284.6 L833.7,1284.6 L834.7,1284.6 L835.7,1284.5 L836.7,1284.5 L837.7,1284.5 L838.7,1284.5 L839.7,1284.5 L840.7,1284.5 L841.7,1284.5 L842.7,1284.5 L843.7,1284.5 L844.7,1284.5 L845.7,1284.5 L846.7,1284.4 L847.7,1284.4 L848.7,1284.4 L849.7,1284.4 L850.7,1284.4 L851.7,1284.4 L852.7,1284.4 L853.7,1284.4 L854.7,1284.4 L855.7,1284.4 L856.7,1284.4 L857.7,1284.4 L858.7,1284.4 L859.7,1284.3 L860.7,1284.3 L861.7,1284.3 L862.7,1284.3 L863.7,1284.3 L864.7,1284.3 L865.7,1284.3 L866.7,1284.3 L867.7,1284.3 L868.7,1284.3 L869.7,1284.3 L870.7,1284.3 L871.7,1284.3 L872.7,1284.3 L873.7,1284.3 L874.7,1284.3 L875.7,1284.2 L876.7,1284.2 L877.7,1284.2 L878.7,1284.2 L879.7,1284.2 L880.7,1284.2 L881.7,1284.2 L882.7,1284.2 L883.7,1284.2 L884.7,1284.2 L885.7,1284.2 L886.7,1284.2 L887.7,1284.2 L888.7,1284.2 L889.7,1284.2 L890.7,1284.2 L891.7,1284.2 L892.7,1284.1 L893.7,1284.1 L894.7,1284.1 L895.7,1284.1 L896.7,1284.1 L897.7,1284.1 L898.7,1284.1 L899.7,1284.1 L900.7,1284.1 L901.7,1284.1 L902.7,1284.1 L903.7,1284.1 L904.7,1284.1 L905.7,1284.1 L906.7,1284.1 L907.7,1284.1 L908.7,1284.1 L909.7,1284.0 L910.7,1284.0 L911.7,1284.0 L912.7,1284.0 L913.7,1284.0 L914.7,1284.0 L915.7,1284.0 L916.7,1284.0 L917.7,1284.0 L918.7,1283.9 L919.7,1283.9 L920.7,1283.9 L921.7,1283.8 L922.7,1283.8 L923.7,1283.7 L924.7,1283.7 L925.7,1283.6 L926.7,1283.5 L927.7,1283.5 L928.7,1283.4 L929.7,1283.3 L930.7,1283.3 L931.7,1283.2 L932.7,1283.1 L933.7,1283.0 L934.7,1282.9 L935.7,1282.8 L936.7,1282.8 L937.7,1282.7 L938.7,1282.6 L939.7,1282.5 L940.7,1282.4 L941.7,1282.3 L942.7,1282.2 L943.7,1282.1 L944.7,1282.0 L945.7,1281.9 L946.7,1281.8 L947.7,1281.7 L948.7,1281.6 L949.7,1281.5 L950.7,1281.3 L951.7,1281.2 L952.7,1281.0 L953.7,1280.9 L954.7,1280.7 L955.7,1280.5 L956.7,1280.4 L957.7,1280.2 L958.7,1280.0 L959.7,1279.8 L960.7,1279.6 L961.7,1279.5 L962.7,1279.3 L963.7,1279.1 L964.7,1278.9 L965.7,1278.7 L966.7,1278.5 L967.7,1278.4 L968.7,1278.2 L969.7,1278.0 L970.7,1277.8 L971.7,1277.6 L972.7,1277.4 L973.7,1277.2 L974.7,1277.0 L975.7,1276.8 L976.7,1276.6 L977.7,1276.4 L978.7,1276.2 L979.7,1276.0 L980.7,1275.6 L981.7,1275.4 L982.7,1275.2 L983.7,1275.0 L984.7,1274.8 L985.7,1274.6 L986.7,1274.4 L987.7,1274.2 L988.7,1274.0 L989.7,1273.8 L990.7,1273.6 L991.7,1273.4 L992.7,1273.2 L993.7,1272.9 L994.7,1272.7 L995.7,1272.5 L996.7,1272.2 L997.7,1272.0 L998.7,1271.7 L999.7,1271.5 L1000.7,1271.3 L1001.7,1271.1 L1002.7,1270.9 L1003.7,1270.7 L1004.7,1270.5 L1005.7,1270.4 L1006.7,1270.3 L1007.7,1270.2 L1008.7,1270.1 L1009.7,1270.0 L1010.7,1270.0 L1011.7,1270.0 L1012.7,1270.0 L1013.7,1270.0 L1014.7,1270.0 L1015.7,1270.0 L1016.7,1270.0 L1017.7,1270.0 L1018.7,1270.0 L1019.7,1270.0 L1020.7,1270.0 L1021.7,1270.0 L1022.7,1269.9 L1023.7,1269.9 L1024.7,1269.9 L1025.7,1269.9 L1026.7,1269.9 L1027.7,1269.8 L1028.7,1269.8 L1029.7,1269.8 L1030.7,1269.7 L1031.7,1269.6 L1032.7,1269.6 L1033.7,1269.5 L1034.7,1269.6 L1035.7,1269.6 L1036.7,1269.7 L1037.7,1269.8 L1038.7,1269.8 L1039.7,1269.9 L1040.7,1270.0 L1041.7,1270.0 L1042.7,1270.0 L1043.7,1270.0 L1044.7,1269.9 L1045.7,1269.7 L1046.7,1269.4 L1047.7,1269.2 L1048.7,1268.9 L1049.7,1268.6 L1050.7,1268.2 L1051.7,1267.7 L1052.7,1267.1 L1053.7,1266.3 L1054.7,1265.4 L1055.7,1264.3 L1056.7,1263.0 L1057.7,1261.7 L1058.7,1260.3 L1059.7,1258.8 L1060.7,1257.2 L1061.7,1255.4 L1062.7,1253.6 L1063.7,1251.6 L1064.7,1249.5 L1065.7,1247.3 L1066.7,1244.9 L1067.7,1242.4 L1068.7,1239.8 L1069.7,1237.0 L1070.7,1234.0 L1071.7,1230.8 L1072.7,1227.5 L1073.7,1224.0 L1074.7,1220.3 L1075.7,1216.5 L1076.7,1212.4 L1077.7,1208.1 L1078.7,1203.7 L1079.7,1199.1 L1080.7,1194.3 L1081.7,1189.4 L1082.7,1184.3 L1083.7,1179.0 L1084.7,1173.6 L1085.7,1167.9 L1086.7,1162.0 L1087.7,1156.0 L1088.7,1149.7 L1089.7,1143.2 L1090.7,1136.5 L1091.7,1129.6 L1092.7,1122.4 L1093.7,1115.1 L1094.7,1107.6 L1095.7,1099.9 L1096.7,1092.1 L1097.7,1084.2 L1098.7,1076.2 L1099.7,1068.0 L1100.7,1059.7 L1101.7,1051.3 L1102.7,1042.9 L1103.7,1034.4 L1104.7,1025.9 L1105.7,1017.4 L1106.7,1008.9 L1107.7,1000.3 L1108.7,991.9 L1109.7,983.5 L1110.7,975.3 L1111.7,967.2 L1112.7,959.4 L1113.7,951.7 L1114.7,944.3 L1115.7,937.1 L1116.7,930.3 L1117.7,923.8 L1118.7,917.6 L1119.7,911.9 L1120.7,906.6 L1121.7,901.7 L1122.7,897.4 L1123.7,893.5 L1124.7,890.2 L1125.7,887.5 L1126.7,885.3 L1127.7,883.8 L1128.7,882.9 L1129.7,882.7 L1130.7,883.2 L1131.7,884.4 L1132.7,886.3 L1133.7,889.0 L1134.7,892.4 L1135.7,896.6 L1136.7,901.5 L1137.7,907.2 L1138.7,913.7 L1139.7,921.0 L1140.7,929.0 L1141.7,937.9 L1142.7,947.5 L1143.7,957.8 L1144.7,968.9 L1145.7,980.7 L1146.7,993.2 L1147.7,1006.4 L1148.7,1020.3 L1149.7,1034.7 L1150.7,1049.8 L1151.7,1065.5 L1152.7,1081.7 L1153.7,1098.4 L1154.7,1115.5 L1155.7,1133.1 L1156.7,1151.1 L1157.7,1169.3 L1158.7,1187.9 L1159.7,1206.7 L1160.7,1225.8 L1161.7,1244.9 L1162.7,1264.2 L1163.7,1283.5 L1164.7,1300.5 L1165.7,1317.4 L1166.7,1334.2 L1167.7,1350.9 L1168.7,1367.4 L1169.7,1383.8 L1170.7,1399.8 L1171.7,1415.6 L1172.7,1431.0 L1173.7,1446.1 L1174.7,1460.8 L1175.7,1475.0 L1176.7,1488.7 L1177.7,1502.0 L1178.7,1514.7 L1179.7,1526.9 L1180.7,1538.5 L1181.7,1549.4 L1182.7,1559.8 L1183.7,1569.5 L1184.7,1578.6 L1185.7,1587.1 L1186.7,1594.8 L1187.7,1601.9 L1188.7,1608.3 L1189.7,1614.0 L1190.7,1619.0 L1191.7,1623.3 L1192.7,1627.0 L1193.7,1630.0 L1194.7,1632.3 L1195.7,1634.0 L1196.7,1635.1 L1197.7,1635.5 L1198.7,1635.3 L1199.7,1634.6 L1200.7,1633.3 L1201.7,1631.4 L1202.7,1629.0 L1203.7,1626.2 L1204.7,1622.9 L1205.7,1619.1 L1206.7,1614.9 L1207.7,1610.3 L1208.7,1605.3 L1209.7,1600.0 L1210.7,1594.5 L1211.7,1588.6 L1212.7,1582.6 L1213.7,1576.3 L1214.7,1569.9 L1215.7,1563.3 L1216.7,1556.5 L1217.7,1549.6 L1218.7,1542.6 L1219.7,1535.5 L1220.7,1528.5 L1221.7,1521.4 L1222.7,1514.3 L1223.7,1507.3 L1224.7,1500.3 L1225.7,1493.3 L1226.7,1486.4 L1227.7,1479.5 L1228.7,1472.8 L1229.7,1466.1 L1230.7,1459.5 L1231.7,1453.1 L1232.7,1446.8 L1233.7,1440.6 L1234.7,1434.6 L1235.7,1428.7 L1236.7,1423.0 L1237.7,1417.4 L1238.7,1412.1 L1239.7,1406.9 L1240.7,1401.8 L1241.7,1396.9 L1242.7,1392.3 L1243.7,1387.7 L1244.7,1383.4 L1245.7,1379.2 L1246.7,1375.2 L1247.7,1371.3 L1248.7,1367.7 L1249.7,1364.2 L1250.7,1360.8 L1251.7,1357.6 L1252.7,1354.6 L1253.7,1351.7 L1254.7,1348.9 L1255.7,1346.3 L1256.7,1343.8 L1257.7,1341.5 L1258.7,1339.2 L1259.7,1337.1 L1260.7,1335.1 L1261.7,1333.2 L1262.7,1331.5 L1263.7,1329.8 L1264.7,1328.2 L1265.7,1326.8 L1266.7,1325.4 L1267.7,1324.1 L1268.7,1322.8 L1269.7,1321.7 L1270.7,1320.6 L1271.7,1319.7 L1272.7,1318.7 L1273.7,1317.9 L1274.7,1317.1 L1275.7,1316.4 L1276.7,1315.7 L1277.7,1315.1 L1278.7,1314.6 L1279.7,1314.1 L1280.7,1313.6 L1281.7,1313.2 L1282.7,1312.8 L1283.7,1312.4 L1284.7,1312.0 L1285.7,1311.7 L1286.7,1311.3 L1287.7,1311.0 L1288.7,1310.8 L1289.7,1310.5 L1290.7,1310.3 L1291.7,1310.0 L1292.7,1309.8 L1293.7,1309.7 L1294.7,1309.5 L1295.7,1309.3 L1296.7,1309.2 L1297.7,1309.0 L1298.7,1308.9 L1299.7,1308.8 L1300.7,1308.7 L1301.7,1308.6 L1302.7,1308.5 L1303.7,1308.4 L1304.7,1308.3 L1305.7,1308.2 L1306.7,1308.2 L1307.7,1308.1 L1308.7,1308.0 L1309.7,1307.9 L1310.7,1307.8 L1311.7,1307.7 L1312.7,1307.5 L1313.7,1307.3 L1314.7,1307.0 L1315.7,1306.8 L1316.7,1306.5 L1317.7,1306.2 L1318.7,1305.9 L1319.7,1305.6 L1320.7,1305.2 L1321.7,1304.9 L1322.7,1304.6 L1323.7,1304.2 L1324.7,1303.8 L1325.7,1303.5 L1326.7,1303.1 L1327.7,1302.8 L1328.7,1302.5 L1329.7,1302.1 L1330.7,1301.8 L1331.7,1301.5 L1332.7,1301.2 L1333.7,1300.9 L1334.7,1300.6 L1335.7,1300.3 L1336.7,1300.0 L1337.7,1299.7 L1338.7,1299.4 L1339.7,1299.1 L1340.7,1298.7 L1341.7,1298.4 L1342.7,1298.1 L1343.7,1297.8 L1344.7,1297.5 L1345.7,1297.2 L1346.7,1296.8 L1347.7,1296.5 L1348.7,1296.2 L1349.7,1295.8 L1350.7,1295.5 L1351.7,1295.2 L1352.7,1294.9 L1353.7,1294.6 L1354.7,1294.3 L1355.7,1294.0 L1356.7,1293.7 L1357.7,1293.4 L1358.7,1293.2 L1359.7,1292.9 L1360.7,1292.6 L1361.7,1292.4 L1362.7,1292.1 L1363.7,1291.9 L1364.7,1291.7 L1365.7,1291.5 L1366.7,1291.3 L1367.7,1291.2 L1368.7,1291.0 L1369.7,1290.8 L1370.7,1290.7 L1371.7,1290.6 L1372.7,1290.4 L1373.7,1290.3 L1374.7,1290.2 L1375.7,1290.1 L1376.7,1290.0 L1377.7,1289.9 L1378.7,1289.8 L1379.7,1289.7 L1380.7,1289.7 L1381.7,1289.6 L1382.7,1289.5 L1383.7,1289.4 L1384.7,1289.4 L1385.7,1289.3 L1386.7,1289.3 L1387.7,1289.2 L1388.7,1289.1 L1389.7,1289.1 L1390.7,1289.0 L1391.7,1289.0 L1392.7,1288.9 L1393.7,1288.9 L1394.7,1288.9 L1395.7,1288.8 L1396.7,1288.8 L1397.7,1288.7 L1398.7,1288.7 L1399.7,1288.7 L1400.7,1288.6 L1401.7,1288.6 L1402.7,1288.6 L1403.7,1288.6 L1404.7,1288.5 L1405.7,1288.5 L1406.7,1288.5 L1407.7,1288.4 L1408.7,1288.4 L1409.7,1288.4 L1410.7,1288.4 L1411.7,1288.3 L1412.7,1288.3 L1413.7,1288.3 L1414.7,1288.3 L1415.7,1288.2 L1416.7,1288.2 L1417.7,1288.2 L1418.7,1288.2 L1419.7,1288.1 L1420.7,1288.1 L1421.7,1288.1 L1422.7,1288.0 L1423.7,1288.0 L1424.7,1288.0 L1425.7,1287.9 L1426.7,1287.9 L1427.7,1287.9 L1428.7,1287.8 L1429.7,1287.8 L1430.7,1287.7 L1431.7,1287.7 L1432.7,1287.7 L1433.7,1287.6 L1434.7,1287.6 L1435.7,1287.5 L1436.7,1287.5 L1437.7,1287.5 L1438.7,1287.4 L1439.7,1287.4 L1440.7,1287.3 L1441.7,1287.3 L1442.7,1287.3 L1443.7,1287.2 L1444.7,1287.2 L1445.7,1287.1 L1446.7,1287.1 L1447.7,1287.0 L1448.7,1287.0 L1449.7,1287.0 L1450.7,1286.9 L1451.7,1286.9 L1452.7,1286.9 L1453.7,1286.8 L1454.7,1286.8 L1455.7,1286.8 L1456.7,1286.7 L1457.7,1286.7 L1458.7,1286.7 L1459.7,1286.6 L1460.7,1286.6 L1461.7,1286.6 L1462.7,1286.6 L1463.7,1286.5 L1464.7,1286.5 L1465.7,1286.5 L1466.7,1286.4 L1467.7,1286.4 L1468.7,1286.4 L1469.7,1286.4 L1470.7,1286.3 L1471.7,1286.3 L1472.7,1286.3 L1473.7,1286.3 L1474.7,1286.2 L1475.7,1286.2 L1476.7,1286.2 L1477.7,1286.2 L1478.7,1286.1 L1479.7,1286.1 L1480.7,1286.1 L1481.7,1286.1 L1482.7,1286.0 L1483.7,1286.0 L1484.7,1286.0 L1485.7,1286.0 L1486.7,1285.9 L1487.7,1285.9 L1488.7,1285.9 L1489.7,1285.9 L1490.7,1285.9 L1491.7,1285.8 L1492.7,1285.8 L1493.7,1285.8 L1494.7,1285.8 L1495.7,1285.8 L1496.7,1285.7 L1497.7,1285.7 L1498.7,1285.7 L1499.7,1285.7 L1500.7,1285.7 L1501.7,1285.6 L1502.7,1285.6 L1503.7,1285.6 L1504.7,1285.6 L1505.7,1285.6 L1506.7,1285.5 L1507.7,1285.5 L1508.7,1285.5 L1509.7,1285.5 L1510.7,1285.5 L1511.7,1285.5 L1512.7,1285.4 L1513.7,1285.4 L1514.7,1285.4 L1515.7,1285.4 L1516.7,1285.4 L1517.7,1285.4 L1518.7,1285.3 L1519.7,1285.3 L1520.7,1285.3 L1521.7,1285.3 L1522.7,1285.3 L1523.7,1285.3 L1524.7,1285.2 L1525.7,1285.2 L1526.7,1285.2 L1527.7,1285.2 L1528.7,1285.2 L1529.7,1285.2 L1530.7,1285.1 L1531.7,1285.1 L1532.7,1285.1 L1533.7,1285.1 L1534.7,1285.1 L1535.7,1285.1 L1536.7,1285.1 L1537.7,1285.0 L1538.7,1285.0 L1539.7,1285.0 L1540.7,1285.0 L1541.7,1285.0 L1542.7,1285.0 L1543.7,1285.0 L1544.7,1284.9 L1545.7,1284.9 L1546.7,1284.9 L1547.7,1284.9 L1548.7,1284.9 L1549.7,1284.9 L1550.7,1284.9 L1551.7,1284.9 L1552.7,1284.8 L1553.7,1284.8 L1554.7,1284.8 L1555.7,1284.8 L1556.7,1284.8 L1557.7,1284.8 L1558.7,1284.8 L1559.7,1284.8 L1560.7,1284.7 L1561.7,1284.7 L1562.7,1284.7 L1563.7,1284.7 L1564.7,1284.7 L1565.7,1284.7 L1566.7,1284.7 L1567.7,1284.7 L1568.7,1284.6 L1569.7,1284.6 L1570.7,1284.6 L1571.7,1284.6 L1572.7,1284.6 L1573.7,1284.6 L1574.7,1284.6 L1575.7,1284.6 L1576.7,1284.6 L1577.7,1284.6 L1578.7,1284.5 L1579.7,1284.5 L1580.7,1284.5 L1581.7,1284.5 L1582.7,1284.5 L1583.7,1284.5 L1584.7,1284.5 L1585.7,1284.5 L1586.7,1284.5 L1587.7,1284.5 L1588.7,1284.5 L1589.7,1284.4 L1590.7,1284.4 L1591.7,1284.4 L1592.7,1284.4 L1593.7,1284.4 L1594.7,1284.4 L1595.7,1284.4 L1596.7,1284.4 L1597.7,1284.4 L1598.7,1284.4 L1599.7,1284.4 L1600.7,1284.4 L1601.7,1284.4 L1602.7,1284.4 L1603.7,1284.3 L1604.7,1284.3 L1605.7,1284.3 L1606.7,1284.3 L1607.7,1284.3 L1608.7,1284.3 L1609.7,1284.3 L1610.7,1284.3 L1611.7,1284.3 L1612.7,1284.3 L1613.7,1284.3 L1614.7,1284.3 L1615.7,1284.3 L1616.7,1284.3 L1617.7,1284.3 L1618.7,1284.2 L1619.7,1284.2 L1620.7,1284.2 L1621.7,1284.2 L1622.7,1284.2 L1623.7,1284.2 L1624.7,1284.2 L1625.7,1284.2 L1626.7,1284.2 L1627.7,1284.2 L1628.7,1284.2 L1629.7,1284.2 L1630.7,1284.2 L1631.7,1284.2 L1632.7,1284.2 L1633.7,1284.2 L1634.7,1284.2 L1635.7,1284.1 L1636.7,1284.1 L1637.7,1284.1 L1638.7,1284.1 L1639.7,1284.1 L1640.7,1284.1 L1641.7,1284.1 L1642.7,1284.1 L1643.7,1284.1 L1644.7,1284.1 L1645.7,1284.1 L1646.7,1284.1 L1647.7,1284.1 L1648.7,1284.1 L1649.7,1284.1 L1650.7,1284.1 L1651.7,1284.1 L1652.7,1284.0 L1653.7,1284.0 L1654.7,1284.0 L1655.7,1284.0 L1656.7,1284.0 L1657.7,1284.0 L1658.7,1284.0 L1659.7,1284.0 L1660.7,1284.0 L1661.7,1284.0 L1662.7,1284.0 L1663.7,1284.0 L1664.7,1283.9 L1665.7,1283.9 L1666.7,1283.9 L1667.7,1283.9 L1668.7,1283.8 L1669.7,1283.8 L1670.7,1283.7 L1671.7,1283.7 L1672.7,1283.6 L1673.7,1283.5 L1674.7,1283.5 L1675.7,1283.4 L1676.7,1283.3 L1677.7,1283.3 L1678.7,1283.2 L1679.7,1283.1 L1680.7,1283.0 L1681.7,1282.9 L1682.7,1282.9 L1683.7,1282.8 L1684.7,1282.7 L1685.7,1282.6 L1686.7,1282.5 L1687.7,1282.4 L1688.7,1282.3 L1689.7,1282.2 L1690.7,1282.1 L1691.7,1282.0 L1692.7,1281.9 L1693.7,1281.8 L1694.7,1281.7 L1695.7,1281.6 L1696.7,1281.5 L1697.7,1281.4 L1698.7,1281.2 L1699.7,1281.1 L1700.7,1280.9 L1701.7,1280.8 L1702.7,1280.6 L1703.7,1280.4 L1704.7,1280.3 L1705.7,1280.1 L1706.7,1279.9 L1707.7,1279.7 L1708.7,1279.6 L1709.7,1279.4 L1710.7,1279.2 L1711.7,1279.0 L1712.7,1278.9 L1713.7,1278.7 L1714.7,1278.5 L1715.7,1278.3 L1716.7,1278.1 L1717.7,1278.0 L1718.7,1277.8 L1719.7,1277.6 L1720.7,1277.4 L1721.7,1277.2 L1722.7,1277.0 L1723.7,1276.8 L1724.7,1276.4 L1725.7,1276.2 L1726.7,1276.0 L1727.7,1275.8 L1728.7,1275.6 L1729.7,1275.4 L1730.7,1275.2 L1731.7,1275.0 L1732.7,1274.8 L1733.7,1274.6 L1734.7,1274.4 L1735.7,1274.3 L1736.7,1274.1 L1737.7,1273.9 L1738.7,1273.7 L1739.7,1273.4 L1740.7,1273.2 L1741.7,1273.0 L1742.7,1272.7 L1743.7,1272.5 L1744.7,1272.3 L1745.7,1272.0 L1746.7,1271.8 L1747.7,1271.6 L1748.7,1271.4 L1749.7,1271.2 L1750.7,1271.0 L1751.7,1270.8 L1752.7,1270.7 L1753.7,1270.6 L1754.7,1270.5 L1755.7,1270.4 L1756.7,1270.4 L1757.7,1270.3 L1758.7,1270.3 L1759.7,1270.3 L1760.7,1270.3 L1761.7,1270.3 L1762.7,1270.3 L1763.7,1270.3 L1764.7,1270.3 L1765.7,1270.3 L1766.7,1270.3 L1767.7,1270.3 L1768.7,1270.3 L1769.7,1270.3 L1770.7,1270.3 L1771.7,1270.2 L1772.7,1270.2 L1773.7,1270.2 L1774.7,1270.2 L1775.7,1270.1 L1776.7,1270.1 L1777.7,1270.0 L1778.7,1270.0 L1779.7,1269.9 L1780.7,1269.9 L1781.7,1269.9 L1782.7,1269.9 L1783.7,1270.0 L1784.7,1270.1 L1785.7,1270.2 L1786.7,1270.2 L1787.7,1270.3 L1788.7,1270.3 L1789.7,1270.3 L1790.7,1270.3 L1791.7,1270.2 L1792.7,1270.0 L1793.7,1269.8 L1794.7,1269.6 L1795.7,1269.3 L1796.7,1269.0 L1797.7,1268.6 L1798.7,1268.2 L1799.7,1267.6 L1800.7,1266.8 L1801.7,1265.9 L1802.7,1264.8 L1803.7,1263.7 L1804.7,1262.4 L1805.7,1261.0 L1806.7,1259.5 L1807.7,1258.0 L1808.7,1256.3 L1809.7,1254.5 L1810.7,1252.6 L1811.7,1250.6 L1812.7,1248.4 L1813.7,1246.1 L1814.7,1243.7 L1815.7,1241.1 L1816.7,1238.4 L1817.7,1235.5 L1818.7,1232.4 L1819.7,1229.2 L1820.7,1225.8 L1821.7,1222.2 L1822.7,1218.5 L1823.7,1214.5 L1824.7,1210.4 L1825.7,1206.1 L1826.7,1201.6 L1827.7,1197.0 L1828.7,1192.2 L1829.7,1187.2 L1830.7,1182.1 L1831.7,1176.8 L1832.7,1171.2 L1833.7,1165.5 L1834.7,1159.6 L1835.7,1153.5 L1836.7,1147.2 L1837.7,1140.7 L1838.7,1134.0 L1839.7,1127.0 L1840.7,1119.9 L1841.7,1112.6 L1842.7,1105.1 L1843.7,1097.5 L1844.7,1089.8 L1845.7,1081.9 L1846.7,1074.0 L1847.7,1065.9 L1848.7,1057.8 L1849.7,1049.5 L1850.7,1041.3 L1851.7,1033.0 L1852.7,1024.6 L1853.7,1016.3 L1854.7,1008.0 L1855.7,999.7 L1856.7,991.6 L1857.7,983.5 L1858.7,975.6 L1859.7,967.9 L1860.7,960.4 L1861.7,953.2 L1862.7,946.2 L1863.7,939.5 L1864.7,933.1 L1865.7,927.0 L1866.7,921.4 L1867.7,916.2 L1868.7,911.4 L1869.7,907.1 L1870.7,903.3 L1871.7,900.0 L1872.7,897.2 L1873.7,895.1 L1874.7,893.6 L1875.7,892.6 L1876.7,892.4 L1877.7,892.8 L1878.7,893.9 L1879.7,895.7 L1880.7,898.2 L1881.7,901.4 L1882.7,905.4 L1883.7,910.2 L1884.7,915.7 L1885.7,922.0 L1886.7,929.0 L1887.7,936.8 L1888.7,945.3 L1889.7,954.6 L1890.7,964.6 L1891.7,975.4 L1892.7,986.8 L1893.7,999.0 L1894.7,1011.8 L1895.7,1025.2 L1896.7,1039.3 L1897.7,1054.0 L1898.7,1069.2 L1899.7,1084.9 L1900.7,1101.2 L1901.7,1117.9 L1902.7,1135.0 L1903.7,1152.5 L1904.7,1170.3 L1905.7,1188.4 L1906.7,1206.7 L1907.7,1225.3 L1908.7,1244.0 L1909.7,1262.8 L1910.7,1281.6 L1911.7,1298.4 L1912.7,1315.0 L1913.7,1331.5 L1914.7,1347.8 L1915.7,1364.0 L1916.7,1380.0 L1917.7,1395.7 L1918.7,1411.2 L1919.7,1426.3 L1920.7,1441.1 L1921.7,1455.4 L1922.7,1469.4 L1923.7,1482.9 L1924.7,1495.9 L1925.7,1508.4 L1926.7,1520.3 L1927.7,1531.7 L1928.7,1542.5 L1929.7,1552.7 L1930.7,1562.3 L1931.7,1571.3 L1932.7,1579.6 L1933.7,1587.2 L1934.7,1594.2 L1935.7,1600.5 L1936.7,1606.2 L1937.7,1611.2 L1938.7,1615.5 L1939.7,1619.1 L1940.7,1622.1 L1941.7,1624.5 L1942.7,1626.2 L1943.7,1627.3 L1944.7,1627.7 L1945.7,1627.6 L1946.7,1626.9 L1947.7,1625.7 L1948.7,1624.0 L1949.7,1621.7 L1950.7,1618.9 L1951.7,1615.7 L1952.7,1612.1 L1953.7,1608.0 L1954.7,1603.6 L1955.7,1598.7 L1956.7,1593.6 L1957.7,1588.2 L1958.7,1582.5 L1959.7,1576.6 L1960.7,1570.5 L1961.7,1564.2 L1962.7,1557.8 L1963.7,1551.2 L1964.7,1544.4 L1965.7,1537.6 L1966.7,1530.7 L1967.7,1523.8 L1968.7,1516.9 L1969.7,1510.0 L1970.7,1503.1 L1971.7,1496.2 L1972.7,1489.4 L1973.7,1482.6 L1974.7,1475.9 L1975.7,1469.2 L1976.7,1462.7 L1977.7,1456.3 L1978.7,1450.0 L1979.7,1443.8 L1980.7,1437.8 L1981.7,1431.9 L1982.7,1426.1 L1983.7,1420.5 L1984.7,1415.0 L1985.7,1409.7 L1986.7,1404.6 L1987.7,1399.6 L1988.7,1394.8 L1989.7,1390.2 L1990.7,1385.9 L1991.7,1381.7 L1992.7,1377.7 L1993.7,1373.9 L1994.7,1370.3 L1995.7,1366.9 L1996.7,1363.6 L1997.7,1360.5 L1998.7,1357.5 L1999.7,1354.7 L2000.7,1352.1 L2001.7,1349.6 L2002.7,1347.3 L2003.7,1345.0 L2004.7,1342.9 L2005.7,1340.8 L2006.7,1338.7 L2007.7,1336.8 L2008.7,1334.9 L2009.7,1333.2 L2010.7,1331.5 L2011.7,1330.0 L2012.7,1328.5 L2013.7,1327.1 L2014.7,1325.8 L2015.7,1324.6 L2016.7,1323.5 L2017.7,1322.5 L2018.7,1321.5 L2019.7,1320.6 L2020.7,1319.8 L2021.7,1319.0 L2022.7,1318.3 L2023.7,1317.6 L2024.7,1317.0 L2025.7,1316.5 L2026.7,1316.0 L2027.7,1315.5 L2028.7,1315.1 L2029.7,1314.7 L2030.7,1314.3 L2031.7,1314.0 L2032.7,1313.6 L2033.7,1313.3 L2034.7,1313.0 L2035.7,1312.7 L2036.7,1312.5 L2037.7,1312.2 L2038.7,1312.0 L2039.7,1311.8 L2040.7,1311.6 L2041.7,1311.5 L2042.7,1311.3 L2043.7,1311.2 L2044.7,1311.0 L2045.7,1310.9 L2046.7,1310.8 L2047.7,1310.7 L2048.7,1310.6 L2049.7,1310.5 L2050.7,1310.4 L2051.7,1310.3 L2052.7,1310.2 L2053.7,1310.2 L2054.7,1310.1 L2055.7,1310.0 L2056.7,1309.9 L2057.7,1309.8 L2058.7,1309.7 L2059.7,1309.5 L2060.7,1309.3 L2061.7,1309.1 L2062.7,1308.9 L2063.7,1308.6 L2064.7,1308.4 L2065.7,1308.1 L2066.7,1307.8 L2067.7,1307.5 L2068.7,1307.2 L2069.7,1306.8 L2070.7,1306.5 L2071.7,1306.1 L2072.7,1305.8 L2073.7,1305.4 L2074.7,1305.1 L2075.7,1304.7 L2076.7,1304.4 L2077.7,1304.0 L2078.7,1303.7 L2079.7,1303.4 L2080.7,1303.0 L2081.7,1302.6 L2082.7,1302.2 L2083.7,1301.8 L2084.7,1301.4 L2085.7,1301.0 L2086.7,1300.5 L2087.7,1300.1 L2088.7,1299.7 L2089.7,1299.2 L2090.7,1298.8 L2091.7,1298.4 L2092.7,1297.9 L2093.7,1297.5 L2094.7,1297.0 L2095.7,1296.5 L2096.7,1296.1 L2097.7,1295.6 L2098.7,1295.2 L2099.7,1294.8 L2100.7,1294.4 L2101.7,1294.1 L2102.7,1293.8 L2103.7,1293.5 L2104.7,1293.2 L2105.7,1293.0 L2106.7,1292.7 L2107.7,1292.5 L2108.7,1292.2 L2109.7,1292.0 L2110.7,1291.8 L2111.7,1291.6 L2112.7,1291.3 L2113.7,1291.1 L2114.7,1290.9 L2115.7,1290.7 L2116.7,1290.5 L2117.7,1290.3 L2118.7,1290.1 L2119.7,1289.9 L2120.7,1289.7 L2121.7,1289.5 L2122.7,1289.3 L2123.7,1289.1 L2124.7,1289.0 L2125.7,1288.8 L2126.7,1288.7 L2127.7,1288.6 L2128.7,1288.4 L2129.7,1288.3 L2130.7,1288.2 L2131.7,1288.1 L2132.7,1288.0 L2133.7,1287.9 L2134.7,1287.8 L2135.7,1287.7 L2136.7,1287.6 L2137.7,1287.5 L2138.7,1287.4 L2139.7,1287.3 L2140.7,1287.2 L2141.7,1287.2 L2142.7,1287.1 L2143.7,1287.0 L2144.7,1287.0 L2145.7,1286.9 L2146.7,1286.8 L2147.7,1286.8 L2148.7,1286.7 L2149.7,1286.7 L2150.7,1286.6 L2151.7,1286.6 L2152.7,1286.5 L2153.7,1286.5 L2154.7,1286.4 L2155.7,1286.4 L2156.7,1286.3 L2157.7,1286.3 L2158.7,1286.2 L2159.7,1286.2 L2160.7,1286.1 L2161.7,1286.1 L2162.7,1286.1 L2163.7,1286.0 L2164.7,1286.0 L2165.7,1285.9 L2166.7,1285.9 L2167.7,1285.9 L2168.7,1285.8 L2169.7,1285.8 L2170.7,1285.7 L2171.7,1285.7 L2172.7,1285.7 L2173.7,1285.6 L2174.7,1285.6 L2175.7,1285.6 L2176.7,1285.5 L2177.7,1285.5 L2178.7,1285.5 L2179.7,1285.4 L2180.7,1285.4 L2181.7,1285.4 L2182.7,1285.4 L2183.7,1285.3 L2184.7,1285.3 L2185.7,1285.3 L2186.7,1285.3 L2187.7,1285.3 L2188.7,1285.2 L2189.7,1285.2 L2190.7,1285.2 L2191.7,1285.2 L2192.7,1285.2 L2193.7,1285.1 L2194.7,1285.1 L2195.7,1285.1 L2196.7,1285.1 L2197.7,1285.1 L2198.7,1285.0 L2199.7,1285.0 L2200.7,1285.0 L2201.7,1285.0 L2202.7,1285.0 L2203.7,1285.0 L2204.7,1284.9 L2205.7,1284.9 L2206.7,1284.9 L2207.7,1284.9 L2208.7,1284.9 L2209.7,1284.9 L2210.7,1284.8 L2211.7,1284.8 L2212.7,1284.8 L2213.7,1284.8 L2214.7,1284.8 L2215.7,1284.8 L2216.7,1284.8 L2217.7,1284.8 L2218.7,1284.7 L2219.7,1284.7 L2220.7,1284.7 L2221.7,1284.7 L2222.7,1284.7 L2223.7,1284.7 L2224.7,1284.7 L2225.7,1284.7 L2226.7,1284.6 L2227.7,1284.6 L2228.7,1284.6 L2229.7,1284.6 L2230.7,1284.6 L2231.7,1284.6 L2232.7,1284.6 L2233.7,1284.6 L2234.7,1284.5 L2235.7,1284.5 L2236.7,1284.5 L2237.7,1284.5 L2238.7,1284.5 L2239.7,1284.5 L2240.7,1284.5 L2241.7,1284.5 L2242.7,1284.5 L2243.7,1284.4 L2244.7,1284.4 L2245.7,1284.4 L2246.7,1284.4 L2247.7,1284.4 L2248.7,1284.4 L2249.7,1284.4 L2250.7,1284.4 L2251.7,1284.4 L2252.7,1284.4 L2253.7,1284.3 L2254.7,1284.3 L2255.7,1284.3 L2256.7,1284.3 L2257.7,1284.3 L2258.7,1284.3 L2259.7,1284.3 L2260.7,1284.3 L2261.7,1284.3 L2262.7,1284.3 L2263.7,1284.2 L2264.7,1284.2 L2265.7,1284.2 L2266.7,1284.2 L2267.7,1284.2 L2268.7,1284.2 L2269.7,1284.2 L2270.7,1284.2 L2271.7,1284.2 L2272.7,1284.2 L2273.7,1284.2 L2274.7,1284.1 L2275.7,1284.1 L2276.7,1284.1 L2277.7,1284.1 L2278.7,1284.1 L2279.7,1284.1 L2280.7,1284.1 L2281.7,1284.1 L2282.7,1284.1 L2283.7,1284.1 L2284.7,1284.1 L2285.7,1284.1 L2286.7,1284.0 L2287.7,1284.0 L2288.7,1284.0 L2289.7,1284.0 L2290.7,1284.0 L2291.7,1284.0 L2292.7,1284.0 L2293.7,1284.0 L2294.7,1284.0 L2295.7,1284.0 L2296.7,1284.0 L2297.7,1284.0 L2298.7,1284.0 L2299.7,1284.0 L2300.7,1283.9 L2301.7,1283.9 L2302.7,1283.9 L2303.7,1283.9 L2304.7,1283.9 L2305.7,1283.9 L2306.7,1283.9 L2307.7,1283.9 L2308.7,1283.9 L2309.7,1283.9 L2310.7,1283.9 L2311.7,1283.9 L2312.7,1283.9 L2313.7,1283.9 L2314.7,1283.9 L2315.7,1283.9 L2316.7,1283.9 L2317.7,1283.9 L2318.7,1283.9 L2319.7,1283.8 L2320.7,1283.8 L2321.7,1283.8 L2322.7,1283.8 L2323.7,1283.8" stroke="#008000"/>
</g>
<line x1="190" y1="855.9" x2="2339" y2="855.9" stroke="#000" stroke-width="2.3"/>
<g stroke="#000" fill="none">
<line x1="170.95" y1="21.9" x2="170.95" y2="1794.2" stroke-width="6"/>
<line x1="167.95" y1="25.35" x2="2328" y2="25.35" stroke-width="6.9"/>
<line x1="2324.5" y1="21.9" x2="2324.5" y2="1794.2" stroke-width="7"/>
<line x1="167.95" y1="1760.15" x2="2328" y2="1760.15" stroke-width="7.1"/>
<line x1="601.6" y1="1760" x2="601.6" y2="1794.2" stroke-width="6"/>
<line x1="1032.3" y1="1760" x2="1032.3" y2="1794.2" stroke-width="6"/>
<line x1="1463.1" y1="1760" x2="1463.1" y2="1794.2" stroke-width="6"/>
<line x1="1893.8" y1="1760" x2="1893.8" y2="1794.2" stroke-width="6"/>
<line x1="386.3" y1="1760" x2="386.3" y2="1776.7" stroke-width="6"/>
<line x1="817.0" y1="1760" x2="817.0" y2="1776.7" stroke-width="6"/>
<line x1="1247.7" y1="1760" x2="1247.7" y2="1776.7" stroke-width="6"/>
<line x1="1678.4" y1="1760" x2="1678.4" y2="1776.7" stroke-width="6"/>
<line x1="2109.1" y1="1760" x2="2109.1" y2="1776.7" stroke-width="6"/>
</g>
<g stroke-width="6.25" stroke-linecap="round" fill="none">
<line x1="219.8" y1="1693.3" x2="323" y2="1693.3" stroke="#000"/>
<line x1="822" y1="1693.3" x2="925" y2="1693.3" stroke="#f00"/>
<line x1="1402.5" y1="1693.3" x2="1505" y2="1693.3" stroke="#00f"/>
<line x1="1982.4" y1="1693.3" x2="2084.7" y2="1693.3" stroke="#008000"/>
</g>
<g font-family="Liberation Sans, Arial, sans-serif" fill="#000" stroke="#000" stroke-width="0.4" stroke-linejoin="round">
<text transform="translate(170.9,1856) scale(1,1.025)" font-size="49.4" text-anchor="middle">3340</text>
<text transform="translate(601.6,1856) scale(1,1.025)" font-size="49.4" text-anchor="middle">3350</text>
<text transform="translate(1032.3,1856) scale(1,1.025)" font-size="49.4" text-anchor="middle">3360</text>
<text transform="translate(1463.1,1856) scale(1,1.025)" font-size="49.4" text-anchor="middle">3370</text>
<text transform="translate(1893.8,1856) scale(1,1.025)" font-size="49.4" text-anchor="middle">3380</text>
<text transform="translate(2324.5,1856) scale(1,1.025)" font-size="49.4" text-anchor="middle">3390</text>
<text x="1249" y="1951.2" font-size="58.05" text-anchor="middle">Magnetic field (G)</text>
<text transform="translate(84.2,889) rotate(-90)" font-size="58.33" text-anchor="middle">EPR signal intensity (a.u.)</text>
<text transform="translate(0,114.0) scale(1,1.02)" x="484" y="0" font-size="49.4">TEMPO/ClO<tspan font-size="33.5" x="757.0" y="12.16">2</tspan><tspan x="789.3" y="0">1:1 (pH 8)</tspan></text>
<text transform="translate(0,956.2) scale(1,1.02)" x="494" y="0" font-size="49.4">TEMPO/ClO<tspan font-size="33.5" x="767.0" y="12.16">2</tspan><tspan x="799.3" y="0">1:2 (pH 8)</tspan></text>
<text transform="translate(0,1709.0) scale(1,1.06)" x="337.4" y="0" font-size="47.1">TEMPO/ClO<tspan font-size="31.5" x="598.3" y="12.08">2</tspan><tspan x="629" y="0">instant</tspan></text>
<text transform="translate(0,1709.0) scale(1,1.06)" x="939.8" y="0" font-size="47.1">TEMPO/ClO<tspan font-size="31.5" x="1200.8" y="12.08">2</tspan><tspan x="1233.2" y="0">3 min</tspan></text>
<text transform="translate(0,1709.0) scale(1,1.06)" x="1519.5" y="0" font-size="47.1">TEMPO/ClO<tspan font-size="31.5" x="1780.5" y="12.08">2</tspan><tspan x="1811.5" y="0">5 min</tspan></text>
<text transform="translate(0,1709) scale(1,1.06)" x="2099.3" y="0" font-size="47.1">TEMPO</text>
</g>
</svg></body></html>
